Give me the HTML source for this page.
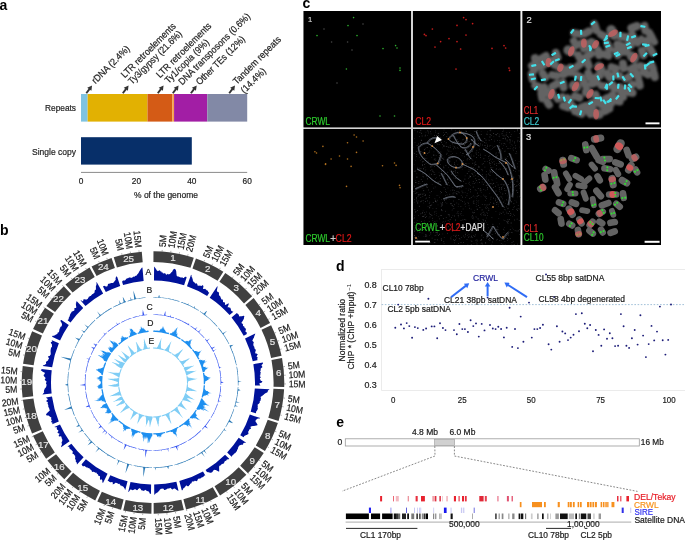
<!DOCTYPE html>
<html><head><meta charset="utf-8"><style>
html,body{margin:0;padding:0;background:#fff;}
svg{display:block;font-family:"Liberation Sans",sans-serif;will-change:transform;}
</style></head><body>
<svg width="685" height="540" viewBox="0 0 685 540">
<rect width="685" height="540" fill="#fff"/>
<text x="-0.60" y="10.20" font-size="14" fill="#000" font-weight="bold">a</text>
<rect x="81.00" y="94" width="6.65" height="27.6" fill="#7fc3e1"/>
<rect x="87.65" y="94" width="59.83" height="27.6" fill="#e2b102"/>
<rect x="147.48" y="94" width="24.93" height="27.6" fill="#d45b16"/>
<rect x="172.41" y="94" width="1.66" height="27.6" fill="#f6a24a"/>
<rect x="174.07" y="94" width="33.24" height="27.6" fill="#a21ea5"/>
<rect x="207.31" y="94" width="39.89" height="27.6" fill="#8289a6"/>
<rect x="81.0" y="137.2" width="110.80" height="27.4" fill="#072f69"/>
<line x1="81.0" y1="172.4" x2="247.20" y2="172.4" stroke="#8a8a8a" stroke-width="1"/>
<text x="81.00" y="184.46" font-size="8.3" fill="#222" stroke="#222" stroke-width="0.2" text-anchor="middle">0</text>
<text x="136.40" y="184.46" font-size="8.3" fill="#222" stroke="#222" stroke-width="0.2" text-anchor="middle">20</text>
<text x="191.80" y="184.46" font-size="8.3" fill="#222" stroke="#222" stroke-width="0.2" text-anchor="middle">40</text>
<text x="247.20" y="184.46" font-size="8.3" fill="#222" stroke="#222" stroke-width="0.2" text-anchor="middle">60</text>
<text x="166.00" y="197.96" font-size="8.6" fill="#222" stroke="#222" stroke-width="0.2" text-anchor="middle" textLength="64.00" lengthAdjust="spacingAndGlyphs">% of the genome</text>
<text x="76.00" y="111.33" font-size="9.4" fill="#222" stroke="#222" stroke-width="0.2" text-anchor="end" textLength="31.00" lengthAdjust="spacingAndGlyphs">Repeats</text>
<text x="76.00" y="155.03" font-size="9.4" fill="#222" stroke="#222" stroke-width="0.2" text-anchor="end" textLength="44.00" lengthAdjust="spacingAndGlyphs">Single copy</text>
<text transform="translate(95.40,84.30) rotate(-45)" font-size="9.6" fill="#222" stroke="#222" stroke-width="0.2" textLength="49.4" lengthAdjust="spacingAndGlyphs">rDNA (2.4%)</text>
<text transform="translate(124.70,78.60) rotate(-45)" font-size="9.6" fill="#222" stroke="#222" stroke-width="0.2" textLength="73.3" lengthAdjust="spacingAndGlyphs">LTR retroelements</text>
<text transform="translate(132.00,85.00) rotate(-45)" font-size="9.6" fill="#222" stroke="#222" stroke-width="0.2" textLength="71.4" lengthAdjust="spacingAndGlyphs">Ty3/gypsy (21.6%)</text>
<text transform="translate(159.90,78.60) rotate(-45)" font-size="9.6" fill="#222" stroke="#222" stroke-width="0.2" textLength="73.6" lengthAdjust="spacingAndGlyphs">LTR retroelements</text>
<text transform="translate(168.60,84.10) rotate(-45)" font-size="9.6" fill="#222" stroke="#222" stroke-width="0.2" textLength="58.2" lengthAdjust="spacingAndGlyphs">Ty1/copia (9%)</text>
<text transform="translate(182.20,85.60) rotate(-45)" font-size="9.6" fill="#222" stroke="#222" stroke-width="0.2" textLength="97" lengthAdjust="spacingAndGlyphs">DNA transposons (0.6%)</text>
<text transform="translate(199.80,85.60) rotate(-45)" font-size="9.6" fill="#222" stroke="#222" stroke-width="0.2" textLength="64.8" lengthAdjust="spacingAndGlyphs">Other TEs (12%)</text>
<text transform="translate(236.80,85.00) rotate(-45)" font-size="9.6" fill="#222" stroke="#222" stroke-width="0.2" textLength="63.3" lengthAdjust="spacingAndGlyphs">Tandem repeats</text>
<text transform="translate(244.40,93.90) rotate(-45)" font-size="9.6" fill="#222" stroke="#222" stroke-width="0.2" textLength="31.5" lengthAdjust="spacingAndGlyphs">(14.4%)</text>
<line x1="86.30" y1="93.20" x2="89.61" y2="88.81" stroke="#333" stroke-width="1.9"/>
<polygon points="92.08,85.53 91.39,90.77 87.23,87.64" fill="#333"/>
<line x1="122.80" y1="93.20" x2="126.11" y2="88.81" stroke="#333" stroke-width="1.9"/>
<polygon points="128.58,85.53 127.89,90.77 123.73,87.64" fill="#333"/>
<line x1="157.80" y1="93.20" x2="161.11" y2="88.81" stroke="#333" stroke-width="1.9"/>
<polygon points="163.58,85.53 162.89,90.77 158.73,87.64" fill="#333"/>
<line x1="172.80" y1="93.20" x2="176.11" y2="88.81" stroke="#333" stroke-width="1.9"/>
<polygon points="178.58,85.53 177.89,90.77 173.73,87.64" fill="#333"/>
<line x1="190.90" y1="93.20" x2="194.21" y2="88.81" stroke="#333" stroke-width="1.9"/>
<polygon points="196.68,85.53 195.99,90.77 191.83,87.64" fill="#333"/>
<line x1="229.20" y1="93.20" x2="232.51" y2="88.81" stroke="#333" stroke-width="1.9"/>
<polygon points="234.98,85.53 234.29,90.77 230.13,87.64" fill="#333"/>
<text x="0.00" y="235.00" font-size="14" fill="#000" font-weight="bold">b</text>
<path d="M153.46,251.20 A131.3,131.3 0 0 1 193.79,257.70 L190.47,267.87 A120.6,120.6 0 0 0 153.42,261.90 Z M195.96,258.43 A131.3,131.3 0 0 1 223.35,271.64 L217.62,280.67 A120.6,120.6 0 0 0 192.46,268.54 Z M225.28,272.88 A131.3,131.3 0 0 1 252.09,296.36 L244.02,303.38 A120.6,120.6 0 0 0 219.39,281.82 Z M253.58,298.10 A131.3,131.3 0 0 1 270.09,323.10 L260.55,327.94 A120.6,120.6 0 0 0 245.38,304.98 Z M271.11,325.15 A131.3,131.3 0 0 1 281.57,355.87 L271.09,358.04 A120.6,120.6 0 0 0 261.49,329.82 Z M282.02,358.12 A131.3,131.3 0 0 1 284.22,387.08 L273.53,386.71 A120.6,120.6 0 0 0 271.50,360.11 Z M284.12,389.37 A131.3,131.3 0 0 1 278.56,420.89 L268.33,417.76 A120.6,120.6 0 0 0 273.43,388.81 Z M277.87,423.07 A131.3,131.3 0 0 1 264.95,451.10 L255.83,445.51 A120.6,120.6 0 0 0 267.70,419.77 Z M263.74,453.05 A131.3,131.3 0 0 1 247.93,473.21 L240.19,465.82 A120.6,120.6 0 0 0 254.71,447.30 Z M246.33,474.86 A131.3,131.3 0 0 1 220.03,495.40 L214.57,486.20 A120.6,120.6 0 0 0 238.72,467.33 Z M218.05,496.55 A131.3,131.3 0 0 1 186.10,509.56 L183.40,499.21 A120.6,120.6 0 0 0 212.75,487.26 Z M183.87,510.12 A131.3,131.3 0 0 1 153.69,513.80 L153.63,503.10 A120.6,120.6 0 0 0 181.36,499.72 Z M151.40,513.79 A131.3,131.3 0 0 1 123.24,510.38 L125.67,499.96 A120.6,120.6 0 0 0 151.53,503.09 Z M121.01,509.84 A131.3,131.3 0 0 1 97.30,501.40 L101.84,491.71 A120.6,120.6 0 0 0 123.62,499.47 Z M95.24,500.41 A131.3,131.3 0 0 1 66.00,480.84 L73.09,472.82 A120.6,120.6 0 0 0 99.94,490.80 Z M64.30,479.30 A131.3,131.3 0 0 1 47.45,460.60 L56.05,454.24 A120.6,120.6 0 0 0 71.52,471.42 Z M46.11,458.75 A131.3,131.3 0 0 1 32.96,435.70 L42.74,431.36 A120.6,120.6 0 0 0 54.82,452.53 Z M32.05,433.59 A131.3,131.3 0 0 1 22.85,399.87 L33.46,398.45 A120.6,120.6 0 0 0 41.91,429.43 Z M22.57,397.59 A131.3,131.3 0 0 1 22.74,366.04 L33.35,367.38 A120.6,120.6 0 0 0 33.20,396.36 Z M23.04,363.77 A131.3,131.3 0 0 1 32.14,331.20 L41.99,335.38 A120.6,120.6 0 0 0 33.63,365.30 Z M33.05,329.10 A131.3,131.3 0 0 1 45.05,307.75 L53.85,313.84 A120.6,120.6 0 0 0 42.83,333.45 Z M46.37,305.88 A131.3,131.3 0 0 1 63.79,286.16 L71.06,294.01 A120.6,120.6 0 0 0 55.06,312.12 Z M65.48,284.62 A131.3,131.3 0 0 1 89.55,267.55 L94.72,276.92 A120.6,120.6 0 0 0 72.62,292.60 Z M91.56,266.46 A131.3,131.3 0 0 1 111.56,257.91 L114.93,268.07 A120.6,120.6 0 0 0 96.57,275.92 Z M113.74,257.21 A131.3,131.3 0 0 1 141.78,251.68 L142.70,262.34 A120.6,120.6 0 0 0 116.94,267.42 Z" fill="#404040"/>
<text x="173.07" y="261.28" font-size="9.8" fill="#e6e6e6" stroke="#e6e6e6" stroke-width="0.2" text-anchor="middle">1</text>
<text x="207.83" y="272.20" font-size="9.8" fill="#e6e6e6" stroke="#e6e6e6" stroke-width="0.2" text-anchor="middle">2</text>
<text x="236.13" y="290.92" font-size="9.8" fill="#e6e6e6" stroke="#e6e6e6" stroke-width="0.2" text-anchor="middle">3</text>
<text x="258.30" y="316.31" font-size="9.8" fill="#e6e6e6" stroke="#e6e6e6" stroke-width="0.2" text-anchor="middle">4</text>
<text x="272.47" y="345.20" font-size="9.8" fill="#e6e6e6" stroke="#e6e6e6" stroke-width="0.2" text-anchor="middle">5</text>
<text x="278.84" y="376.30" font-size="9.8" fill="#e6e6e6" stroke="#e6e6e6" stroke-width="0.2" text-anchor="middle">6</text>
<text x="277.28" y="407.79" font-size="9.8" fill="#e6e6e6" stroke="#e6e6e6" stroke-width="0.2" text-anchor="middle">7</text>
<text x="267.61" y="438.71" font-size="9.8" fill="#e6e6e6" stroke="#e6e6e6" stroke-width="0.2" text-anchor="middle">8</text>
<text x="252.31" y="463.74" font-size="9.8" fill="#e6e6e6" stroke="#e6e6e6" stroke-width="0.2" text-anchor="middle">9</text>
<text x="230.70" y="485.32" font-size="9.8" fill="#e6e6e6" stroke="#e6e6e6" stroke-width="0.2" text-anchor="middle">10</text>
<text x="200.58" y="502.76" font-size="9.8" fill="#e6e6e6" stroke="#e6e6e6" stroke-width="0.2" text-anchor="middle">11</text>
<text x="168.27" y="511.14" font-size="9.8" fill="#e6e6e6" stroke="#e6e6e6" stroke-width="0.2" text-anchor="middle">12</text>
<text x="137.84" y="511.16" font-size="9.8" fill="#e6e6e6" stroke="#e6e6e6" stroke-width="0.2" text-anchor="middle">13</text>
<text x="110.67" y="504.76" font-size="9.8" fill="#e6e6e6" stroke="#e6e6e6" stroke-width="0.2" text-anchor="middle">14</text>
<text x="82.80" y="490.74" font-size="9.8" fill="#e6e6e6" stroke="#e6e6e6" stroke-width="0.2" text-anchor="middle">15</text>
<text x="59.22" y="470.32" font-size="9.8" fill="#e6e6e6" stroke="#e6e6e6" stroke-width="0.2" text-anchor="middle">16</text>
<text x="43.38" y="448.40" font-size="9.8" fill="#e6e6e6" stroke="#e6e6e6" stroke-width="0.2" text-anchor="middle">17</text>
<text x="31.24" y="419.07" font-size="9.8" fill="#e6e6e6" stroke="#e6e6e6" stroke-width="0.2" text-anchor="middle">18</text>
<text x="26.80" y="385.21" font-size="9.8" fill="#e6e6e6" stroke="#e6e6e6" stroke-width="0.2" text-anchor="middle">19</text>
<text x="31.45" y="351.93" font-size="9.8" fill="#e6e6e6" stroke="#e6e6e6" stroke-width="0.2" text-anchor="middle">20</text>
<text x="43.00" y="324.02" font-size="9.8" fill="#e6e6e6" stroke="#e6e6e6" stroke-width="0.2" text-anchor="middle">21</text>
<text x="58.41" y="302.33" font-size="9.8" fill="#e6e6e6" stroke="#e6e6e6" stroke-width="0.2" text-anchor="middle">22</text>
<text x="79.98" y="282.94" font-size="9.8" fill="#e6e6e6" stroke="#e6e6e6" stroke-width="0.2" text-anchor="middle">23</text>
<text x="103.39" y="269.83" font-size="9.8" fill="#e6e6e6" stroke="#e6e6e6" stroke-width="0.2" text-anchor="middle">24</text>
<text x="128.60" y="262.05" font-size="9.8" fill="#e6e6e6" stroke="#e6e6e6" stroke-width="0.2" text-anchor="middle">25</text>
<text transform="translate(162.41,247.03) rotate(-86.03)" font-size="9.6" fill="#1a1a1a" stroke="#1a1a1a" stroke-width="0.2" dy="3.3" textLength="12.00" lengthAdjust="spacingAndGlyphs">5M</text>
<text transform="translate(171.31,247.94) rotate(-82.25)" font-size="9.6" fill="#1a1a1a" stroke="#1a1a1a" stroke-width="0.2" dy="3.3" textLength="16.81" lengthAdjust="spacingAndGlyphs">10M</text>
<text transform="translate(180.13,249.44) rotate(-78.47)" font-size="9.6" fill="#1a1a1a" stroke="#1a1a1a" stroke-width="0.2" dy="3.3" textLength="16.81" lengthAdjust="spacingAndGlyphs">15M</text>
<text transform="translate(188.83,251.51) rotate(-74.70)" font-size="9.6" fill="#1a1a1a" stroke="#1a1a1a" stroke-width="0.2" dy="3.3" textLength="16.81" lengthAdjust="spacingAndGlyphs">20M</text>
<text transform="translate(205.79,257.38) rotate(-67.12)" font-size="9.6" fill="#1a1a1a" stroke="#1a1a1a" stroke-width="0.2" dy="3.3" textLength="12.00" lengthAdjust="spacingAndGlyphs">5M</text>
<text transform="translate(213.91,261.13) rotate(-63.35)" font-size="9.6" fill="#1a1a1a" stroke="#1a1a1a" stroke-width="0.2" dy="3.3" textLength="16.81" lengthAdjust="spacingAndGlyphs">10M</text>
<text transform="translate(221.77,265.40) rotate(-59.58)" font-size="9.6" fill="#1a1a1a" stroke="#1a1a1a" stroke-width="0.2" dy="3.3" textLength="16.81" lengthAdjust="spacingAndGlyphs">15M</text>
<text transform="translate(235.06,274.30) rotate(-52.83)" font-size="9.6" fill="#1a1a1a" stroke="#1a1a1a" stroke-width="0.2" dy="3.3" textLength="12.00" lengthAdjust="spacingAndGlyphs">5M</text>
<text transform="translate(242.00,279.93) rotate(-49.05)" font-size="9.6" fill="#1a1a1a" stroke="#1a1a1a" stroke-width="0.2" dy="3.3" textLength="16.81" lengthAdjust="spacingAndGlyphs">10M</text>
<text transform="translate(248.56,286.02) rotate(-45.28)" font-size="9.6" fill="#1a1a1a" stroke="#1a1a1a" stroke-width="0.2" dy="3.3" textLength="16.81" lengthAdjust="spacingAndGlyphs">15M</text>
<text transform="translate(254.71,292.52) rotate(-41.50)" font-size="9.6" fill="#1a1a1a" stroke="#1a1a1a" stroke-width="0.2" dy="3.3" textLength="16.81" lengthAdjust="spacingAndGlyphs">20M</text>
<text transform="translate(262.55,302.25) rotate(-36.23)" font-size="9.6" fill="#1a1a1a" stroke="#1a1a1a" stroke-width="0.2" dy="3.3" textLength="12.00" lengthAdjust="spacingAndGlyphs">5M</text>
<text transform="translate(267.60,309.63) rotate(-32.45)" font-size="9.6" fill="#1a1a1a" stroke="#1a1a1a" stroke-width="0.2" dy="3.3" textLength="16.81" lengthAdjust="spacingAndGlyphs">10M</text>
<text transform="translate(272.14,317.34) rotate(-28.67)" font-size="9.6" fill="#1a1a1a" stroke="#1a1a1a" stroke-width="0.2" dy="3.3" textLength="16.81" lengthAdjust="spacingAndGlyphs">15M</text>
<text transform="translate(278.80,331.35) rotate(-22.12)" font-size="9.6" fill="#1a1a1a" stroke="#1a1a1a" stroke-width="0.2" dy="3.3" textLength="12.00" lengthAdjust="spacingAndGlyphs">5M</text>
<text transform="translate(281.89,339.75) rotate(-18.35)" font-size="9.6" fill="#1a1a1a" stroke="#1a1a1a" stroke-width="0.2" dy="3.3" textLength="16.81" lengthAdjust="spacingAndGlyphs">10M</text>
<text transform="translate(284.43,348.33) rotate(-14.58)" font-size="9.6" fill="#1a1a1a" stroke="#1a1a1a" stroke-width="0.2" dy="3.3" textLength="16.81" lengthAdjust="spacingAndGlyphs">15M</text>
<text transform="translate(287.81,366.13) rotate(-6.92)" font-size="9.6" fill="#1a1a1a" stroke="#1a1a1a" stroke-width="0.2" dy="3.3" textLength="12.00" lengthAdjust="spacingAndGlyphs">5M</text>
<text transform="translate(288.59,375.04) rotate(-3.15)" font-size="9.6" fill="#1a1a1a" stroke="#1a1a1a" stroke-width="0.2" dy="3.3" textLength="16.81" lengthAdjust="spacingAndGlyphs">10M</text>
<text transform="translate(288.79,383.98) rotate(0.62)" font-size="9.6" fill="#1a1a1a" stroke="#1a1a1a" stroke-width="0.2" dy="3.3" textLength="16.81" lengthAdjust="spacingAndGlyphs">15M</text>
<text transform="translate(287.85,398.52) rotate(6.78)" font-size="9.6" fill="#1a1a1a" stroke="#1a1a1a" stroke-width="0.2" dy="3.3" textLength="12.00" lengthAdjust="spacingAndGlyphs">5M</text>
<text transform="translate(286.50,407.36) rotate(10.55)" font-size="9.6" fill="#1a1a1a" stroke="#1a1a1a" stroke-width="0.2" dy="3.3" textLength="16.81" lengthAdjust="spacingAndGlyphs">10M</text>
<text transform="translate(284.58,416.10) rotate(14.33)" font-size="9.6" fill="#1a1a1a" stroke="#1a1a1a" stroke-width="0.2" dy="3.3" textLength="16.81" lengthAdjust="spacingAndGlyphs">15M</text>
<text transform="translate(279.11,432.88) rotate(21.78)" font-size="9.6" fill="#1a1a1a" stroke="#1a1a1a" stroke-width="0.2" dy="3.3" textLength="12.00" lengthAdjust="spacingAndGlyphs">5M</text>
<text transform="translate(275.52,441.07) rotate(25.55)" font-size="9.6" fill="#1a1a1a" stroke="#1a1a1a" stroke-width="0.2" dy="3.3" textLength="16.81" lengthAdjust="spacingAndGlyphs">10M</text>
<text transform="translate(271.40,449.01) rotate(29.33)" font-size="9.6" fill="#1a1a1a" stroke="#1a1a1a" stroke-width="0.2" dy="3.3" textLength="16.81" lengthAdjust="spacingAndGlyphs">15M</text>
<text transform="translate(262.61,462.67) rotate(36.18)" font-size="9.6" fill="#1a1a1a" stroke="#1a1a1a" stroke-width="0.2" dy="3.3" textLength="12.00" lengthAdjust="spacingAndGlyphs">5M</text>
<text transform="translate(257.23,469.55) rotate(39.87)" font-size="9.6" fill="#1a1a1a" stroke="#1a1a1a" stroke-width="0.2" dy="3.3" textLength="16.81" lengthAdjust="spacingAndGlyphs">10M</text>
<text transform="translate(251.42,476.06) rotate(43.55)" font-size="9.6" fill="#1a1a1a" stroke="#1a1a1a" stroke-width="0.2" dy="3.3" textLength="16.81" lengthAdjust="spacingAndGlyphs">15M</text>
<text transform="translate(243.03,484.17) rotate(48.47)" font-size="9.6" fill="#1a1a1a" stroke="#1a1a1a" stroke-width="0.2" dy="3.3" textLength="12.00" lengthAdjust="spacingAndGlyphs">5M</text>
<text transform="translate(236.14,489.88) rotate(52.25)" font-size="9.6" fill="#1a1a1a" stroke="#1a1a1a" stroke-width="0.2" dy="3.3" textLength="16.81" lengthAdjust="spacingAndGlyphs">10M</text>
<text transform="translate(228.89,495.12) rotate(56.02)" font-size="9.6" fill="#1a1a1a" stroke="#1a1a1a" stroke-width="0.2" dy="3.3" textLength="16.81" lengthAdjust="spacingAndGlyphs">15M</text>
<text transform="translate(212.45,504.60) rotate(64.04)" font-size="9.6" fill="#1a1a1a" stroke="#1a1a1a" stroke-width="0.2" dy="3.3" textLength="12.00" lengthAdjust="spacingAndGlyphs">5M</text>
<text transform="translate(204.37,508.21) rotate(67.78)" font-size="9.6" fill="#1a1a1a" stroke="#1a1a1a" stroke-width="0.2" dy="3.3" textLength="16.81" lengthAdjust="spacingAndGlyphs">10M</text>
<text transform="translate(196.06,511.29) rotate(71.51)" font-size="9.6" fill="#1a1a1a" stroke="#1a1a1a" stroke-width="0.2" dy="3.3" textLength="16.81" lengthAdjust="spacingAndGlyphs">15M</text>
<text transform="translate(187.57,513.82) rotate(75.25)" font-size="9.6" fill="#1a1a1a" stroke="#1a1a1a" stroke-width="0.2" dy="3.3" textLength="16.81" lengthAdjust="spacingAndGlyphs">20M</text>
<text transform="translate(176.17,516.31) rotate(80.18)" font-size="9.6" fill="#1a1a1a" stroke="#1a1a1a" stroke-width="0.2" dy="3.3" textLength="12.00" lengthAdjust="spacingAndGlyphs">5M</text>
<text transform="translate(167.31,517.54) rotate(83.95)" font-size="9.6" fill="#1a1a1a" stroke="#1a1a1a" stroke-width="0.2" dy="3.3" textLength="16.81" lengthAdjust="spacingAndGlyphs">10M</text>
<text transform="translate(158.39,518.19) rotate(87.72)" font-size="9.6" fill="#1a1a1a" stroke="#1a1a1a" stroke-width="0.2" dy="3.3" textLength="16.81" lengthAdjust="spacingAndGlyphs">15M</text>
<text transform="translate(142.40,517.89) rotate(274.48)" font-size="9.6" fill="#1a1a1a" stroke="#1a1a1a" stroke-width="0.2" dy="3.3" text-anchor="end" textLength="12.00" lengthAdjust="spacingAndGlyphs">5M</text>
<text transform="translate(133.51,516.89) rotate(278.25)" font-size="9.6" fill="#1a1a1a" stroke="#1a1a1a" stroke-width="0.2" dy="3.3" text-anchor="end" textLength="16.81" lengthAdjust="spacingAndGlyphs">10M</text>
<text transform="translate(124.71,515.32) rotate(282.02)" font-size="9.6" fill="#1a1a1a" stroke="#1a1a1a" stroke-width="0.2" dy="3.3" text-anchor="end" textLength="16.81" lengthAdjust="spacingAndGlyphs">15M</text>
<text transform="translate(111.32,511.74) rotate(287.88)" font-size="9.6" fill="#1a1a1a" stroke="#1a1a1a" stroke-width="0.2" dy="3.3" text-anchor="end" textLength="12.00" lengthAdjust="spacingAndGlyphs">5M</text>
<text transform="translate(102.90,508.72) rotate(291.65)" font-size="9.6" fill="#1a1a1a" stroke="#1a1a1a" stroke-width="0.2" dy="3.3" text-anchor="end" textLength="16.81" lengthAdjust="spacingAndGlyphs">10M</text>
<text transform="translate(85.36,500.25) rotate(299.88)" font-size="9.6" fill="#1a1a1a" stroke="#1a1a1a" stroke-width="0.2" dy="3.3" text-anchor="end" textLength="12.00" lengthAdjust="spacingAndGlyphs">5M</text>
<text transform="translate(77.75,495.55) rotate(303.65)" font-size="9.6" fill="#1a1a1a" stroke="#1a1a1a" stroke-width="0.2" dy="3.3" text-anchor="end" textLength="16.81" lengthAdjust="spacingAndGlyphs">10M</text>
<text transform="translate(70.47,490.35) rotate(307.42)" font-size="9.6" fill="#1a1a1a" stroke="#1a1a1a" stroke-width="0.2" dy="3.3" text-anchor="end" textLength="16.81" lengthAdjust="spacingAndGlyphs">15M</text>
<text transform="translate(63.55,484.68) rotate(311.20)" font-size="9.6" fill="#1a1a1a" stroke="#1a1a1a" stroke-width="0.2" dy="3.3" text-anchor="end" textLength="16.81" lengthAdjust="spacingAndGlyphs">20M</text>
<text transform="translate(54.86,476.36) rotate(316.27)" font-size="9.6" fill="#1a1a1a" stroke="#1a1a1a" stroke-width="0.2" dy="3.3" text-anchor="end" textLength="12.00" lengthAdjust="spacingAndGlyphs">5M</text>
<text transform="translate(48.90,469.70) rotate(320.05)" font-size="9.6" fill="#1a1a1a" stroke="#1a1a1a" stroke-width="0.2" dy="3.3" text-anchor="end" textLength="16.81" lengthAdjust="spacingAndGlyphs">10M</text>
<text transform="translate(37.49,453.91) rotate(328.27)" font-size="9.6" fill="#1a1a1a" stroke="#1a1a1a" stroke-width="0.2" dy="3.3" text-anchor="end" textLength="12.00" lengthAdjust="spacingAndGlyphs">5M</text>
<text transform="translate(33.04,446.15) rotate(332.05)" font-size="9.6" fill="#1a1a1a" stroke="#1a1a1a" stroke-width="0.2" dy="3.3" text-anchor="end" textLength="16.81" lengthAdjust="spacingAndGlyphs">10M</text>
<text transform="translate(29.11,438.11) rotate(335.82)" font-size="9.6" fill="#1a1a1a" stroke="#1a1a1a" stroke-width="0.2" dy="3.3" text-anchor="end" textLength="16.81" lengthAdjust="spacingAndGlyphs">15M</text>
<text transform="translate(24.70,426.99) rotate(340.88)" font-size="9.6" fill="#1a1a1a" stroke="#1a1a1a" stroke-width="0.2" dy="3.3" text-anchor="end" textLength="12.00" lengthAdjust="spacingAndGlyphs">5M</text>
<text transform="translate(22.04,418.45) rotate(344.65)" font-size="9.6" fill="#1a1a1a" stroke="#1a1a1a" stroke-width="0.2" dy="3.3" text-anchor="end" textLength="16.81" lengthAdjust="spacingAndGlyphs">10M</text>
<text transform="translate(19.96,409.75) rotate(348.43)" font-size="9.6" fill="#1a1a1a" stroke="#1a1a1a" stroke-width="0.2" dy="3.3" text-anchor="end" textLength="16.81" lengthAdjust="spacingAndGlyphs">15M</text>
<text transform="translate(18.46,400.93) rotate(352.20)" font-size="9.6" fill="#1a1a1a" stroke="#1a1a1a" stroke-width="0.2" dy="3.3" text-anchor="end" textLength="16.81" lengthAdjust="spacingAndGlyphs">20M</text>
<text transform="translate(17.37,389.19) rotate(357.17)" font-size="9.6" fill="#1a1a1a" stroke="#1a1a1a" stroke-width="0.2" dy="3.3" text-anchor="end" textLength="12.00" lengthAdjust="spacingAndGlyphs">5M</text>
<text transform="translate(17.22,380.25) rotate(360.95)" font-size="9.6" fill="#1a1a1a" stroke="#1a1a1a" stroke-width="0.2" dy="3.3" text-anchor="end" textLength="16.81" lengthAdjust="spacingAndGlyphs">10M</text>
<text transform="translate(17.66,371.31) rotate(364.72)" font-size="9.6" fill="#1a1a1a" stroke="#1a1a1a" stroke-width="0.2" dy="3.3" text-anchor="end" textLength="16.81" lengthAdjust="spacingAndGlyphs">15M</text>
<text transform="translate(20.16,354.32) rotate(371.97)" font-size="9.6" fill="#1a1a1a" stroke="#1a1a1a" stroke-width="0.2" dy="3.3" text-anchor="end" textLength="12.00" lengthAdjust="spacingAndGlyphs">5M</text>
<text transform="translate(22.30,345.64) rotate(375.75)" font-size="9.6" fill="#1a1a1a" stroke="#1a1a1a" stroke-width="0.2" dy="3.3" text-anchor="end" textLength="16.81" lengthAdjust="spacingAndGlyphs">10M</text>
<text transform="translate(25.01,337.11) rotate(379.52)" font-size="9.6" fill="#1a1a1a" stroke="#1a1a1a" stroke-width="0.2" dy="3.3" text-anchor="end" textLength="16.81" lengthAdjust="spacingAndGlyphs">15M</text>
<text transform="translate(32.56,319.76) rotate(387.52)" font-size="9.6" fill="#1a1a1a" stroke="#1a1a1a" stroke-width="0.2" dy="3.3" text-anchor="end" textLength="12.00" lengthAdjust="spacingAndGlyphs">5M</text>
<text transform="translate(36.64,312.49) rotate(391.03)" font-size="9.6" fill="#1a1a1a" stroke="#1a1a1a" stroke-width="0.2" dy="3.3" text-anchor="end" textLength="16.81" lengthAdjust="spacingAndGlyphs">10M</text>
<text transform="translate(41.15,305.48) rotate(394.55)" font-size="9.6" fill="#1a1a1a" stroke="#1a1a1a" stroke-width="0.2" dy="3.3" text-anchor="end" textLength="16.81" lengthAdjust="spacingAndGlyphs">15M</text>
<text transform="translate(48.18,296.17) rotate(399.47)" font-size="9.6" fill="#1a1a1a" stroke="#1a1a1a" stroke-width="0.2" dy="3.3" text-anchor="end" textLength="12.00" lengthAdjust="spacingAndGlyphs">5M</text>
<text transform="translate(54.09,289.45) rotate(403.25)" font-size="9.6" fill="#1a1a1a" stroke="#1a1a1a" stroke-width="0.2" dy="3.3" text-anchor="end" textLength="16.81" lengthAdjust="spacingAndGlyphs">10M</text>
<text transform="translate(60.43,283.14) rotate(407.02)" font-size="9.6" fill="#1a1a1a" stroke="#1a1a1a" stroke-width="0.2" dy="3.3" text-anchor="end" textLength="16.81" lengthAdjust="spacingAndGlyphs">15M</text>
<text transform="translate(69.35,275.52) rotate(411.97)" font-size="9.6" fill="#1a1a1a" stroke="#1a1a1a" stroke-width="0.2" dy="3.3" text-anchor="end" textLength="12.00" lengthAdjust="spacingAndGlyphs">5M</text>
<text transform="translate(76.57,270.25) rotate(415.75)" font-size="9.6" fill="#1a1a1a" stroke="#1a1a1a" stroke-width="0.2" dy="3.3" text-anchor="end" textLength="16.81" lengthAdjust="spacingAndGlyphs">10M</text>
<text transform="translate(84.13,265.46) rotate(419.52)" font-size="9.6" fill="#1a1a1a" stroke="#1a1a1a" stroke-width="0.2" dy="3.3" text-anchor="end" textLength="16.81" lengthAdjust="spacingAndGlyphs">15M</text>
<text transform="translate(97.49,258.56) rotate(425.88)" font-size="9.6" fill="#1a1a1a" stroke="#1a1a1a" stroke-width="0.2" dy="3.3" text-anchor="end" textLength="12.00" lengthAdjust="spacingAndGlyphs">5M</text>
<text transform="translate(105.78,255.18) rotate(429.65)" font-size="9.6" fill="#1a1a1a" stroke="#1a1a1a" stroke-width="0.2" dy="3.3" text-anchor="end" textLength="16.81" lengthAdjust="spacingAndGlyphs">10M</text>
<text transform="translate(121.01,250.52) rotate(436.38)" font-size="9.6" fill="#1a1a1a" stroke="#1a1a1a" stroke-width="0.2" dy="3.3" text-anchor="end" textLength="12.00" lengthAdjust="spacingAndGlyphs">5M</text>
<text transform="translate(129.77,248.70) rotate(440.15)" font-size="9.6" fill="#1a1a1a" stroke="#1a1a1a" stroke-width="0.2" dy="3.3" text-anchor="end" textLength="16.81" lengthAdjust="spacingAndGlyphs">10M</text>
<text transform="translate(138.63,247.46) rotate(443.93)" font-size="9.6" fill="#1a1a1a" stroke="#1a1a1a" stroke-width="0.2" dy="3.3" text-anchor="end" textLength="16.81" lengthAdjust="spacingAndGlyphs">15M</text>
<path d="M162.10,251.52L162.21,249.92 M170.71,252.40L170.92,250.81 M179.23,253.85L179.55,252.28 M187.65,255.85L188.07,254.31 M204.04,261.53L204.66,260.05 M211.89,265.15L212.61,263.72 M219.49,269.28L220.30,267.90 M232.34,277.88L233.31,276.61 M239.05,283.33L240.10,282.12 M245.40,289.21L246.52,288.08 M251.34,295.50L252.54,294.44 M258.92,304.91L260.21,303.96 M263.80,312.05L265.15,311.19 M268.20,319.50L269.60,318.73 M274.63,333.05L276.11,332.45 M277.62,341.16L279.14,340.66 M280.07,349.46L281.62,349.06 M283.34,366.67L284.93,366.48 M284.10,375.29L285.70,375.20 M284.29,383.93L285.89,383.95 M283.38,397.99L284.97,398.18 M282.08,406.54L283.65,406.83 M280.22,414.99L281.77,415.38 M274.93,431.21L276.42,431.80 M271.46,439.13L272.90,439.82 M267.47,446.81L268.87,447.59 M258.98,460.02L260.27,460.96 M253.78,466.66L255.01,467.69 M248.16,472.96L249.32,474.07 M240.04,480.80L241.11,482.00 M233.38,486.32L234.36,487.58 M226.37,491.38L227.27,492.71 M210.48,500.55L211.18,501.99 M202.66,504.05L203.27,505.53 M194.63,507.02L195.14,508.54 M186.43,509.47L186.84,511.02 M175.40,511.87L175.68,513.45 M166.84,513.07L167.01,514.66 M158.21,513.70L158.28,515.30 M142.76,513.40L142.63,514.99 M134.16,512.44L133.93,514.02 M125.65,510.92L125.31,512.48 M112.70,507.46L112.21,508.98 M104.56,504.54L103.97,506.02 M87.60,496.35L86.80,497.74 M80.24,491.80L79.36,493.13 M73.21,486.77L72.23,488.04 M66.51,481.29L65.46,482.50 M58.11,473.25L56.96,474.36 M52.34,466.81L51.12,467.84 M41.32,451.54L39.96,452.38 M37.02,444.04L35.60,444.79 M33.22,436.27L31.76,436.93 M28.95,425.52L27.44,426.04 M26.38,417.26L24.84,417.68 M24.37,408.85L22.80,409.17 M22.91,400.32L21.33,400.54 M21.86,388.97L20.26,389.05 M21.72,380.32L20.12,380.30 M22.15,371.68L20.55,371.55 M24.56,355.26L22.99,354.93 M26.63,346.86L25.09,346.43 M29.25,338.62L27.74,338.08 M36.55,321.84L35.13,321.10 M40.49,314.81L39.12,313.99 M44.86,308.04L43.54,307.13 M51.65,299.03L50.41,298.01 M57.36,292.54L56.20,291.44 M63.50,286.43L62.40,285.26 M72.12,279.07L71.13,277.81 M79.10,273.97L78.20,272.65 M86.41,269.34L85.60,267.96 M99.33,262.67L98.68,261.21 M107.34,259.39L106.78,257.89 M122.07,254.90L121.69,253.34 M130.54,253.14L130.26,251.56 M139.10,251.94L138.94,250.35" stroke="#777" stroke-width="0.6"/>
<path d="M153.98,280.50 L154.11,266.58 L154.77,267.14 L155.42,268.15 L156.05,269.11 L156.67,270.13 L157.30,270.77 L157.93,271.21 L158.59,270.77 L159.25,270.62 L159.91,270.34 L160.48,271.61 L161.15,271.21 L161.70,272.42 L162.36,272.23 L162.90,273.35 L163.51,273.57 L164.17,273.31 L164.82,273.17 L165.43,273.51 L165.96,274.39 L166.56,274.63 L167.24,274.25 L167.96,273.69 L168.49,274.47 L169.15,274.29 L169.85,273.91 L170.61,273.15 L171.41,272.25 L172.14,271.82 L173.20,269.60 L173.94,269.21 L174.70,268.78 L175.28,269.30 L175.83,269.93 L176.21,271.34 L176.40,273.58 L176.66,275.39 L177.08,276.42 L177.75,276.30 L178.34,276.54 L178.93,276.79 L179.51,277.05 L180.08,277.34 L180.71,277.41 L181.33,277.54 L182.02,277.38 L182.64,277.53 L183.14,278.04 L183.82,277.97 L184.73,277.11 L185.51,276.75 L186.14,276.87 L186.62,277.48 L184.10,285.36 A102.0,102.0 0 0 0 153.98,280.50 Z M186.96,286.32 L191.03,274.81 L191.55,275.33 L191.61,277.08 L192.16,277.45 L192.41,278.61 L192.75,279.54 L192.92,280.84 L193.28,281.64 L193.93,281.71 L194.37,282.31 L194.76,282.99 L195.23,283.49 L195.89,283.53 L196.73,283.18 L197.01,284.07 L197.45,284.61 L197.66,285.66 L198.41,285.51 L198.89,285.94 L199.76,285.56 L200.34,285.79 L201.07,285.71 L201.57,286.11 L202.82,285.04 L203.20,285.69 L203.46,286.55 L202.96,288.82 L203.60,288.93 L204.31,288.91 L205.17,288.63 L205.50,289.32 L206.09,289.54 L206.40,290.24 L207.15,290.17 L207.50,290.80 L208.06,291.06 L208.12,292.15 L208.77,292.27 L209.23,292.69 L207.13,296.05 A102.0,102.0 0 0 0 186.96,286.32 Z M209.67,297.69 L217.40,286.12 L217.53,287.13 L217.19,288.80 L216.86,290.42 L217.00,291.35 L217.51,291.74 L218.05,292.10 L218.71,292.28 L218.96,293.03 L218.98,294.08 L218.94,295.19 L219.39,295.65 L220.02,295.85 L220.24,296.61 L220.61,297.15 L220.81,297.91 L221.12,298.52 L221.25,299.35 L221.94,299.49 L222.75,299.50 L222.94,300.23 L222.98,301.15 L223.04,302.02 L223.67,302.24 L224.46,302.28 L224.91,302.72 L225.02,303.52 L224.89,304.56 L225.39,304.93 L226.87,304.25 L228.61,303.33 L228.80,304.05 L228.14,305.63 L227.49,307.16 L228.18,307.34 L229.23,307.17 L229.45,307.82 L230.31,307.84 L230.52,308.50 L230.95,308.95 L230.87,309.87 L231.15,310.45 L231.59,310.88 L232.08,311.26 L232.64,311.59 L233.40,311.74 L229.57,315.11 A102.0,102.0 0 0 0 209.67,297.69 Z M231.54,317.41 L236.88,312.98 L237.15,313.57 L237.87,313.78 L238.30,314.23 L238.73,314.68 L238.90,315.35 L239.09,315.98 L239.43,316.50 L240.69,316.33 L241.99,316.14 L243.49,315.82 L244.38,315.96 L244.25,316.85 L243.93,317.86 L243.99,318.60 L243.21,319.91 L242.48,321.17 L241.43,322.63 L241.64,323.21 L242.35,323.47 L242.56,324.06 L243.15,324.41 L242.91,325.28 L243.07,325.90 L243.57,326.30 L244.23,326.61 L244.55,327.13 L244.53,327.85 L245.13,328.20 L245.65,328.60 L246.04,329.09 L245.68,329.99 L245.62,330.72 L245.42,331.52 L245.91,331.94 L246.37,332.37 L246.97,332.74 L246.74,333.54 L246.50,334.35 L243.68,335.80 A102.0,102.0 0 0 0 231.54,317.41 Z M245.03,338.51 L255.26,333.61 L255.03,334.44 L254.67,335.33 L254.35,336.18 L253.97,337.05 L253.96,337.75 L253.13,338.81 L252.77,339.64 L252.36,340.50 L252.52,341.10 L253.09,341.54 L253.59,342.00 L253.83,342.58 L253.51,343.37 L253.33,344.11 L253.34,344.76 L253.42,345.39 L253.73,345.93 L253.97,346.50 L254.54,346.95 L254.30,347.69 L254.72,348.20 L254.59,348.89 L255.40,349.27 L255.73,349.82 L255.72,350.47 L255.69,351.13 L254.99,351.98 L255.42,352.49 L255.00,353.25 L256.56,353.45 L256.97,353.97 L257.94,354.36 L257.08,355.22 L257.07,355.87 L256.46,356.65 L257.41,357.05 L257.58,357.65 L257.69,358.26 L256.75,359.10 L257.36,359.59 L257.94,360.10 L252.75,361.21 A102.0,102.0 0 0 0 245.03,338.51 Z M253.34,364.17 L262.90,362.43 L262.95,363.06 L262.87,363.72 L262.10,364.48 L261.32,365.24 L261.84,365.79 L262.09,366.38 L262.57,366.95 L261.69,367.70 L260.78,368.44 L260.58,369.09 L260.75,369.69 L260.78,370.30 L260.28,370.97 L260.13,371.60 L260.59,372.17 L260.84,372.76 L260.43,373.41 L260.39,374.03 L260.38,374.64 L260.38,375.25 L259.58,375.91 L260.31,376.47 L260.55,377.07 L260.73,377.67 L259.91,378.31 L259.94,378.92 L260.25,379.52 L260.60,380.12 L260.65,380.73 L262.39,381.32 L262.13,381.94 L261.84,382.55 L259.78,383.16 L259.15,383.75 L259.66,384.36 L259.98,384.98 L260.58,385.60 L254.96,385.44 A102.0,102.0 0 0 0 253.34,364.17 Z M254.83,388.46 L269.64,389.33 L268.63,389.93 L268.00,390.54 L267.73,391.17 L267.75,391.83 L267.15,392.43 L265.82,392.96 L265.08,393.53 L264.32,394.09 L263.63,394.65 L262.94,395.21 L262.40,395.77 L261.63,396.31 L260.74,396.81 L260.46,397.40 L261.07,398.10 L260.83,398.69 L260.78,399.31 L260.57,399.90 L260.79,400.56 L259.90,401.04 L259.74,401.63 L259.55,402.22 L259.93,402.92 L258.95,403.35 L258.76,403.94 L257.83,404.37 L257.67,404.96 L257.70,405.58 L257.73,406.21 L257.83,406.86 L257.52,407.41 L258.00,408.15 L257.63,408.69 L257.78,409.36 L257.25,409.86 L257.07,410.44 L256.52,410.92 L256.30,411.49 L255.97,412.03 L256.11,412.70 L255.84,413.26 L250.72,411.73 A102.0,102.0 0 0 0 254.83,388.46 Z M249.81,414.61 L260.28,418.08 L259.54,418.52 L257.86,418.62 L257.08,419.02 L256.47,419.47 L255.84,419.91 L255.60,420.49 L255.63,421.17 L255.48,421.79 L256.43,422.84 L256.95,423.72 L257.55,424.66 L257.31,425.26 L256.40,425.58 L255.16,425.75 L253.93,425.91 L252.76,426.09 L251.86,426.37 L250.76,426.55 L250.51,427.11 L250.72,427.89 L251.03,428.72 L250.40,429.10 L249.54,429.37 L249.18,429.88 L248.92,430.44 L248.83,431.08 L248.18,431.44 L248.21,432.15 L248.36,432.92 L248.47,433.68 L248.18,434.23 L247.26,434.43 L246.87,434.92 L245.96,435.12 L245.56,435.59 L244.64,435.76 L244.10,436.15 L243.96,436.77 L243.62,437.28 L240.29,435.26 A102.0,102.0 0 0 0 249.81,414.61 Z M238.69,437.83 L245.80,442.42 L245.54,443.00 L244.07,442.79 L243.65,443.27 L243.06,443.62 L243.10,444.40 L242.53,444.77 L241.27,444.65 L240.71,445.01 L239.86,445.15 L239.44,445.61 L238.93,445.99 L238.61,446.51 L238.49,447.19 L237.88,447.50 L238.07,448.42 L237.65,448.88 L237.52,449.56 L237.10,450.01 L236.98,450.71 L236.72,451.30 L236.29,451.75 L236.04,452.35 L235.45,452.66 L235.09,453.17 L234.37,453.37 L234.24,454.07 L233.64,454.37 L233.22,454.83 L232.66,455.15 L232.24,455.60 L232.01,456.24 L231.58,456.68 L227.17,452.52 A102.0,102.0 0 0 0 238.69,437.83 Z M225.06,454.69 L229.24,458.87 L228.85,459.37 L227.78,459.16 L227.33,459.58 L226.55,459.67 L226.42,460.42 L225.90,460.78 L225.35,461.09 L224.65,461.24 L224.58,462.08 L224.14,462.51 L224.04,463.34 L223.37,463.51 L223.01,464.05 L221.96,463.77 L221.63,464.33 L221.17,464.74 L220.83,465.30 L220.27,465.59 L219.53,465.65 L219.26,466.30 L219.10,467.10 L219.14,468.17 L219.14,469.21 L219.20,470.33 L219.20,471.39 L218.54,471.57 L217.19,470.81 L215.78,469.92 L215.11,470.06 L214.21,469.84 L213.89,470.47 L213.06,470.35 L212.98,471.33 L212.50,471.73 L212.12,472.28 L211.55,472.54 L210.97,472.79 L210.28,472.85 L209.31,472.46 L208.46,472.26 L207.64,472.08 L207.11,472.37 L205.61,469.89 A102.0,102.0 0 0 0 225.06,454.69 Z M202.99,471.41 L205.32,475.55 L204.64,475.57 L204.09,475.84 L203.78,476.53 L203.19,476.73 L202.76,477.22 L202.09,477.26 L201.55,477.54 L201.04,477.89 L200.52,478.21 L200.13,478.81 L199.36,478.62 L198.72,478.69 L198.12,478.85 L197.76,479.51 L197.44,480.27 L197.07,480.97 L196.56,481.32 L195.68,480.85 L195.11,481.07 L194.30,480.74 L194.02,481.64 L193.25,481.37 L192.69,481.61 L191.98,481.48 L191.74,482.53 L191.31,483.14 L190.89,483.76 L190.15,483.55 L189.93,484.76 L189.36,485.00 L188.95,485.70 L188.44,486.16 L187.79,486.16 L187.03,485.88 L186.17,485.22 L185.79,486.08 L185.29,486.56 L184.90,487.40 L184.26,487.44 L183.76,487.96 L183.29,488.62 L182.91,489.61 L182.46,490.36 L181.78,490.29 L179.31,481.05 A102.0,102.0 0 0 0 202.99,471.41 Z M176.38,481.78 L178.49,490.74 L177.83,490.76 L176.99,489.96 L176.31,489.80 L175.49,489.00 L174.75,488.52 L174.10,488.46 L173.51,488.70 L172.98,489.31 L172.37,489.47 L171.64,488.96 L170.90,488.29 L170.17,487.68 L169.65,488.37 L169.06,488.62 L168.41,488.44 L167.81,488.62 L167.21,488.78 L166.67,489.47 L165.97,488.94 L165.48,490.02 L164.83,489.91 L164.22,490.02 L163.45,488.65 L162.83,488.58 L162.22,488.68 L161.60,488.71 L160.99,488.78 L160.40,489.25 L159.82,489.86 L159.24,490.67 L158.64,491.13 L158.05,492.06 L157.44,492.62 L156.80,492.76 L156.18,493.19 L155.54,493.45 L154.92,494.60 L154.27,494.77 L154.16,484.49 A102.0,102.0 0 0 0 176.38,481.78 Z M151.13,484.48 L150.96,494.06 L150.33,493.84 L149.71,493.43 L149.13,492.03 L148.53,491.39 L147.93,491.06 L147.30,491.32 L146.71,490.79 L146.11,490.50 L145.56,489.63 L144.91,490.14 L144.27,490.42 L143.60,490.98 L143.02,490.61 L142.41,490.52 L141.80,490.39 L141.22,490.07 L140.71,489.08 L140.17,488.52 L139.63,487.98 L138.92,488.73 L138.30,488.75 L137.47,490.25 L136.93,489.73 L136.21,490.31 L135.77,489.20 L135.14,489.23 L134.51,489.26 L133.80,489.72 L133.12,490.02 L132.46,490.18 L131.91,489.77 L131.28,489.76 L130.74,489.28 L129.91,490.20 L129.01,491.38 L128.15,492.31 L130.49,481.98 A102.0,102.0 0 0 0 151.13,484.48 Z M127.55,481.27 L125.29,490.05 L124.82,489.37 L124.49,488.22 L124.01,487.64 L123.59,486.86 L122.97,486.82 L122.55,486.07 L121.83,486.37 L121.43,485.60 L120.73,485.80 L120.37,484.92 L119.87,484.51 L119.48,483.79 L118.85,483.78 L118.13,484.02 L117.63,483.61 L117.22,482.98 L116.61,482.91 L116.03,482.74 L115.43,482.64 L114.37,483.72 L113.62,483.99 L112.75,484.51 L112.87,482.56 L112.31,482.32 L111.81,481.95 L111.07,482.16 L110.36,482.27 L109.77,482.10 L109.25,481.77 L108.85,481.18 L108.26,481.00 L107.62,480.94 L110.30,475.13 A102.0,102.0 0 0 0 127.55,481.27 Z M107.57,473.82 L102.87,483.27 L102.55,482.48 L102.31,481.54 L102.31,480.16 L101.85,479.70 L101.33,479.34 L100.32,479.88 L100.04,479.08 L99.91,478.03 L100.09,476.45 L99.58,476.09 L98.87,476.09 L98.38,475.72 L98.18,474.84 L97.80,474.28 L97.27,473.98 L96.77,473.62 L96.53,472.86 L96.11,472.39 L95.22,472.65 L94.79,472.19 L94.19,471.99 L93.62,471.75 L92.88,471.75 L92.03,471.91 L91.82,471.13 L91.57,470.42 L91.12,469.99 L90.65,469.60 L89.91,469.58 L89.90,468.55 L89.17,468.52 L88.77,468.04 L87.93,468.13 L87.58,467.58 L86.97,467.37 L86.16,467.41 L85.87,466.78 L85.13,466.72 L84.96,465.95 L83.86,466.32 L83.11,466.25 L82.47,466.06 L82.15,465.47 L81.93,464.76 L81.43,464.39 L85.88,459.30 A102.0,102.0 0 0 0 107.57,473.82 Z M83.63,457.28 L77.00,464.43 L76.83,463.70 L76.89,462.72 L76.37,462.36 L75.90,461.95 L75.77,461.20 L75.85,460.24 L75.49,459.73 L75.37,458.99 L74.96,458.53 L75.31,457.35 L75.10,456.70 L75.21,455.77 L74.57,455.55 L74.34,454.94 L73.99,454.44 L73.54,454.05 L72.63,454.05 L72.53,453.33 L72.67,452.41 L72.79,451.52 L72.47,451.02 L71.99,450.64 L71.66,450.14 L71.15,449.79 L70.64,449.44 L70.27,448.97 L69.61,448.74 L69.53,448.04 L69.23,447.51 L69.26,446.74 L68.26,446.76 L67.47,446.60 L71.38,443.67 A102.0,102.0 0 0 0 83.63,457.28 Z M69.60,441.22 L61.09,447.21 L61.10,446.42 L61.59,445.30 L61.97,444.27 L61.85,443.58 L61.50,443.06 L61.65,442.20 L62.24,441.08 L62.37,440.25 L62.35,439.54 L61.88,439.10 L61.83,438.41 L61.66,437.79 L61.49,437.17 L61.27,436.59 L60.64,436.25 L59.16,436.38 L58.73,435.91 L58.73,435.19 L59.58,434.01 L59.24,433.50 L58.23,433.34 L57.64,432.96 L57.57,432.29 L58.30,431.22 L58.32,430.52 L58.01,429.99 L57.12,429.75 L56.91,429.16 L56.68,428.59 L57.11,427.70 L56.74,427.21 L55.43,427.13 L54.31,426.96 L60.00,424.39 A102.0,102.0 0 0 0 69.60,441.22 Z M58.80,421.62 L52.20,424.35 L52.36,423.61 L52.65,422.81 L51.64,422.54 L51.39,421.96 L51.09,421.40 L51.87,420.43 L51.64,419.85 L51.09,419.38 L51.17,418.69 L51.25,418.00 L51.26,417.33 L50.28,417.00 L49.79,416.51 L49.05,416.08 L48.48,415.60 L46.78,415.46 L46.23,414.96 L46.05,414.34 L46.68,413.48 L47.64,412.54 L48.74,411.57 L49.84,410.62 L49.59,410.05 L49.71,409.38 L48.98,408.93 L49.40,408.18 L48.67,407.72 L48.68,407.08 L48.10,406.58 L48.42,405.87 L48.16,405.29 L48.18,404.65 L47.69,404.12 L47.57,403.51 L47.88,402.81 L47.80,402.20 L47.09,401.70 L46.16,401.22 L46.58,400.52 L47.47,399.74 L47.89,399.05 L46.94,398.57 L46.53,398.00 L45.99,397.44 L51.98,396.61 A102.0,102.0 0 0 0 58.80,421.62 Z M51.61,393.60 L42.32,394.62 L42.82,393.93 L43.36,393.24 L44.05,392.54 L44.25,391.90 L43.77,391.31 L44.14,390.66 L43.93,390.05 L44.59,389.38 L44.61,388.75 L45.38,388.09 L45.79,387.46 L46.19,386.83 L46.30,386.21 L46.46,385.60 L46.63,384.98 L46.53,384.38 L46.10,383.77 L46.01,383.16 L46.24,382.55 L46.42,381.94 L46.49,381.33 L45.55,380.71 L44.97,380.08 L44.71,379.46 L45.27,378.86 L45.53,378.25 L45.26,377.62 L44.63,376.97 L44.09,376.32 L43.76,375.68 L43.54,375.03 L44.25,374.46 L44.52,373.85 L44.99,373.27 L44.82,372.63 L42.71,371.80 L41.83,371.08 L40.67,370.31 L41.50,369.75 L41.31,369.08 L51.73,370.33 A102.0,102.0 0 0 0 51.61,393.60 Z M52.13,367.34 L42.77,365.93 L43.21,365.35 L44.42,364.90 L45.13,364.38 L45.87,363.88 L46.26,363.32 L45.95,362.63 L45.98,362.00 L46.46,361.46 L47.30,360.99 L47.92,360.49 L48.30,359.95 L48.37,359.33 L48.79,358.80 L49.11,358.25 L48.33,357.43 L48.34,356.80 L48.18,356.12 L49.74,355.89 L50.02,355.33 L50.63,354.86 L50.60,354.23 L50.89,353.67 L50.49,352.93 L50.81,352.39 L50.28,351.59 L50.94,351.15 L50.42,350.35 L50.87,349.84 L50.58,349.10 L51.07,348.62 L50.99,347.94 L51.24,347.38 L51.83,346.93 L52.09,346.37 L52.02,345.69 L51.84,344.97 L51.98,344.36 L50.94,343.30 L50.90,342.61 L50.89,341.94 L52.39,341.86 L51.81,340.95 L51.90,340.31 L58.87,343.22 A102.0,102.0 0 0 0 52.13,367.34 Z M60.07,340.44 L52.00,336.79 L52.35,336.27 L52.56,335.67 L53.97,335.65 L54.81,335.37 L55.54,335.04 L55.82,334.50 L56.83,334.32 L57.38,333.92 L57.53,333.32 L57.50,332.63 L58.32,332.38 L58.82,331.95 L59.13,331.44 L59.18,330.78 L59.34,330.18 L59.44,329.54 L59.35,328.79 L60.16,328.56 L60.10,327.83 L60.36,327.27 L60.58,326.70 L61.37,326.47 L61.72,325.97 L61.86,325.34 L62.07,324.76 L61.86,323.91 L61.71,323.08 L60.56,321.59 L60.82,321.02 L60.45,320.01 L61.41,319.90 L68.79,324.95 A102.0,102.0 0 0 0 60.07,340.44 Z M70.53,322.47 L67.63,320.36 L67.88,319.80 L68.59,319.57 L68.47,318.73 L68.97,318.35 L68.81,317.46 L69.31,317.09 L69.47,316.43 L69.85,315.96 L69.83,315.16 L70.13,314.62 L70.24,313.92 L70.69,313.49 L70.95,312.91 L71.36,312.45 L71.61,311.85 L72.06,311.43 L72.78,311.25 L73.33,310.91 L73.96,310.66 L74.38,310.22 L74.45,309.45 L74.32,308.48 L74.65,307.95 L75.54,307.95 L76.13,307.67 L76.31,306.98 L76.02,305.83 L76.01,304.93 L75.77,303.80 L76.22,303.36 L76.15,302.37 L76.51,301.84 L76.61,301.01 L83.24,308.08 A102.0,102.0 0 0 0 70.53,322.47 Z M85.48,306.05 L80.45,300.35 L81.52,300.62 L83.04,301.42 L83.19,300.65 L83.33,299.85 L83.71,299.33 L84.36,299.15 L85.42,299.47 L86.17,299.41 L86.94,299.40 L87.33,298.90 L87.96,298.72 L88.11,297.91 L88.61,297.56 L88.79,296.78 L89.56,296.77 L89.69,295.92 L90.46,295.92 L91.06,295.71 L91.40,295.12 L91.91,294.78 L92.06,293.92 L92.98,294.17 L93.26,293.48 L93.92,293.36 L94.32,292.86 L94.61,292.17 L94.65,291.08 L94.88,290.27 L95.40,289.91 L95.85,289.45 L95.93,288.37 L95.88,287.06 L95.92,285.87 L96.36,285.33 L96.51,284.30 L96.49,282.94 L96.51,281.63 L103.16,293.51 A102.0,102.0 0 0 0 85.48,306.05 Z M105.82,292.07 L103.10,286.85 L103.37,286.03 L104.09,286.09 L104.63,285.79 L105.70,286.57 L106.31,286.43 L107.06,286.59 L107.46,286.03 L107.75,285.21 L107.94,284.16 L108.41,283.71 L109.06,283.66 L109.69,283.56 L110.29,283.40 L110.81,283.03 L111.47,283.03 L112.13,283.03 L112.83,283.11 L113.32,282.69 L113.78,282.20 L114.19,281.57 L114.73,281.25 L115.05,280.35 L115.68,280.25 L115.57,278.12 L115.97,277.36 L116.23,276.16 L117.22,277.10 L120.21,285.91 A102.0,102.0 0 0 0 105.82,292.07 Z M123.09,284.98 L122.01,281.44 L122.55,281.15 L122.96,280.41 L123.65,280.60 L124.27,280.55 L124.91,280.61 L125.40,280.08 L125.86,279.45 L126.29,278.69 L126.89,278.54 L127.43,278.20 L128.10,278.32 L128.58,277.70 L129.21,277.68 L129.73,277.20 L130.47,277.72 L131.03,277.39 L131.80,278.08 L132.30,277.47 L132.83,277.01 L133.40,276.70 L133.98,276.42 L134.66,276.74 L135.17,276.08 L135.76,275.86 L136.38,275.80 L136.88,275.00 L137.41,274.32 L137.96,273.76 L138.51,273.06 L139.01,272.02 L139.53,270.98 L140.09,270.23 L140.63,269.28 L141.21,268.52 L141.78,267.66 L142.44,267.60 L143.67,280.93 A102.0,102.0 0 0 0 123.09,284.98 Z" fill="#00129a"/>
<path d="M153.30,297.55 L153.30,297.14 L153.68,296.96 L154.06,296.98 L154.44,297.04 L154.82,297.14 L155.21,296.95 L155.59,296.96 L155.97,297.07 L156.35,297.09 L156.73,297.20 L157.10,297.30 L157.49,297.19 L157.88,297.13 L158.27,296.96 L158.74,295.64 L159.19,294.77 L159.49,295.99 L159.78,297.22 L160.17,297.15 L160.54,297.27 L160.93,297.26 L161.30,297.39 L161.66,297.63 L162.05,297.57 L162.43,297.55 L162.80,297.72 L163.21,297.48 L163.57,297.73 L163.93,297.85 L164.34,297.67 L164.69,297.96 L165.10,297.74 L165.46,297.95 L165.84,297.98 L166.21,298.11 L166.59,298.12 L166.95,298.28 L167.32,298.40 L167.74,298.18 L168.08,298.46 L168.49,298.34 L168.83,298.61 L169.25,298.42 L169.62,298.52 L169.99,298.64 L170.36,298.71 L170.72,298.85 L171.11,298.88 L171.43,299.17 L171.83,299.13 L172.23,299.10 L172.55,299.40 L172.98,299.24 L173.35,299.34 L173.68,299.60 L174.05,299.71 L174.43,299.77 L174.79,299.89 L175.21,299.78 L175.53,300.09 L175.86,300.31 L176.23,300.39 L176.66,300.29 L177.05,300.30 L177.37,300.57 L177.73,300.69 L178.11,300.78 L178.49,300.82 L178.80,301.11 L179.20,301.10 L179.56,301.24 L179.39,301.75 A84.95,84.95 0 0 0 153.30,297.55 Z M180.80,302.23 L180.93,301.84 L181.29,301.97 L181.67,302.03 L182.10,301.97 L182.39,302.29 L182.78,302.34 L183.10,302.57 L183.43,302.77 L183.78,302.92 L184.23,302.82 L184.58,302.97 L184.88,303.24 L185.28,303.28 L185.63,303.43 L186.01,303.51 L186.37,303.64 L186.65,303.96 L187.08,303.93 L187.43,304.09 L187.72,304.36 L188.61,303.32 L188.41,304.71 L188.74,304.90 L189.06,305.10 L189.50,305.07 L189.74,305.45 L190.07,305.65 L190.52,305.58 L190.86,305.76 L191.16,306.02 L191.56,306.08 L191.77,306.50 L192.14,306.61 L192.49,306.78 L192.85,306.91 L193.14,307.17 L193.46,307.38 L193.98,307.22 L195.17,305.86 L194.62,307.65 L194.91,307.91 L195.20,308.18 L195.49,308.43 L195.94,308.41 L196.20,308.73 L196.56,308.87 L196.77,309.27 L197.13,309.41 L197.57,309.42 L197.88,309.64 L198.22,309.81 L198.50,310.10 L198.79,310.35 L198.52,310.77 A84.95,84.95 0 0 0 180.80,302.23 Z M199.76,311.58 L200.10,311.06 L200.28,311.49 L200.72,311.51 L201.09,311.65 L201.22,312.13 L201.65,312.18 L201.98,312.39 L202.33,312.55 L202.59,312.84 L202.83,313.16 L203.17,313.34 L203.59,313.41 L204.24,313.18 L205.89,311.61 L207.11,310.64 L206.22,312.48 L205.31,314.30 L205.31,314.93 L205.55,315.25 L206.01,315.28 L206.26,315.58 L206.44,315.96 L206.83,316.09 L207.08,316.39 L207.41,316.58 L207.64,316.90 L207.92,317.16 L208.22,317.40 L208.55,317.60 L208.92,317.76 L209.17,318.05 L209.34,318.43 L209.78,318.51 L210.10,318.72 L210.36,319.00 L210.65,319.26 L210.75,319.72 L211.13,319.86 L211.32,320.22 L211.76,320.30 L211.90,320.71 L212.30,320.84 L212.47,321.22 L212.85,321.38 L213.03,321.74 L213.23,322.08 L213.59,322.26 L213.83,322.55 L214.25,322.68 L214.36,323.10 L214.68,323.32 L214.95,323.59 L215.32,323.77 L215.36,324.25 L215.75,324.41 L215.99,324.71 L216.30,324.94 L216.62,325.17 L216.70,325.61 L217.06,325.80 L217.26,326.13 L217.52,326.41 L217.11,326.77 A84.95,84.95 0 0 0 199.76,311.58 Z M218.08,327.90 L218.51,327.53 L218.68,327.89 L218.89,328.21 L219.09,328.54 L219.50,328.71 L219.67,329.06 L220.03,329.26 L220.21,329.61 L220.44,329.91 L220.73,330.18 L221.01,330.45 L221.11,330.85 L221.46,331.06 L221.62,331.43 L221.85,331.73 L222.01,332.09 L222.25,332.39 L222.58,332.63 L222.57,333.10 L223.81,332.70 L227.14,330.85 L224.03,333.49 L223.50,334.32 L223.81,334.57 L223.97,334.93 L224.19,335.24 L224.51,335.49 L224.60,335.89 L224.79,336.22 L224.97,336.56 L225.38,336.76 L225.50,337.13 L225.52,337.57 L225.76,337.87 L226.02,338.16 L226.29,338.45 L226.37,338.84 L226.64,339.13 L226.88,339.43 L227.07,339.76 L227.30,340.08 L227.45,340.43 L227.70,340.73 L227.72,341.16 L227.97,341.46 L228.16,341.79 L228.28,342.16 L228.48,342.49 L228.71,342.80 L228.94,343.11 L229.18,343.42 L229.12,343.88 L228.76,344.07 A84.95,84.95 0 0 0 218.08,327.90 Z M229.42,345.39 L229.96,345.13 L230.49,345.31 L232.28,344.88 L233.53,344.73 L232.25,345.77 L230.96,346.79 L230.95,347.22 L231.18,347.54 L231.34,347.89 L231.23,348.36 L231.47,348.68 L231.70,349.00 L231.75,349.39 L231.97,349.72 L231.99,350.13 L232.10,350.50 L232.23,350.86 L232.53,351.16 L232.81,351.46 L232.95,351.82 L233.07,352.19 L233.08,352.60 L233.12,352.99 L233.40,353.30 L233.54,353.66 L233.49,354.08 L233.69,354.42 L233.82,354.78 L233.96,355.14 L234.15,355.48 L234.28,355.85 L234.40,356.22 L234.50,356.59 L234.44,357.01 L234.85,357.29 L234.70,357.73 L234.86,358.09 L235.06,358.43 L235.25,358.78 L235.19,359.20 L235.19,359.59 L235.47,359.92 L235.51,360.31 L235.62,360.67 L235.72,361.05 L236.00,361.37 L236.08,361.75 L235.90,362.19 L236.27,362.50 L236.09,362.94 L236.24,363.30 L236.20,363.70 L236.34,364.06 L236.56,364.41 L236.76,364.76 L236.68,365.17 L236.18,365.27 A84.95,84.95 0 0 0 229.42,345.39 Z M236.47,366.73 L236.92,366.64 L237.03,367.02 L237.26,367.37 L237.11,367.79 L237.29,368.15 L237.44,368.52 L237.42,368.91 L237.44,369.30 L237.61,369.66 L237.62,370.05 L237.47,370.47 L237.65,370.83 L237.84,371.20 L237.95,371.57 L237.88,371.97 L237.75,372.38 L237.92,372.75 L237.97,373.13 L238.01,373.51 L238.04,373.90 L238.14,374.28 L238.18,374.66 L238.03,375.06 L238.06,375.45 L238.14,375.83 L238.29,376.21 L238.10,376.61 L238.40,376.97 L238.38,377.36 L238.23,377.76 L238.22,378.15 L238.50,378.52 L238.35,378.91 L238.36,379.30 L238.31,379.69 L238.47,380.07 L238.37,380.46 L238.56,380.84 L239.07,381.22 L241.70,381.58 L238.89,382.00 L238.43,382.39 L238.39,382.78 L238.37,383.16 L238.36,383.55 L238.62,383.94 L238.43,384.32 L238.39,384.71 L238.34,385.09 L238.42,385.48 L237.90,385.46 A84.95,84.95 0 0 0 236.47,366.73 Z M237.83,386.95 L238.40,386.98 L238.22,387.35 L238.39,387.74 L238.29,388.11 L238.15,388.48 L238.36,388.88 L238.43,389.26 L239.75,389.76 L240.61,390.22 L239.38,390.50 L238.17,390.77 L238.18,391.15 L238.01,391.52 L238.10,391.91 L238.08,392.29 L237.83,392.64 L237.98,393.04 L237.93,393.42 L237.83,393.79 L237.51,394.13 L237.57,394.52 L237.61,394.91 L237.55,395.29 L237.54,395.67 L237.45,396.04 L237.22,396.39 L237.42,396.81 L237.22,397.16 L237.27,397.55 L236.97,397.88 L237.18,398.31 L236.95,398.65 L236.96,399.04 L236.87,399.41 L236.84,399.79 L236.59,400.13 L236.41,400.48 L236.44,400.87 L236.28,401.23 L237.05,401.79 L239.88,402.85 L236.66,402.49 L235.92,402.70 L235.80,403.06 L235.84,403.46 L235.80,403.84 L235.51,404.16 L235.63,404.59 L235.38,404.91 L235.90,405.45 L238.21,406.50 L235.53,406.14 L235.20,406.44 L234.96,406.76 L234.72,407.09 L234.65,407.46 L234.24,407.34 A84.95,84.95 0 0 0 237.83,386.95 Z M233.79,408.75 L234.19,408.88 L234.08,409.24 L233.95,409.60 L234.04,410.03 L233.72,410.32 L233.68,410.71 L233.41,411.02 L233.55,411.47 L233.20,411.75 L233.26,412.18 L232.98,412.48 L232.88,412.85 L232.70,413.19 L232.51,413.52 L232.40,413.88 L232.24,414.23 L232.09,414.58 L231.91,414.91 L232.01,415.36 L231.89,415.73 L231.56,416.00 L231.58,416.42 L231.31,416.72 L231.17,417.07 L231.13,417.47 L230.88,417.77 L230.79,418.15 L230.60,418.48 L230.23,418.73 L230.35,419.21 L229.94,419.43 L229.84,419.81 L229.84,420.23 L231.05,421.25 L232.05,422.19 L233.21,423.22 L231.25,422.66 L229.29,422.09 L228.57,422.14 L228.56,422.57 L228.41,422.92 L228.14,423.20 L227.86,423.48 L227.91,423.94 L227.64,424.23 L227.37,424.51 L227.34,424.93 L227.12,425.24 L226.78,425.49 L226.55,425.79 L226.54,426.23 L226.40,426.59 L225.96,426.76 L225.91,427.18 L225.43,426.89 A84.95,84.95 0 0 0 233.79,408.75 Z M224.65,428.14 L225.09,428.43 L224.94,428.79 L224.59,429.03 L224.87,429.67 L226.63,431.31 L224.29,430.23 L223.77,430.35 L223.50,430.64 L223.27,430.95 L223.02,431.25 L222.98,431.69 L222.68,431.95 L222.37,432.21 L222.36,432.68 L222.07,432.95 L221.66,433.13 L221.62,433.59 L221.35,433.87 L221.08,434.15 L220.86,434.47 L220.75,434.88 L220.35,435.06 L220.18,435.42 L219.94,435.73 L219.62,435.97 L219.37,436.27 L219.24,436.66 L218.96,436.94 L218.66,437.20 L218.43,437.51 L218.10,437.74 L218.00,438.16 L217.54,438.28 L217.45,438.72 L217.15,438.97 L216.83,439.20 L216.67,439.58 L216.40,439.87 L216.02,440.04 L215.86,440.42 L215.51,440.63 L215.41,441.06 L215.02,441.23 L214.75,441.51 L214.42,441.19 A84.95,84.95 0 0 0 224.65,428.14 Z M213.38,442.25 L213.68,442.55 L213.36,442.77 L213.13,443.08 L212.86,443.35 L212.68,443.71 L212.32,443.88 L212.16,444.27 L211.88,444.53 L211.48,444.66 L211.20,444.92 L211.06,445.33 L210.66,445.46 L210.33,445.67 L210.23,446.12 L209.81,446.23 L209.61,446.58 L209.24,446.74 L209.00,447.04 L208.79,447.39 L208.53,447.67 L208.19,447.86 L207.92,448.14 L207.54,448.27 L207.37,448.67 L207.04,448.87 L206.71,449.07 L206.46,449.37 L206.06,449.48 L205.79,449.76 L205.38,449.85 L205.15,450.18 L204.93,450.52 L205.06,451.33 L206.65,454.09 L204.31,451.61 L203.70,451.43 L203.29,451.51 L203.02,451.80 L202.67,451.96 L202.47,452.34 L202.80,453.48 L204.83,457.08 L202.00,453.68 L201.10,453.05 L200.92,453.46 L200.48,453.49 L200.12,453.65 L199.90,454.00 L199.56,454.18 L199.30,454.48 L198.85,454.49 L198.64,454.86 L198.24,454.95 L197.93,455.17 L197.58,455.34 L197.33,455.66 L197.04,455.92 L196.56,455.86 L196.37,455.54 A84.95,84.95 0 0 0 213.38,442.25 Z M195.09,456.29 L195.30,456.66 L195.08,457.05 L194.72,457.19 L194.27,457.17 L194.04,457.53 L193.70,457.71 L193.33,457.83 L193.05,458.12 L192.59,458.06 L192.33,458.39 L191.94,458.46 L191.61,458.65 L191.26,458.80 L191.04,459.22 L190.55,459.09 L190.33,459.50 L189.99,459.69 L189.66,459.89 L189.21,459.83 L188.88,460.02 L188.61,460.34 L188.16,460.29 L187.89,460.61 L187.57,460.83 L187.12,460.75 L186.79,460.96 L186.41,461.04 L186.09,461.26 L185.81,461.58 L185.42,461.64 L185.02,461.67 L184.73,461.96 L184.37,462.09 L184.02,462.24 L183.58,462.16 L183.22,462.29 L182.94,462.64 L182.53,462.64 L182.21,462.85 L181.88,463.07 L181.51,463.18 L181.14,463.29 L180.70,463.19 L180.41,463.49 L180.08,463.73 L179.64,463.61 L179.36,463.99 L178.97,464.03 L178.55,463.97 L178.22,464.19 L178.23,465.52 L177.47,464.33 L177.11,464.46 L176.72,464.50 L176.40,464.76 L176.04,464.87 L175.63,464.82 L175.25,464.91 L174.95,465.25 L174.54,465.17 L174.41,464.71 A84.95,84.95 0 0 0 195.09,456.29 Z M172.98,465.07 L173.09,465.54 L172.70,465.54 L172.32,465.59 L171.95,465.70 L171.61,465.91 L171.26,466.10 L170.83,465.93 L170.50,466.21 L170.09,466.11 L169.75,466.32 L169.36,466.32 L168.99,466.45 L168.66,466.76 L168.53,468.15 L168.30,469.11 L167.71,467.99 L167.13,466.87 L166.73,466.81 L166.38,466.99 L166.01,467.10 L165.64,467.21 L165.22,467.01 L164.86,467.19 L164.47,467.14 L164.11,467.32 L163.74,467.42 L163.33,467.22 L162.96,467.34 L162.60,467.59 L162.20,467.43 L161.83,467.56 L161.46,467.67 L161.06,467.52 L160.70,467.73 L160.29,467.49 L159.92,467.64 L159.54,467.61 L159.16,467.70 L158.78,467.68 L158.39,467.64 L158.03,467.93 L157.64,467.73 L157.26,467.89 L156.88,467.91 L156.50,468.03 L156.12,468.04 L155.75,468.34 L155.43,470.52 L154.98,468.20 L154.59,467.82 L154.21,468.12 L153.83,467.90 L153.45,467.89 L153.44,467.45 A84.95,84.95 0 0 0 172.98,465.07 Z M151.96,467.44 L151.95,468.07 L151.57,468.09 L151.18,468.04 L150.80,468.03 L150.42,467.85 L150.03,467.86 L149.65,467.84 L149.26,467.87 L148.87,468.01 L148.48,468.03 L148.11,467.69 L147.71,467.97 L147.33,467.93 L146.95,467.75 L146.56,467.80 L146.17,467.80 L145.81,467.56 L145.41,467.68 L144.85,469.57 L144.01,474.01 L143.29,476.95 L143.30,472.93 L143.33,468.91 L143.11,467.40 L142.71,467.50 L142.36,467.19 L141.96,467.28 L141.60,467.08 L141.19,467.26 L140.81,467.18 L140.46,466.88 L140.07,466.92 L139.70,466.81 L139.29,466.92 L138.91,466.85 L138.56,466.59 L138.13,466.83 L137.75,466.77 L137.40,466.52 L137.02,466.49 L136.65,466.35 L136.26,466.36 L135.89,466.21 L135.51,466.15 L135.11,466.17 L134.78,465.90 L134.39,465.85 L133.98,465.93 L133.65,465.66 L133.75,465.24 A84.95,84.95 0 0 0 151.96,467.44 Z M132.30,464.89 L132.14,465.54 L131.84,465.18 L131.40,465.35 L131.05,465.17 L130.69,465.03 L130.31,465.01 L129.97,464.78 L129.57,464.79 L129.24,464.56 L128.31,466.39 L126.64,470.59 L125.38,473.34 L126.15,469.40 L126.96,465.46 L127.04,463.93 L126.67,463.83 L126.34,463.62 L125.95,463.60 L125.61,463.39 L125.26,463.24 L124.86,463.24 L124.53,463.03 L124.14,462.99 L123.79,462.82 L123.44,462.67 L123.11,462.48 L122.67,462.56 L122.31,462.41 L122.04,462.06 L121.69,461.91 L121.29,461.89 L120.88,461.88 L120.63,461.48 L120.17,461.59 L119.92,461.20 L119.48,461.26 L118.69,462.13 L116.70,465.73 L118.10,461.55 L118.13,460.54 L117.84,460.25 L117.42,460.26 L117.04,460.16 L116.68,460.03 L116.96,459.43 A84.95,84.95 0 0 0 132.30,464.89 Z M115.63,458.79 L115.44,459.17 L115.05,459.10 L114.68,458.98 L114.37,458.75 L114.02,458.59 L113.61,458.54 L113.30,458.31 L113.05,457.96 L112.68,457.84 L112.35,457.66 L111.97,457.55 L111.63,457.37 L111.37,457.05 L110.96,457.00 L110.67,456.73 L110.41,456.41 L110.03,456.31 L109.69,456.14 L109.39,455.89 L108.98,455.84 L108.59,455.73 L108.27,455.52 L107.37,456.24 L107.63,455.09 L107.38,454.78 L107.04,454.60 L106.66,454.48 L106.49,454.03 L106.12,453.91 L105.79,453.70 L105.48,453.48 L105.15,453.29 L104.90,452.97 L104.46,452.93 L104.09,452.80 L103.93,452.37 L103.62,452.14 L103.28,451.96 L102.88,451.86 L102.68,451.48 L102.26,451.40 L102.08,451.01 L101.68,450.90 L101.35,450.70 L101.06,450.46 L100.88,450.06 L100.39,450.07 L100.11,449.80 L99.89,449.46 L99.51,449.33 L99.26,449.02 L98.22,449.69 L95.33,452.60 L97.80,448.98 L98.11,448.01 L97.91,447.65 L97.59,447.43 L97.30,447.19 L96.92,447.04 L96.62,446.81 L96.37,446.50 L96.71,446.12 A84.95,84.95 0 0 0 115.63,458.79 Z M95.61,445.13 L95.21,445.56 L94.94,445.30 L94.61,445.08 L94.51,444.64 L94.02,444.60 L93.97,444.10 L93.47,444.07 L93.24,443.76 L93.08,443.38 L92.79,443.12 L92.44,442.94 L92.29,442.55 L91.27,443.02 L89.06,444.62 L87.49,445.59 L88.94,443.64 L90.41,441.70 L90.62,440.98 L90.47,440.60 L90.12,440.40 L89.60,440.36 L87.82,441.45 L89.20,439.69 L89.12,439.25 L88.86,438.97 L88.60,438.69 L88.40,438.36 L88.06,438.14 L87.97,437.73 L87.67,437.48 L87.25,437.33 L87.04,437.01 L86.80,436.71 L86.61,436.37 L86.46,436.00 L86.21,435.71 L85.89,435.48 L85.66,435.18 L85.52,434.81 L85.09,434.66 L84.91,434.31 L84.77,433.94 L84.41,433.73 L84.18,433.42 L84.71,433.03 A84.95,84.95 0 0 0 95.61,445.13 Z M83.84,431.83 L83.33,432.19 L83.12,431.87 L83.03,431.46 L82.77,431.18 L82.40,430.97 L81.47,431.13 L78.25,432.83 L81.25,430.34 L81.55,429.68 L81.33,429.36 L81.26,428.95 L80.96,428.69 L80.70,428.40 L80.68,427.95 L80.51,427.61 L80.30,427.29 L79.94,427.05 L79.93,426.61 L79.61,426.35 L79.02,426.25 L77.27,426.83 L76.03,427.09 L77.22,425.95 L78.42,424.82 L78.47,424.35 L78.28,424.01 L77.97,423.74 L77.83,423.38 L77.84,422.94 L77.45,422.71 L77.40,422.30 L77.04,422.06 L76.87,421.71 L76.84,421.29 L76.69,420.94 L76.58,420.57 L76.39,420.23 L76.24,419.87 L76.09,419.52 L75.74,419.26 L75.79,418.81 L75.46,418.54 L75.30,418.20 L75.09,417.87 L74.99,417.49 L74.72,417.19 L75.33,416.92 A84.95,84.95 0 0 0 83.84,431.83 Z M74.75,415.56 L74.13,415.82 L73.99,415.46 L73.88,415.09 L73.97,414.64 L73.60,414.39 L73.43,414.05 L73.27,413.70 L73.17,413.33 L73.15,412.93 L73.14,412.53 L72.70,412.28 L72.65,411.90 L72.67,411.48 L72.63,411.10 L72.21,410.84 L72.37,410.38 L72.10,410.07 L71.82,409.76 L71.89,409.34 L71.59,409.04 L71.63,408.63 L70.09,408.71 L66.54,409.41 L64.13,409.73 L67.07,408.41 L70.02,407.12 L71.03,406.42 L70.90,406.06 L70.84,405.69 L70.79,405.31 L70.38,405.02 L70.30,404.65 L70.31,404.25 L70.13,403.91 L70.14,403.51 L70.17,403.11 L69.92,402.78 L69.97,402.38 L69.95,401.99 L69.84,401.63 L69.64,401.29 L69.49,400.93 L69.59,400.52 L69.36,400.18 L69.34,399.80 L69.23,399.43 L69.00,399.09 L69.22,398.66 L68.84,398.34 L68.85,397.95 L68.92,397.55 L68.79,397.19 L68.79,396.80 L68.84,396.41 L68.50,396.08 L68.48,395.70 L68.44,395.32 L68.47,394.93 L68.35,394.56 L67.32,394.32 L68.41,393.79 L68.80,393.74 A84.95,84.95 0 0 0 74.75,415.56 Z M68.61,392.26 L68.20,392.31 L67.93,391.96 L68.13,391.55 L67.82,391.20 L67.90,390.81 L67.90,390.43 L67.81,390.05 L67.71,389.68 L67.90,389.28 L67.81,388.91 L67.74,388.53 L67.87,388.14 L67.81,387.76 L67.61,387.39 L67.72,387.00 L67.56,386.63 L67.68,386.24 L67.64,385.86 L67.35,385.49 L65.99,385.15 L65.08,384.79 L66.27,384.37 L67.41,383.96 L67.40,383.58 L67.69,383.19 L67.43,382.82 L67.61,382.43 L67.61,382.05 L67.51,381.67 L67.42,381.29 L67.64,380.91 L67.51,380.53 L67.61,380.15 L67.55,379.76 L67.50,379.38 L67.75,379.01 L67.77,378.63 L67.64,378.24 L67.65,377.86 L67.70,377.48 L67.57,377.09 L67.84,376.73 L67.58,376.33 L67.80,375.96 L67.74,375.57 L67.93,375.21 L67.86,374.82 L67.73,374.42 L67.93,374.06 L68.04,373.69 L68.15,373.32 L68.04,372.92 L68.11,372.54 L68.21,372.17 L68.22,371.79 L68.72,371.85 A84.95,84.95 0 0 0 68.61,392.26 Z M68.92,370.38 L68.47,370.32 L68.62,369.96 L68.60,369.57 L68.58,369.18 L68.57,368.79 L68.84,368.45 L68.81,368.06 L68.74,367.66 L68.94,367.31 L69.07,366.95 L68.95,366.54 L69.12,366.18 L69.10,365.79 L69.25,365.43 L69.22,365.04 L69.40,364.69 L69.32,364.28 L69.46,363.92 L69.57,363.56 L69.74,363.20 L69.78,362.82 L69.95,362.47 L70.14,362.13 L69.96,361.69 L70.08,361.33 L70.19,360.96 L70.25,360.58 L68.32,359.67 L63.65,357.98 L60.58,356.70 L64.93,357.49 L69.27,358.32 L71.03,358.43 L71.07,358.04 L71.10,357.65 L71.31,357.32 L71.33,356.93 L71.59,356.61 L71.60,356.21 L71.68,355.84 L71.86,355.50 L72.18,355.20 L72.09,354.77 L72.43,354.49 L72.46,354.09 L72.65,353.76 L72.56,353.32 L72.89,353.04 L72.84,352.61 L73.18,352.33 L73.28,351.96 L73.25,351.55 L73.32,351.16 L73.74,350.92 L73.70,350.49 L73.91,350.17 L73.99,349.79 L74.31,349.51 L74.48,349.17 L74.80,349.31 A84.95,84.95 0 0 0 68.92,370.38 Z M75.39,347.95 L74.82,347.69 L75.02,347.35 L75.26,347.04 L75.54,346.74 L75.57,346.32 L75.75,345.98 L75.87,345.60 L76.18,345.32 L76.19,344.89 L76.56,344.64 L76.72,344.28 L76.68,343.83 L76.86,343.48 L77.22,343.23 L77.38,342.88 L77.38,342.44 L77.52,342.07 L77.76,341.75 L77.91,341.40 L78.21,341.11 L78.46,340.81 L77.96,340.08 L76.20,338.62 L75.10,337.52 L77.04,338.18 L78.96,338.85 L79.56,338.74 L79.79,338.43 L79.84,338.00 L80.31,337.84 L80.46,337.47 L80.72,337.17 L80.85,336.80 L81.01,336.44 L81.16,336.07 L81.32,335.71 L81.70,335.49 L81.79,335.09 L82.06,334.80 L82.32,334.51 L82.47,334.14 L82.61,333.76 L83.16,334.14 A84.95,84.95 0 0 0 75.39,347.95 Z M84.01,332.93 L83.64,332.66 L83.18,331.86 L80.96,329.75 L83.81,331.36 L84.39,331.32 L84.75,331.11 L84.85,330.71 L85.27,330.55 L85.40,330.17 L85.66,329.89 L85.78,329.50 L86.06,329.23 L86.31,328.94 L86.51,328.61 L86.88,328.42 L87.09,328.11 L87.43,327.89 L86.82,326.88 L84.39,324.32 L87.51,326.45 L88.40,326.72 L88.45,326.25 L88.78,326.04 L89.07,325.79 L89.41,325.58 L89.58,325.22 L89.81,324.91 L90.17,324.73 L90.22,324.25 L90.64,324.12 L90.88,323.82 L91.18,323.58 L91.42,323.29 L91.71,323.04 L91.83,322.62 L92.29,322.54 L92.49,322.20 L92.70,321.87 L93.00,321.63 L93.31,321.40 L93.54,321.10 L93.92,320.94 L94.14,320.62 L94.38,320.32 L94.58,319.98 L94.94,319.80 L95.28,320.17 A84.95,84.95 0 0 0 84.01,332.93 Z M96.38,319.17 L96.08,318.84 L96.34,318.55 L96.63,318.30 L96.91,318.03 L97.26,317.86 L97.45,317.48 L97.69,317.17 L97.99,316.92 L98.45,316.88 L98.59,316.44 L98.97,316.29 L99.20,315.98 L99.63,315.90 L99.14,314.66 L97.03,311.34 L99.92,314.39 L100.74,314.81 L101.12,314.67 L101.44,314.46 L101.65,314.11 L102.07,314.03 L102.35,313.76 L102.58,313.42 L102.90,313.20 L103.14,312.88 L103.46,312.67 L103.81,312.49 L104.17,312.33 L104.53,312.17 L104.81,311.90 L105.13,311.69 L105.35,311.33 L105.70,311.16 L106.13,311.11 L106.33,310.71 L106.68,310.54 L107.15,310.57 L107.34,310.15 L107.69,309.97 L107.97,309.70 L108.37,309.62 L108.62,309.28 L108.94,309.06 L109.36,309.03 L109.60,308.66 L109.94,308.49 L110.35,308.42 L110.62,308.12 L110.97,307.95 L111.41,307.95 L111.64,307.58 L111.95,308.13 A84.95,84.95 0 0 0 96.38,319.17 Z M113.25,307.42 L113.06,307.07 L113.38,306.86 L113.74,306.71 L114.05,306.49 L114.32,306.16 L114.76,306.18 L115.07,305.95 L115.39,305.74 L115.67,305.45 L116.04,305.33 L116.48,305.36 L116.81,305.16 L117.11,304.90 L117.53,304.89 L117.87,304.73 L118.22,304.55 L118.52,304.30 L118.81,304.00 L119.21,303.96 L119.53,303.74 L119.62,302.95 L118.79,299.95 L120.42,302.86 L121.05,303.40 L121.40,303.25 L121.68,302.92 L122.05,302.81 L122.36,302.55 L122.83,302.71 L123.09,302.32 L123.53,302.38 L123.52,301.23 L122.97,298.56 L122.75,296.73 L123.92,298.86 L125.08,301.00 L125.63,301.45 L125.99,301.29 L126.19,301.89 A84.95,84.95 0 0 0 113.25,307.42 Z M127.60,301.44 L127.42,300.86 L127.85,300.99 L128.21,300.87 L128.51,300.52 L128.85,300.35 L129.24,300.32 L129.63,300.29 L130.03,300.31 L130.36,300.07 L130.57,299.38 L130.25,296.69 L131.35,299.37 L131.83,299.68 L132.20,299.61 L132.59,299.58 L132.96,299.51 L133.34,299.47 L133.72,299.40 L134.08,299.28 L134.05,297.38 L133.56,293.34 L133.40,290.62 L134.54,294.06 L135.66,297.50 L136.30,298.74 L136.63,298.44 L137.01,298.42 L137.41,298.49 L137.78,298.41 L138.13,298.18 L138.55,298.38 L138.88,298.07 L139.27,298.09 L139.65,298.05 L140.03,298.00 L140.40,297.93 L140.81,298.04 L141.17,297.94 L141.55,297.85 L141.93,297.84 L142.31,297.84 L142.66,297.58 L143.05,297.63 L143.42,297.48 L143.81,297.56 L144.17,297.33 L144.57,297.53 L144.94,297.40 L145.32,297.40 L145.69,297.24 L145.74,297.86 A84.95,84.95 0 0 0 127.60,301.44 Z" fill="#2c7ab6"/>
<path d="M153.24,314.85 L153.24,314.50 L153.54,314.46 L153.85,314.37 L154.15,314.27 L154.45,314.47 L154.76,314.48 L155.06,314.45 L155.37,314.28 L155.67,314.50 L155.98,314.31 L156.28,314.35 L156.58,314.55 L156.89,314.42 L157.19,314.47 L157.49,314.50 L157.81,314.32 L158.09,314.66 L158.39,314.71 L158.72,314.41 L159.01,314.62 L159.30,314.72 L159.61,314.71 L159.92,314.72 L160.24,314.55 L160.51,314.84 L160.82,314.87 L161.13,314.78 L161.43,314.83 L161.75,314.73 L162.05,314.81 L162.33,315.02 L162.62,315.11 L162.96,314.94 L163.27,314.93 L163.52,315.31 L163.85,315.11 L164.26,314.53 L164.94,312.36 L165.51,310.94 L165.48,312.96 L165.43,314.98 L165.62,315.61 L165.95,315.52 L166.22,315.72 L166.50,315.84 L166.82,315.80 L167.12,315.86 L167.42,315.90 L167.74,315.88 L168.05,315.89 L168.36,315.91 L168.65,315.98 L168.95,316.04 L169.23,316.18 L169.49,316.42 L169.77,316.54 L170.17,316.22 L170.95,314.45 L170.72,316.51 L170.94,316.87 L171.24,316.92 L171.60,316.76 L171.86,316.95 L172.17,317.00 L172.40,317.29 L172.72,317.28 L173.06,317.19 L173.33,317.37 L173.65,317.35 L173.86,317.71 L174.18,317.71 L174.02,318.20 A67.65,67.65 0 0 0 153.24,314.85 Z M175.14,318.57 L175.26,318.23 L175.62,318.11 L175.86,318.36 L176.21,318.26 L176.47,318.44 L176.80,318.44 L176.99,318.80 L177.27,318.92 L177.66,318.76 L177.83,319.14 L178.10,319.28 L178.46,319.21 L178.73,319.36 L179.06,319.36 L179.35,319.44 L179.57,319.72 L179.86,319.81 L180.18,319.84 L180.40,320.08 L180.73,320.10 L180.98,320.29 L181.24,320.45 L181.57,320.47 L181.72,320.85 L182.07,320.84 L182.39,320.87 L182.61,321.10 L182.85,321.31 L183.10,321.49 L183.45,321.47 L183.70,321.65 L184.06,321.62 L184.19,322.02 L184.53,322.03 L184.81,322.16 L185.13,322.20 L185.39,322.36 L185.64,322.53 L185.94,322.63 L186.19,322.80 L186.43,323.01 L186.67,323.20 L186.94,323.35 L187.19,323.51 L187.49,323.61 L187.71,323.82 L187.93,324.06 L188.26,324.09 L189.23,323.10 L188.73,324.49 L189.07,324.52 L189.24,324.83 L189.51,324.98 L189.25,325.38 A67.65,67.65 0 0 0 175.14,318.57 Z M190.24,326.02 L190.49,325.64 L190.76,325.79 L191.09,325.84 L191.20,326.22 L191.57,326.21 L191.84,326.37 L191.98,326.69 L192.24,326.86 L192.61,326.85 L192.72,327.22 L193.11,327.20 L193.24,327.55 L193.54,327.65 L193.85,327.74 L193.96,328.10 L194.35,328.10 L194.40,328.54 L194.73,328.60 L195.05,328.69 L195.59,328.49 L197.47,326.63 L195.95,329.02 L195.97,329.48 L196.10,329.81 L196.30,330.05 L196.62,330.13 L196.91,330.26 L197.04,330.58 L197.29,330.75 L197.52,330.96 L197.90,330.98 L197.93,331.41 L198.18,331.58 L199.08,331.03 L201.55,328.76 L199.38,331.62 L199.24,332.22 L199.36,332.54 L199.63,332.70 L199.86,332.90 L200.02,333.17 L200.16,333.47 L200.39,333.66 L200.77,333.71 L201.00,333.92 L201.25,334.10 L201.29,334.49 L201.50,334.70 L201.72,334.92 L202.08,334.99 L202.13,335.36 L202.36,335.57 L202.71,335.65 L202.94,335.85 L202.96,336.25 L203.14,336.50 L203.48,336.60 L203.72,336.80 L203.94,337.01 L204.10,337.28 L204.31,337.50 L204.33,337.88 L204.06,338.12 A67.65,67.65 0 0 0 190.24,326.02 Z M204.82,339.02 L205.16,338.73 L205.50,338.85 L205.59,339.17 L205.73,339.45 L206.11,339.54 L206.27,339.80 L206.26,340.20 L206.59,340.32 L207.37,340.11 L209.94,338.51 L207.57,340.73 L207.30,341.32 L207.62,341.46 L207.63,341.84 L207.76,342.12 L208.07,342.28 L208.18,342.57 L208.48,342.73 L208.66,342.98 L208.74,343.29 L209.02,343.48 L209.06,343.82 L209.37,343.97 L209.58,344.20 L209.55,344.59 L209.90,344.72 L209.98,345.04 L210.01,345.39 L210.30,345.56 L210.46,345.82 L210.56,346.12 L210.87,346.29 L211.00,346.56 L210.97,346.95 L211.33,347.08 L211.57,347.29 L211.63,347.61 L212.15,347.66 L213.86,347.02 L215.06,346.69 L213.83,347.77 L212.59,348.83 L212.47,349.25 L212.77,349.43 L212.84,349.74 L212.86,350.08 L213.01,350.35 L213.88,350.23 L216.62,349.14 L213.98,350.87 L213.78,351.32 L213.77,351.67 L213.33,351.89 A67.65,67.65 0 0 0 204.82,339.02 Z M213.86,352.95 L214.47,352.65 L214.47,353.00 L214.54,353.30 L214.64,353.59 L214.78,353.87 L214.85,354.17 L214.97,354.45 L215.35,354.62 L215.30,354.98 L215.55,355.20 L215.51,355.56 L215.77,355.78 L215.84,356.08 L215.89,356.39 L216.03,356.67 L216.33,356.88 L216.40,357.18 L216.54,357.46 L216.57,357.78 L216.75,358.03 L216.73,358.37 L216.73,358.70 L217.02,358.92 L217.21,359.18 L217.29,359.48 L217.44,359.75 L217.26,360.14 L217.60,360.34 L217.66,360.65 L217.62,360.99 L217.84,361.24 L217.86,361.56 L217.87,361.87 L218.07,362.13 L218.10,362.45 L218.38,362.68 L218.46,362.98 L218.41,363.31 L218.38,363.64 L218.57,363.91 L218.56,364.23 L218.67,364.52 L218.77,364.81 L219.03,365.06 L218.93,365.40 L218.92,365.72 L219.08,365.99 L219.28,366.26 L219.41,366.55 L219.47,366.85 L219.70,367.11 L221.60,367.00 L219.71,367.74 L219.66,368.07 L219.59,368.40 L219.64,368.70 L219.24,368.78 A67.65,67.65 0 0 0 213.86,352.95 Z M219.47,369.94 L219.97,369.85 L219.98,370.16 L220.14,370.44 L220.22,370.74 L220.29,371.04 L220.31,371.35 L220.22,371.68 L221.27,371.83 L220.28,372.29 L220.61,372.56 L220.57,372.87 L220.61,373.18 L220.66,373.48 L220.59,373.80 L220.82,374.09 L220.58,374.43 L220.73,374.72 L220.83,375.02 L220.83,375.33 L220.93,375.63 L220.86,375.95 L220.78,376.26 L220.91,376.56 L220.77,376.88 L220.92,377.18 L221.08,377.48 L222.31,377.70 L221.03,378.10 L220.98,378.41 L220.97,378.72 L220.94,379.03 L221.09,379.33 L221.11,379.64 L221.28,379.94 L221.01,380.26 L221.29,380.56 L221.24,380.87 L221.30,381.18 L221.20,381.49 L221.40,381.79 L222.75,382.10 L223.65,382.41 L222.45,382.73 L221.34,383.03 L221.19,383.34 L221.07,383.64 L221.11,383.95 L221.12,384.26 L221.15,384.57 L221.30,384.88 L220.61,384.86 A67.65,67.65 0 0 0 219.47,369.94 Z M220.56,386.04 L221.01,386.06 L221.12,386.37 L220.99,386.67 L221.04,386.98 L220.97,387.27 L220.91,387.57 L221.06,387.89 L221.02,388.19 L220.77,388.47 L220.80,388.78 L220.98,389.10 L220.99,389.41 L220.79,389.69 L220.86,390.00 L220.74,390.29 L220.67,390.59 L220.83,390.92 L220.67,391.20 L220.74,391.52 L220.61,391.81 L220.54,392.10 L220.36,392.38 L220.31,392.68 L220.20,392.97 L220.39,393.31 L220.30,393.60 L220.28,393.90 L220.30,394.21 L220.04,394.47 L219.95,394.77 L219.91,395.07 L220.40,395.47 L222.60,396.21 L220.12,396.03 L219.92,396.30 L219.63,396.55 L219.60,396.85 L219.74,397.20 L219.43,397.44 L219.58,397.78 L219.33,398.03 L219.36,398.35 L219.14,398.61 L219.14,398.92 L219.11,399.23 L219.09,399.54 L218.78,399.77 L218.87,400.11 L218.79,400.40 L219.15,400.81 L221.29,401.73 L218.83,401.35 L218.46,401.56 L218.44,401.87 L218.43,402.19 L218.32,402.47 L217.69,402.28 A67.65,67.65 0 0 0 220.56,386.04 Z M217.34,403.40 L217.67,403.51 L217.75,403.86 L217.50,404.09 L217.52,404.42 L217.57,404.76 L218.26,405.32 L217.22,405.28 L217.02,405.53 L216.96,405.83 L216.93,406.14 L216.75,406.40 L216.63,406.67 L216.62,406.99 L216.43,407.24 L216.43,407.57 L216.37,407.87 L216.19,408.13 L216.01,408.38 L215.87,408.65 L215.76,408.93 L215.87,409.31 L215.71,409.57 L215.32,409.73 L215.32,410.06 L215.08,410.29 L215.16,410.65 L214.85,410.85 L214.73,411.12 L214.72,411.46 L214.64,411.75 L214.42,411.98 L214.27,412.24 L214.29,412.59 L213.93,412.75 L213.89,413.07 L213.72,413.33 L214.53,414.08 L213.44,413.86 L213.26,414.11 L213.12,414.38 L213.11,414.72 L212.81,414.90 L212.71,415.19 L212.52,415.43 L212.52,415.78 L212.27,415.98 L212.09,416.23 L211.92,416.48 L211.93,416.83 L211.76,417.09 L211.47,417.26 L211.30,417.52 L211.20,417.81 L211.06,418.08 L210.68,417.85 A67.65,67.65 0 0 0 217.34,403.40 Z M210.06,418.85 L210.39,419.06 L210.29,419.37 L210.26,419.71 L209.93,419.87 L209.71,420.10 L209.73,420.48 L209.57,420.75 L209.45,421.04 L209.00,421.11 L208.86,421.38 L208.76,421.69 L208.74,422.06 L208.43,422.22 L208.34,422.54 L207.97,422.66 L207.86,422.96 L207.74,423.25 L207.42,423.40 L207.32,423.71 L207.21,424.02 L207.02,424.27 L206.80,424.49 L206.64,424.76 L206.50,425.04 L206.20,425.20 L205.91,425.36 L205.70,425.59 L205.95,426.20 L207.13,427.59 L207.84,428.61 L206.41,427.82 L204.99,427.02 L204.63,427.12 L204.35,427.29 L204.20,427.57 L203.86,427.68 L203.70,427.95 L203.51,428.20 L203.42,428.54 L203.18,428.74 L202.95,428.95 L202.69,429.13 L202.46,429.34 L202.26,429.57 L201.91,429.24 A67.65,67.65 0 0 0 210.06,418.85 Z M201.09,430.08 L201.37,430.37 L201.12,430.55 L200.94,430.80 L200.87,431.16 L200.50,431.22 L200.29,431.43 L200.22,431.81 L199.98,431.99 L199.79,432.24 L199.56,432.44 L199.32,432.62 L199.01,432.74 L198.89,433.07 L198.54,433.13 L198.31,433.33 L198.11,433.56 L197.98,433.88 L197.68,434.00 L197.42,434.16 L197.30,434.50 L196.91,434.51 L196.79,434.84 L196.56,435.03 L196.30,435.20 L196.12,435.47 L195.84,435.60 L195.58,435.76 L195.43,436.06 L195.13,436.17 L194.91,436.39 L194.56,436.43 L194.36,436.68 L194.03,436.75 L193.93,437.11 L193.64,437.24 L193.47,437.52 L193.19,437.66 L192.90,437.78 L192.67,437.98 L192.36,438.06 L192.13,438.27 L191.91,438.48 L191.67,438.68 L191.31,438.69 L191.17,439.03 L190.96,439.26 L190.74,439.48 L190.49,439.65 L190.22,439.80 L189.85,439.78 L189.63,440.01 L189.39,440.21 L189.18,440.44 L188.82,440.44 L188.57,440.62 L188.24,440.66 L188.13,441.07 L187.72,440.98 L187.54,440.67 A67.65,67.65 0 0 0 201.09,430.08 Z M186.52,441.26 L186.86,441.87 L186.53,441.90 L186.29,442.09 L185.93,442.08 L185.70,442.29 L185.52,442.58 L185.17,442.58 L184.88,442.69 L184.68,442.96 L184.32,442.93 L184.12,443.20 L183.88,443.41 L183.49,443.30 L183.30,443.62 L183.07,443.84 L182.72,443.81 L182.45,443.96 L182.19,444.12 L181.94,444.31 L181.66,444.43 L181.36,444.51 L181.11,444.68 L180.75,444.62 L180.55,444.92 L180.24,444.97 L179.95,445.07 L179.71,445.29 L179.35,445.21 L179.10,445.40 L178.89,445.70 L178.61,445.82 L178.31,445.89 L178.11,446.21 L178.52,448.12 L177.49,446.30 L177.13,446.20 L177.11,447.04 L177.60,449.26 L177.82,450.78 L176.84,449.01 L175.87,447.23 L175.46,446.96 L175.16,447.03 L174.87,447.13 L174.55,447.15 L174.31,447.39 L173.95,447.25 L173.70,447.49 L173.37,447.44 L173.15,447.76 L172.82,447.73 L172.58,447.97 L172.28,448.06 L171.93,447.92 L171.65,448.06 L171.36,448.14 L171.02,448.08 L170.77,448.30 L170.46,448.34 L170.17,448.41 L170.05,447.97 A67.65,67.65 0 0 0 186.52,441.26 Z M168.91,448.25 L169.07,448.91 L168.72,448.77 L168.46,449.01 L168.28,449.56 L168.55,452.19 L167.64,449.51 L167.24,449.13 L166.92,449.07 L166.68,449.44 L166.37,449.42 L166.04,449.34 L165.74,449.35 L165.43,449.39 L165.19,449.74 L164.85,449.55 L164.55,449.65 L164.28,449.86 L163.98,449.88 L163.65,449.75 L163.35,449.80 L163.07,450.00 L162.75,449.92 L162.45,449.97 L162.14,449.93 L161.86,450.13 L161.72,451.47 L161.24,450.12 L160.96,450.31 L160.66,450.37 L160.33,450.17 L160.03,450.26 L159.73,450.27 L159.45,450.49 L159.13,450.42 L158.84,450.53 L158.53,450.52 L158.22,450.48 L157.92,450.55 L157.61,450.43 L157.32,450.70 L157.00,450.48 L156.70,450.48 L156.40,450.63 L156.09,450.50 L155.79,450.72 L155.49,450.63 L155.19,450.80 L154.88,450.63 L154.57,450.50 L154.27,450.79 L153.96,450.57 L153.66,450.84 L153.36,450.84 L153.35,450.15 A67.65,67.65 0 0 0 168.91,448.25 Z M152.17,450.14 L152.17,450.66 L151.86,450.58 L151.55,450.59 L151.25,450.65 L150.94,450.52 L150.63,450.51 L150.32,450.79 L150.01,450.70 L149.71,450.63 L149.41,450.45 L149.10,450.43 L148.79,450.59 L148.48,450.57 L148.19,450.33 L147.86,450.64 L147.57,450.41 L147.26,450.35 L146.95,450.45 L146.51,451.85 L145.84,455.40 L145.27,457.75 L145.27,454.54 L145.30,451.32 L145.10,450.36 L144.79,450.33 L144.51,450.09 L144.18,450.23 L143.87,450.24 L143.57,450.13 L143.06,451.57 L142.98,449.94 L142.65,450.05 L142.35,449.98 L142.04,449.96 L141.77,449.71 L141.45,449.76 L141.15,449.71 L140.85,449.61 L140.59,449.38 L140.24,449.53 L139.93,449.52 L139.64,449.40 L139.32,449.43 L139.02,449.39 L138.74,449.22 L138.46,449.05 L138.15,449.04 L137.87,448.86 L137.57,448.81 L137.67,448.39 A67.65,67.65 0 0 0 152.17,450.14 Z M136.52,448.11 L136.42,448.53 L136.07,448.64 L135.83,448.38 L135.54,448.26 L135.18,448.43 L134.90,448.32 L134.66,448.05 L134.37,447.93 L134.05,447.95 L133.75,447.89 L133.46,447.81 L133.15,447.79 L132.87,447.66 L132.56,447.62 L132.34,447.29 L132.03,447.29 L131.75,447.17 L131.44,447.13 L131.11,447.15 L130.83,447.02 L130.62,446.72 L130.28,446.76 L129.96,446.74 L129.67,446.65 L129.38,446.56 L128.76,447.35 L128.85,446.25 L128.54,446.18 L128.25,446.11 L128.04,445.81 L127.65,445.97 L127.48,445.58 L127.14,445.59 L126.86,445.48 L126.63,445.24 L125.92,446.13 L124.57,448.49 L123.56,450.01 L124.22,447.68 L124.91,445.36 L124.93,444.58 L124.69,444.36 L124.30,444.49 L124.06,444.28 L124.30,443.76 A67.65,67.65 0 0 0 136.52,448.11 Z M123.24,443.25 L123.08,443.57 L122.76,443.54 L122.44,443.49 L122.25,443.18 L121.98,443.05 L121.64,443.04 L121.30,443.03 L121.16,442.65 L120.83,442.61 L120.50,442.59 L120.29,442.32 L119.98,442.25 L119.78,441.99 L119.48,441.90 L119.20,441.78 L118.88,441.71 L118.70,441.42 L118.39,441.34 L118.11,441.21 L117.96,440.88 L117.61,440.86 L117.47,440.50 L117.21,440.34 L116.88,440.30 L116.64,440.11 L116.38,439.94 L116.02,439.94 L115.77,439.76 L115.67,439.36 L115.27,439.42 L115.16,439.03 L114.76,439.08 L114.47,438.95 L114.41,438.50 L114.01,438.54 L113.80,438.31 L113.50,438.21 L113.36,437.87 L113.06,437.77 L112.92,437.44 L112.67,437.27 L112.16,437.44 L110.79,438.75 L111.75,436.96 L111.51,436.77 L111.40,436.42 L111.22,436.15 L110.85,436.14 L110.60,435.96 L110.32,435.81 L110.20,435.48 L109.85,435.43 L109.70,435.13 L109.45,434.95 L109.11,434.88 L108.95,434.60 L108.84,434.26 L108.58,434.09 L108.26,433.99 L108.01,433.82 L107.91,433.46 L108.17,433.17 A67.65,67.65 0 0 0 123.24,443.25 Z M107.30,432.38 L106.54,433.20 L104.55,434.90 L106.22,432.65 L106.38,432.02 L106.09,431.89 L105.84,431.71 L105.49,431.64 L105.29,431.41 L105.15,431.12 L104.38,431.46 L101.93,433.47 L104.10,430.86 L104.40,430.14 L104.16,429.95 L103.95,429.74 L103.67,429.58 L103.37,429.44 L103.30,429.09 L103.10,428.86 L102.86,428.67 L102.53,428.56 L102.44,428.23 L102.11,428.12 L102.08,427.73 L101.82,427.56 L101.60,427.35 L101.37,427.14 L100.87,427.17 L99.30,428.10 L98.18,428.63 L99.20,427.36 L100.24,426.10 L100.26,425.69 L100.06,425.46 L100.00,425.12 L99.60,425.05 L99.36,424.85 L99.44,424.40 L98.98,424.37 L98.93,424.02 L98.85,423.70 L98.69,423.44 L98.32,423.34 L98.11,423.11 L98.62,422.74 A67.65,67.65 0 0 0 107.30,432.38 Z M97.93,421.78 L97.60,422.01 L97.36,421.81 L97.23,421.53 L96.98,421.33 L96.71,421.14 L96.65,420.81 L96.39,420.62 L96.37,420.26 L96.00,420.14 L95.87,419.86 L95.77,419.55 L95.73,419.22 L95.45,419.03 L95.31,418.76 L95.26,418.43 L95.04,418.20 L94.76,418.01 L94.49,417.82 L94.48,417.47 L94.39,417.16 L94.12,416.97 L92.80,417.38 L93.90,416.39 L93.76,416.11 L93.59,415.86 L93.28,415.68 L93.29,415.32 L93.26,414.99 L93.04,414.76 L92.82,414.53 L92.73,414.23 L92.59,413.96 L92.54,413.64 L92.25,413.45 L92.06,413.20 L91.92,412.93 L91.95,412.56 L91.57,412.41 L91.65,412.03 L91.54,411.74 L91.33,411.51 L91.30,411.18 L91.13,410.92 L90.83,410.72 L90.70,410.44 L90.65,410.13 L91.15,409.91 A67.65,67.65 0 0 0 97.93,421.78 Z M90.68,408.82 L90.26,409.00 L90.10,408.74 L90.00,408.45 L89.80,408.21 L89.61,407.96 L89.62,407.63 L89.61,407.30 L89.40,407.06 L89.41,406.73 L88.63,406.70 L86.09,407.32 L86.65,406.77 L85.57,406.83 L88.31,405.52 L88.72,405.05 L88.72,404.73 L88.58,404.46 L88.26,404.24 L88.42,403.87 L88.12,403.65 L88.20,403.30 L87.91,403.08 L88.03,402.72 L87.94,402.43 L87.83,402.15 L87.49,401.94 L87.72,401.55 L87.48,401.31 L87.25,401.06 L87.25,400.74 L87.39,400.39 L87.09,400.15 L87.13,399.83 L87.09,399.53 L87.04,399.23 L86.97,398.93 L86.75,398.67 L86.61,398.40 L86.49,398.11 L86.51,397.79 L86.51,397.48 L86.29,397.22 L86.48,396.87 L86.15,396.63 L86.07,396.34 L86.16,396.01 L86.03,395.72 L86.02,395.42 L85.93,395.12 L85.88,394.82 L85.83,394.53 L85.78,394.23 L85.79,393.92 L85.85,393.60 L85.75,393.31 L85.70,393.01 L85.53,392.73 L85.68,392.40 L85.44,392.13 L85.47,391.82 L85.28,391.54 L85.94,391.45 A67.65,67.65 0 0 0 90.68,408.82 Z M85.80,390.28 L85.31,390.33 L85.29,390.03 L85.16,389.74 L85.08,389.44 L85.22,389.12 L84.95,388.84 L84.96,388.53 L85.03,388.22 L85.20,387.90 L84.94,387.62 L84.97,387.31 L84.96,387.01 L84.87,386.71 L84.86,386.40 L84.93,386.09 L85.04,385.78 L83.92,385.53 L81.21,385.33 L79.39,385.07 L81.78,384.67 L84.17,384.29 L84.72,383.97 L84.78,383.66 L84.78,383.36 L84.94,383.05 L84.86,382.75 L84.80,382.45 L84.87,382.14 L84.98,381.84 L84.67,381.53 L84.84,381.23 L84.90,380.93 L84.96,380.63 L84.84,380.32 L84.98,380.02 L84.91,379.71 L85.03,379.41 L84.86,379.10 L84.78,378.79 L84.90,378.49 L84.84,378.18 L85.14,377.90 L85.02,377.59 L85.04,377.28 L84.99,376.97 L84.98,376.67 L85.10,376.37 L85.13,376.07 L85.03,375.76 L85.15,375.46 L84.54,375.09 L85.21,374.86 L85.29,374.56 L85.45,374.27 L85.47,373.97 L85.88,374.02 A67.65,67.65 0 0 0 85.80,390.28 Z M86.04,372.85 L85.37,372.75 L85.50,372.47 L85.55,372.17 L85.77,371.89 L85.71,371.58 L85.59,371.25 L85.94,371.00 L85.69,370.65 L85.79,370.36 L85.90,370.07 L86.14,369.80 L86.09,369.49 L86.10,369.18 L86.08,368.86 L86.27,368.59 L86.47,368.33 L86.55,368.03 L86.53,367.72 L86.37,367.37 L86.64,367.12 L86.67,366.82 L86.83,366.54 L86.63,366.18 L86.74,365.90 L87.07,365.66 L86.90,365.31 L87.09,365.04 L87.13,364.74 L87.24,364.45 L87.40,364.19 L87.51,363.90 L87.60,363.61 L87.53,363.27 L87.67,363.00 L87.72,362.70 L87.79,362.40 L87.83,362.09 L88.02,361.84 L86.94,361.17 L88.30,361.29 L88.47,361.03 L88.49,360.71 L88.36,360.35 L88.49,360.07 L88.75,359.84 L88.33,359.37 L86.16,358.26 L88.70,358.85 L89.28,358.74 L89.11,358.35 L89.41,358.14 L89.37,357.80 L89.66,357.59 L89.63,357.25 L89.73,356.96 L89.98,356.74 L90.05,356.44 L90.07,356.12 L90.34,355.90 L90.73,356.07 A67.65,67.65 0 0 0 86.04,372.85 Z M91.20,354.98 L90.82,354.82 L90.95,354.53 L90.98,354.21 L91.24,353.99 L91.27,353.66 L91.33,353.34 L91.38,353.02 L91.49,352.73 L91.75,352.51 L92.02,352.30 L92.02,351.95 L92.13,351.66 L92.41,351.45 L92.37,351.08 L92.71,350.91 L92.71,350.56 L92.77,350.24 L92.94,349.98 L93.12,349.72 L93.41,349.53 L93.53,349.23 L93.24,348.72 L91.83,347.55 L90.95,346.67 L92.50,347.20 L94.04,347.73 L94.29,347.52 L94.63,347.36 L94.76,347.08 L95.04,346.89 L95.04,346.52 L95.34,346.35 L95.49,346.07 L95.18,345.51 L93.42,343.99 L95.34,344.86 L93.15,343.04 L95.85,344.45 L96.47,344.49 L96.63,344.22 L96.66,343.87 L96.89,343.65 L97.38,343.99 A67.65,67.65 0 0 0 91.20,354.98 Z M98.06,343.02 L97.56,342.66 L97.87,342.51 L98.02,342.25 L98.23,342.02 L98.39,341.76 L98.45,341.42 L98.73,341.26 L99.03,341.10 L99.02,340.72 L99.32,340.56 L99.41,340.24 L99.54,339.96 L99.73,339.72 L100.02,339.56 L100.36,339.45 L100.31,339.01 L100.74,338.97 L100.80,338.63 L101.13,338.51 L101.32,338.27 L101.31,337.86 L101.55,337.67 L101.77,337.46 L102.08,337.33 L102.27,337.09 L102.46,336.85 L102.53,336.51 L102.89,336.42 L103.00,336.11 L103.14,335.82 L103.54,335.78 L103.67,335.49 L103.92,335.31 L104.05,335.01 L104.32,334.85 L104.38,334.48 L104.45,334.12 L103.21,332.44 L104.99,333.80 L105.36,333.74 L105.51,333.46 L105.74,333.25 L105.98,333.06 L106.30,332.96 L106.47,332.70 L106.78,332.59 L107.04,332.86 A67.65,67.65 0 0 0 98.06,343.02 Z M107.91,332.07 L107.47,331.58 L107.70,331.38 L108.07,331.33 L108.20,331.01 L108.37,330.74 L108.67,330.62 L108.87,330.37 L109.19,330.28 L109.35,329.99 L109.63,329.85 L109.88,329.67 L110.14,329.50 L110.35,329.27 L110.61,329.10 L110.84,328.90 L111.19,328.85 L111.29,328.48 L111.65,328.44 L111.91,328.27 L111.98,327.87 L112.25,327.70 L112.50,327.53 L112.82,327.45 L113.13,327.35 L113.33,327.11 L113.63,327.00 L113.82,326.73 L114.11,326.61 L114.32,326.39 L114.49,326.08 L114.73,325.89 L115.14,325.95 L115.31,325.65 L115.51,325.40 L115.75,325.20 L116.09,325.16 L116.31,324.93 L116.69,324.96 L116.91,324.74 L116.93,324.18 L116.07,322.19 L117.54,323.99 L117.86,323.93 L118.13,323.78 L118.52,323.85 L118.69,323.53 L119.02,323.48 L119.19,323.17 L119.54,323.15 L119.72,322.84 L120.02,322.75 L120.31,323.27 A67.65,67.65 0 0 0 107.91,332.07 Z M121.34,322.71 L121.09,322.23 L121.38,322.13 L121.59,321.86 L121.97,321.94 L122.12,321.57 L122.39,321.42 L122.76,321.47 L122.98,321.22 L123.26,321.10 L123.49,320.88 L123.88,320.98 L124.05,320.64 L124.35,320.54 L124.62,320.41 L124.94,320.37 L125.21,320.23 L125.57,320.27 L125.83,320.12 L126.03,319.82 L126.28,319.63 L126.58,319.55 L126.95,319.64 L127.21,319.46 L127.46,319.26 L127.75,319.18 L127.99,318.95 L128.30,318.89 L128.56,318.71 L128.84,318.61 L129.14,318.54 L129.43,318.42 L129.70,318.26 L130.07,318.41 L130.33,318.23 L130.57,317.97 L130.92,318.06 L131.21,317.96 L131.53,317.95 L131.65,318.31 A67.65,67.65 0 0 0 121.34,322.71 Z M132.77,317.95 L132.57,317.32 L132.94,317.46 L133.22,317.35 L133.52,317.29 L133.74,316.98 L134.09,317.10 L134.32,316.79 L134.61,316.69 L134.93,316.71 L135.20,316.53 L135.49,316.47 L135.82,316.52 L136.11,316.42 L136.44,316.50 L136.67,316.17 L136.96,316.08 L137.33,316.29 L137.61,316.19 L137.92,316.16 L138.17,315.89 L138.50,315.98 L138.81,316.00 L139.04,315.60 L139.39,315.79 L139.66,315.62 L139.95,315.51 L140.24,315.38 L140.59,315.64 L140.88,315.55 L141.17,315.41 L141.45,315.27 L141.74,315.15 L142.04,315.08 L142.33,315.02 L142.58,314.64 L142.54,312.26 L142.73,311.39 L142.80,309.56 L143.45,311.89 L144.07,314.23 L144.47,314.94 L144.74,314.67 L145.06,314.78 L145.36,314.76 L145.68,314.81 L145.98,314.77 L146.28,314.78 L146.56,314.54 L146.87,314.56 L147.18,314.63 L147.22,315.10 A67.65,67.65 0 0 0 132.77,317.95 Z" fill="#3050f0"/>
<path d="M153.18,331.70 L153.18,330.40 L153.41,330.53 L153.64,330.79 L153.88,330.58 L154.11,330.48 L154.34,330.56 L154.58,330.31 L154.80,330.61 L155.04,330.53 L155.28,330.39 L155.50,330.56 L155.73,330.65 L155.95,330.85 L156.21,330.40 L156.44,330.38 L156.64,330.87 L156.89,330.60 L157.13,330.56 L157.36,330.61 L157.61,330.46 L157.82,330.71 L158.03,330.94 L158.30,330.60 L158.51,330.74 L158.75,330.73 L158.99,330.66 L159.19,330.98 L159.44,330.82 L159.77,330.11 L160.04,329.86 L160.32,329.56 L160.59,329.37 L160.97,328.43 L161.01,329.79 L161.47,328.35 L161.59,329.14 L162.15,327.23 L162.60,326.10 L162.50,328.18 L162.63,328.86 L163.20,327.08 L163.61,326.28 L163.34,329.01 L163.87,327.58 L163.87,328.82 L164.20,328.47 L164.22,329.55 L164.30,330.32 L164.80,329.14 L164.90,329.81 L165.12,329.93 L165.24,330.47 L165.32,331.19 L165.60,331.00 L165.68,331.67 L165.95,331.58 L166.04,332.16 L166.30,332.06 L166.48,332.29 L166.68,332.46 L166.92,332.43 L167.10,332.67 L167.36,332.61 L167.65,332.43 L167.82,332.69 L168.10,332.56 L168.26,332.81 L168.58,332.58 L168.73,332.88 L168.85,333.26 L169.23,332.85 L168.78,334.21 A50.8,50.8 0 0 0 153.18,331.70 Z M169.62,334.50 L170.06,333.24 L170.19,333.57 L170.54,333.28 L170.77,333.33 L171.03,333.29 L171.20,333.51 L171.66,332.95 L172.03,332.64 L172.40,332.33 L173.10,331.22 L172.62,333.09 L173.74,330.95 L173.24,332.84 L175.08,328.99 L173.96,332.35 L175.97,328.22 L175.10,330.91 L176.51,328.31 L177.06,327.69 L177.62,327.10 L177.25,328.58 L175.81,332.38 L177.17,330.01 L176.65,331.74 L176.70,332.21 L176.51,333.19 L176.37,334.06 L176.67,333.99 L177.67,332.50 L177.17,334.06 L177.39,334.15 L177.12,335.22 L177.15,335.68 L177.20,336.08 L177.44,336.13 L177.53,336.47 L177.59,336.84 L177.88,336.79 L177.95,337.15 L178.40,336.81 L178.46,337.20 L178.58,337.45 L178.94,337.28 L179.11,337.45 L179.22,337.72 L179.57,337.59 L179.68,337.86 L179.89,337.96 L180.00,338.23 L180.37,338.07 L180.44,338.40 L180.51,338.71 L180.76,338.76 L180.22,339.61 A50.8,50.8 0 0 0 169.62,334.50 Z M180.96,340.09 L181.63,339.08 L181.84,339.18 L182.06,339.28 L182.14,339.57 L182.23,339.85 L182.71,339.55 L182.85,339.77 L183.14,339.76 L183.24,340.02 L183.40,340.20 L183.64,340.26 L183.60,340.70 L183.91,340.68 L183.97,340.98 L184.30,340.94 L184.33,341.27 L184.60,341.31 L184.85,341.36 L185.15,341.35 L185.36,341.47 L185.74,341.37 L186.08,341.31 L186.75,340.86 L187.12,340.79 L187.13,341.15 L187.60,340.96 L188.19,340.64 L187.96,341.28 L188.39,341.15 L187.87,342.12 L190.88,339.03 L189.21,341.32 L191.42,339.20 L190.20,340.95 L192.57,338.69 L191.61,340.14 L190.81,341.39 L190.44,342.16 L191.22,341.68 L189.62,343.74 L191.17,342.45 L190.81,343.19 L189.72,344.67 L190.21,344.50 L190.09,344.96 L190.88,344.49 L190.47,345.24 L190.16,345.88 L190.62,345.76 L190.60,346.10 L190.70,346.33 L190.85,346.51 L190.78,346.89 L191.02,346.99 L191.13,347.20 L191.10,347.54 L191.55,347.44 L191.41,347.89 L191.97,347.70 L191.95,348.03 L191.96,348.32 L192.45,348.20 L191.34,349.17 A50.8,50.8 0 0 0 180.96,340.09 Z M191.92,349.85 L192.72,349.17 L192.80,349.41 L193.04,349.51 L193.27,349.62 L193.41,349.81 L193.37,350.14 L193.87,350.04 L194.08,350.17 L193.88,350.63 L194.23,350.65 L194.20,350.96 L194.60,350.95 L194.63,351.22 L195.25,351.05 L195.63,351.06 L196.09,351.02 L196.26,351.19 L196.76,351.13 L197.41,350.96 L197.77,351.02 L196.42,352.25 L197.85,351.55 L197.53,352.07 L197.85,352.14 L198.75,351.83 L199.20,351.83 L202.02,350.28 L200.27,351.73 L199.68,352.41 L201.13,351.78 L199.04,353.40 L199.93,353.13 L198.99,354.01 L199.49,353.98 L199.24,354.42 L199.14,354.76 L199.06,355.10 L198.58,355.66 L198.77,355.82 L198.11,356.47 L198.54,356.50 L198.58,356.75 L198.32,357.16 L198.31,357.43 L198.74,357.46 L198.90,357.64 L198.95,357.88 L199.18,358.02 L199.16,358.30 L199.36,358.46 L199.30,358.75 L199.26,359.03 L198.30,359.52 A50.8,50.8 0 0 0 191.92,349.85 Z M198.70,360.31 L199.95,359.70 L200.91,359.50 L200.38,360.02 L200.53,360.21 L202.34,359.63 L202.09,360.01 L201.86,360.39 L203.46,359.94 L202.27,360.73 L203.31,360.55 L205.53,359.86 L205.04,360.35 L204.25,360.96 L205.12,360.86 L204.75,361.29 L204.93,361.49 L204.48,361.94 L206.34,361.48 L206.64,361.64 L203.67,363.05 L204.34,363.06 L203.04,363.81 L204.60,363.49 L203.61,364.12 L203.29,364.49 L203.19,364.78 L203.39,364.97 L203.06,365.33 L203.19,365.54 L202.92,365.88 L202.87,366.15 L203.46,366.21 L203.10,366.57 L203.20,366.79 L203.81,366.85 L204.48,366.90 L205.87,366.73 L205.77,367.02 L206.56,367.05 L205.60,367.59 L204.70,368.09 L206.94,367.73 L207.76,367.77 L208.50,367.84 L206.49,368.63 L207.38,368.66 L205.65,369.35 L207.00,369.27 L204.55,370.12 L205.18,370.21 L205.48,370.39 L204.90,370.77 L204.97,371.00 L205.13,371.21 L204.47,371.60 L204.46,371.84 L202.74,372.20 A50.8,50.8 0 0 0 198.70,360.31 Z M202.92,373.07 L203.99,372.87 L204.05,373.09 L204.45,373.26 L203.99,373.58 L204.47,373.74 L204.44,373.98 L204.25,374.25 L204.63,374.43 L204.66,374.66 L204.61,374.91 L204.77,375.12 L205.27,375.29 L204.86,375.59 L206.02,375.68 L206.06,375.92 L206.88,376.06 L207.40,376.25 L206.08,376.65 L206.84,376.81 L208.00,376.94 L207.93,377.20 L209.78,377.28 L211.05,377.42 L208.85,377.87 L209.58,378.07 L210.39,378.26 L209.41,378.59 L207.53,378.97 L208.46,379.16 L208.70,379.40 L208.57,379.66 L208.53,379.91 L206.90,380.24 L206.84,380.48 L207.12,380.72 L205.66,381.00 L205.26,381.25 L205.97,381.47 L205.00,381.73 L205.29,381.96 L205.18,382.20 L205.14,382.43 L205.26,382.67 L205.06,382.90 L204.88,383.14 L204.82,383.37 L205.11,383.61 L204.92,383.84 L204.90,384.08 L204.83,384.31 L203.77,384.27 A50.8,50.8 0 0 0 202.92,373.07 Z M203.73,385.16 L204.99,385.22 L205.16,385.47 L204.85,385.68 L204.72,385.90 L205.02,386.15 L205.06,386.39 L205.00,386.62 L204.80,386.83 L204.74,387.06 L204.97,387.31 L204.63,387.51 L204.69,387.75 L204.74,387.99 L204.66,388.21 L204.89,388.47 L204.52,388.66 L204.96,388.95 L204.91,389.17 L205.02,389.42 L205.10,389.67 L205.91,390.02 L206.15,390.30 L205.44,390.43 L205.60,390.69 L208.14,391.34 L208.21,391.60 L207.95,391.81 L209.15,392.27 L208.68,392.45 L210.95,393.12 L208.99,393.02 L211.96,393.84 L208.18,393.37 L208.35,393.66 L208.26,393.90 L206.94,393.88 L208.44,394.45 L207.41,394.48 L209.19,395.13 L208.42,395.22 L206.25,394.97 L205.89,395.13 L205.90,395.39 L204.86,395.38 L204.74,395.59 L204.45,395.76 L203.94,395.87 L203.79,396.07 L203.45,396.22 L203.26,396.41 L203.07,396.60 L202.90,396.79 L202.67,396.96 L202.80,397.24 L202.74,397.47 L202.86,397.74 L201.58,397.35 A50.8,50.8 0 0 0 203.73,385.16 Z M201.31,398.20 L202.67,398.64 L202.62,398.87 L202.51,399.07 L202.67,399.37 L202.93,399.71 L203.66,400.22 L203.76,400.50 L203.38,400.62 L203.81,401.03 L205.21,401.81 L204.07,401.64 L205.44,402.42 L206.43,403.07 L203.53,402.21 L206.16,403.51 L206.59,403.96 L209.64,405.47 L205.61,404.11 L208.78,405.70 L209.67,406.37 L206.00,405.10 L205.25,405.06 L204.26,404.90 L205.30,405.63 L204.37,405.49 L203.23,405.25 L203.46,405.63 L203.63,405.98 L204.28,406.56 L206.04,407.67 L202.82,406.41 L203.61,407.07 L205.30,408.18 L205.60,408.62 L203.62,407.92 L202.54,407.65 L206.88,410.16 L206.64,410.33 L209.29,412.03 L203.30,409.17 L204.25,409.97 L201.57,408.81 L203.64,410.22 L204.40,410.93 L199.96,408.75 L200.09,409.10 L200.48,409.60 L199.01,409.03 L200.03,409.90 L199.70,409.99 L198.26,409.41 L198.35,409.74 L197.97,409.78 L197.27,409.63 L196.31,409.04 A50.8,50.8 0 0 0 201.31,398.20 Z M195.84,409.79 L196.94,410.49 L196.48,410.48 L196.63,410.86 L196.47,411.03 L196.14,411.10 L196.31,411.49 L196.04,411.60 L195.79,411.72 L195.84,412.04 L195.60,412.16 L195.85,412.62 L195.37,412.57 L195.90,413.25 L195.43,413.20 L196.01,413.92 L196.27,414.41 L196.87,415.16 L196.62,415.28 L197.43,416.21 L196.19,415.58 L196.65,416.25 L196.15,416.18 L195.69,416.13 L196.61,417.18 L200.73,420.81 L198.37,419.26 L198.34,419.57 L198.53,420.07 L197.10,419.23 L194.68,417.54 L194.93,418.08 L195.92,419.25 L194.47,418.34 L193.37,417.71 L193.64,418.27 L193.34,418.34 L192.84,418.22 L193.28,418.95 L192.24,418.33 L192.15,418.58 L191.45,418.25 L191.21,418.35 L190.87,418.37 L190.72,418.55 L189.73,417.60 A50.8,50.8 0 0 0 195.84,409.79 Z M189.11,418.23 L190.14,419.26 L189.77,419.22 L189.52,419.29 L189.35,419.45 L189.19,419.62 L189.16,419.92 L189.03,420.12 L189.19,420.63 L189.73,421.55 L189.78,421.95 L189.28,421.76 L189.03,421.85 L190.25,423.54 L190.77,424.50 L189.99,423.99 L188.63,422.83 L191.34,426.29 L191.69,427.09 L188.75,424.08 L192.73,429.13 L190.46,426.86 L188.86,425.35 L188.07,424.79 L188.44,425.63 L187.55,424.93 L188.77,426.83 L187.98,426.25 L187.86,426.50 L186.46,425.13 L185.92,424.83 L185.76,425.01 L185.37,424.91 L184.63,424.32 L184.80,424.93 L184.32,424.69 L183.95,424.57 L183.52,424.39 L183.44,424.67 L183.24,424.80 L183.04,424.91 L183.02,425.28 L182.56,425.03 L182.53,425.40 L182.31,425.49 L182.12,425.63 L182.03,425.91 L181.61,425.70 L181.37,425.76 L181.24,425.98 L181.16,426.28 L180.84,426.22 L180.89,426.72 L180.64,426.77 L180.40,426.83 L180.24,427.00 L179.94,426.96 L179.81,427.19 L179.53,427.19 L178.94,426.18 A50.8,50.8 0 0 0 189.11,418.23 Z M178.17,426.63 L178.75,427.64 L178.54,427.74 L178.46,428.08 L178.04,427.80 L177.91,428.04 L177.70,428.14 L177.58,428.42 L177.28,428.34 L177.27,428.82 L177.00,428.80 L177.13,429.58 L176.79,429.42 L176.87,430.10 L177.06,431.02 L176.25,429.93 L177.14,432.30 L176.09,430.69 L176.37,431.82 L176.56,432.81 L175.76,431.68 L175.74,432.21 L176.83,435.21 L176.53,435.19 L177.48,437.97 L175.91,435.04 L175.94,435.75 L174.85,433.85 L174.76,434.29 L174.58,434.51 L174.05,433.88 L173.81,433.96 L173.10,432.84 L172.36,431.61 L172.35,432.25 L172.01,432.03 L171.73,431.95 L171.49,432.00 L171.25,432.03 L170.96,431.93 L170.52,431.39 L170.35,431.58 L170.15,431.73 L169.83,431.50 L169.72,431.92 L169.42,431.76 L169.19,431.78 L168.99,431.92 L168.84,432.23 L168.51,431.96 L168.28,431.98 L168.09,432.16 L167.98,432.60 L167.60,432.12 L167.53,432.73 L167.24,432.55 L166.99,432.54 L166.83,432.83 L166.49,432.45 L166.27,432.54 L166.05,432.61 L165.81,431.66 A50.8,50.8 0 0 0 178.17,426.63 Z M164.95,431.88 L165.26,433.18 L164.98,433.01 L164.76,433.08 L164.49,432.92 L164.37,433.48 L164.08,433.23 L163.81,433.08 L163.70,433.69 L163.39,433.30 L163.24,433.73 L163.02,433.85 L162.77,433.77 L162.53,433.78 L162.36,434.14 L162.14,434.22 L162.09,435.35 L161.72,434.58 L161.50,434.67 L161.23,434.49 L161.38,437.00 L160.98,435.96 L160.94,437.42 L160.64,437.02 L160.20,435.65 L160.14,436.98 L159.79,436.24 L159.54,436.11 L159.54,438.23 L159.07,436.32 L158.82,436.25 L158.73,437.74 L158.30,435.91 L158.05,435.77 L157.91,436.86 L157.67,436.92 L157.42,436.82 L157.10,435.93 L156.81,435.13 L156.53,434.55 L156.35,435.43 L156.10,435.12 L155.82,434.36 L155.60,434.60 L155.36,434.54 L155.13,434.40 L154.90,434.67 L154.67,434.53 L154.43,434.22 L154.20,434.31 L153.96,434.24 L153.73,434.23 L153.50,434.49 L153.27,434.72 L153.27,433.30 A50.8,50.8 0 0 0 164.95,431.88 Z M152.38,433.30 L152.36,434.97 L152.10,436.44 L151.87,435.90 L151.60,437.01 L151.37,436.52 L151.05,438.62 L150.75,439.87 L150.58,437.67 L150.34,437.63 L149.86,441.93 L149.53,443.00 L149.54,438.42 L149.00,442.65 L148.71,442.93 L148.74,438.91 L148.27,441.57 L147.85,443.42 L147.69,442.05 L147.80,438.05 L147.49,438.65 L147.34,437.54 L147.14,437.15 L146.65,439.28 L146.59,437.52 L146.33,437.63 L146.21,436.57 L145.92,436.86 L145.48,438.29 L145.07,439.41 L145.01,438.01 L145.03,436.12 L144.45,438.31 L143.77,441.00 L143.36,441.86 L143.50,439.38 L143.41,438.36 L143.17,438.23 L143.28,436.23 L142.66,438.21 L142.70,436.60 L142.76,435.04 L142.45,435.35 L142.39,434.41 L142.07,434.79 L142.02,433.87 L141.71,434.16 L141.58,433.66 L141.32,433.72 L141.22,433.14 L141.49,431.98 A50.8,50.8 0 0 0 152.38,433.30 Z M140.62,431.77 L140.27,433.19 L140.13,432.77 L139.94,432.59 L139.67,432.70 L139.38,432.90 L139.18,432.76 L138.95,432.71 L138.79,432.43 L138.56,432.37 L138.34,432.31 L138.14,432.16 L137.81,432.45 L137.54,432.54 L137.14,433.03 L136.81,433.29 L136.55,433.31 L136.28,433.38 L136.24,432.75 L135.61,433.85 L135.53,433.34 L135.15,433.72 L134.09,435.97 L134.72,433.47 L133.50,436.13 L132.22,438.85 L133.48,434.71 L132.25,437.27 L132.79,435.12 L132.61,434.90 L131.59,436.80 L131.59,436.10 L132.22,433.86 L131.54,434.87 L132.18,432.66 L132.06,432.33 L132.11,431.59 L131.43,432.56 L131.68,431.38 L131.48,431.24 L131.36,430.92 L131.46,430.13 L131.25,430.02 L131.01,430.00 L131.03,429.40 L131.45,428.50 A50.8,50.8 0 0 0 140.62,431.77 Z M130.65,428.12 L130.08,429.30 L129.90,429.12 L129.77,428.86 L129.51,428.86 L129.34,428.69 L129.07,428.70 L128.61,429.08 L128.60,428.59 L128.18,428.87 L127.86,428.97 L127.60,428.96 L127.15,429.28 L127.29,428.55 L126.81,428.91 L126.62,428.76 L125.09,430.94 L125.08,430.46 L124.97,430.16 L125.18,429.32 L123.42,431.78 L124.06,430.23 L122.75,431.89 L124.16,429.12 L124.35,428.35 L123.73,428.88 L123.59,428.63 L122.98,429.12 L123.82,427.37 L123.66,427.18 L123.40,427.15 L123.09,427.18 L123.33,426.40 L122.91,426.59 L123.06,425.95 L123.03,425.58 L122.91,425.34 L122.77,425.13 L122.87,424.59 L122.53,424.67 L122.33,424.54 L122.33,424.15 L122.08,424.10 L121.96,423.88 L121.74,423.78 L121.33,423.93 L121.19,423.73 L121.22,423.31 L120.90,423.35 L120.51,423.46 L120.42,423.20 L120.28,423.01 L120.31,422.60 L119.95,422.67 L119.85,422.42 L119.68,422.26 L119.60,422.00 L119.40,421.88 L119.03,421.95 L118.74,421.93 L118.69,421.63 L118.38,421.63 L119.34,420.55 A50.8,50.8 0 0 0 130.65,428.12 Z M118.68,419.95 L117.80,420.91 L117.53,420.87 L117.49,420.57 L117.04,420.70 L116.82,420.60 L116.49,420.60 L116.11,420.65 L115.58,420.86 L115.84,420.25 L115.09,420.67 L114.90,420.52 L114.26,420.82 L114.03,420.71 L112.59,421.76 L112.75,421.26 L111.57,422.04 L109.45,423.69 L112.70,420.28 L107.65,424.64 L109.89,422.19 L111.65,420.23 L111.37,420.16 L110.24,420.82 L110.66,420.11 L111.50,419.03 L109.87,420.13 L111.09,418.74 L111.50,418.06 L111.94,417.36 L111.12,417.74 L112.34,416.40 L112.05,416.34 L112.01,416.07 L112.58,415.30 L112.11,415.38 L112.08,415.10 L112.23,414.68 L112.22,414.40 L111.84,414.40 L111.65,414.26 L111.47,414.10 L111.39,413.87 L111.54,413.47 L111.42,413.26 L112.16,412.72 A50.8,50.8 0 0 0 118.68,419.95 Z M111.64,412.00 L110.00,413.17 L109.77,413.04 L109.05,413.25 L108.28,413.49 L108.12,413.31 L108.03,413.07 L106.90,413.54 L106.73,413.35 L107.28,412.69 L107.27,412.40 L105.48,413.27 L105.39,413.03 L105.14,412.88 L105.91,412.09 L106.90,411.19 L107.33,410.63 L106.54,410.83 L106.70,410.45 L106.24,410.44 L107.26,409.55 L107.49,409.14 L106.89,409.21 L106.55,409.13 L106.92,408.65 L106.64,408.53 L106.57,408.29 L105.76,408.47 L105.51,408.33 L105.44,408.09 L104.62,408.25 L105.29,407.62 L103.67,408.19 L104.06,407.71 L101.88,408.54 L104.36,407.00 L101.15,408.33 L101.47,407.88 L100.72,407.95 L99.69,408.16 L101.54,406.99 L102.11,406.44 L101.77,406.31 L102.83,405.55 L102.68,405.34 L102.09,405.33 L104.19,404.13 L106.56,403.08 A50.8,50.8 0 0 0 111.64,412.00 Z M106.20,402.27 L104.93,402.80 L105.12,402.48 L104.73,402.39 L104.74,402.13 L104.99,401.78 L104.18,401.85 L103.98,401.68 L104.13,401.37 L103.20,401.48 L102.40,401.53 L103.55,400.84 L101.20,401.45 L101.90,400.94 L101.76,400.73 L102.14,400.34 L100.72,400.58 L97.06,401.57 L99.30,400.54 L98.94,400.39 L96.23,401.00 L97.48,400.33 L93.61,401.28 L95.56,400.38 L99.15,399.00 L99.73,398.56 L97.02,399.11 L98.67,398.36 L100.83,397.47 L99.16,397.69 L100.16,397.16 L99.18,397.17 L100.14,396.66 L101.03,396.17 L100.77,395.99 L101.33,395.60 L101.90,395.22 L101.86,394.98 L102.46,394.60 L102.18,394.43 L102.13,394.20 L102.34,393.92 L102.05,393.74 L102.28,393.46 L102.04,393.27 L102.09,393.03 L101.97,392.81 L101.82,392.61 L101.93,392.35 L101.77,392.14 L101.77,391.91 L101.92,391.64 L101.61,391.46 L101.96,391.17 L101.99,390.93 L101.45,390.78 L101.49,390.54 L101.62,390.29 L101.28,390.11 L101.38,389.86 L101.47,389.61 L101.67,389.35 L102.65,389.22 A50.8,50.8 0 0 0 106.20,402.27 Z M102.54,388.34 L100.49,388.58 L99.20,388.48 L98.26,388.34 L97.93,388.13 L98.06,387.87 L98.94,387.54 L97.45,387.43 L98.25,387.11 L96.32,387.02 L98.53,386.60 L96.84,386.47 L97.99,386.14 L99.39,385.81 L97.55,385.68 L98.08,385.40 L98.39,385.14 L98.86,384.87 L100.41,384.57 L99.98,384.35 L99.99,384.11 L100.67,383.86 L100.04,383.64 L100.88,383.39 L100.73,383.16 L100.76,382.93 L100.59,382.69 L100.95,382.46 L100.88,382.23 L100.81,381.99 L100.70,381.76 L100.79,381.53 L100.15,381.28 L100.11,381.04 L99.77,380.80 L99.34,380.54 L99.23,380.30 L99.03,380.05 L100.12,379.86 L99.07,379.57 L96.88,379.20 L99.31,379.10 L97.40,378.73 L96.20,378.40 L98.57,378.32 L97.59,378.00 L96.41,377.65 L98.91,377.62 L98.67,377.35 L98.41,377.08 L99.84,376.99 L98.94,376.65 L99.51,376.47 L99.51,376.23 L100.46,376.10 L101.03,375.94 L102.60,376.13 A50.8,50.8 0 0 0 102.54,388.34 Z M102.72,375.25 L101.32,375.05 L101.67,374.87 L101.40,374.59 L101.39,374.36 L101.39,374.12 L101.50,373.90 L100.93,373.57 L100.89,373.32 L100.13,372.95 L100.02,372.68 L99.51,372.34 L98.82,371.96 L97.92,371.53 L98.08,371.31 L99.21,371.29 L96.89,370.54 L96.51,370.20 L95.98,369.82 L96.72,369.72 L96.10,369.31 L97.97,369.49 L97.59,369.14 L98.40,369.07 L98.70,368.89 L98.10,368.48 L99.81,368.67 L99.80,368.41 L101.25,368.55 L101.38,368.33 L100.66,367.89 L102.09,368.04 L102.45,367.90 L102.16,367.57 L102.79,367.51 L102.95,367.32 L103.17,367.14 L103.61,367.03 L103.70,366.82 L103.45,366.50 L103.51,366.28 L103.53,366.04 L103.56,365.80 L103.58,365.56 L103.75,365.38 L103.98,365.21 L103.84,364.92 L103.91,364.69 L103.99,364.48 L104.42,364.39 L104.15,364.04 L104.40,363.88 L104.35,363.61 L104.74,363.52 L104.83,363.31 L104.70,363.01 L105.11,362.92 L105.17,362.70 L105.01,362.38 L105.00,362.13 L106.24,362.65 A50.8,50.8 0 0 0 102.72,375.25 Z M106.59,361.84 L103.44,360.43 L104.14,360.48 L103.75,360.03 L103.43,359.61 L103.65,359.44 L101.95,358.37 L103.91,359.02 L100.50,357.09 L100.69,356.89 L98.05,355.28 L97.93,354.91 L99.87,355.58 L103.61,357.19 L101.61,355.87 L100.76,355.13 L101.78,355.36 L103.08,355.76 L102.67,355.24 L104.28,355.83 L103.09,354.88 L101.81,353.87 L104.23,354.93 L102.53,353.66 L102.35,353.25 L104.93,354.45 L105.18,354.30 L102.24,352.26 L103.24,352.55 L100.74,350.72 L100.33,350.14 L102.65,351.24 L102.28,350.70 L102.43,350.47 L105.09,351.84 L107.54,353.12 L104.97,351.15 L107.70,352.63 L107.58,352.26 L106.77,351.41 L108.73,352.44 L108.77,352.17 L109.60,352.45 L111.24,353.58 A50.8,50.8 0 0 0 106.59,361.84 Z M111.75,352.86 L109.95,351.56 L110.13,351.41 L109.46,350.62 L109.97,350.70 L109.12,349.77 L108.84,349.25 L108.70,348.84 L107.67,347.73 L108.34,347.93 L109.77,348.73 L107.74,346.81 L109.93,348.23 L110.33,348.23 L109.20,347.00 L109.00,346.51 L109.88,346.91 L109.96,346.66 L112.23,348.24 L111.68,347.46 L111.59,347.06 L112.18,347.25 L113.08,347.71 L113.18,347.49 L112.80,346.84 L112.43,346.18 L113.03,346.40 L113.71,346.70 L111.94,344.74 L113.77,346.10 L111.94,344.07 L113.72,345.40 L111.57,343.02 L110.04,341.19 L110.97,341.72 L109.03,339.46 L111.27,341.28 L111.62,341.27 L111.42,340.69 L114.05,342.99 L114.53,343.12 L112.49,340.67 L114.18,342.05 L113.85,341.34 L116.05,343.30 L115.17,342.01 L115.88,342.41 L118.48,345.23 A50.8,50.8 0 0 0 111.75,352.86 Z M119.14,344.63 L118.39,343.79 L118.32,343.36 L118.55,343.27 L118.86,343.27 L119.19,343.28 L119.09,342.81 L119.56,343.00 L119.60,342.69 L119.65,342.38 L119.95,342.38 L120.21,342.33 L120.25,342.00 L120.66,342.14 L120.80,341.94 L120.83,341.60 L120.96,341.39 L120.72,340.69 L121.27,341.02 L120.88,340.12 L121.18,340.12 L121.38,339.99 L121.09,339.19 L120.73,338.29 L120.64,337.75 L121.29,338.22 L121.17,337.63 L122.09,338.51 L121.47,337.19 L120.88,335.89 L122.41,337.69 L122.30,337.09 L122.41,336.82 L122.27,336.15 L122.17,335.54 L123.30,336.82 L123.97,337.41 L124.00,337.00 L124.77,337.76 L124.87,337.48 L125.32,337.76 L125.20,337.10 L125.45,337.05 L125.78,337.13 L126.18,337.34 L126.63,337.64 L126.87,337.58 L127.01,337.36 L127.21,337.24 L127.60,337.45 L127.62,337.01 L127.95,337.12 L128.45,338.03 A50.8,50.8 0 0 0 119.14,344.63 Z M129.23,337.60 L128.53,336.29 L128.84,336.37 L129.16,336.49 L129.16,335.98 L129.58,336.28 L129.48,335.56 L129.77,335.63 L129.88,335.31 L130.00,335.02 L130.13,334.74 L129.67,333.22 L130.40,334.19 L129.69,332.09 L129.56,331.22 L130.41,332.48 L130.99,333.17 L130.78,332.09 L129.38,328.26 L130.21,329.53 L130.59,329.75 L130.20,328.18 L130.78,328.89 L131.08,328.93 L131.43,329.09 L131.36,328.22 L132.47,330.32 L132.49,329.68 L132.58,329.22 L133.97,332.17 L134.05,331.68 L134.28,331.60 L134.71,332.07 L135.02,332.24 L135.47,332.79 L135.61,332.49 L136.01,332.92 L136.36,333.22 L136.48,332.85 L136.97,334.30 A50.8,50.8 0 0 0 129.23,337.60 Z M137.81,334.02 L137.40,332.73 L137.73,333.01 L137.87,332.68 L138.08,332.55 L138.27,332.38 L138.59,332.67 L138.75,332.39 L138.91,332.08 L139.04,331.68 L139.18,331.29 L139.42,331.27 L139.55,330.85 L139.85,331.06 L139.68,329.39 L139.86,329.13 L140.23,329.60 L140.53,329.83 L140.56,328.89 L140.85,329.06 L140.71,327.28 L140.96,327.26 L140.88,325.68 L141.75,328.61 L141.66,326.95 L142.35,329.09 L142.31,327.61 L142.70,328.36 L143.13,329.30 L143.25,328.61 L143.26,327.25 L143.76,328.72 L143.94,328.30 L144.47,330.02 L144.51,328.79 L144.89,329.64 L145.15,329.76 L145.46,330.26 L145.76,330.74 L146.04,331.06 L146.26,330.98 L146.48,330.89 L146.71,330.82 L146.95,330.85 L147.14,330.54 L147.39,330.65 L147.62,330.65 L147.84,330.51 L148.07,330.45 L148.32,330.66 L148.56,330.73 L148.66,331.89 A50.8,50.8 0 0 0 137.81,334.02 Z" fill="#1d8ff0"/>
<path d="M153.12,348.50 L153.12,347.36 L153.28,347.45 L153.43,347.47 L153.59,347.35 L153.75,347.38 L153.90,347.56 L154.06,347.37 L154.21,347.59 L154.37,347.48 L154.53,347.45 L154.69,347.47 L154.84,347.63 L155.01,347.37 L155.15,347.58 L155.31,347.52 L155.47,347.43 L155.63,347.42 L155.77,347.68 L155.94,347.49 L156.09,347.64 L156.25,347.54 L156.41,347.51 L156.54,347.77 L156.71,347.68 L156.89,347.44 L157.06,347.34 L157.25,347.11 L157.41,347.10 L157.61,346.81 L157.84,346.32 L158.10,345.58 L158.31,345.33 L158.59,344.55 L158.75,344.66 L159.11,343.47 L159.46,342.37 L159.57,342.85 L160.07,340.98 L160.21,341.27 L160.65,339.86 L161.11,338.42 L161.45,337.73 L161.22,339.95 L160.95,342.35 L160.87,343.67 L160.87,344.51 L160.84,345.48 L160.95,345.79 L160.90,346.81 L160.97,347.22 L161.02,347.72 L161.11,348.04 L161.20,348.33 L161.34,348.41 L161.46,348.61 L161.67,348.41 L161.82,348.43 L161.94,348.60 L162.09,348.66 L162.23,348.74 L162.37,348.80 L162.57,348.69 L162.68,348.86 L162.86,348.80 L162.98,348.96 L163.12,349.03 L163.28,349.03 L163.42,349.12 L163.59,349.08 L163.71,349.23 L163.92,349.10 L163.56,350.18 A34.0,34.0 0 0 0 153.12,348.50 Z M164.13,350.37 L164.51,349.26 L164.62,349.43 L164.74,349.55 L164.98,349.33 L165.14,349.37 L165.40,349.13 L165.63,348.97 L165.92,348.64 L166.18,348.43 L166.53,347.97 L166.79,347.76 L167.19,347.22 L167.67,346.49 L168.24,345.56 L168.69,344.97 L168.73,345.33 L169.72,343.48 L170.38,342.44 L170.62,342.37 L171.25,341.43 L171.52,341.31 L170.48,344.10 L170.11,345.34 L170.08,345.85 L169.76,346.95 L169.35,348.21 L169.22,348.88 L169.14,349.43 L169.05,349.96 L168.93,350.57 L168.88,351.02 L168.97,351.20 L169.13,351.23 L169.18,351.47 L169.32,351.55 L169.46,351.61 L169.57,351.74 L169.73,351.77 L169.88,351.83 L170.09,351.76 L170.16,351.96 L170.33,351.98 L170.41,352.16 L170.52,352.28 L170.68,352.31 L170.87,352.30 L170.97,352.43 L171.11,352.50 L171.30,352.49 L171.36,352.69 L171.58,352.63 L171.69,352.76 L171.73,352.98 L171.22,353.79 A34.0,34.0 0 0 0 164.13,350.37 Z M171.72,354.12 L172.36,353.13 L172.39,353.38 L172.56,353.40 L172.72,353.44 L172.90,353.47 L172.87,353.78 L173.01,353.86 L173.19,353.87 L173.28,354.01 L173.37,354.15 L173.54,354.19 L173.70,354.24 L173.75,354.42 L173.94,354.44 L174.12,354.45 L174.27,354.52 L174.43,354.57 L174.48,354.76 L174.76,354.66 L174.93,354.69 L175.37,354.39 L175.78,354.14 L175.89,354.26 L176.41,353.87 L176.90,353.55 L177.21,353.44 L177.74,353.07 L178.12,352.89 L178.90,352.24 L179.50,351.81 L180.42,351.04 L181.63,349.94 L182.16,349.63 L183.61,348.32 L182.77,349.55 L182.43,350.21 L181.73,351.26 L180.57,352.79 L179.83,353.84 L179.54,354.41 L178.85,355.38 L178.67,355.81 L178.26,356.48 L177.88,357.09 L177.79,357.40 L177.88,357.54 L177.87,357.77 L178.05,357.81 L178.05,358.03 L178.15,358.15 L178.27,358.26 L178.50,358.26 L178.43,358.54 L178.61,358.58 L178.74,358.67 L178.84,358.79 L178.94,358.91 L179.05,359.02 L179.18,359.12 L179.22,359.29 L179.34,359.40 L179.37,359.57 L178.66,360.19 A34.0,34.0 0 0 0 171.72,354.12 Z M179.05,360.65 L179.76,360.05 L180.03,360.03 L180.09,360.18 L180.15,360.33 L180.14,360.54 L180.26,360.65 L180.49,360.66 L180.59,360.79 L180.66,360.93 L180.71,361.09 L180.84,361.19 L181.26,361.07 L181.39,361.17 L181.83,361.04 L182.16,361.00 L182.35,361.06 L182.85,360.90 L183.65,360.53 L184.31,360.27 L184.36,360.44 L184.92,360.26 L186.40,359.45 L186.43,359.65 L187.91,358.87 L189.20,358.24 L188.38,359.01 L190.27,358.00 L189.19,358.94 L188.06,359.90 L187.82,360.28 L186.03,361.62 L185.78,361.99 L184.94,362.71 L184.55,363.15 L184.21,363.55 L183.81,363.98 L183.34,364.45 L183.34,364.63 L183.25,364.87 L183.24,365.05 L183.35,365.17 L183.58,365.22 L183.47,365.46 L183.63,365.55 L183.86,365.61 L183.85,365.79 L184.02,365.88 L184.00,366.07 L184.13,366.18 L184.12,366.36 L184.31,366.44 L184.21,366.66 L183.32,367.12 A34.0,34.0 0 0 0 179.05,360.65 Z M183.58,367.65 L184.89,367.02 L185.50,366.90 L185.71,366.98 L186.20,366.93 L186.92,366.78 L187.50,366.70 L188.19,366.57 L188.39,366.68 L189.30,366.46 L189.63,366.52 L191.78,365.78 L191.08,366.29 L192.29,365.98 L194.19,365.40 L193.65,365.84 L194.25,365.81 L191.32,367.20 L190.47,367.73 L190.08,368.08 L189.49,368.50 L188.08,369.22 L187.45,369.63 L187.06,369.96 L186.65,370.28 L186.39,370.54 L186.30,370.74 L186.23,370.94 L186.26,371.09 L186.70,371.11 L186.91,371.21 L187.23,371.28 L187.90,371.23 L188.43,371.24 L188.65,371.34 L189.24,371.34 L190.81,371.04 L191.48,371.02 L192.30,370.97 L193.03,370.96 L193.42,371.04 L193.65,371.17 L196.97,370.46 L195.73,371.00 L195.53,371.26 L194.28,371.79 L193.30,372.24 L192.57,372.62 L191.61,373.04 L190.37,373.52 L189.88,373.82 L189.09,374.18 L188.23,374.54 L187.81,374.80 L187.45,375.04 L187.40,375.21 L187.32,375.39 L186.29,375.61 A34.0,34.0 0 0 0 183.58,367.65 Z M186.41,376.19 L187.53,375.98 L187.58,376.13 L187.56,376.29 L187.62,376.44 L187.42,376.64 L187.66,376.76 L187.54,376.94 L187.64,377.08 L187.76,377.23 L188.04,377.35 L188.25,377.48 L188.72,377.58 L189.03,377.70 L189.46,377.81 L190.43,377.86 L190.77,377.99 L191.47,378.08 L192.10,378.19 L192.79,378.29 L193.67,378.39 L194.49,378.49 L194.62,378.67 L196.53,378.69 L197.82,378.78 L196.65,379.08 L195.96,379.33 L195.00,379.59 L193.68,379.87 L192.02,380.15 L191.32,380.37 L190.77,380.57 L189.97,380.78 L189.25,380.98 L188.71,381.16 L188.43,381.33 L188.23,381.50 L188.06,381.66 L188.11,381.82 L187.90,381.98 L187.95,382.14 L188.03,382.30 L188.01,382.46 L187.94,382.61 L188.03,382.77 L187.90,382.93 L188.03,383.09 L187.97,383.25 L188.05,383.41 L188.01,383.56 L188.01,383.72 L186.98,383.69 A34.0,34.0 0 0 0 186.41,376.19 Z M186.95,384.28 L188.05,384.34 L188.03,384.49 L188.04,384.65 L188.03,384.80 L187.94,384.95 L188.01,385.12 L188.08,385.28 L187.80,385.41 L187.91,385.58 L187.78,385.72 L187.91,385.89 L187.90,386.04 L187.87,386.20 L187.92,386.36 L187.81,386.51 L187.97,386.68 L187.83,386.82 L188.00,387.00 L188.32,387.20 L188.67,387.41 L188.98,387.62 L189.33,387.83 L189.73,388.05 L190.51,388.34 L191.14,388.61 L192.18,388.96 L192.36,389.17 L192.85,389.44 L194.03,389.83 L194.33,390.07 L195.07,390.40 L196.19,390.81 L196.83,391.14 L196.60,391.29 L195.56,391.28 L193.61,391.07 L192.51,391.02 L191.41,390.96 L189.90,390.80 L189.49,390.88 L188.86,390.90 L188.30,390.93 L187.83,390.98 L187.23,391.00 L187.06,391.12 L186.97,391.26 L186.89,391.40 L186.87,391.55 L186.91,391.73 L186.87,391.87 L186.60,391.96 L186.70,392.15 L186.59,392.28 L186.47,392.41 L186.67,392.63 L186.66,392.79 L185.51,392.44 A34.0,34.0 0 0 0 186.95,384.28 Z M185.34,393.01 L186.43,393.36 L186.33,393.49 L186.24,393.63 L186.63,393.93 L186.81,394.15 L186.81,394.32 L187.15,394.61 L187.40,394.87 L188.11,395.30 L188.15,395.50 L188.45,395.79 L189.39,396.32 L189.74,396.64 L190.01,396.94 L190.79,397.44 L192.85,398.45 L192.60,398.56 L193.34,399.07 L194.81,399.89 L192.68,399.21 L192.08,399.16 L190.58,398.72 L189.82,398.59 L188.45,398.18 L187.89,398.12 L187.84,398.28 L187.31,398.23 L187.29,398.40 L187.02,398.46 L187.56,398.90 L187.68,399.15 L188.23,399.61 L189.31,400.33 L189.48,400.61 L189.69,400.92 L190.46,401.52 L191.94,402.49 L191.29,402.37 L191.34,402.61 L189.70,401.96 L189.43,402.02 L188.29,401.62 L186.75,400.98 L186.55,401.06 L185.66,400.76 L184.89,400.51 L184.37,400.41 L184.02,400.39 L183.67,400.37 L183.33,400.35 L183.22,400.47 L183.03,400.54 L182.95,400.67 L182.83,400.78 L181.99,400.26 A34.0,34.0 0 0 0 185.34,393.01 Z M181.68,400.77 L182.66,401.40 L182.46,401.46 L182.34,401.57 L182.31,401.74 L182.23,401.88 L182.13,402.00 L181.93,402.06 L181.84,402.19 L181.85,402.39 L181.74,402.51 L181.82,402.76 L181.92,403.03 L181.83,403.16 L181.99,403.48 L182.05,403.72 L182.50,404.26 L182.77,404.66 L183.11,405.13 L183.24,405.44 L183.90,406.16 L184.09,406.54 L184.43,407.03 L185.09,407.78 L185.68,408.49 L185.46,408.56 L187.29,410.28 L186.43,409.84 L186.12,409.83 L184.94,409.11 L183.94,408.51 L183.13,408.06 L182.19,407.49 L181.39,407.04 L180.89,406.82 L180.13,406.38 L179.92,406.41 L179.45,406.22 L178.98,406.00 L178.91,406.16 L178.76,406.23 L178.58,406.29 L178.63,406.55 L178.39,406.54 L178.26,406.63 L177.58,405.99 A34.0,34.0 0 0 0 181.68,400.77 Z M177.17,406.42 L178.00,407.24 L177.86,407.32 L177.61,407.29 L177.58,407.48 L177.50,407.62 L177.63,407.99 L177.54,408.12 L177.87,408.70 L177.78,408.84 L178.04,409.36 L178.23,409.80 L178.78,410.65 L179.03,411.18 L179.20,411.63 L179.82,412.59 L179.99,413.05 L179.93,413.26 L180.51,414.20 L181.14,415.23 L182.00,416.54 L183.18,418.25 L182.02,417.18 L181.08,416.36 L179.12,414.29 L178.14,413.38 L177.37,412.70 L177.00,412.52 L176.12,411.69 L175.59,411.28 L175.29,411.17 L174.78,410.76 L174.49,410.65 L174.14,410.44 L174.09,410.65 L173.89,410.63 L173.81,410.79 L173.71,410.92 L173.60,411.04 L173.44,411.08 L173.32,411.19 L173.21,411.30 L172.97,411.23 L172.96,411.49 L172.73,411.43 L172.58,411.50 L172.51,411.67 L172.42,411.82 L172.30,411.93 L172.08,411.87 L171.98,412.01 L171.89,412.15 L171.71,412.17 L171.54,412.19 L171.40,412.26 L171.26,412.33 L171.10,412.37 L171.01,412.52 L170.95,412.73 L170.36,411.73 A34.0,34.0 0 0 0 177.17,406.42 Z M169.85,412.03 L170.43,413.06 L170.27,413.09 L170.11,413.12 L169.97,413.19 L169.83,413.28 L169.63,413.23 L169.58,413.47 L169.51,413.67 L169.35,413.70 L169.30,413.94 L169.35,414.40 L169.40,414.84 L169.40,415.21 L169.38,415.53 L169.62,416.39 L169.71,416.98 L169.56,417.06 L170.07,418.52 L170.29,419.43 L169.88,418.97 L170.66,421.10 L171.12,422.58 L171.35,423.58 L171.04,423.38 L171.00,423.79 L169.91,421.76 L169.30,420.81 L168.97,420.50 L168.04,418.76 L167.54,417.98 L166.98,417.06 L166.65,416.68 L166.30,416.25 L165.89,415.65 L165.66,415.47 L165.41,415.26 L165.28,415.35 L165.16,415.49 L164.96,415.40 L164.87,415.63 L164.66,415.49 L164.57,415.71 L164.43,415.78 L164.20,415.60 L164.08,415.73 L163.93,415.77 L163.83,415.98 L163.64,415.91 L163.49,415.94 L163.37,416.09 L163.18,416.01 L163.01,415.98 L162.91,416.20 L162.72,416.09 L162.59,416.20 L162.47,416.37 L162.29,416.29 L162.16,416.42 L161.99,416.40 L161.80,416.29 L161.57,415.40 A34.0,34.0 0 0 0 169.85,412.03 Z M160.99,415.55 L161.26,416.63 L161.08,416.58 L160.97,416.78 L160.79,416.69 L160.60,416.58 L160.50,416.83 L160.35,416.91 L160.16,416.76 L160.00,416.76 L159.89,417.01 L159.72,416.93 L159.60,417.13 L159.52,417.57 L159.42,417.94 L159.27,418.00 L159.19,418.49 L159.19,419.47 L159.06,419.70 L159.08,420.88 L158.87,420.70 L158.81,421.45 L158.86,423.03 L158.75,423.53 L158.63,424.05 L158.50,424.46 L158.52,426.14 L158.35,426.40 L158.13,426.22 L157.72,424.30 L157.48,423.88 L157.16,422.59 L156.85,421.30 L156.63,420.84 L156.39,420.04 L156.12,418.92 L155.93,418.59 L155.73,418.06 L155.56,417.84 L155.38,417.53 L155.21,417.45 L155.05,417.36 L154.91,417.60 L154.74,417.40 L154.59,417.45 L154.44,417.55 L154.28,417.44 L154.12,417.61 L153.97,417.56 L153.81,417.44 L153.65,417.57 L153.50,417.59 L153.34,417.57 L153.18,417.57 L153.18,416.50 A34.0,34.0 0 0 0 160.99,415.55 Z M152.58,416.50 L152.56,418.36 L152.40,418.35 L152.23,418.74 L152.05,419.56 L151.87,419.94 L151.67,420.60 L151.50,420.73 L151.26,422.26 L151.08,422.23 L150.83,423.62 L150.57,424.81 L150.38,424.87 L150.02,427.32 L149.84,426.97 L149.71,426.10 L149.61,424.81 L149.51,423.73 L149.46,422.19 L149.31,421.90 L149.23,420.89 L149.08,420.60 L148.93,420.45 L148.82,419.90 L148.62,420.12 L148.41,420.43 L148.24,420.39 L147.98,421.03 L147.61,422.52 L147.35,423.07 L147.12,423.38 L146.76,424.48 L146.64,424.05 L146.28,425.09 L145.64,427.84 L146.03,424.22 L146.01,423.23 L145.97,422.36 L145.99,421.25 L145.97,420.37 L145.96,419.49 L145.96,418.59 L145.93,417.89 L145.84,417.53 L145.78,417.02 L145.64,416.94 L145.55,416.61 L145.35,416.77 L145.23,416.61 L145.05,416.67 L145.29,415.62 A34.0,34.0 0 0 0 152.58,416.50 Z M144.72,415.48 L144.45,416.56 L144.29,416.54 L144.15,416.43 L144.01,416.37 L143.83,416.44 L143.72,416.25 L143.59,416.13 L143.38,416.30 L143.24,416.21 L143.11,416.10 L142.90,416.24 L142.74,416.25 L142.53,416.40 L142.32,416.52 L142.02,416.95 L141.81,417.08 L141.44,417.67 L141.28,417.63 L140.98,418.00 L140.53,418.80 L140.25,419.09 L139.88,419.60 L139.51,420.13 L138.66,421.92 L138.30,422.36 L137.64,423.58 L137.23,424.12 L137.53,422.80 L137.57,422.14 L137.76,421.14 L138.29,419.33 L138.54,418.25 L138.50,417.88 L138.76,416.81 L138.85,416.16 L138.81,415.84 L138.90,415.23 L138.88,414.88 L138.81,414.63 L138.72,414.47 L138.60,414.34 L138.37,414.46 L138.26,414.34 L138.16,414.19 L138.58,413.29 A34.0,34.0 0 0 0 144.72,415.48 Z M138.04,413.03 L137.54,414.06 L137.50,413.79 L137.27,413.89 L137.11,413.85 L137.04,413.66 L136.76,413.85 L136.48,414.05 L136.35,413.95 L135.89,414.47 L135.61,414.65 L135.20,415.06 L134.88,415.29 L134.53,415.58 L133.92,416.31 L133.82,416.14 L133.34,416.61 L132.48,417.74 L132.39,417.55 L131.41,418.83 L130.69,419.66 L130.73,419.23 L130.12,419.85 L130.98,418.09 L131.64,416.68 L131.67,416.30 L132.24,415.07 L132.26,414.72 L132.80,413.58 L132.88,413.15 L133.01,412.65 L133.17,412.12 L133.24,411.73 L133.17,411.55 L133.15,411.31 L133.02,411.23 L132.88,411.14 L132.72,411.10 L132.67,410.89 L132.50,410.87 L132.30,410.88 L132.27,410.65 L132.11,410.60 L132.03,410.45 L131.77,410.53 L131.66,410.42 L131.55,410.30 L131.44,410.19 L131.36,410.04 L131.18,410.01 L131.16,409.79 L130.90,409.86 L130.82,409.71 L130.66,409.66 L130.59,409.49 L130.53,409.32 L130.40,409.23 L130.21,409.20 L130.04,409.16 L130.05,408.92 L129.85,408.91 L129.73,408.81 L130.47,407.96 A34.0,34.0 0 0 0 138.04,413.03 Z M130.03,407.57 L129.32,408.34 L129.14,408.31 L129.03,408.19 L128.79,408.22 L128.51,408.29 L128.25,408.33 L127.77,408.60 L127.38,408.76 L126.90,409.02 L126.58,409.10 L126.25,409.20 L125.43,409.77 L124.50,410.44 L124.35,410.34 L122.83,411.55 L123.19,410.95 L121.20,412.58 L120.37,413.09 L120.25,412.93 L120.45,412.48 L121.38,411.36 L122.17,410.38 L122.92,409.46 L123.01,409.15 L124.23,407.83 L124.81,407.09 L125.24,406.50 L125.46,406.10 L125.75,405.64 L126.01,405.22 L125.92,405.08 L125.99,404.82 L125.83,404.75 L125.78,404.58 L125.57,404.55 L125.49,404.42 L125.42,404.27 L125.33,404.14 L125.37,403.92 L125.29,403.78 L125.05,403.77 L124.92,403.67 L124.91,403.48 L124.85,403.33 L125.67,402.72 A34.0,34.0 0 0 0 130.03,407.57 Z M125.32,402.24 L123.31,403.68 L123.14,403.60 L122.29,403.99 L121.70,404.20 L121.01,404.46 L120.88,404.34 L120.47,404.40 L119.65,404.74 L118.52,405.27 L117.18,405.92 L117.03,405.79 L116.44,405.94 L115.89,406.06 L116.39,405.51 L117.54,404.56 L118.98,403.46 L120.12,402.55 L120.41,402.18 L120.94,401.66 L121.62,401.06 L121.89,400.71 L122.16,400.37 L122.19,400.16 L122.04,400.07 L121.81,400.01 L121.30,400.11 L121.14,400.01 L120.46,400.20 L120.16,400.17 L119.33,400.42 L118.84,400.49 L118.66,400.38 L118.17,400.44 L116.55,401.07 L115.82,401.23 L115.94,400.96 L113.53,401.94 L113.03,401.96 L113.66,401.44 L115.79,400.21 L116.92,399.47 L117.33,399.08 L118.24,398.47 L118.68,398.08 L119.25,397.64 L119.80,397.21 L121.92,396.27 A34.0,34.0 0 0 0 125.32,402.24 Z M121.68,395.73 L120.78,396.11 L120.72,395.97 L120.64,395.83 L120.41,395.76 L120.53,395.54 L120.16,395.52 L120.05,395.39 L119.67,395.37 L119.40,395.30 L118.67,395.41 L118.06,395.46 L118.05,395.29 L117.02,395.48 L116.55,395.47 L115.46,395.67 L115.30,395.54 L114.39,395.66 L112.75,396.02 L111.96,396.08 L111.92,395.89 L110.30,396.21 L109.48,396.26 L111.71,395.35 L113.17,394.70 L113.20,394.50 L114.42,393.95 L115.74,393.37 L116.17,393.07 L117.08,392.64 L117.56,392.33 L118.34,391.95 L118.63,391.70 L118.88,391.48 L119.17,391.24 L118.97,391.13 L118.94,390.98 L118.82,390.85 L119.01,390.64 L118.96,390.49 L118.91,390.34 L118.81,390.20 L118.81,390.05 L118.72,389.91 L118.75,389.74 L118.79,389.57 L118.71,389.43 L118.61,389.29 L118.54,389.15 L118.42,389.01 L118.53,388.83 L118.59,388.66 L118.39,388.54 L118.54,388.35 L118.40,388.22 L118.31,388.08 L118.40,387.90 L118.28,387.76 L118.24,387.61 L118.25,387.45 L118.24,387.30 L118.29,387.13 L119.30,387.00 A34.0,34.0 0 0 0 121.68,395.73 Z M119.23,386.41 L115.47,386.84 L115.33,386.69 L114.14,386.65 L112.89,386.60 L112.09,386.50 L112.52,386.27 L110.60,386.26 L110.16,386.11 L109.03,386.00 L107.72,385.90 L108.21,385.67 L109.69,385.37 L111.62,385.06 L112.41,384.82 L113.76,384.57 L114.61,384.35 L115.74,384.13 L116.44,383.94 L116.81,383.76 L117.34,383.59 L117.86,383.41 L117.79,383.26 L118.01,383.10 L117.84,382.94 L117.80,382.79 L117.87,382.63 L118.07,382.47 L117.71,382.32 L117.80,382.16 L117.44,382.00 L117.26,381.83 L116.60,381.66 L116.36,381.49 L115.40,381.30 L115.22,381.12 L114.22,380.91 L113.45,380.70 L113.90,380.55 L111.82,380.26 L112.64,380.13 L109.83,379.77 L109.51,379.55 L108.34,379.27 L107.87,379.04 L107.68,378.82 L110.68,378.87 L112.23,378.82 L113.06,378.72 L114.30,378.66 L114.35,378.49 L115.96,378.49 L116.56,378.39 L117.34,378.32 L117.77,378.21 L118.09,378.09 L119.27,378.24 A34.0,34.0 0 0 0 119.23,386.41 Z M119.35,377.65 L118.24,377.49 L118.21,377.33 L118.42,377.20 L118.22,377.01 L118.08,376.83 L117.83,376.63 L117.53,376.42 L117.15,376.19 L116.52,375.91 L116.49,375.74 L115.66,375.41 L115.17,375.14 L114.31,374.80 L113.53,374.46 L113.55,374.28 L112.51,373.87 L110.93,373.34 L109.13,372.74 L110.46,372.84 L106.53,371.73 L109.07,372.11 L110.85,372.34 L112.06,372.43 L113.82,372.68 L114.48,372.66 L115.66,372.79 L116.42,372.81 L117.28,372.87 L118.00,372.90 L118.46,372.86 L119.06,372.86 L119.33,372.77 L119.23,372.58 L119.28,372.43 L119.53,372.35 L119.64,372.22 L119.62,372.05 L119.73,371.92 L119.74,371.76 L119.73,371.59 L119.85,371.47 L119.80,371.29 L119.86,371.14 L119.97,371.02 L119.91,370.83 L119.98,370.69 L119.91,370.50 L120.17,370.42 L120.18,370.26 L120.25,370.12 L120.40,370.01 L120.40,369.84 L120.45,369.70 L120.54,369.57 L120.62,369.43 L120.44,369.19 L120.63,369.10 L120.56,368.90 L120.68,368.78 L121.70,369.22 A34.0,34.0 0 0 0 119.35,377.65 Z M121.94,368.67 L119.03,367.37 L118.68,367.03 L118.27,366.66 L117.59,366.15 L116.22,365.31 L115.80,364.91 L115.89,364.75 L114.80,364.01 L113.05,362.94 L111.98,362.18 L112.11,362.02 L113.49,362.48 L115.47,363.27 L115.46,363.05 L117.44,363.87 L118.32,364.13 L118.82,364.19 L119.18,364.19 L119.36,364.09 L119.26,363.83 L119.55,363.79 L119.14,363.36 L118.79,362.95 L118.58,362.63 L117.26,361.64 L116.42,360.93 L115.41,360.10 L114.60,359.39 L113.88,358.71 L115.62,359.53 L115.51,359.23 L117.82,360.44 L119.18,361.08 L119.80,361.26 L120.77,361.67 L121.35,361.84 L122.04,362.09 L122.73,362.35 L123.37,362.58 L123.77,362.65 L124.13,362.70 L124.11,362.50 L125.05,363.14 A34.0,34.0 0 0 0 121.94,368.67 Z M125.39,362.66 L123.10,361.02 L122.73,360.55 L122.80,360.39 L122.29,359.81 L121.92,359.32 L121.05,358.45 L120.21,357.58 L120.37,357.47 L119.28,356.40 L118.71,355.71 L118.02,354.92 L118.47,355.02 L119.34,355.47 L120.80,356.41 L122.36,357.44 L122.36,357.21 L123.77,358.16 L124.41,358.47 L125.10,358.83 L125.44,358.91 L125.61,358.85 L126.03,359.00 L126.07,358.82 L126.10,358.63 L125.70,358.06 L125.54,357.69 L125.52,357.46 L124.79,356.56 L124.49,356.04 L124.74,356.05 L124.59,355.67 L123.56,354.44 L123.64,354.27 L122.17,352.59 L121.86,352.02 L120.98,350.87 L123.25,352.86 L123.24,352.58 L124.13,353.21 L125.49,354.34 L126.22,354.84 L126.87,355.28 L127.54,355.74 L128.21,356.20 L128.43,356.20 L128.88,356.46 L129.90,357.55 A34.0,34.0 0 0 0 125.39,362.66 Z M130.34,357.15 L129.73,356.48 L129.75,356.26 L129.91,356.20 L130.01,356.07 L130.09,355.93 L130.22,355.84 L130.41,355.81 L130.50,355.68 L130.56,355.50 L130.69,355.41 L130.77,355.27 L131.04,355.35 L131.00,355.04 L131.16,354.99 L131.07,354.62 L131.18,354.50 L131.07,354.10 L131.09,353.86 L131.01,353.49 L130.66,352.75 L130.53,352.29 L130.46,351.91 L130.17,351.22 L129.31,349.73 L129.69,349.95 L128.95,348.59 L128.47,347.59 L128.09,346.71 L128.26,346.60 L127.46,345.09 L128.17,345.77 L129.04,346.72 L129.80,347.51 L131.23,349.33 L131.48,349.40 L132.15,350.11 L132.80,350.81 L133.38,351.41 L133.83,351.82 L134.24,352.17 L134.63,352.49 L134.89,352.63 L135.04,352.56 L135.05,352.28 L135.20,352.22 L135.35,352.17 L135.57,352.22 L135.66,352.07 L135.76,351.93 L135.97,351.97 L136.11,351.90 L136.57,352.73 A34.0,34.0 0 0 0 130.34,357.15 Z M137.09,352.45 L136.56,351.45 L136.67,351.32 L136.87,351.36 L136.99,351.25 L137.12,351.16 L137.13,350.83 L137.19,350.60 L137.21,350.28 L137.23,349.94 L137.34,349.79 L137.07,348.85 L137.04,348.38 L136.93,347.74 L136.99,347.46 L136.94,346.95 L136.52,345.57 L136.81,345.77 L136.37,344.32 L136.43,343.99 L135.59,341.52 L136.28,342.66 L136.07,341.65 L136.49,342.14 L137.10,343.13 L138.04,344.99 L138.65,346.04 L139.22,347.01 L139.69,347.76 L139.97,348.04 L140.44,348.82 L140.71,349.10 L140.91,349.18 L141.18,349.45 L141.30,349.34 L141.47,349.34 L141.59,349.21 L141.74,349.16 L141.97,349.35 L142.27,350.24 A34.0,34.0 0 0 0 137.09,352.45 Z M142.83,350.06 L142.53,349.10 L142.67,349.01 L142.82,348.98 L142.99,348.99 L143.16,349.01 L143.30,348.94 L143.42,348.79 L143.49,348.47 L143.59,348.25 L143.69,348.00 L143.70,347.43 L143.78,347.07 L143.83,346.63 L143.87,346.09 L144.00,345.92 L143.85,344.58 L143.95,344.29 L144.03,343.85 L143.78,341.97 L144.05,342.28 L143.95,340.99 L143.81,339.41 L143.95,339.15 L143.99,338.33 L144.51,339.93 L144.98,341.32 L145.56,343.38 L145.85,343.96 L146.21,344.97 L146.49,345.59 L146.74,346.07 L147.04,346.88 L147.24,347.06 L147.50,347.69 L147.66,347.74 L147.83,347.82 L148.01,347.92 L148.15,347.79 L148.29,347.70 L148.47,347.83 L148.63,347.86 L148.76,347.70 L148.93,347.74 L149.09,347.77 L149.22,347.60 L149.37,347.49 L149.54,347.58 L149.70,347.62 L149.85,347.62 L150.01,347.59 L150.10,348.62 A34.0,34.0 0 0 0 142.83,350.06 Z" fill="#7fcdf5"/>
<text x="148.40" y="274.96" font-size="8.6" fill="#222" stroke="#222" stroke-width="0.2" text-anchor="middle">A</text>
<text x="149.40" y="292.96" font-size="8.6" fill="#222" stroke="#222" stroke-width="0.2" text-anchor="middle">B</text>
<text x="149.50" y="310.06" font-size="8.6" fill="#222" stroke="#222" stroke-width="0.2" text-anchor="middle">C</text>
<text x="150.40" y="326.26" font-size="8.6" fill="#222" stroke="#222" stroke-width="0.2" text-anchor="middle">D</text>
<text x="151.40" y="343.76" font-size="8.6" fill="#222" stroke="#222" stroke-width="0.2" text-anchor="middle">E</text>
<defs><filter id="bl" x="-20%" y="-20%" width="140%" height="140%"><feGaussianBlur stdDeviation="0.95"/></filter><filter id="bl2" x="-50%" y="-50%" width="200%" height="200%"><feGaussianBlur stdDeviation="0.35"/></filter><filter id="blc3" x="-20%" y="-20%" width="140%" height="140%"><feGaussianBlur stdDeviation="0.6"/></filter><filter id="bl3" x="-50%" y="-50%" width="200%" height="200%"><feGaussianBlur stdDeviation="0.5"/></filter></defs>
<text x="302.60" y="7.90" font-size="14" fill="#000" font-weight="bold">c</text>
<rect x="303.5" y="11.0" width="357.50" height="234.00" fill="#d4d4d4"/>
<rect x="520.4" y="11.0" width="2.00" height="234.00" fill="#f2f2f2"/>
<rect x="303.5" y="11.0" width="107.50" height="116.40" fill="#000"/>
<rect x="303.5" y="129.0" width="107.50" height="116.00" fill="#000"/>
<rect x="413.0" y="11.0" width="107.40" height="116.40" fill="#000"/>
<rect x="413.0" y="129.0" width="107.40" height="116.00" fill="#000"/>
<rect x="522.4" y="11.0" width="138.60" height="116.40" fill="#000"/>
<rect x="522.4" y="129.0" width="138.60" height="116.00" fill="#000"/>
<g filter="url(#bl3)"><circle cx="353.60" cy="17.60" r="0.8" fill="#30b030"/><circle cx="348.00" cy="25.60" r="0.8" fill="#30b030"/><circle cx="357.00" cy="35.60" r="0.8" fill="#30b030"/><circle cx="317.00" cy="35.60" r="0.8" fill="#30b030"/><circle cx="383.00" cy="48.60" r="0.8" fill="#30b030"/><circle cx="395.60" cy="45.60" r="0.8" fill="#30b030"/><circle cx="397.00" cy="48.00" r="0.8" fill="#30b030"/><circle cx="346.40" cy="69.00" r="0.8" fill="#30b030"/><circle cx="400.00" cy="68.00" r="0.8" fill="#30b030"/><circle cx="400.00" cy="70.40" r="0.8" fill="#30b030"/><circle cx="380.00" cy="116.00" r="0.8" fill="#30b030"/><circle cx="394.50" cy="116.00" r="0.8" fill="#30b030"/><circle cx="324.00" cy="29.00" r="0.8" fill="#444"/><circle cx="331.60" cy="42.00" r="0.8" fill="#444"/><circle cx="347.60" cy="42.00" r="0.8" fill="#444"/><circle cx="352.00" cy="50.00" r="0.8" fill="#444"/><circle cx="363.00" cy="24.00" r="0.8" fill="#444"/><circle cx="337.00" cy="83.00" r="0.8" fill="#444"/></g>
<text x="308.10" y="21.90" font-size="7.6" fill="#cfcfcf" stroke="#cfcfcf" stroke-width="0.2">1</text>
<text x="305.40" y="124.90" font-size="10" fill="#2ecc2e" stroke="#2ecc2e" stroke-width="0.2" textLength="24.60" lengthAdjust="spacingAndGlyphs">CRWL</text>
<g filter="url(#bl3)"><circle cx="463.60" cy="17.60" r="0.85" fill="#c81c1c"/><circle cx="466.00" cy="19.60" r="0.85" fill="#c81c1c"/><circle cx="472.60" cy="23.60" r="0.85" fill="#c81c1c"/><circle cx="457.00" cy="25.40" r="0.85" fill="#c81c1c"/><circle cx="432.40" cy="29.00" r="0.85" fill="#c81c1c"/><circle cx="424.40" cy="34.40" r="0.85" fill="#c81c1c"/><circle cx="426.00" cy="35.60" r="0.85" fill="#c81c1c"/><circle cx="466.00" cy="35.00" r="0.85" fill="#c81c1c"/><circle cx="440.60" cy="41.60" r="0.85" fill="#c81c1c"/><circle cx="449.00" cy="38.60" r="0.85" fill="#c81c1c"/><circle cx="457.00" cy="41.60" r="0.85" fill="#c81c1c"/><circle cx="435.00" cy="47.00" r="0.85" fill="#c81c1c"/><circle cx="460.60" cy="49.00" r="0.85" fill="#c81c1c"/><circle cx="492.00" cy="48.40" r="0.85" fill="#c81c1c"/><circle cx="504.00" cy="45.60" r="0.85" fill="#c81c1c"/><circle cx="505.60" cy="48.00" r="0.85" fill="#c81c1c"/><circle cx="456.00" cy="69.00" r="0.85" fill="#c81c1c"/><circle cx="509.00" cy="68.00" r="0.85" fill="#c81c1c"/><circle cx="509.60" cy="70.40" r="0.85" fill="#c81c1c"/></g>
<text x="415.20" y="124.90" font-size="10" fill="#e01818" stroke="#e01818" stroke-width="0.2" textLength="16.00" lengthAdjust="spacingAndGlyphs">CL2</text>
<g filter="url(#bl3)"><circle cx="354.10" cy="135.00" r="0.8" fill="#b07020"/><circle cx="356.50" cy="137.00" r="0.8" fill="#b07020"/><circle cx="363.10" cy="141.00" r="0.8" fill="#b07020"/><circle cx="347.50" cy="142.80" r="0.8" fill="#b07020"/><circle cx="322.90" cy="146.40" r="0.8" fill="#b07020"/><circle cx="314.90" cy="151.80" r="0.8" fill="#b07020"/><circle cx="316.50" cy="153.00" r="0.8" fill="#b07020"/><circle cx="356.50" cy="152.40" r="0.8" fill="#b07020"/><circle cx="331.10" cy="159.00" r="0.8" fill="#b07020"/><circle cx="339.50" cy="156.00" r="0.8" fill="#b07020"/><circle cx="347.50" cy="159.00" r="0.8" fill="#b07020"/><circle cx="325.50" cy="164.40" r="0.8" fill="#b07020"/><circle cx="351.10" cy="166.40" r="0.8" fill="#b07020"/><circle cx="382.50" cy="165.80" r="0.8" fill="#b07020"/><circle cx="394.50" cy="163.00" r="0.8" fill="#b07020"/><circle cx="396.10" cy="165.40" r="0.8" fill="#b07020"/><circle cx="346.50" cy="186.40" r="0.8" fill="#b07020"/><circle cx="399.50" cy="185.40" r="0.8" fill="#b07020"/><circle cx="400.10" cy="187.80" r="0.8" fill="#b07020"/><circle cx="325.60" cy="163.80" r="0.8" fill="#b07020"/></g>
<text x="305.40" y="241.90" font-size="10" fill="#2ecc2e" stroke="#2ecc2e" stroke-width="0.2" textLength="24.60" lengthAdjust="spacingAndGlyphs">CRWL</text><text x="330.20" y="241.90" font-size="10" fill="#cccccc" stroke="#cccccc" stroke-width="0.2">+</text><text x="335.60" y="241.90" font-size="10" fill="#e01818" stroke="#e01818" stroke-width="0.2" textLength="16.00" lengthAdjust="spacingAndGlyphs">CL2</text>
<rect x="448.0" y="146.8" width="0.6" height="0.6" fill="rgb(118,118,124)"/><rect x="418.6" y="223.9" width="0.6" height="0.6" fill="rgb(47,47,53)"/><rect x="452.4" y="136.2" width="0.6" height="0.6" fill="rgb(99,99,105)"/><rect x="436.4" y="139.4" width="0.6" height="0.6" fill="rgb(88,88,94)"/><rect x="420.9" y="139.9" width="0.6" height="0.6" fill="rgb(89,89,95)"/><rect x="419.8" y="194.5" width="0.6" height="0.6" fill="rgb(63,63,69)"/><rect x="480.7" y="196.5" width="0.6" height="0.6" fill="rgb(42,42,48)"/><rect x="475.0" y="175.1" width="0.6" height="0.6" fill="rgb(63,63,69)"/><rect x="418.5" y="228.2" width="0.6" height="0.6" fill="rgb(72,72,78)"/><rect x="458.1" y="191.7" width="0.6" height="0.6" fill="rgb(108,108,114)"/><rect x="446.4" y="223.4" width="0.6" height="0.6" fill="rgb(58,58,64)"/><rect x="424.5" y="195.2" width="0.6" height="0.6" fill="rgb(59,59,65)"/><rect x="453.2" y="192.5" width="0.6" height="0.6" fill="rgb(43,43,49)"/><rect x="473.6" y="200.7" width="0.6" height="0.6" fill="rgb(98,98,104)"/><rect x="486.0" y="178.7" width="0.6" height="0.6" fill="rgb(75,75,81)"/><rect x="463.1" y="235.7" width="0.6" height="0.6" fill="rgb(81,81,87)"/><rect x="445.4" y="220.9" width="0.6" height="0.6" fill="rgb(66,66,72)"/><rect x="422.2" y="164.0" width="0.6" height="0.6" fill="rgb(98,98,104)"/><rect x="506.7" y="213.4" width="0.6" height="0.6" fill="rgb(71,71,77)"/><rect x="478.4" y="137.9" width="0.6" height="0.6" fill="rgb(100,100,106)"/><rect x="458.0" y="216.6" width="0.6" height="0.6" fill="rgb(54,54,60)"/><rect x="512.9" y="178.0" width="0.6" height="0.6" fill="rgb(120,120,126)"/><rect x="421.8" y="193.7" width="0.6" height="0.6" fill="rgb(75,75,81)"/><rect x="449.7" y="169.8" width="0.6" height="0.6" fill="rgb(98,98,104)"/><rect x="475.3" y="182.0" width="0.6" height="0.6" fill="rgb(46,46,52)"/><rect x="514.1" y="184.0" width="0.6" height="0.6" fill="rgb(120,120,126)"/><rect x="420.4" y="213.6" width="0.6" height="0.6" fill="rgb(74,74,80)"/><rect x="482.4" y="243.7" width="0.6" height="0.6" fill="rgb(92,92,98)"/><rect x="443.8" y="173.9" width="0.6" height="0.6" fill="rgb(120,120,126)"/><rect x="450.5" y="237.7" width="0.6" height="0.6" fill="rgb(80,80,86)"/><rect x="431.4" y="143.0" width="0.6" height="0.6" fill="rgb(42,42,48)"/><rect x="436.7" y="162.6" width="0.6" height="0.6" fill="rgb(66,66,72)"/><rect x="455.9" y="234.9" width="0.6" height="0.6" fill="rgb(98,98,104)"/><rect x="422.1" y="181.2" width="0.6" height="0.6" fill="rgb(105,105,111)"/><rect x="443.1" y="145.2" width="0.6" height="0.6" fill="rgb(90,90,96)"/><rect x="505.5" y="161.5" width="0.6" height="0.6" fill="rgb(88,88,94)"/><rect x="518.6" y="208.0" width="0.6" height="0.6" fill="rgb(83,83,89)"/><rect x="515.5" y="146.9" width="0.6" height="0.6" fill="rgb(57,57,63)"/><rect x="429.6" y="205.2" width="0.6" height="0.6" fill="rgb(36,36,42)"/><rect x="465.1" y="197.2" width="0.6" height="0.6" fill="rgb(68,68,74)"/><rect x="443.5" y="146.3" width="0.6" height="0.6" fill="rgb(103,103,109)"/><rect x="452.8" y="194.6" width="0.6" height="0.6" fill="rgb(51,51,57)"/><rect x="487.0" y="188.8" width="0.6" height="0.6" fill="rgb(114,114,120)"/><rect x="483.3" y="214.6" width="0.6" height="0.6" fill="rgb(93,93,99)"/><rect x="509.3" y="219.2" width="0.6" height="0.6" fill="rgb(106,106,112)"/><rect x="455.3" y="175.4" width="0.6" height="0.6" fill="rgb(48,48,54)"/><rect x="464.8" y="175.6" width="0.6" height="0.6" fill="rgb(59,59,65)"/><rect x="420.7" y="153.5" width="0.6" height="0.6" fill="rgb(55,55,61)"/><rect x="425.2" y="198.6" width="0.6" height="0.6" fill="rgb(48,48,54)"/><rect x="413.5" y="146.9" width="0.6" height="0.6" fill="rgb(47,47,53)"/><rect x="514.6" y="200.1" width="0.6" height="0.6" fill="rgb(44,44,50)"/><rect x="506.6" y="200.1" width="0.6" height="0.6" fill="rgb(54,54,60)"/><rect x="481.1" y="239.4" width="0.6" height="0.6" fill="rgb(112,112,118)"/><rect x="452.3" y="143.6" width="0.6" height="0.6" fill="rgb(97,97,103)"/><rect x="519.3" y="183.1" width="0.6" height="0.6" fill="rgb(96,96,102)"/><rect x="446.7" y="146.1" width="0.6" height="0.6" fill="rgb(78,78,84)"/><rect x="492.3" y="184.5" width="0.6" height="0.6" fill="rgb(55,55,61)"/><rect x="468.5" y="153.1" width="0.6" height="0.6" fill="rgb(102,102,108)"/><rect x="452.0" y="208.9" width="0.6" height="0.6" fill="rgb(38,38,44)"/><rect x="494.2" y="163.8" width="0.6" height="0.6" fill="rgb(117,117,123)"/><rect x="505.4" y="209.6" width="0.6" height="0.6" fill="rgb(68,68,74)"/><rect x="468.7" y="233.9" width="0.6" height="0.6" fill="rgb(80,80,86)"/><rect x="495.7" y="190.7" width="0.6" height="0.6" fill="rgb(99,99,105)"/><rect x="448.6" y="155.1" width="0.6" height="0.6" fill="rgb(59,59,65)"/><rect x="499.3" y="223.6" width="0.6" height="0.6" fill="rgb(64,64,70)"/><rect x="434.8" y="186.2" width="0.6" height="0.6" fill="rgb(38,38,44)"/><rect x="518.9" y="220.4" width="0.6" height="0.6" fill="rgb(95,95,101)"/><rect x="441.1" y="209.1" width="0.6" height="0.6" fill="rgb(79,79,85)"/><rect x="461.1" y="237.3" width="0.6" height="0.6" fill="rgb(79,79,85)"/><rect x="515.2" y="171.4" width="0.6" height="0.6" fill="rgb(63,63,69)"/><rect x="424.4" y="183.6" width="0.6" height="0.6" fill="rgb(78,78,84)"/><rect x="435.3" y="201.3" width="0.6" height="0.6" fill="rgb(113,113,119)"/><rect x="503.0" y="184.6" width="0.6" height="0.6" fill="rgb(118,118,124)"/><rect x="450.1" y="203.5" width="0.6" height="0.6" fill="rgb(119,119,125)"/><rect x="426.3" y="174.2" width="0.6" height="0.6" fill="rgb(60,60,66)"/><rect x="464.4" y="150.0" width="0.6" height="0.6" fill="rgb(116,116,122)"/><rect x="448.9" y="221.6" width="0.6" height="0.6" fill="rgb(85,85,91)"/><rect x="462.8" y="215.0" width="0.6" height="0.6" fill="rgb(45,45,51)"/><rect x="490.7" y="149.1" width="0.6" height="0.6" fill="rgb(51,51,57)"/><rect x="416.4" y="197.4" width="0.6" height="0.6" fill="rgb(94,94,100)"/><rect x="499.4" y="146.3" width="0.6" height="0.6" fill="rgb(111,111,117)"/><rect x="517.9" y="205.1" width="0.6" height="0.6" fill="rgb(79,79,85)"/><rect x="430.1" y="192.6" width="0.6" height="0.6" fill="rgb(37,37,43)"/><rect x="415.0" y="241.2" width="0.6" height="0.6" fill="rgb(118,118,124)"/><rect x="424.4" y="215.7" width="0.6" height="0.6" fill="rgb(52,52,58)"/><rect x="459.7" y="229.8" width="0.6" height="0.6" fill="rgb(62,62,68)"/><rect x="416.5" y="154.0" width="0.6" height="0.6" fill="rgb(99,99,105)"/><rect x="439.1" y="196.9" width="0.6" height="0.6" fill="rgb(68,68,74)"/><rect x="471.5" y="225.4" width="0.6" height="0.6" fill="rgb(42,42,48)"/><rect x="510.4" y="170.2" width="0.6" height="0.6" fill="rgb(93,93,99)"/><rect x="484.1" y="223.2" width="0.6" height="0.6" fill="rgb(101,101,107)"/><rect x="458.3" y="235.0" width="0.6" height="0.6" fill="rgb(99,99,105)"/><rect x="427.4" y="147.0" width="0.6" height="0.6" fill="rgb(100,100,106)"/><rect x="415.5" y="180.1" width="0.6" height="0.6" fill="rgb(58,58,64)"/><rect x="478.3" y="218.7" width="0.6" height="0.6" fill="rgb(54,54,60)"/><rect x="431.9" y="184.0" width="0.6" height="0.6" fill="rgb(50,50,56)"/><rect x="472.8" y="167.0" width="0.6" height="0.6" fill="rgb(101,101,107)"/><rect x="470.0" y="185.0" width="0.6" height="0.6" fill="rgb(48,48,54)"/><rect x="507.6" y="136.0" width="0.6" height="0.6" fill="rgb(59,59,65)"/><rect x="443.0" y="218.3" width="0.6" height="0.6" fill="rgb(99,99,105)"/><rect x="461.7" y="132.7" width="0.6" height="0.6" fill="rgb(43,43,49)"/><rect x="460.7" y="199.9" width="0.6" height="0.6" fill="rgb(99,99,105)"/><rect x="478.1" y="152.4" width="0.6" height="0.6" fill="rgb(70,70,76)"/><rect x="461.7" y="190.8" width="0.6" height="0.6" fill="rgb(96,96,102)"/><rect x="467.6" y="158.0" width="0.6" height="0.6" fill="rgb(101,101,107)"/><rect x="506.9" y="237.9" width="0.6" height="0.6" fill="rgb(68,68,74)"/><rect x="511.8" y="232.2" width="0.6" height="0.6" fill="rgb(60,60,66)"/><rect x="503.0" y="145.3" width="0.6" height="0.6" fill="rgb(50,50,56)"/><rect x="455.3" y="165.8" width="0.6" height="0.6" fill="rgb(120,120,126)"/><rect x="439.1" y="137.9" width="0.6" height="0.6" fill="rgb(120,120,126)"/><rect x="445.7" y="143.6" width="0.6" height="0.6" fill="rgb(54,54,60)"/><rect x="513.6" y="203.5" width="0.6" height="0.6" fill="rgb(81,81,87)"/><rect x="428.7" y="231.0" width="0.6" height="0.6" fill="rgb(94,94,100)"/><rect x="436.9" y="239.0" width="0.6" height="0.6" fill="rgb(85,85,91)"/><rect x="507.7" y="148.2" width="0.6" height="0.6" fill="rgb(120,120,126)"/><rect x="502.2" y="148.1" width="0.6" height="0.6" fill="rgb(90,90,96)"/><rect x="519.4" y="175.9" width="0.6" height="0.6" fill="rgb(88,88,94)"/><rect x="434.3" y="166.1" width="0.6" height="0.6" fill="rgb(81,81,87)"/><rect x="415.6" y="193.2" width="0.6" height="0.6" fill="rgb(91,91,97)"/><rect x="488.4" y="173.7" width="0.6" height="0.6" fill="rgb(101,101,107)"/><rect x="479.9" y="188.4" width="0.6" height="0.6" fill="rgb(43,43,49)"/><rect x="425.5" y="235.1" width="0.6" height="0.6" fill="rgb(64,64,70)"/><rect x="517.0" y="141.5" width="0.6" height="0.6" fill="rgb(68,68,74)"/><rect x="442.5" y="233.7" width="0.6" height="0.6" fill="rgb(58,58,64)"/><rect x="442.3" y="144.4" width="0.6" height="0.6" fill="rgb(89,89,95)"/><rect x="504.0" y="207.2" width="0.6" height="0.6" fill="rgb(68,68,74)"/><rect x="456.7" y="191.2" width="0.6" height="0.6" fill="rgb(100,100,106)"/><rect x="474.3" y="210.0" width="0.6" height="0.6" fill="rgb(46,46,52)"/><rect x="443.2" y="221.5" width="0.6" height="0.6" fill="rgb(58,58,64)"/><rect x="458.8" y="137.8" width="0.6" height="0.6" fill="rgb(37,37,43)"/><rect x="481.1" y="221.7" width="0.6" height="0.6" fill="rgb(45,45,51)"/><rect x="478.3" y="155.1" width="0.6" height="0.6" fill="rgb(68,68,74)"/><rect x="505.4" y="181.7" width="0.6" height="0.6" fill="rgb(78,78,84)"/><rect x="519.4" y="177.5" width="0.6" height="0.6" fill="rgb(69,69,75)"/><rect x="479.7" y="134.5" width="0.6" height="0.6" fill="rgb(65,65,71)"/><rect x="513.4" y="241.0" width="0.6" height="0.6" fill="rgb(68,68,74)"/><rect x="418.9" y="152.7" width="0.6" height="0.6" fill="rgb(74,74,80)"/><rect x="480.5" y="190.6" width="0.6" height="0.6" fill="rgb(61,61,67)"/><rect x="444.4" y="187.0" width="0.6" height="0.6" fill="rgb(57,57,63)"/><rect x="442.3" y="221.9" width="0.6" height="0.6" fill="rgb(67,67,73)"/><rect x="417.4" y="131.6" width="0.6" height="0.6" fill="rgb(99,99,105)"/><rect x="472.2" y="151.3" width="0.6" height="0.6" fill="rgb(95,95,101)"/><rect x="439.7" y="180.9" width="0.6" height="0.6" fill="rgb(119,119,125)"/><rect x="500.7" y="179.2" width="0.6" height="0.6" fill="rgb(98,98,104)"/><rect x="471.6" y="231.7" width="0.6" height="0.6" fill="rgb(99,99,105)"/><rect x="446.3" y="154.2" width="0.6" height="0.6" fill="rgb(64,64,70)"/><rect x="450.0" y="225.2" width="0.6" height="0.6" fill="rgb(116,116,122)"/><rect x="428.4" y="243.3" width="0.6" height="0.6" fill="rgb(41,41,47)"/><rect x="502.6" y="131.1" width="0.6" height="0.6" fill="rgb(115,115,121)"/><rect x="492.4" y="158.9" width="0.6" height="0.6" fill="rgb(55,55,61)"/><rect x="419.4" y="206.0" width="0.6" height="0.6" fill="rgb(83,83,89)"/><rect x="506.2" y="206.6" width="0.6" height="0.6" fill="rgb(71,71,77)"/><rect x="477.3" y="209.2" width="0.6" height="0.6" fill="rgb(40,40,46)"/><rect x="462.4" y="147.6" width="0.6" height="0.6" fill="rgb(92,92,98)"/><rect x="413.9" y="171.4" width="0.6" height="0.6" fill="rgb(77,77,83)"/><rect x="517.1" y="192.4" width="0.6" height="0.6" fill="rgb(66,66,72)"/><rect x="417.2" y="231.0" width="0.6" height="0.6" fill="rgb(62,62,68)"/><rect x="451.5" y="129.6" width="0.6" height="0.6" fill="rgb(83,83,89)"/><rect x="422.4" y="161.6" width="0.6" height="0.6" fill="rgb(118,118,124)"/><rect x="434.9" y="187.5" width="0.6" height="0.6" fill="rgb(35,35,41)"/><rect x="423.2" y="223.5" width="0.6" height="0.6" fill="rgb(53,53,59)"/><rect x="456.0" y="134.3" width="0.6" height="0.6" fill="rgb(37,37,43)"/><rect x="445.4" y="201.9" width="0.6" height="0.6" fill="rgb(45,45,51)"/><rect x="475.9" y="190.4" width="0.6" height="0.6" fill="rgb(54,54,60)"/><rect x="483.5" y="211.8" width="0.6" height="0.6" fill="rgb(111,111,117)"/><rect x="455.0" y="167.0" width="0.6" height="0.6" fill="rgb(98,98,104)"/><rect x="429.4" y="212.8" width="0.6" height="0.6" fill="rgb(117,117,123)"/><rect x="428.9" y="224.4" width="0.6" height="0.6" fill="rgb(100,100,106)"/><rect x="480.3" y="213.9" width="0.6" height="0.6" fill="rgb(99,99,105)"/><rect x="428.3" y="189.7" width="0.6" height="0.6" fill="rgb(99,99,105)"/><rect x="474.0" y="223.0" width="0.6" height="0.6" fill="rgb(37,37,43)"/><rect x="501.5" y="196.7" width="0.6" height="0.6" fill="rgb(117,117,123)"/><rect x="438.0" y="133.1" width="0.6" height="0.6" fill="rgb(52,52,58)"/><rect x="481.4" y="239.8" width="0.6" height="0.6" fill="rgb(83,83,89)"/><rect x="502.5" y="193.7" width="0.6" height="0.6" fill="rgb(115,115,121)"/><rect x="415.5" y="190.6" width="0.6" height="0.6" fill="rgb(66,66,72)"/><rect x="465.6" y="129.9" width="0.6" height="0.6" fill="rgb(43,43,49)"/><rect x="493.2" y="187.3" width="0.6" height="0.6" fill="rgb(103,103,109)"/><rect x="423.3" y="190.0" width="0.6" height="0.6" fill="rgb(95,95,101)"/><rect x="440.4" y="138.1" width="0.6" height="0.6" fill="rgb(68,68,74)"/><rect x="438.5" y="216.5" width="0.6" height="0.6" fill="rgb(64,64,70)"/><rect x="492.3" y="241.7" width="0.6" height="0.6" fill="rgb(98,98,104)"/><rect x="503.5" y="138.3" width="0.6" height="0.6" fill="rgb(71,71,77)"/><rect x="495.2" y="200.5" width="0.6" height="0.6" fill="rgb(117,117,123)"/><rect x="434.6" y="198.5" width="0.6" height="0.6" fill="rgb(77,77,83)"/><rect x="440.5" y="215.0" width="0.6" height="0.6" fill="rgb(73,73,79)"/><rect x="479.7" y="144.8" width="0.6" height="0.6" fill="rgb(96,96,102)"/><rect x="420.0" y="160.4" width="0.6" height="0.6" fill="rgb(47,47,53)"/><rect x="487.2" y="207.2" width="0.6" height="0.6" fill="rgb(72,72,78)"/><rect x="489.0" y="162.3" width="0.6" height="0.6" fill="rgb(94,94,100)"/><rect x="463.2" y="143.1" width="0.6" height="0.6" fill="rgb(105,105,111)"/><rect x="434.7" y="242.0" width="0.6" height="0.6" fill="rgb(95,95,101)"/><rect x="415.4" y="182.3" width="0.6" height="0.6" fill="rgb(99,99,105)"/><rect x="516.6" y="181.2" width="0.6" height="0.6" fill="rgb(69,69,75)"/><rect x="454.7" y="234.9" width="0.6" height="0.6" fill="rgb(61,61,67)"/><rect x="421.4" y="139.9" width="0.6" height="0.6" fill="rgb(102,102,108)"/><rect x="441.4" y="170.8" width="0.6" height="0.6" fill="rgb(112,112,118)"/><rect x="500.9" y="188.0" width="0.6" height="0.6" fill="rgb(49,49,55)"/><rect x="488.4" y="156.1" width="0.6" height="0.6" fill="rgb(97,97,103)"/><rect x="455.5" y="147.8" width="0.6" height="0.6" fill="rgb(97,97,103)"/><rect x="486.1" y="176.1" width="0.6" height="0.6" fill="rgb(53,53,59)"/><rect x="457.8" y="172.8" width="0.6" height="0.6" fill="rgb(50,50,56)"/><rect x="503.0" y="129.7" width="0.6" height="0.6" fill="rgb(78,78,84)"/><rect x="502.9" y="143.3" width="0.6" height="0.6" fill="rgb(60,60,66)"/><rect x="489.4" y="233.2" width="0.6" height="0.6" fill="rgb(72,72,78)"/><rect x="440.5" y="137.0" width="0.6" height="0.6" fill="rgb(84,84,90)"/><rect x="519.9" y="197.3" width="0.6" height="0.6" fill="rgb(81,81,87)"/><rect x="512.1" y="216.4" width="0.6" height="0.6" fill="rgb(41,41,47)"/><rect x="443.4" y="135.4" width="0.6" height="0.6" fill="rgb(119,119,125)"/><rect x="443.9" y="237.1" width="0.6" height="0.6" fill="rgb(66,66,72)"/><rect x="516.9" y="179.7" width="0.6" height="0.6" fill="rgb(75,75,81)"/><rect x="433.7" y="172.4" width="0.6" height="0.6" fill="rgb(89,89,95)"/><rect x="507.7" y="222.9" width="0.6" height="0.6" fill="rgb(115,115,121)"/><rect x="456.1" y="230.2" width="0.6" height="0.6" fill="rgb(105,105,111)"/><rect x="472.0" y="212.3" width="0.6" height="0.6" fill="rgb(41,41,47)"/><rect x="512.9" y="176.8" width="0.6" height="0.6" fill="rgb(113,113,119)"/><rect x="493.7" y="203.6" width="0.6" height="0.6" fill="rgb(71,71,77)"/><rect x="465.2" y="234.4" width="0.6" height="0.6" fill="rgb(105,105,111)"/><rect x="427.1" y="183.8" width="0.6" height="0.6" fill="rgb(78,78,84)"/><rect x="443.5" y="158.9" width="0.6" height="0.6" fill="rgb(118,118,124)"/><rect x="441.2" y="204.9" width="0.6" height="0.6" fill="rgb(73,73,79)"/><rect x="465.0" y="206.4" width="0.6" height="0.6" fill="rgb(50,50,56)"/><rect x="431.3" y="148.1" width="0.6" height="0.6" fill="rgb(61,61,67)"/><rect x="466.8" y="222.9" width="0.6" height="0.6" fill="rgb(105,105,111)"/><rect x="436.9" y="233.7" width="0.6" height="0.6" fill="rgb(92,92,98)"/><rect x="459.0" y="192.5" width="0.6" height="0.6" fill="rgb(66,66,72)"/><rect x="423.2" y="168.8" width="0.6" height="0.6" fill="rgb(46,46,52)"/><rect x="447.5" y="171.9" width="0.6" height="0.6" fill="rgb(107,107,113)"/><rect x="435.0" y="131.8" width="0.6" height="0.6" fill="rgb(87,87,93)"/><rect x="454.3" y="215.3" width="0.6" height="0.6" fill="rgb(61,61,67)"/><rect x="453.6" y="168.4" width="0.6" height="0.6" fill="rgb(42,42,48)"/><rect x="466.6" y="195.5" width="0.6" height="0.6" fill="rgb(81,81,87)"/><rect x="426.9" y="187.4" width="0.6" height="0.6" fill="rgb(115,115,121)"/><rect x="497.7" y="227.1" width="0.6" height="0.6" fill="rgb(46,46,52)"/><rect x="442.4" y="158.1" width="0.6" height="0.6" fill="rgb(86,86,92)"/><rect x="482.3" y="179.2" width="0.6" height="0.6" fill="rgb(74,74,80)"/><rect x="503.9" y="229.9" width="0.6" height="0.6" fill="rgb(37,37,43)"/><rect x="427.1" y="178.4" width="0.6" height="0.6" fill="rgb(95,95,101)"/><rect x="516.6" y="185.8" width="0.6" height="0.6" fill="rgb(44,44,50)"/><rect x="455.2" y="236.1" width="0.6" height="0.6" fill="rgb(102,102,108)"/><rect x="504.6" y="241.3" width="0.6" height="0.6" fill="rgb(66,66,72)"/><rect x="496.9" y="155.2" width="0.6" height="0.6" fill="rgb(54,54,60)"/><rect x="469.1" y="207.9" width="0.6" height="0.6" fill="rgb(117,117,123)"/><rect x="503.7" y="232.4" width="0.6" height="0.6" fill="rgb(45,45,51)"/><rect x="472.2" y="134.0" width="0.6" height="0.6" fill="rgb(51,51,57)"/><rect x="438.3" y="235.3" width="0.6" height="0.6" fill="rgb(117,117,123)"/><rect x="489.6" y="240.2" width="0.6" height="0.6" fill="rgb(115,115,121)"/><rect x="440.3" y="202.7" width="0.6" height="0.6" fill="rgb(49,49,55)"/><rect x="424.1" y="164.0" width="0.6" height="0.6" fill="rgb(109,109,115)"/><rect x="433.9" y="159.5" width="0.6" height="0.6" fill="rgb(111,111,117)"/><rect x="413.6" y="191.3" width="0.6" height="0.6" fill="rgb(93,93,99)"/><rect x="443.2" y="165.9" width="0.6" height="0.6" fill="rgb(66,66,72)"/><rect x="464.1" y="156.5" width="0.6" height="0.6" fill="rgb(66,66,72)"/><rect x="416.6" y="176.9" width="0.6" height="0.6" fill="rgb(118,118,124)"/><rect x="446.2" y="132.0" width="0.6" height="0.6" fill="rgb(98,98,104)"/><rect x="507.7" y="203.9" width="0.6" height="0.6" fill="rgb(45,45,51)"/><rect x="440.9" y="206.2" width="0.6" height="0.6" fill="rgb(82,82,88)"/><rect x="437.7" y="133.4" width="0.6" height="0.6" fill="rgb(78,78,84)"/><rect x="490.0" y="171.2" width="0.6" height="0.6" fill="rgb(85,85,91)"/><rect x="434.6" y="221.2" width="0.6" height="0.6" fill="rgb(99,99,105)"/><rect x="420.7" y="186.5" width="0.6" height="0.6" fill="rgb(60,60,66)"/><rect x="446.7" y="223.8" width="0.6" height="0.6" fill="rgb(64,64,70)"/><rect x="463.0" y="160.0" width="0.6" height="0.6" fill="rgb(72,72,78)"/><rect x="425.1" y="201.2" width="0.6" height="0.6" fill="rgb(113,113,119)"/><rect x="433.4" y="155.2" width="0.6" height="0.6" fill="rgb(88,88,94)"/><rect x="510.5" y="136.0" width="0.6" height="0.6" fill="rgb(111,111,117)"/><rect x="429.1" y="174.7" width="0.6" height="0.6" fill="rgb(62,62,68)"/><rect x="416.0" y="198.1" width="0.6" height="0.6" fill="rgb(88,88,94)"/><rect x="419.0" y="136.4" width="0.6" height="0.6" fill="rgb(85,85,91)"/><rect x="461.4" y="211.4" width="0.6" height="0.6" fill="rgb(75,75,81)"/><rect x="491.5" y="244.2" width="0.6" height="0.6" fill="rgb(56,56,62)"/><rect x="448.6" y="150.8" width="0.6" height="0.6" fill="rgb(102,102,108)"/><rect x="493.0" y="133.2" width="0.6" height="0.6" fill="rgb(120,120,126)"/><rect x="490.8" y="226.0" width="0.6" height="0.6" fill="rgb(77,77,83)"/><rect x="460.6" y="142.0" width="0.6" height="0.6" fill="rgb(45,45,51)"/><rect x="443.3" y="169.9" width="0.6" height="0.6" fill="rgb(50,50,56)"/><rect x="473.3" y="216.8" width="0.6" height="0.6" fill="rgb(83,83,89)"/><rect x="451.5" y="224.0" width="0.6" height="0.6" fill="rgb(90,90,96)"/><rect x="422.8" y="210.6" width="0.6" height="0.6" fill="rgb(60,60,66)"/><rect x="453.2" y="235.2" width="0.6" height="0.6" fill="rgb(59,59,65)"/><rect x="447.9" y="214.3" width="0.6" height="0.6" fill="rgb(95,95,101)"/><rect x="416.7" y="176.7" width="0.6" height="0.6" fill="rgb(115,115,121)"/><rect x="495.2" y="134.2" width="0.6" height="0.6" fill="rgb(39,39,45)"/><rect x="462.9" y="221.9" width="0.6" height="0.6" fill="rgb(42,42,48)"/><rect x="440.9" y="215.4" width="0.6" height="0.6" fill="rgb(112,112,118)"/><rect x="449.6" y="160.8" width="0.6" height="0.6" fill="rgb(113,113,119)"/><rect x="418.1" y="215.3" width="0.6" height="0.6" fill="rgb(75,75,81)"/><rect x="511.9" y="163.7" width="0.6" height="0.6" fill="rgb(111,111,117)"/><rect x="511.1" y="202.4" width="0.6" height="0.6" fill="rgb(43,43,49)"/><rect x="416.1" y="156.4" width="0.6" height="0.6" fill="rgb(95,95,101)"/><rect x="489.7" y="183.1" width="0.6" height="0.6" fill="rgb(84,84,90)"/><rect x="497.6" y="234.6" width="0.6" height="0.6" fill="rgb(98,98,104)"/><rect x="427.6" y="186.6" width="0.6" height="0.6" fill="rgb(36,36,42)"/><rect x="499.0" y="214.4" width="0.6" height="0.6" fill="rgb(54,54,60)"/><rect x="478.2" y="167.2" width="0.6" height="0.6" fill="rgb(75,75,81)"/><rect x="462.6" y="219.6" width="0.6" height="0.6" fill="rgb(111,111,117)"/><rect x="421.9" y="152.2" width="0.6" height="0.6" fill="rgb(55,55,61)"/><rect x="439.8" y="136.9" width="0.6" height="0.6" fill="rgb(39,39,45)"/><rect x="464.8" y="192.1" width="0.6" height="0.6" fill="rgb(55,55,61)"/><rect x="517.9" y="231.1" width="0.6" height="0.6" fill="rgb(44,44,50)"/><rect x="441.7" y="139.2" width="0.6" height="0.6" fill="rgb(47,47,53)"/><rect x="458.3" y="243.2" width="0.6" height="0.6" fill="rgb(92,92,98)"/><rect x="431.9" y="144.8" width="0.6" height="0.6" fill="rgb(93,93,99)"/><rect x="479.6" y="207.0" width="0.6" height="0.6" fill="rgb(103,103,109)"/><rect x="503.7" y="205.9" width="0.6" height="0.6" fill="rgb(50,50,56)"/><rect x="496.5" y="163.3" width="0.6" height="0.6" fill="rgb(70,70,76)"/><rect x="473.9" y="172.4" width="0.6" height="0.6" fill="rgb(68,68,74)"/><rect x="434.7" y="158.0" width="0.6" height="0.6" fill="rgb(66,66,72)"/><rect x="438.6" y="161.9" width="0.6" height="0.6" fill="rgb(109,109,115)"/><rect x="433.5" y="137.0" width="0.6" height="0.6" fill="rgb(67,67,73)"/><rect x="519.2" y="187.8" width="0.6" height="0.6" fill="rgb(64,64,70)"/><rect x="482.7" y="141.1" width="0.6" height="0.6" fill="rgb(94,94,100)"/><rect x="519.0" y="141.3" width="0.6" height="0.6" fill="rgb(95,95,101)"/><rect x="507.5" y="156.1" width="0.6" height="0.6" fill="rgb(92,92,98)"/><rect x="510.9" y="134.1" width="0.6" height="0.6" fill="rgb(72,72,78)"/><rect x="438.3" y="135.3" width="0.6" height="0.6" fill="rgb(111,111,117)"/><rect x="517.1" y="196.6" width="0.6" height="0.6" fill="rgb(44,44,50)"/><rect x="453.1" y="229.1" width="0.6" height="0.6" fill="rgb(92,92,98)"/><rect x="477.7" y="218.6" width="0.6" height="0.6" fill="rgb(120,120,126)"/><rect x="514.2" y="141.7" width="0.6" height="0.6" fill="rgb(111,111,117)"/><rect x="489.1" y="169.7" width="0.6" height="0.6" fill="rgb(39,39,45)"/><rect x="452.8" y="145.8" width="0.6" height="0.6" fill="rgb(61,61,67)"/><rect x="520.0" y="133.9" width="0.6" height="0.6" fill="rgb(118,118,124)"/><rect x="510.8" y="223.2" width="0.6" height="0.6" fill="rgb(76,76,82)"/><rect x="457.1" y="172.3" width="0.6" height="0.6" fill="rgb(114,114,120)"/><rect x="446.7" y="152.9" width="0.6" height="0.6" fill="rgb(98,98,104)"/><rect x="471.9" y="136.8" width="0.6" height="0.6" fill="rgb(47,47,53)"/><rect x="498.3" y="205.9" width="0.6" height="0.6" fill="rgb(54,54,60)"/><rect x="481.6" y="140.0" width="0.6" height="0.6" fill="rgb(55,55,61)"/><rect x="455.9" y="160.7" width="0.6" height="0.6" fill="rgb(71,71,77)"/><rect x="484.6" y="177.6" width="0.6" height="0.6" fill="rgb(41,41,47)"/><rect x="446.8" y="194.6" width="0.6" height="0.6" fill="rgb(80,80,86)"/><rect x="457.6" y="131.6" width="0.6" height="0.6" fill="rgb(81,81,87)"/><rect x="482.1" y="174.4" width="0.6" height="0.6" fill="rgb(86,86,92)"/><rect x="435.2" y="130.2" width="0.6" height="0.6" fill="rgb(55,55,61)"/><rect x="458.6" y="223.8" width="0.6" height="0.6" fill="rgb(86,86,92)"/><rect x="475.0" y="171.4" width="0.6" height="0.6" fill="rgb(55,55,61)"/><rect x="427.3" y="135.4" width="0.6" height="0.6" fill="rgb(53,53,59)"/><rect x="481.7" y="234.1" width="0.6" height="0.6" fill="rgb(46,46,52)"/><rect x="474.5" y="236.1" width="0.6" height="0.6" fill="rgb(99,99,105)"/><rect x="431.8" y="169.5" width="0.6" height="0.6" fill="rgb(55,55,61)"/><rect x="469.0" y="235.9" width="0.6" height="0.6" fill="rgb(48,48,54)"/><rect x="454.4" y="216.2" width="0.6" height="0.6" fill="rgb(60,60,66)"/><rect x="445.6" y="225.8" width="0.6" height="0.6" fill="rgb(40,40,46)"/><rect x="517.4" y="185.0" width="0.6" height="0.6" fill="rgb(41,41,47)"/><rect x="478.2" y="202.7" width="0.6" height="0.6" fill="rgb(46,46,52)"/><rect x="509.8" y="200.8" width="0.6" height="0.6" fill="rgb(55,55,61)"/><rect x="481.7" y="228.0" width="0.6" height="0.6" fill="rgb(114,114,120)"/><rect x="456.6" y="226.8" width="0.6" height="0.6" fill="rgb(95,95,101)"/><rect x="433.0" y="154.6" width="0.6" height="0.6" fill="rgb(86,86,92)"/><rect x="513.5" y="147.5" width="0.6" height="0.6" fill="rgb(80,80,86)"/><rect x="426.6" y="157.9" width="0.6" height="0.6" fill="rgb(59,59,65)"/><rect x="417.9" y="194.2" width="0.6" height="0.6" fill="rgb(39,39,45)"/><rect x="484.6" y="166.8" width="0.6" height="0.6" fill="rgb(84,84,90)"/><rect x="477.3" y="192.8" width="0.6" height="0.6" fill="rgb(115,115,121)"/><rect x="496.4" y="204.1" width="0.6" height="0.6" fill="rgb(74,74,80)"/><rect x="475.5" y="178.5" width="0.6" height="0.6" fill="rgb(119,119,125)"/><rect x="452.6" y="187.4" width="0.6" height="0.6" fill="rgb(57,57,63)"/><rect x="416.0" y="200.7" width="0.6" height="0.6" fill="rgb(97,97,103)"/><rect x="463.1" y="180.9" width="0.6" height="0.6" fill="rgb(114,114,120)"/><rect x="496.6" y="182.2" width="0.6" height="0.6" fill="rgb(57,57,63)"/><rect x="499.8" y="175.5" width="0.6" height="0.6" fill="rgb(43,43,49)"/><rect x="427.2" y="179.0" width="0.6" height="0.6" fill="rgb(46,46,52)"/><rect x="498.9" y="187.5" width="0.6" height="0.6" fill="rgb(119,119,125)"/><rect x="417.8" y="202.7" width="0.6" height="0.6" fill="rgb(45,45,51)"/><rect x="511.7" y="165.6" width="0.6" height="0.6" fill="rgb(100,100,106)"/><rect x="422.0" y="216.0" width="0.6" height="0.6" fill="rgb(83,83,89)"/><rect x="483.0" y="219.7" width="0.6" height="0.6" fill="rgb(38,38,44)"/><rect x="504.8" y="244.1" width="0.6" height="0.6" fill="rgb(49,49,55)"/><rect x="434.1" y="242.4" width="0.6" height="0.6" fill="rgb(97,97,103)"/><rect x="444.2" y="222.8" width="0.6" height="0.6" fill="rgb(56,56,62)"/><rect x="486.6" y="212.4" width="0.6" height="0.6" fill="rgb(63,63,69)"/><rect x="420.5" y="169.9" width="0.6" height="0.6" fill="rgb(67,67,73)"/><rect x="430.4" y="232.6" width="0.6" height="0.6" fill="rgb(70,70,76)"/><rect x="509.9" y="182.0" width="0.6" height="0.6" fill="rgb(67,67,73)"/><rect x="467.0" y="235.3" width="0.6" height="0.6" fill="rgb(61,61,67)"/><rect x="476.5" y="200.3" width="0.6" height="0.6" fill="rgb(65,65,71)"/><rect x="447.5" y="133.7" width="0.6" height="0.6" fill="rgb(58,58,64)"/><rect x="456.5" y="202.7" width="0.6" height="0.6" fill="rgb(70,70,76)"/><rect x="485.9" y="232.5" width="0.6" height="0.6" fill="rgb(56,56,62)"/><rect x="497.9" y="159.9" width="0.6" height="0.6" fill="rgb(102,102,108)"/><rect x="418.7" y="228.2" width="0.6" height="0.6" fill="rgb(92,92,98)"/><rect x="472.6" y="196.2" width="0.6" height="0.6" fill="rgb(48,48,54)"/><rect x="440.3" y="191.1" width="0.6" height="0.6" fill="rgb(85,85,91)"/><rect x="492.1" y="172.2" width="0.6" height="0.6" fill="rgb(83,83,89)"/><rect x="519.0" y="195.9" width="0.6" height="0.6" fill="rgb(81,81,87)"/><rect x="448.7" y="138.9" width="0.6" height="0.6" fill="rgb(64,64,70)"/><rect x="432.3" y="215.0" width="0.6" height="0.6" fill="rgb(41,41,47)"/><rect x="445.1" y="188.9" width="0.6" height="0.6" fill="rgb(74,74,80)"/><rect x="481.6" y="242.7" width="0.6" height="0.6" fill="rgb(109,109,115)"/><rect x="512.4" y="232.5" width="0.6" height="0.6" fill="rgb(35,35,41)"/><rect x="493.1" y="155.0" width="0.6" height="0.6" fill="rgb(72,72,78)"/><rect x="479.1" y="179.2" width="0.6" height="0.6" fill="rgb(100,100,106)"/><rect x="452.3" y="135.0" width="0.6" height="0.6" fill="rgb(97,97,103)"/><rect x="437.7" y="204.6" width="0.6" height="0.6" fill="rgb(37,37,43)"/><rect x="419.3" y="194.7" width="0.6" height="0.6" fill="rgb(73,73,79)"/><rect x="424.8" y="170.6" width="0.6" height="0.6" fill="rgb(63,63,69)"/><rect x="457.5" y="164.1" width="0.6" height="0.6" fill="rgb(52,52,58)"/><rect x="435.2" y="201.3" width="0.6" height="0.6" fill="rgb(95,95,101)"/><rect x="430.4" y="131.1" width="0.6" height="0.6" fill="rgb(66,66,72)"/><rect x="488.8" y="181.3" width="0.6" height="0.6" fill="rgb(43,43,49)"/><rect x="481.5" y="229.7" width="0.6" height="0.6" fill="rgb(69,69,75)"/><rect x="456.3" y="159.9" width="0.6" height="0.6" fill="rgb(36,36,42)"/><rect x="419.5" y="223.9" width="0.6" height="0.6" fill="rgb(79,79,85)"/><rect x="476.8" y="196.0" width="0.6" height="0.6" fill="rgb(112,112,118)"/><rect x="513.3" y="213.9" width="0.6" height="0.6" fill="rgb(66,66,72)"/><rect x="431.1" y="129.5" width="0.6" height="0.6" fill="rgb(42,42,48)"/><rect x="470.1" y="176.2" width="0.6" height="0.6" fill="rgb(65,65,71)"/><rect x="430.5" y="234.4" width="0.6" height="0.6" fill="rgb(48,48,54)"/><rect x="414.8" y="192.9" width="0.6" height="0.6" fill="rgb(60,60,66)"/><rect x="428.7" y="152.4" width="0.6" height="0.6" fill="rgb(112,112,118)"/><rect x="481.9" y="204.0" width="0.6" height="0.6" fill="rgb(88,88,94)"/><rect x="500.1" y="149.6" width="0.6" height="0.6" fill="rgb(74,74,80)"/><rect x="420.3" y="201.5" width="0.6" height="0.6" fill="rgb(96,96,102)"/><rect x="489.7" y="130.2" width="0.6" height="0.6" fill="rgb(90,90,96)"/><rect x="492.9" y="183.0" width="0.6" height="0.6" fill="rgb(118,118,124)"/><rect x="461.7" y="155.5" width="0.6" height="0.6" fill="rgb(48,48,54)"/><rect x="441.3" y="203.6" width="0.6" height="0.6" fill="rgb(50,50,56)"/><rect x="449.2" y="215.7" width="0.6" height="0.6" fill="rgb(68,68,74)"/><rect x="489.3" y="160.1" width="0.6" height="0.6" fill="rgb(105,105,111)"/><rect x="485.8" y="208.4" width="0.6" height="0.6" fill="rgb(101,101,107)"/><rect x="517.0" y="163.5" width="0.6" height="0.6" fill="rgb(62,62,68)"/><rect x="422.6" y="187.9" width="0.6" height="0.6" fill="rgb(56,56,62)"/><rect x="441.2" y="156.7" width="0.6" height="0.6" fill="rgb(60,60,66)"/><rect x="514.1" y="215.3" width="0.6" height="0.6" fill="rgb(76,76,82)"/><rect x="433.9" y="174.2" width="0.6" height="0.6" fill="rgb(111,111,117)"/><rect x="439.0" y="233.9" width="0.6" height="0.6" fill="rgb(115,115,121)"/><rect x="511.7" y="242.4" width="0.6" height="0.6" fill="rgb(103,103,109)"/><rect x="463.5" y="226.1" width="0.6" height="0.6" fill="rgb(35,35,41)"/><rect x="504.8" y="179.8" width="0.6" height="0.6" fill="rgb(64,64,70)"/><rect x="474.2" y="164.9" width="0.6" height="0.6" fill="rgb(62,62,68)"/><rect x="455.2" y="196.8" width="0.6" height="0.6" fill="rgb(107,107,113)"/><rect x="510.5" y="146.1" width="0.6" height="0.6" fill="rgb(38,38,44)"/><rect x="425.4" y="201.0" width="0.6" height="0.6" fill="rgb(55,55,61)"/><rect x="450.2" y="145.8" width="0.6" height="0.6" fill="rgb(38,38,44)"/><rect x="416.8" y="145.4" width="0.6" height="0.6" fill="rgb(117,117,123)"/><rect x="481.0" y="209.7" width="0.6" height="0.6" fill="rgb(40,40,46)"/><rect x="420.5" y="197.4" width="0.6" height="0.6" fill="rgb(81,81,87)"/><rect x="434.7" y="239.3" width="0.6" height="0.6" fill="rgb(103,103,109)"/><rect x="508.4" y="137.1" width="0.6" height="0.6" fill="rgb(84,84,90)"/><rect x="424.9" y="153.2" width="0.6" height="0.6" fill="rgb(49,49,55)"/><rect x="417.1" y="238.7" width="0.6" height="0.6" fill="rgb(116,116,122)"/><rect x="422.8" y="215.9" width="0.6" height="0.6" fill="rgb(115,115,121)"/><rect x="444.1" y="141.0" width="0.6" height="0.6" fill="rgb(47,47,53)"/><rect x="497.8" y="203.8" width="0.6" height="0.6" fill="rgb(72,72,78)"/><rect x="447.5" y="178.2" width="0.6" height="0.6" fill="rgb(37,37,43)"/><rect x="450.9" y="236.5" width="0.6" height="0.6" fill="rgb(41,41,47)"/><rect x="489.7" y="171.8" width="0.6" height="0.6" fill="rgb(76,76,82)"/><rect x="495.4" y="198.7" width="0.6" height="0.6" fill="rgb(95,95,101)"/><rect x="504.2" y="200.6" width="0.6" height="0.6" fill="rgb(38,38,44)"/><rect x="497.5" y="133.1" width="0.6" height="0.6" fill="rgb(101,101,107)"/><rect x="495.8" y="169.4" width="0.6" height="0.6" fill="rgb(41,41,47)"/><rect x="470.8" y="154.4" width="0.6" height="0.6" fill="rgb(46,46,52)"/><rect x="474.7" y="162.5" width="0.6" height="0.6" fill="rgb(90,90,96)"/><rect x="413.6" y="152.7" width="0.6" height="0.6" fill="rgb(41,41,47)"/><rect x="414.0" y="185.9" width="0.6" height="0.6" fill="rgb(97,97,103)"/><rect x="487.5" y="224.4" width="0.6" height="0.6" fill="rgb(98,98,104)"/><rect x="476.6" y="239.6" width="0.6" height="0.6" fill="rgb(100,100,106)"/><rect x="441.3" y="238.0" width="0.6" height="0.6" fill="rgb(71,71,77)"/><rect x="500.3" y="237.4" width="0.6" height="0.6" fill="rgb(64,64,70)"/><rect x="466.6" y="142.1" width="0.6" height="0.6" fill="rgb(116,116,122)"/><rect x="495.2" y="185.9" width="0.6" height="0.6" fill="rgb(106,106,112)"/><rect x="497.3" y="201.7" width="0.6" height="0.6" fill="rgb(80,80,86)"/><rect x="423.6" y="236.3" width="0.6" height="0.6" fill="rgb(46,46,52)"/><rect x="458.5" y="203.8" width="0.6" height="0.6" fill="rgb(82,82,88)"/><rect x="435.5" y="159.8" width="0.6" height="0.6" fill="rgb(104,104,110)"/><rect x="466.9" y="173.1" width="0.6" height="0.6" fill="rgb(115,115,121)"/><rect x="438.4" y="182.5" width="0.6" height="0.6" fill="rgb(103,103,109)"/><rect x="476.8" y="208.8" width="0.6" height="0.6" fill="rgb(112,112,118)"/><rect x="482.3" y="169.6" width="0.6" height="0.6" fill="rgb(76,76,82)"/><rect x="469.1" y="229.3" width="0.6" height="0.6" fill="rgb(92,92,98)"/><rect x="484.0" y="214.8" width="0.6" height="0.6" fill="rgb(56,56,62)"/><rect x="462.8" y="208.7" width="0.6" height="0.6" fill="rgb(67,67,73)"/><rect x="475.2" y="144.0" width="0.6" height="0.6" fill="rgb(94,94,100)"/><rect x="481.9" y="209.6" width="0.6" height="0.6" fill="rgb(99,99,105)"/><rect x="433.9" y="164.2" width="0.6" height="0.6" fill="rgb(114,114,120)"/><rect x="430.0" y="147.4" width="0.6" height="0.6" fill="rgb(66,66,72)"/><rect x="490.5" y="198.8" width="0.6" height="0.6" fill="rgb(79,79,85)"/><rect x="430.6" y="167.2" width="0.6" height="0.6" fill="rgb(59,59,65)"/><rect x="441.1" y="239.3" width="0.6" height="0.6" fill="rgb(48,48,54)"/><rect x="431.0" y="205.2" width="0.6" height="0.6" fill="rgb(60,60,66)"/><rect x="454.4" y="242.6" width="0.6" height="0.6" fill="rgb(73,73,79)"/><rect x="491.6" y="179.5" width="0.6" height="0.6" fill="rgb(60,60,66)"/><rect x="425.1" y="234.3" width="0.6" height="0.6" fill="rgb(70,70,76)"/><rect x="435.5" y="174.2" width="0.6" height="0.6" fill="rgb(39,39,45)"/><rect x="414.8" y="227.7" width="0.6" height="0.6" fill="rgb(90,90,96)"/><rect x="487.4" y="187.1" width="0.6" height="0.6" fill="rgb(115,115,121)"/><rect x="445.0" y="132.0" width="0.6" height="0.6" fill="rgb(67,67,73)"/><rect x="477.8" y="176.0" width="0.6" height="0.6" fill="rgb(66,66,72)"/><rect x="510.2" y="179.0" width="0.6" height="0.6" fill="rgb(108,108,114)"/><rect x="476.1" y="203.9" width="0.6" height="0.6" fill="rgb(64,64,70)"/><rect x="484.6" y="204.5" width="0.6" height="0.6" fill="rgb(117,117,123)"/><rect x="488.1" y="227.5" width="0.6" height="0.6" fill="rgb(58,58,64)"/><rect x="481.8" y="181.7" width="0.6" height="0.6" fill="rgb(75,75,81)"/><rect x="441.2" y="210.1" width="0.6" height="0.6" fill="rgb(88,88,94)"/><rect x="439.3" y="175.5" width="0.6" height="0.6" fill="rgb(115,115,121)"/><rect x="430.2" y="227.2" width="0.6" height="0.6" fill="rgb(96,96,102)"/><rect x="462.0" y="201.0" width="0.6" height="0.6" fill="rgb(87,87,93)"/><rect x="468.7" y="205.5" width="0.6" height="0.6" fill="rgb(58,58,64)"/><rect x="508.8" y="167.2" width="0.6" height="0.6" fill="rgb(36,36,42)"/><rect x="454.9" y="185.8" width="0.6" height="0.6" fill="rgb(48,48,54)"/><rect x="417.6" y="192.0" width="0.6" height="0.6" fill="rgb(55,55,61)"/><rect x="489.8" y="238.9" width="0.6" height="0.6" fill="rgb(60,60,66)"/><rect x="468.8" y="141.1" width="0.6" height="0.6" fill="rgb(108,108,114)"/><rect x="462.1" y="153.1" width="0.6" height="0.6" fill="rgb(95,95,101)"/><rect x="468.0" y="203.0" width="0.6" height="0.6" fill="rgb(82,82,88)"/><rect x="469.1" y="176.7" width="0.6" height="0.6" fill="rgb(93,93,99)"/><rect x="435.9" y="208.2" width="0.6" height="0.6" fill="rgb(85,85,91)"/><rect x="468.2" y="236.8" width="0.6" height="0.6" fill="rgb(113,113,119)"/><rect x="451.4" y="136.0" width="0.6" height="0.6" fill="rgb(70,70,76)"/><rect x="454.2" y="136.6" width="0.6" height="0.6" fill="rgb(44,44,50)"/><rect x="458.1" y="177.9" width="0.6" height="0.6" fill="rgb(80,80,86)"/><rect x="475.3" y="142.1" width="0.6" height="0.6" fill="rgb(73,73,79)"/><rect x="492.5" y="237.6" width="0.6" height="0.6" fill="rgb(102,102,108)"/><rect x="517.0" y="243.8" width="0.6" height="0.6" fill="rgb(85,85,91)"/><rect x="462.7" y="148.4" width="0.6" height="0.6" fill="rgb(43,43,49)"/><rect x="499.7" y="202.4" width="0.6" height="0.6" fill="rgb(95,95,101)"/><rect x="481.9" y="212.4" width="0.6" height="0.6" fill="rgb(53,53,59)"/><rect x="451.1" y="203.0" width="0.6" height="0.6" fill="rgb(87,87,93)"/><rect x="463.4" y="163.3" width="0.6" height="0.6" fill="rgb(105,105,111)"/><rect x="482.7" y="219.2" width="0.6" height="0.6" fill="rgb(95,95,101)"/><rect x="451.3" y="227.3" width="0.6" height="0.6" fill="rgb(69,69,75)"/><rect x="488.5" y="208.6" width="0.6" height="0.6" fill="rgb(89,89,95)"/><rect x="485.8" y="184.9" width="0.6" height="0.6" fill="rgb(70,70,76)"/><rect x="451.6" y="204.8" width="0.6" height="0.6" fill="rgb(76,76,82)"/><rect x="464.6" y="178.8" width="0.6" height="0.6" fill="rgb(116,116,122)"/><rect x="422.6" y="232.7" width="0.6" height="0.6" fill="rgb(54,54,60)"/><rect x="512.4" y="227.8" width="0.6" height="0.6" fill="rgb(42,42,48)"/><rect x="422.6" y="194.4" width="0.6" height="0.6" fill="rgb(76,76,82)"/><rect x="497.0" y="145.6" width="0.6" height="0.6" fill="rgb(79,79,85)"/><rect x="480.9" y="131.2" width="0.6" height="0.6" fill="rgb(36,36,42)"/><rect x="435.8" y="137.8" width="0.6" height="0.6" fill="rgb(72,72,78)"/><rect x="440.1" y="141.2" width="0.6" height="0.6" fill="rgb(53,53,59)"/><rect x="504.5" y="150.9" width="0.6" height="0.6" fill="rgb(92,92,98)"/><rect x="450.4" y="147.1" width="0.6" height="0.6" fill="rgb(86,86,92)"/><rect x="497.8" y="148.8" width="0.6" height="0.6" fill="rgb(112,112,118)"/><rect x="517.6" y="139.9" width="0.6" height="0.6" fill="rgb(105,105,111)"/><rect x="497.4" y="226.0" width="0.6" height="0.6" fill="rgb(60,60,66)"/><rect x="466.2" y="154.0" width="0.6" height="0.6" fill="rgb(45,45,51)"/><rect x="492.5" y="179.9" width="0.6" height="0.6" fill="rgb(49,49,55)"/><rect x="472.6" y="159.9" width="0.6" height="0.6" fill="rgb(64,64,70)"/><rect x="501.6" y="183.9" width="0.6" height="0.6" fill="rgb(106,106,112)"/><rect x="419.7" y="183.2" width="0.6" height="0.6" fill="rgb(53,53,59)"/><rect x="488.1" y="157.9" width="0.6" height="0.6" fill="rgb(56,56,62)"/><rect x="471.0" y="228.7" width="0.6" height="0.6" fill="rgb(35,35,41)"/><rect x="430.6" y="166.4" width="0.6" height="0.6" fill="rgb(107,107,113)"/><rect x="466.5" y="163.6" width="0.6" height="0.6" fill="rgb(94,94,100)"/><rect x="453.4" y="177.7" width="0.6" height="0.6" fill="rgb(44,44,50)"/><rect x="432.7" y="170.9" width="0.6" height="0.6" fill="rgb(117,117,123)"/><rect x="416.5" y="199.6" width="0.6" height="0.6" fill="rgb(77,77,83)"/><rect x="499.6" y="140.3" width="0.6" height="0.6" fill="rgb(96,96,102)"/><rect x="465.1" y="232.7" width="0.6" height="0.6" fill="rgb(39,39,45)"/><rect x="436.2" y="177.3" width="0.6" height="0.6" fill="rgb(51,51,57)"/><rect x="449.6" y="228.6" width="0.6" height="0.6" fill="rgb(81,81,87)"/><rect x="449.8" y="219.0" width="0.6" height="0.6" fill="rgb(105,105,111)"/><rect x="495.6" y="153.7" width="0.6" height="0.6" fill="rgb(90,90,96)"/><rect x="449.9" y="158.4" width="0.6" height="0.6" fill="rgb(41,41,47)"/><rect x="501.5" y="163.2" width="0.6" height="0.6" fill="rgb(98,98,104)"/><rect x="456.5" y="187.4" width="0.6" height="0.6" fill="rgb(69,69,75)"/><rect x="506.5" y="169.2" width="0.6" height="0.6" fill="rgb(61,61,67)"/><rect x="483.2" y="220.6" width="0.6" height="0.6" fill="rgb(77,77,83)"/><rect x="434.0" y="211.5" width="0.6" height="0.6" fill="rgb(51,51,57)"/><rect x="476.0" y="202.5" width="0.6" height="0.6" fill="rgb(40,40,46)"/><rect x="456.0" y="193.2" width="0.6" height="0.6" fill="rgb(86,86,92)"/><rect x="471.6" y="135.2" width="0.6" height="0.6" fill="rgb(73,73,79)"/><rect x="425.1" y="134.8" width="0.6" height="0.6" fill="rgb(95,95,101)"/><rect x="478.3" y="205.2" width="0.6" height="0.6" fill="rgb(99,99,105)"/><rect x="510.4" y="199.9" width="0.6" height="0.6" fill="rgb(113,113,119)"/><rect x="429.2" y="207.0" width="0.6" height="0.6" fill="rgb(111,111,117)"/><rect x="506.8" y="139.0" width="0.6" height="0.6" fill="rgb(40,40,46)"/><rect x="484.5" y="182.2" width="0.6" height="0.6" fill="rgb(57,57,63)"/><rect x="424.3" y="150.3" width="0.6" height="0.6" fill="rgb(39,39,45)"/><rect x="458.4" y="141.1" width="0.6" height="0.6" fill="rgb(118,118,124)"/><rect x="414.9" y="229.8" width="0.6" height="0.6" fill="rgb(52,52,58)"/><rect x="497.3" y="194.1" width="0.6" height="0.6" fill="rgb(68,68,74)"/><rect x="505.4" y="150.7" width="0.6" height="0.6" fill="rgb(39,39,45)"/><rect x="447.4" y="179.0" width="0.6" height="0.6" fill="rgb(117,117,123)"/><rect x="475.1" y="234.6" width="0.6" height="0.6" fill="rgb(98,98,104)"/><rect x="473.9" y="134.0" width="0.6" height="0.6" fill="rgb(50,50,56)"/><rect x="495.9" y="177.9" width="0.6" height="0.6" fill="rgb(86,86,92)"/><rect x="461.0" y="131.1" width="0.6" height="0.6" fill="rgb(84,84,90)"/><rect x="476.7" y="243.7" width="0.6" height="0.6" fill="rgb(119,119,125)"/><rect x="518.0" y="184.2" width="0.6" height="0.6" fill="rgb(87,87,93)"/><rect x="471.9" y="139.0" width="0.6" height="0.6" fill="rgb(95,95,101)"/><rect x="436.1" y="147.0" width="0.6" height="0.6" fill="rgb(36,36,42)"/><rect x="459.0" y="130.6" width="0.6" height="0.6" fill="rgb(120,120,126)"/><rect x="426.5" y="240.6" width="0.6" height="0.6" fill="rgb(46,46,52)"/><rect x="436.7" y="143.5" width="0.6" height="0.6" fill="rgb(95,95,101)"/><rect x="415.4" y="212.2" width="0.6" height="0.6" fill="rgb(66,66,72)"/><rect x="461.5" y="215.1" width="0.6" height="0.6" fill="rgb(41,41,47)"/><rect x="452.5" y="215.4" width="0.6" height="0.6" fill="rgb(53,53,59)"/><rect x="491.2" y="139.2" width="0.6" height="0.6" fill="rgb(115,115,121)"/><rect x="472.9" y="186.8" width="0.6" height="0.6" fill="rgb(120,120,126)"/><rect x="512.8" y="158.7" width="0.6" height="0.6" fill="rgb(41,41,47)"/><rect x="489.9" y="130.8" width="0.6" height="0.6" fill="rgb(36,36,42)"/><rect x="507.6" y="208.5" width="0.6" height="0.6" fill="rgb(114,114,120)"/><rect x="422.0" y="165.3" width="0.6" height="0.6" fill="rgb(111,111,117)"/><rect x="431.2" y="228.5" width="0.6" height="0.6" fill="rgb(97,97,103)"/><rect x="478.4" y="165.9" width="0.6" height="0.6" fill="rgb(108,108,114)"/><rect x="491.0" y="183.5" width="0.6" height="0.6" fill="rgb(56,56,62)"/><rect x="428.9" y="221.2" width="0.6" height="0.6" fill="rgb(81,81,87)"/><rect x="515.1" y="148.4" width="0.6" height="0.6" fill="rgb(88,88,94)"/><rect x="464.3" y="219.0" width="0.6" height="0.6" fill="rgb(92,92,98)"/><rect x="514.1" y="219.7" width="0.6" height="0.6" fill="rgb(107,107,113)"/><rect x="449.1" y="161.7" width="0.6" height="0.6" fill="rgb(114,114,120)"/><rect x="517.2" y="210.4" width="0.6" height="0.6" fill="rgb(111,111,117)"/><rect x="448.9" y="199.2" width="0.6" height="0.6" fill="rgb(36,36,42)"/><rect x="502.0" y="198.6" width="0.6" height="0.6" fill="rgb(74,74,80)"/><rect x="475.8" y="241.8" width="0.6" height="0.6" fill="rgb(66,66,72)"/><rect x="453.6" y="208.3" width="0.6" height="0.6" fill="rgb(112,112,118)"/><rect x="495.7" y="156.5" width="0.6" height="0.6" fill="rgb(92,92,98)"/><rect x="443.7" y="129.7" width="0.6" height="0.6" fill="rgb(68,68,74)"/><rect x="442.0" y="147.6" width="0.6" height="0.6" fill="rgb(40,40,46)"/><rect x="444.2" y="145.7" width="0.6" height="0.6" fill="rgb(108,108,114)"/><rect x="429.2" y="241.7" width="0.6" height="0.6" fill="rgb(105,105,111)"/><rect x="486.4" y="234.6" width="0.6" height="0.6" fill="rgb(79,79,85)"/><rect x="470.4" y="191.6" width="0.6" height="0.6" fill="rgb(97,97,103)"/><rect x="498.4" y="152.5" width="0.6" height="0.6" fill="rgb(64,64,70)"/><rect x="446.5" y="136.1" width="0.6" height="0.6" fill="rgb(85,85,91)"/><rect x="463.1" y="153.3" width="0.6" height="0.6" fill="rgb(67,67,73)"/><rect x="476.0" y="130.6" width="0.6" height="0.6" fill="rgb(84,84,90)"/><rect x="462.5" y="139.6" width="0.6" height="0.6" fill="rgb(80,80,86)"/><rect x="495.7" y="156.3" width="0.6" height="0.6" fill="rgb(109,109,115)"/><rect x="469.0" y="159.3" width="0.6" height="0.6" fill="rgb(101,101,107)"/><rect x="447.7" y="187.7" width="0.6" height="0.6" fill="rgb(60,60,66)"/><rect x="433.6" y="151.6" width="0.6" height="0.6" fill="rgb(58,58,64)"/><rect x="499.3" y="162.8" width="0.6" height="0.6" fill="rgb(108,108,114)"/><rect x="473.6" y="175.8" width="0.6" height="0.6" fill="rgb(101,101,107)"/><rect x="504.8" y="157.8" width="0.6" height="0.6" fill="rgb(98,98,104)"/><rect x="453.3" y="141.7" width="0.6" height="0.6" fill="rgb(115,115,121)"/><rect x="462.9" y="138.9" width="0.6" height="0.6" fill="rgb(75,75,81)"/><rect x="477.1" y="169.2" width="0.6" height="0.6" fill="rgb(101,101,107)"/><rect x="478.2" y="140.3" width="0.6" height="0.6" fill="rgb(61,61,67)"/><rect x="519.0" y="229.1" width="0.6" height="0.6" fill="rgb(97,97,103)"/><rect x="476.0" y="154.1" width="0.6" height="0.6" fill="rgb(70,70,76)"/><rect x="458.9" y="238.3" width="0.6" height="0.6" fill="rgb(110,110,116)"/><rect x="500.7" y="240.3" width="0.6" height="0.6" fill="rgb(67,67,73)"/><rect x="503.4" y="168.5" width="0.6" height="0.6" fill="rgb(58,58,64)"/><rect x="453.8" y="132.7" width="0.6" height="0.6" fill="rgb(39,39,45)"/><rect x="472.9" y="229.6" width="0.6" height="0.6" fill="rgb(93,93,99)"/><rect x="465.3" y="226.7" width="0.6" height="0.6" fill="rgb(43,43,49)"/><rect x="505.4" y="203.1" width="0.6" height="0.6" fill="rgb(50,50,56)"/><rect x="488.7" y="139.8" width="0.6" height="0.6" fill="rgb(75,75,81)"/><rect x="473.6" y="203.2" width="0.6" height="0.6" fill="rgb(120,120,126)"/><rect x="467.4" y="150.5" width="0.6" height="0.6" fill="rgb(55,55,61)"/><rect x="453.0" y="156.5" width="0.6" height="0.6" fill="rgb(63,63,69)"/><rect x="431.8" y="237.8" width="0.6" height="0.6" fill="rgb(80,80,86)"/><rect x="419.8" y="193.1" width="0.6" height="0.6" fill="rgb(38,38,44)"/><rect x="502.7" y="134.9" width="0.6" height="0.6" fill="rgb(100,100,106)"/><rect x="489.1" y="203.9" width="0.6" height="0.6" fill="rgb(96,96,102)"/><rect x="419.4" y="146.2" width="0.6" height="0.6" fill="rgb(35,35,41)"/><rect x="513.5" y="207.3" width="0.6" height="0.6" fill="rgb(73,73,79)"/><rect x="476.3" y="180.2" width="0.6" height="0.6" fill="rgb(118,118,124)"/><rect x="424.7" y="166.8" width="0.6" height="0.6" fill="rgb(67,67,73)"/><rect x="455.0" y="172.6" width="0.6" height="0.6" fill="rgb(83,83,89)"/><rect x="431.5" y="156.9" width="0.6" height="0.6" fill="rgb(53,53,59)"/><rect x="510.9" y="232.1" width="0.6" height="0.6" fill="rgb(94,94,100)"/><rect x="489.9" y="151.9" width="0.6" height="0.6" fill="rgb(39,39,45)"/><rect x="430.2" y="225.3" width="0.6" height="0.6" fill="rgb(44,44,50)"/><rect x="513.0" y="229.2" width="0.6" height="0.6" fill="rgb(52,52,58)"/><rect x="496.4" y="239.7" width="0.6" height="0.6" fill="rgb(84,84,90)"/><rect x="503.2" y="201.8" width="0.6" height="0.6" fill="rgb(92,92,98)"/><rect x="517.1" y="166.6" width="0.6" height="0.6" fill="rgb(64,64,70)"/><rect x="464.4" y="201.7" width="0.6" height="0.6" fill="rgb(53,53,59)"/><rect x="448.9" y="214.1" width="0.6" height="0.6" fill="rgb(58,58,64)"/><rect x="489.5" y="193.1" width="0.6" height="0.6" fill="rgb(53,53,59)"/><rect x="460.3" y="146.7" width="0.6" height="0.6" fill="rgb(88,88,94)"/><rect x="457.4" y="147.4" width="0.6" height="0.6" fill="rgb(69,69,75)"/><rect x="474.3" y="163.6" width="0.6" height="0.6" fill="rgb(56,56,62)"/><rect x="441.3" y="142.1" width="0.6" height="0.6" fill="rgb(93,93,99)"/><rect x="509.7" y="142.6" width="0.6" height="0.6" fill="rgb(100,100,106)"/><rect x="419.6" y="232.4" width="0.6" height="0.6" fill="rgb(120,120,126)"/><rect x="512.0" y="193.9" width="0.6" height="0.6" fill="rgb(71,71,77)"/><rect x="426.2" y="216.3" width="0.6" height="0.6" fill="rgb(81,81,87)"/><rect x="459.5" y="159.6" width="0.6" height="0.6" fill="rgb(65,65,71)"/><rect x="512.0" y="140.7" width="0.6" height="0.6" fill="rgb(72,72,78)"/><rect x="457.8" y="148.2" width="0.6" height="0.6" fill="rgb(72,72,78)"/><rect x="428.9" y="203.1" width="0.6" height="0.6" fill="rgb(91,91,97)"/><rect x="499.4" y="168.7" width="0.6" height="0.6" fill="rgb(52,52,58)"/><rect x="460.7" y="220.3" width="0.6" height="0.6" fill="rgb(102,102,108)"/><rect x="444.0" y="170.9" width="0.6" height="0.6" fill="rgb(40,40,46)"/><rect x="510.6" y="154.6" width="0.6" height="0.6" fill="rgb(108,108,114)"/><rect x="432.7" y="226.5" width="0.6" height="0.6" fill="rgb(101,101,107)"/><rect x="495.6" y="211.3" width="0.6" height="0.6" fill="rgb(60,60,66)"/><rect x="477.5" y="224.8" width="0.6" height="0.6" fill="rgb(112,112,118)"/><rect x="491.3" y="217.0" width="0.6" height="0.6" fill="rgb(57,57,63)"/><rect x="435.4" y="199.9" width="0.6" height="0.6" fill="rgb(115,115,121)"/><rect x="499.9" y="196.5" width="0.6" height="0.6" fill="rgb(60,60,66)"/><rect x="414.6" y="209.1" width="0.6" height="0.6" fill="rgb(101,101,107)"/><rect x="457.0" y="212.5" width="0.6" height="0.6" fill="rgb(42,42,48)"/><rect x="468.7" y="169.5" width="0.6" height="0.6" fill="rgb(71,71,77)"/><rect x="503.2" y="228.9" width="0.6" height="0.6" fill="rgb(98,98,104)"/><rect x="423.1" y="176.6" width="0.6" height="0.6" fill="rgb(96,96,102)"/><rect x="427.7" y="206.0" width="0.6" height="0.6" fill="rgb(66,66,72)"/><rect x="433.3" y="225.1" width="0.6" height="0.6" fill="rgb(81,81,87)"/><rect x="417.4" y="210.3" width="0.6" height="0.6" fill="rgb(108,108,114)"/><rect x="476.9" y="130.0" width="0.6" height="0.6" fill="rgb(101,101,107)"/><rect x="512.8" y="240.9" width="0.6" height="0.6" fill="rgb(44,44,50)"/><rect x="426.4" y="211.7" width="0.6" height="0.6" fill="rgb(76,76,82)"/><rect x="496.5" y="229.3" width="0.6" height="0.6" fill="rgb(108,108,114)"/><rect x="493.5" y="136.5" width="0.6" height="0.6" fill="rgb(48,48,54)"/><rect x="515.1" y="186.4" width="0.6" height="0.6" fill="rgb(100,100,106)"/><rect x="416.2" y="222.0" width="0.6" height="0.6" fill="rgb(52,52,58)"/><rect x="415.7" y="240.8" width="0.6" height="0.6" fill="rgb(63,63,69)"/><rect x="479.4" y="148.8" width="0.6" height="0.6" fill="rgb(74,74,80)"/><rect x="440.2" y="223.5" width="0.6" height="0.6" fill="rgb(38,38,44)"/><rect x="415.6" y="236.0" width="0.6" height="0.6" fill="rgb(59,59,65)"/><rect x="441.3" y="225.8" width="0.6" height="0.6" fill="rgb(116,116,122)"/><rect x="474.9" y="189.6" width="0.6" height="0.6" fill="rgb(91,91,97)"/><rect x="424.5" y="229.5" width="0.6" height="0.6" fill="rgb(57,57,63)"/><rect x="418.3" y="143.7" width="0.6" height="0.6" fill="rgb(98,98,104)"/><rect x="475.9" y="217.1" width="0.6" height="0.6" fill="rgb(49,49,55)"/><rect x="426.5" y="176.1" width="0.6" height="0.6" fill="rgb(52,52,58)"/><rect x="471.2" y="155.7" width="0.6" height="0.6" fill="rgb(64,64,70)"/><rect x="429.2" y="195.4" width="0.6" height="0.6" fill="rgb(85,85,91)"/><rect x="431.0" y="224.5" width="0.6" height="0.6" fill="rgb(116,116,122)"/><rect x="454.9" y="177.9" width="0.6" height="0.6" fill="rgb(112,112,118)"/><rect x="469.5" y="175.0" width="0.6" height="0.6" fill="rgb(41,41,47)"/><rect x="496.2" y="168.4" width="0.6" height="0.6" fill="rgb(65,65,71)"/><rect x="502.8" y="211.8" width="0.6" height="0.6" fill="rgb(107,107,113)"/><rect x="499.2" y="234.5" width="0.6" height="0.6" fill="rgb(86,86,92)"/><rect x="503.8" y="135.7" width="0.6" height="0.6" fill="rgb(101,101,107)"/><rect x="429.1" y="207.7" width="0.6" height="0.6" fill="rgb(80,80,86)"/><rect x="440.0" y="178.0" width="0.6" height="0.6" fill="rgb(115,115,121)"/><rect x="414.7" y="142.0" width="0.6" height="0.6" fill="rgb(58,58,64)"/><rect x="420.9" y="179.3" width="0.6" height="0.6" fill="rgb(99,99,105)"/><rect x="484.8" y="155.4" width="0.6" height="0.6" fill="rgb(88,88,94)"/><rect x="516.8" y="218.8" width="0.6" height="0.6" fill="rgb(93,93,99)"/><rect x="480.9" y="222.6" width="0.6" height="0.6" fill="rgb(40,40,46)"/><rect x="417.2" y="203.3" width="0.6" height="0.6" fill="rgb(69,69,75)"/><rect x="511.3" y="201.2" width="0.6" height="0.6" fill="rgb(115,115,121)"/><rect x="471.3" y="235.8" width="0.6" height="0.6" fill="rgb(114,114,120)"/><rect x="424.2" y="143.5" width="0.6" height="0.6" fill="rgb(36,36,42)"/><rect x="459.7" y="238.8" width="0.6" height="0.6" fill="rgb(71,71,77)"/><rect x="425.5" y="169.5" width="0.6" height="0.6" fill="rgb(56,56,62)"/><rect x="426.3" y="197.8" width="0.6" height="0.6" fill="rgb(100,100,106)"/><rect x="509.5" y="139.2" width="0.6" height="0.6" fill="rgb(110,110,116)"/><rect x="470.4" y="146.6" width="0.6" height="0.6" fill="rgb(50,50,56)"/><rect x="468.0" y="231.3" width="0.6" height="0.6" fill="rgb(87,87,93)"/><rect x="475.0" y="161.0" width="0.6" height="0.6" fill="rgb(46,46,52)"/><rect x="492.4" y="162.5" width="0.6" height="0.6" fill="rgb(93,93,99)"/><rect x="478.5" y="195.1" width="0.6" height="0.6" fill="rgb(118,118,124)"/><rect x="454.7" y="192.6" width="0.6" height="0.6" fill="rgb(81,81,87)"/><rect x="462.6" y="192.5" width="0.6" height="0.6" fill="rgb(113,113,119)"/><rect x="464.4" y="223.7" width="0.6" height="0.6" fill="rgb(38,38,44)"/><rect x="439.3" y="155.0" width="0.6" height="0.6" fill="rgb(100,100,106)"/><rect x="471.6" y="241.0" width="0.6" height="0.6" fill="rgb(85,85,91)"/><rect x="414.8" y="170.1" width="0.6" height="0.6" fill="rgb(65,65,71)"/><rect x="448.0" y="166.9" width="0.6" height="0.6" fill="rgb(69,69,75)"/><rect x="443.8" y="243.1" width="0.6" height="0.6" fill="rgb(72,72,78)"/><rect x="419.6" y="132.0" width="0.6" height="0.6" fill="rgb(105,105,111)"/><rect x="420.6" y="229.7" width="0.6" height="0.6" fill="rgb(91,91,97)"/><rect x="483.5" y="189.0" width="0.6" height="0.6" fill="rgb(91,91,97)"/><rect x="451.2" y="217.2" width="0.6" height="0.6" fill="rgb(101,101,107)"/><rect x="437.5" y="239.8" width="0.6" height="0.6" fill="rgb(54,54,60)"/><rect x="457.9" y="206.3" width="0.6" height="0.6" fill="rgb(52,52,58)"/><rect x="485.4" y="200.4" width="0.6" height="0.6" fill="rgb(70,70,76)"/><rect x="501.0" y="189.0" width="0.6" height="0.6" fill="rgb(95,95,101)"/><rect x="442.1" y="202.0" width="0.6" height="0.6" fill="rgb(115,115,121)"/><rect x="510.9" y="144.1" width="0.6" height="0.6" fill="rgb(48,48,54)"/><rect x="414.0" y="217.6" width="0.6" height="0.6" fill="rgb(109,109,115)"/><rect x="426.0" y="175.2" width="0.6" height="0.6" fill="rgb(108,108,114)"/><rect x="429.4" y="227.2" width="0.6" height="0.6" fill="rgb(70,70,76)"/><rect x="506.4" y="199.3" width="0.6" height="0.6" fill="rgb(83,83,89)"/><rect x="504.2" y="209.2" width="0.6" height="0.6" fill="rgb(71,71,77)"/><rect x="490.5" y="163.2" width="0.6" height="0.6" fill="rgb(85,85,91)"/><rect x="469.5" y="198.0" width="0.6" height="0.6" fill="rgb(117,117,123)"/><rect x="447.8" y="220.0" width="0.6" height="0.6" fill="rgb(98,98,104)"/><rect x="454.0" y="164.0" width="0.6" height="0.6" fill="rgb(103,103,109)"/><rect x="445.9" y="146.2" width="0.6" height="0.6" fill="rgb(108,108,114)"/><rect x="453.7" y="156.2" width="0.6" height="0.6" fill="rgb(77,77,83)"/><rect x="448.0" y="226.5" width="0.6" height="0.6" fill="rgb(66,66,72)"/><rect x="515.6" y="153.0" width="0.6" height="0.6" fill="rgb(89,89,95)"/><rect x="508.4" y="239.4" width="0.6" height="0.6" fill="rgb(38,38,44)"/><rect x="418.6" y="194.5" width="0.6" height="0.6" fill="rgb(98,98,104)"/><rect x="445.4" y="191.2" width="0.6" height="0.6" fill="rgb(74,74,80)"/><rect x="470.9" y="244.3" width="0.6" height="0.6" fill="rgb(101,101,107)"/><rect x="501.4" y="213.1" width="0.6" height="0.6" fill="rgb(90,90,96)"/><rect x="455.0" y="170.6" width="0.6" height="0.6" fill="rgb(111,111,117)"/><rect x="485.5" y="181.6" width="0.6" height="0.6" fill="rgb(36,36,42)"/><rect x="485.5" y="189.9" width="0.6" height="0.6" fill="rgb(47,47,53)"/><rect x="457.1" y="187.1" width="0.6" height="0.6" fill="rgb(118,118,124)"/><rect x="473.3" y="195.5" width="0.6" height="0.6" fill="rgb(59,59,65)"/><rect x="516.2" y="185.5" width="0.6" height="0.6" fill="rgb(91,91,97)"/><rect x="495.2" y="232.9" width="0.6" height="0.6" fill="rgb(110,110,116)"/><rect x="450.1" y="190.5" width="0.6" height="0.6" fill="rgb(46,46,52)"/><rect x="431.7" y="166.1" width="0.6" height="0.6" fill="rgb(44,44,50)"/><rect x="501.5" y="188.4" width="0.6" height="0.6" fill="rgb(49,49,55)"/><rect x="483.4" y="163.4" width="0.6" height="0.6" fill="rgb(78,78,84)"/><rect x="500.9" y="243.4" width="0.6" height="0.6" fill="rgb(88,88,94)"/><rect x="480.7" y="189.8" width="0.6" height="0.6" fill="rgb(100,100,106)"/><rect x="435.6" y="232.2" width="0.6" height="0.6" fill="rgb(87,87,93)"/><rect x="432.9" y="202.0" width="0.6" height="0.6" fill="rgb(112,112,118)"/><rect x="424.9" y="195.0" width="0.6" height="0.6" fill="rgb(115,115,121)"/><rect x="481.3" y="134.4" width="0.6" height="0.6" fill="rgb(87,87,93)"/><rect x="414.6" y="129.8" width="0.6" height="0.6" fill="rgb(105,105,111)"/><rect x="413.9" y="164.5" width="0.6" height="0.6" fill="rgb(47,47,53)"/><rect x="475.9" y="206.3" width="0.6" height="0.6" fill="rgb(60,60,66)"/><rect x="432.2" y="217.9" width="0.6" height="0.6" fill="rgb(107,107,113)"/><rect x="441.8" y="203.9" width="0.6" height="0.6" fill="rgb(103,103,109)"/><rect x="468.3" y="146.0" width="0.6" height="0.6" fill="rgb(60,60,66)"/><rect x="457.3" y="143.5" width="0.6" height="0.6" fill="rgb(55,55,61)"/><rect x="468.7" y="188.1" width="0.6" height="0.6" fill="rgb(38,38,44)"/><rect x="424.2" y="149.1" width="0.6" height="0.6" fill="rgb(101,101,107)"/><rect x="465.7" y="183.3" width="0.6" height="0.6" fill="rgb(90,90,96)"/><rect x="499.4" y="136.6" width="0.6" height="0.6" fill="rgb(36,36,42)"/><rect x="486.4" y="196.1" width="0.6" height="0.6" fill="rgb(53,53,59)"/><rect x="489.7" y="170.2" width="0.6" height="0.6" fill="rgb(56,56,62)"/><rect x="417.0" y="201.8" width="0.6" height="0.6" fill="rgb(109,109,115)"/><rect x="420.2" y="151.5" width="0.6" height="0.6" fill="rgb(114,114,120)"/><rect x="454.6" y="135.8" width="0.6" height="0.6" fill="rgb(85,85,91)"/><rect x="475.6" y="239.9" width="0.6" height="0.6" fill="rgb(91,91,97)"/><rect x="419.3" y="156.9" width="0.6" height="0.6" fill="rgb(63,63,69)"/><rect x="418.2" y="236.5" width="0.6" height="0.6" fill="rgb(57,57,63)"/><rect x="447.0" y="232.9" width="0.6" height="0.6" fill="rgb(93,93,99)"/><rect x="445.8" y="198.8" width="0.6" height="0.6" fill="rgb(98,98,104)"/><rect x="517.8" y="137.3" width="0.6" height="0.6" fill="rgb(84,84,90)"/><rect x="485.4" y="196.8" width="0.6" height="0.6" fill="rgb(87,87,93)"/><rect x="446.4" y="230.2" width="0.6" height="0.6" fill="rgb(97,97,103)"/><rect x="415.9" y="229.3" width="0.6" height="0.6" fill="rgb(46,46,52)"/><rect x="432.0" y="170.7" width="0.6" height="0.6" fill="rgb(58,58,64)"/><rect x="414.3" y="231.0" width="0.6" height="0.6" fill="rgb(85,85,91)"/><rect x="473.3" y="142.7" width="0.6" height="0.6" fill="rgb(103,103,109)"/><rect x="506.3" y="168.1" width="0.6" height="0.6" fill="rgb(118,118,124)"/><rect x="420.5" y="143.7" width="0.6" height="0.6" fill="rgb(79,79,85)"/><rect x="472.5" y="174.0" width="0.6" height="0.6" fill="rgb(94,94,100)"/><rect x="443.7" y="156.8" width="0.6" height="0.6" fill="rgb(39,39,45)"/><rect x="443.2" y="132.4" width="0.6" height="0.6" fill="rgb(54,54,60)"/><rect x="439.3" y="144.4" width="0.6" height="0.6" fill="rgb(60,60,66)"/><rect x="442.2" y="225.5" width="0.6" height="0.6" fill="rgb(51,51,57)"/><rect x="472.6" y="183.2" width="0.6" height="0.6" fill="rgb(65,65,71)"/><rect x="430.5" y="170.1" width="0.6" height="0.6" fill="rgb(86,86,92)"/><rect x="453.6" y="239.7" width="0.6" height="0.6" fill="rgb(61,61,67)"/><rect x="445.2" y="184.2" width="0.6" height="0.6" fill="rgb(61,61,67)"/><rect x="437.7" y="181.6" width="0.6" height="0.6" fill="rgb(51,51,57)"/><rect x="513.8" y="244.3" width="0.6" height="0.6" fill="rgb(111,111,117)"/><rect x="509.3" y="197.1" width="0.6" height="0.6" fill="rgb(82,82,88)"/><rect x="470.4" y="176.0" width="0.6" height="0.6" fill="rgb(100,100,106)"/><rect x="436.1" y="229.8" width="0.6" height="0.6" fill="rgb(50,50,56)"/><rect x="485.7" y="140.0" width="0.6" height="0.6" fill="rgb(69,69,75)"/><rect x="491.9" y="217.5" width="0.6" height="0.6" fill="rgb(38,38,44)"/><rect x="483.5" y="194.8" width="0.6" height="0.6" fill="rgb(74,74,80)"/><rect x="415.1" y="211.2" width="0.6" height="0.6" fill="rgb(57,57,63)"/><rect x="496.2" y="156.1" width="0.6" height="0.6" fill="rgb(59,59,65)"/><rect x="484.1" y="142.0" width="0.6" height="0.6" fill="rgb(106,106,112)"/><rect x="510.8" y="222.1" width="0.6" height="0.6" fill="rgb(73,73,79)"/><rect x="434.0" y="212.2" width="0.6" height="0.6" fill="rgb(46,46,52)"/><rect x="437.6" y="144.0" width="0.6" height="0.6" fill="rgb(86,86,92)"/><rect x="443.6" y="175.9" width="0.6" height="0.6" fill="rgb(94,94,100)"/><rect x="496.0" y="231.0" width="0.6" height="0.6" fill="rgb(51,51,57)"/><rect x="513.3" y="149.8" width="0.6" height="0.6" fill="rgb(81,81,87)"/><rect x="485.9" y="205.8" width="0.6" height="0.6" fill="rgb(79,79,85)"/><rect x="509.0" y="132.4" width="0.6" height="0.6" fill="rgb(94,94,100)"/><rect x="440.0" y="226.9" width="0.6" height="0.6" fill="rgb(80,80,86)"/><rect x="510.0" y="140.7" width="0.6" height="0.6" fill="rgb(72,72,78)"/><rect x="425.8" y="234.5" width="0.6" height="0.6" fill="rgb(63,63,69)"/><rect x="489.4" y="134.2" width="0.6" height="0.6" fill="rgb(40,40,46)"/><rect x="478.3" y="179.0" width="0.6" height="0.6" fill="rgb(73,73,79)"/><rect x="430.1" y="214.4" width="0.6" height="0.6" fill="rgb(105,105,111)"/><rect x="446.6" y="202.9" width="0.6" height="0.6" fill="rgb(57,57,63)"/><rect x="473.6" y="155.7" width="0.6" height="0.6" fill="rgb(98,98,104)"/><rect x="489.8" y="158.8" width="0.6" height="0.6" fill="rgb(90,90,96)"/><rect x="484.9" y="195.7" width="0.6" height="0.6" fill="rgb(35,35,41)"/><rect x="425.4" y="217.3" width="0.6" height="0.6" fill="rgb(118,118,124)"/><rect x="444.0" y="134.4" width="0.6" height="0.6" fill="rgb(109,109,115)"/><rect x="478.2" y="134.9" width="0.6" height="0.6" fill="rgb(66,66,72)"/><rect x="486.0" y="133.8" width="0.6" height="0.6" fill="rgb(75,75,81)"/><rect x="435.9" y="234.7" width="0.6" height="0.6" fill="rgb(46,46,52)"/><rect x="457.9" y="215.1" width="0.6" height="0.6" fill="rgb(113,113,119)"/><rect x="501.8" y="161.8" width="0.6" height="0.6" fill="rgb(46,46,52)"/><rect x="450.7" y="238.7" width="0.6" height="0.6" fill="rgb(91,91,97)"/><rect x="512.6" y="209.0" width="0.6" height="0.6" fill="rgb(115,115,121)"/><rect x="480.2" y="188.0" width="0.6" height="0.6" fill="rgb(61,61,67)"/><rect x="459.1" y="188.4" width="0.6" height="0.6" fill="rgb(51,51,57)"/><rect x="465.6" y="151.3" width="0.6" height="0.6" fill="rgb(106,106,112)"/><rect x="441.3" y="192.3" width="0.6" height="0.6" fill="rgb(116,116,122)"/><rect x="438.6" y="159.4" width="0.6" height="0.6" fill="rgb(42,42,48)"/><rect x="431.4" y="169.4" width="0.6" height="0.6" fill="rgb(46,46,52)"/><rect x="435.0" y="165.2" width="0.6" height="0.6" fill="rgb(52,52,58)"/><rect x="486.6" y="185.4" width="0.6" height="0.6" fill="rgb(96,96,102)"/><rect x="438.8" y="157.3" width="0.6" height="0.6" fill="rgb(100,100,106)"/><rect x="487.1" y="144.8" width="0.6" height="0.6" fill="rgb(117,117,123)"/><rect x="450.9" y="163.9" width="0.6" height="0.6" fill="rgb(53,53,59)"/><rect x="476.1" y="157.2" width="0.6" height="0.6" fill="rgb(115,115,121)"/><rect x="500.3" y="192.5" width="0.6" height="0.6" fill="rgb(56,56,62)"/><rect x="485.6" y="147.3" width="0.6" height="0.6" fill="rgb(94,94,100)"/><rect x="502.9" y="176.2" width="0.6" height="0.6" fill="rgb(61,61,67)"/><rect x="425.7" y="162.8" width="0.6" height="0.6" fill="rgb(81,81,87)"/><rect x="465.3" y="134.5" width="0.6" height="0.6" fill="rgb(70,70,76)"/><rect x="445.9" y="142.2" width="0.6" height="0.6" fill="rgb(74,74,80)"/><rect x="461.2" y="142.5" width="0.6" height="0.6" fill="rgb(76,76,82)"/><rect x="460.9" y="195.0" width="0.6" height="0.6" fill="rgb(72,72,78)"/><rect x="431.4" y="137.8" width="0.6" height="0.6" fill="rgb(36,36,42)"/><rect x="463.4" y="242.2" width="0.6" height="0.6" fill="rgb(97,97,103)"/><rect x="422.4" y="212.0" width="0.6" height="0.6" fill="rgb(107,107,113)"/><rect x="441.7" y="203.7" width="0.6" height="0.6" fill="rgb(90,90,96)"/><rect x="465.5" y="219.6" width="0.6" height="0.6" fill="rgb(76,76,82)"/><rect x="414.4" y="235.2" width="0.6" height="0.6" fill="rgb(117,117,123)"/><rect x="444.0" y="200.0" width="0.6" height="0.6" fill="rgb(118,118,124)"/><rect x="488.0" y="204.6" width="0.6" height="0.6" fill="rgb(45,45,51)"/><rect x="428.3" y="132.7" width="0.6" height="0.6" fill="rgb(85,85,91)"/><rect x="502.9" y="163.6" width="0.6" height="0.6" fill="rgb(58,58,64)"/><rect x="516.0" y="189.9" width="0.6" height="0.6" fill="rgb(56,56,62)"/><rect x="424.4" y="212.2" width="0.6" height="0.6" fill="rgb(74,74,80)"/><rect x="492.6" y="167.1" width="0.6" height="0.6" fill="rgb(58,58,64)"/><rect x="482.4" y="170.5" width="0.6" height="0.6" fill="rgb(64,64,70)"/><rect x="452.7" y="192.9" width="0.6" height="0.6" fill="rgb(82,82,88)"/><rect x="502.7" y="158.7" width="0.6" height="0.6" fill="rgb(42,42,48)"/><rect x="417.9" y="194.7" width="0.6" height="0.6" fill="rgb(115,115,121)"/><rect x="511.6" y="244.5" width="0.6" height="0.6" fill="rgb(86,86,92)"/><rect x="509.9" y="238.2" width="0.6" height="0.6" fill="rgb(98,98,104)"/><rect x="458.5" y="213.5" width="0.6" height="0.6" fill="rgb(73,73,79)"/><rect x="477.7" y="201.5" width="0.6" height="0.6" fill="rgb(53,53,59)"/><rect x="486.8" y="148.3" width="0.6" height="0.6" fill="rgb(91,91,97)"/><rect x="481.3" y="175.7" width="0.6" height="0.6" fill="rgb(40,40,46)"/><rect x="504.1" y="184.6" width="0.6" height="0.6" fill="rgb(62,62,68)"/><rect x="490.5" y="129.8" width="0.6" height="0.6" fill="rgb(113,113,119)"/><rect x="504.6" y="220.0" width="0.6" height="0.6" fill="rgb(89,89,95)"/><rect x="428.7" y="137.8" width="0.6" height="0.6" fill="rgb(42,42,48)"/><rect x="468.3" y="177.9" width="0.6" height="0.6" fill="rgb(78,78,84)"/><rect x="420.2" y="130.5" width="0.6" height="0.6" fill="rgb(57,57,63)"/><rect x="509.8" y="148.4" width="0.6" height="0.6" fill="rgb(72,72,78)"/><rect x="413.9" y="222.0" width="0.6" height="0.6" fill="rgb(79,79,85)"/><rect x="473.9" y="183.4" width="0.6" height="0.6" fill="rgb(104,104,110)"/><rect x="448.0" y="182.5" width="0.6" height="0.6" fill="rgb(103,103,109)"/><rect x="510.3" y="229.0" width="0.6" height="0.6" fill="rgb(86,86,92)"/><rect x="515.9" y="200.8" width="0.6" height="0.6" fill="rgb(42,42,48)"/><rect x="490.5" y="167.6" width="0.6" height="0.6" fill="rgb(119,119,125)"/><rect x="445.1" y="195.2" width="0.6" height="0.6" fill="rgb(82,82,88)"/><rect x="464.7" y="203.9" width="0.6" height="0.6" fill="rgb(73,73,79)"/><rect x="505.7" y="190.5" width="0.6" height="0.6" fill="rgb(116,116,122)"/><rect x="416.5" y="151.2" width="0.6" height="0.6" fill="rgb(92,92,98)"/><rect x="487.1" y="146.4" width="0.6" height="0.6" fill="rgb(109,109,115)"/><rect x="453.1" y="196.3" width="0.6" height="0.6" fill="rgb(88,88,94)"/><rect x="451.8" y="157.1" width="0.6" height="0.6" fill="rgb(91,91,97)"/><rect x="455.7" y="142.6" width="0.6" height="0.6" fill="rgb(58,58,64)"/><rect x="516.6" y="152.8" width="0.6" height="0.6" fill="rgb(49,49,55)"/><rect x="437.1" y="225.8" width="0.6" height="0.6" fill="rgb(118,118,124)"/><rect x="423.6" y="190.5" width="0.6" height="0.6" fill="rgb(67,67,73)"/><rect x="489.0" y="155.6" width="0.6" height="0.6" fill="rgb(93,93,99)"/><rect x="437.6" y="195.4" width="0.6" height="0.6" fill="rgb(49,49,55)"/><rect x="491.8" y="234.1" width="0.6" height="0.6" fill="rgb(107,107,113)"/><rect x="422.0" y="176.4" width="0.6" height="0.6" fill="rgb(44,44,50)"/><rect x="498.7" y="144.9" width="0.6" height="0.6" fill="rgb(99,99,105)"/><rect x="472.1" y="211.7" width="0.6" height="0.6" fill="rgb(49,49,55)"/><rect x="480.2" y="239.9" width="0.6" height="0.6" fill="rgb(100,100,106)"/><rect x="424.4" y="225.0" width="0.6" height="0.6" fill="rgb(85,85,91)"/><rect x="471.5" y="240.8" width="0.6" height="0.6" fill="rgb(59,59,65)"/><rect x="473.5" y="218.6" width="0.6" height="0.6" fill="rgb(52,52,58)"/><rect x="453.3" y="200.7" width="0.6" height="0.6" fill="rgb(86,86,92)"/><rect x="438.7" y="172.3" width="0.6" height="0.6" fill="rgb(36,36,42)"/><rect x="488.3" y="239.4" width="0.6" height="0.6" fill="rgb(93,93,99)"/><rect x="445.4" y="210.9" width="0.6" height="0.6" fill="rgb(89,89,95)"/><rect x="510.3" y="139.6" width="0.6" height="0.6" fill="rgb(60,60,66)"/><rect x="473.5" y="235.0" width="0.6" height="0.6" fill="rgb(80,80,86)"/><rect x="431.4" y="215.2" width="0.6" height="0.6" fill="rgb(78,78,84)"/><rect x="499.1" y="214.1" width="0.6" height="0.6" fill="rgb(36,36,42)"/><rect x="501.4" y="143.6" width="0.6" height="0.6" fill="rgb(82,82,88)"/><rect x="468.2" y="189.8" width="0.6" height="0.6" fill="rgb(80,80,86)"/><rect x="490.4" y="134.5" width="0.6" height="0.6" fill="rgb(112,112,118)"/><rect x="451.1" y="170.4" width="0.6" height="0.6" fill="rgb(76,76,82)"/><rect x="499.0" y="142.5" width="0.6" height="0.6" fill="rgb(66,66,72)"/><rect x="440.6" y="151.7" width="0.6" height="0.6" fill="rgb(92,92,98)"/><rect x="415.8" y="243.2" width="0.6" height="0.6" fill="rgb(91,91,97)"/><rect x="425.6" y="131.9" width="0.6" height="0.6" fill="rgb(49,49,55)"/><rect x="421.4" y="159.2" width="0.6" height="0.6" fill="rgb(54,54,60)"/><rect x="472.5" y="162.9" width="0.6" height="0.6" fill="rgb(120,120,126)"/><rect x="454.1" y="146.1" width="0.6" height="0.6" fill="rgb(67,67,73)"/><rect x="470.8" y="208.8" width="0.6" height="0.6" fill="rgb(69,69,75)"/><rect x="514.5" y="131.1" width="0.6" height="0.6" fill="rgb(78,78,84)"/><rect x="519.4" y="185.5" width="0.6" height="0.6" fill="rgb(96,96,102)"/><rect x="506.5" y="221.6" width="0.6" height="0.6" fill="rgb(39,39,45)"/><rect x="421.4" y="200.8" width="0.6" height="0.6" fill="rgb(117,117,123)"/><rect x="485.9" y="174.6" width="0.6" height="0.6" fill="rgb(95,95,101)"/><rect x="516.5" y="209.2" width="0.6" height="0.6" fill="rgb(92,92,98)"/><rect x="455.4" y="229.9" width="0.6" height="0.6" fill="rgb(113,113,119)"/><rect x="468.6" y="171.0" width="0.6" height="0.6" fill="rgb(102,102,108)"/><rect x="436.5" y="232.3" width="0.6" height="0.6" fill="rgb(110,110,116)"/><rect x="480.0" y="153.8" width="0.6" height="0.6" fill="rgb(81,81,87)"/><rect x="491.0" y="167.6" width="0.6" height="0.6" fill="rgb(94,94,100)"/><rect x="454.8" y="170.2" width="0.6" height="0.6" fill="rgb(35,35,41)"/><rect x="449.2" y="185.1" width="0.6" height="0.6" fill="rgb(64,64,70)"/><rect x="415.7" y="182.3" width="0.6" height="0.6" fill="rgb(112,112,118)"/><rect x="418.3" y="146.3" width="0.6" height="0.6" fill="rgb(120,120,126)"/><rect x="428.8" y="173.7" width="0.6" height="0.6" fill="rgb(43,43,49)"/><rect x="466.8" y="159.6" width="0.6" height="0.6" fill="rgb(107,107,113)"/><rect x="474.6" y="196.7" width="0.6" height="0.6" fill="rgb(52,52,58)"/><rect x="519.2" y="133.4" width="0.6" height="0.6" fill="rgb(106,106,112)"/><rect x="509.6" y="140.5" width="0.6" height="0.6" fill="rgb(60,60,66)"/><rect x="496.0" y="202.3" width="0.6" height="0.6" fill="rgb(116,116,122)"/><rect x="424.0" y="220.6" width="0.6" height="0.6" fill="rgb(65,65,71)"/><rect x="506.5" y="237.4" width="0.6" height="0.6" fill="rgb(44,44,50)"/><rect x="445.9" y="217.3" width="0.6" height="0.6" fill="rgb(81,81,87)"/><rect x="467.7" y="202.5" width="0.6" height="0.6" fill="rgb(79,79,85)"/><rect x="506.5" y="211.8" width="0.6" height="0.6" fill="rgb(77,77,83)"/><rect x="419.9" y="168.3" width="0.6" height="0.6" fill="rgb(76,76,82)"/><rect x="507.6" y="219.5" width="0.6" height="0.6" fill="rgb(99,99,105)"/><rect x="452.6" y="157.5" width="0.6" height="0.6" fill="rgb(65,65,71)"/><rect x="519.6" y="146.8" width="0.6" height="0.6" fill="rgb(61,61,67)"/><rect x="414.3" y="229.7" width="0.6" height="0.6" fill="rgb(93,93,99)"/><rect x="456.6" y="175.0" width="0.6" height="0.6" fill="rgb(73,73,79)"/><rect x="512.5" y="197.0" width="0.6" height="0.6" fill="rgb(53,53,59)"/><rect x="445.6" y="165.0" width="0.6" height="0.6" fill="rgb(108,108,114)"/><rect x="472.2" y="237.3" width="0.6" height="0.6" fill="rgb(78,78,84)"/><rect x="421.3" y="151.4" width="0.6" height="0.6" fill="rgb(45,45,51)"/><rect x="475.8" y="164.5" width="0.6" height="0.6" fill="rgb(80,80,86)"/><rect x="518.7" y="170.6" width="0.6" height="0.6" fill="rgb(89,89,95)"/><rect x="490.3" y="235.5" width="0.6" height="0.6" fill="rgb(97,97,103)"/><rect x="447.5" y="149.7" width="0.6" height="0.6" fill="rgb(67,67,73)"/><rect x="471.7" y="216.7" width="0.6" height="0.6" fill="rgb(115,115,121)"/><rect x="442.0" y="210.5" width="0.6" height="0.6" fill="rgb(62,62,68)"/><rect x="418.6" y="181.0" width="0.6" height="0.6" fill="rgb(112,112,118)"/><rect x="443.6" y="187.2" width="0.6" height="0.6" fill="rgb(47,47,53)"/><rect x="434.4" y="213.9" width="0.6" height="0.6" fill="rgb(51,51,57)"/><rect x="477.5" y="138.6" width="0.6" height="0.6" fill="rgb(108,108,114)"/><rect x="449.8" y="145.2" width="0.6" height="0.6" fill="rgb(59,59,65)"/><rect x="442.3" y="203.4" width="0.6" height="0.6" fill="rgb(36,36,42)"/><rect x="481.6" y="235.6" width="0.6" height="0.6" fill="rgb(62,62,68)"/><rect x="447.7" y="229.3" width="0.6" height="0.6" fill="rgb(38,38,44)"/><rect x="482.6" y="176.1" width="0.6" height="0.6" fill="rgb(78,78,84)"/><rect x="432.1" y="228.8" width="0.6" height="0.6" fill="rgb(40,40,46)"/><rect x="422.8" y="200.0" width="0.6" height="0.6" fill="rgb(98,98,104)"/><rect x="518.7" y="175.4" width="0.6" height="0.6" fill="rgb(94,94,100)"/><rect x="506.5" y="132.5" width="0.6" height="0.6" fill="rgb(75,75,81)"/><rect x="473.6" y="243.1" width="0.6" height="0.6" fill="rgb(42,42,48)"/><rect x="457.7" y="211.2" width="0.6" height="0.6" fill="rgb(77,77,83)"/><rect x="430.2" y="131.6" width="0.6" height="0.6" fill="rgb(61,61,67)"/><rect x="428.7" y="217.7" width="0.6" height="0.6" fill="rgb(46,46,52)"/><rect x="451.6" y="171.1" width="0.6" height="0.6" fill="rgb(79,79,85)"/><rect x="470.9" y="197.2" width="0.6" height="0.6" fill="rgb(106,106,112)"/><rect x="429.8" y="242.4" width="0.6" height="0.6" fill="rgb(108,108,114)"/><rect x="448.7" y="214.7" width="0.6" height="0.6" fill="rgb(68,68,74)"/><rect x="500.1" y="184.4" width="0.6" height="0.6" fill="rgb(39,39,45)"/><rect x="496.1" y="165.1" width="0.6" height="0.6" fill="rgb(105,105,111)"/><rect x="517.6" y="181.6" width="0.6" height="0.6" fill="rgb(70,70,76)"/><rect x="452.0" y="190.4" width="0.6" height="0.6" fill="rgb(70,70,76)"/><rect x="427.5" y="130.5" width="0.6" height="0.6" fill="rgb(95,95,101)"/><rect x="424.1" y="222.6" width="0.6" height="0.6" fill="rgb(81,81,87)"/><rect x="429.5" y="201.8" width="0.6" height="0.6" fill="rgb(86,86,92)"/><rect x="494.1" y="139.8" width="0.6" height="0.6" fill="rgb(38,38,44)"/><rect x="480.0" y="143.6" width="0.6" height="0.6" fill="rgb(104,104,110)"/><rect x="466.9" y="193.4" width="0.6" height="0.6" fill="rgb(58,58,64)"/><rect x="441.1" y="199.2" width="0.6" height="0.6" fill="rgb(54,54,60)"/><rect x="509.7" y="229.6" width="0.6" height="0.6" fill="rgb(55,55,61)"/><rect x="469.8" y="169.8" width="0.6" height="0.6" fill="rgb(66,66,72)"/><rect x="460.5" y="228.4" width="0.6" height="0.6" fill="rgb(62,62,68)"/><rect x="481.2" y="169.1" width="0.6" height="0.6" fill="rgb(84,84,90)"/><rect x="462.5" y="166.7" width="0.6" height="0.6" fill="rgb(38,38,44)"/><rect x="425.0" y="213.8" width="0.6" height="0.6" fill="rgb(43,43,49)"/><rect x="499.4" y="234.6" width="0.6" height="0.6" fill="rgb(79,79,85)"/><rect x="419.9" y="194.4" width="0.6" height="0.6" fill="rgb(87,87,93)"/><rect x="510.1" y="172.7" width="0.6" height="0.6" fill="rgb(119,119,125)"/><rect x="480.3" y="155.3" width="0.6" height="0.6" fill="rgb(67,67,73)"/><rect x="415.7" y="211.1" width="0.6" height="0.6" fill="rgb(65,65,71)"/><rect x="438.1" y="152.9" width="0.6" height="0.6" fill="rgb(89,89,95)"/><rect x="481.9" y="163.8" width="0.6" height="0.6" fill="rgb(98,98,104)"/><rect x="436.6" y="195.0" width="0.6" height="0.6" fill="rgb(55,55,61)"/><rect x="464.3" y="236.9" width="0.6" height="0.6" fill="rgb(69,69,75)"/><rect x="515.1" y="145.2" width="0.6" height="0.6" fill="rgb(73,73,79)"/><rect x="443.6" y="167.6" width="0.6" height="0.6" fill="rgb(97,97,103)"/><rect x="506.4" y="158.2" width="0.6" height="0.6" fill="rgb(75,75,81)"/><rect x="486.2" y="198.2" width="0.6" height="0.6" fill="rgb(92,92,98)"/><rect x="436.1" y="135.5" width="0.6" height="0.6" fill="rgb(61,61,67)"/><rect x="504.2" y="214.1" width="0.6" height="0.6" fill="rgb(40,40,46)"/><rect x="496.6" y="228.8" width="0.6" height="0.6" fill="rgb(58,58,64)"/><rect x="459.8" y="145.6" width="0.6" height="0.6" fill="rgb(73,73,79)"/><rect x="486.5" y="222.1" width="0.6" height="0.6" fill="rgb(54,54,60)"/><rect x="517.3" y="130.6" width="0.6" height="0.6" fill="rgb(73,73,79)"/><rect x="429.6" y="214.1" width="0.6" height="0.6" fill="rgb(47,47,53)"/><rect x="493.5" y="182.9" width="0.6" height="0.6" fill="rgb(85,85,91)"/><rect x="423.1" y="168.5" width="0.6" height="0.6" fill="rgb(120,120,126)"/><rect x="489.8" y="230.9" width="0.6" height="0.6" fill="rgb(39,39,45)"/><rect x="475.8" y="152.7" width="0.6" height="0.6" fill="rgb(115,115,121)"/><rect x="486.9" y="133.9" width="0.6" height="0.6" fill="rgb(99,99,105)"/><rect x="476.9" y="195.6" width="0.6" height="0.6" fill="rgb(48,48,54)"/><rect x="491.1" y="135.1" width="0.6" height="0.6" fill="rgb(75,75,81)"/><rect x="420.4" y="142.2" width="0.6" height="0.6" fill="rgb(97,97,103)"/><rect x="516.9" y="189.9" width="0.6" height="0.6" fill="rgb(35,35,41)"/><rect x="432.6" y="208.3" width="0.6" height="0.6" fill="rgb(53,53,59)"/><rect x="480.9" y="192.2" width="0.6" height="0.6" fill="rgb(49,49,55)"/><rect x="469.9" y="226.1" width="0.6" height="0.6" fill="rgb(44,44,50)"/><rect x="450.7" y="154.2" width="0.6" height="0.6" fill="rgb(63,63,69)"/><rect x="491.4" y="160.9" width="0.6" height="0.6" fill="rgb(57,57,63)"/><rect x="415.1" y="160.4" width="0.6" height="0.6" fill="rgb(40,40,46)"/><rect x="434.4" y="135.0" width="0.6" height="0.6" fill="rgb(106,106,112)"/><rect x="514.9" y="160.2" width="0.6" height="0.6" fill="rgb(76,76,82)"/><rect x="486.8" y="204.6" width="0.6" height="0.6" fill="rgb(104,104,110)"/><rect x="443.5" y="167.5" width="0.6" height="0.6" fill="rgb(87,87,93)"/><rect x="518.1" y="230.0" width="0.6" height="0.6" fill="rgb(69,69,75)"/><rect x="456.0" y="166.1" width="0.6" height="0.6" fill="rgb(88,88,94)"/><rect x="454.3" y="146.9" width="0.6" height="0.6" fill="rgb(84,84,90)"/><rect x="507.4" y="221.9" width="0.6" height="0.6" fill="rgb(116,116,122)"/><rect x="414.1" y="199.4" width="0.6" height="0.6" fill="rgb(67,67,73)"/><rect x="487.4" y="213.4" width="0.6" height="0.6" fill="rgb(65,65,71)"/><rect x="501.4" y="205.8" width="0.6" height="0.6" fill="rgb(46,46,52)"/><rect x="503.3" y="219.7" width="0.6" height="0.6" fill="rgb(41,41,47)"/><rect x="456.7" y="193.7" width="0.6" height="0.6" fill="rgb(117,117,123)"/><rect x="460.6" y="206.3" width="0.6" height="0.6" fill="rgb(93,93,99)"/><rect x="517.0" y="129.6" width="0.6" height="0.6" fill="rgb(117,117,123)"/><rect x="504.4" y="188.2" width="0.6" height="0.6" fill="rgb(110,110,116)"/><rect x="471.7" y="173.2" width="0.6" height="0.6" fill="rgb(115,115,121)"/><rect x="497.8" y="229.5" width="0.6" height="0.6" fill="rgb(80,80,86)"/><rect x="489.3" y="174.8" width="0.6" height="0.6" fill="rgb(102,102,108)"/><rect x="441.9" y="205.4" width="0.6" height="0.6" fill="rgb(76,76,82)"/><rect x="421.2" y="221.2" width="0.6" height="0.6" fill="rgb(120,120,126)"/><rect x="437.3" y="199.9" width="0.6" height="0.6" fill="rgb(68,68,74)"/><rect x="441.4" y="226.2" width="0.6" height="0.6" fill="rgb(79,79,85)"/><rect x="469.1" y="184.3" width="0.6" height="0.6" fill="rgb(63,63,69)"/><rect x="519.9" y="137.1" width="0.6" height="0.6" fill="rgb(102,102,108)"/><rect x="452.3" y="153.1" width="0.6" height="0.6" fill="rgb(56,56,62)"/><rect x="500.1" y="156.9" width="0.6" height="0.6" fill="rgb(57,57,63)"/><rect x="429.7" y="205.6" width="0.6" height="0.6" fill="rgb(57,57,63)"/><rect x="481.7" y="224.7" width="0.6" height="0.6" fill="rgb(118,118,124)"/><rect x="505.9" y="134.5" width="0.6" height="0.6" fill="rgb(83,83,89)"/><rect x="452.0" y="228.8" width="0.6" height="0.6" fill="rgb(89,89,95)"/><rect x="426.6" y="147.2" width="0.6" height="0.6" fill="rgb(67,67,73)"/><rect x="453.5" y="171.4" width="0.6" height="0.6" fill="rgb(119,119,125)"/><rect x="499.0" y="189.5" width="0.6" height="0.6" fill="rgb(92,92,98)"/><rect x="484.0" y="161.1" width="0.6" height="0.6" fill="rgb(72,72,78)"/><rect x="519.7" y="209.4" width="0.6" height="0.6" fill="rgb(92,92,98)"/><rect x="481.1" y="213.5" width="0.6" height="0.6" fill="rgb(57,57,63)"/><rect x="494.3" y="146.7" width="0.6" height="0.6" fill="rgb(51,51,57)"/><rect x="452.6" y="189.4" width="0.6" height="0.6" fill="rgb(65,65,71)"/><rect x="479.8" y="189.7" width="0.6" height="0.6" fill="rgb(83,83,89)"/><rect x="440.4" y="193.5" width="0.6" height="0.6" fill="rgb(35,35,41)"/><rect x="474.3" y="136.1" width="0.6" height="0.6" fill="rgb(57,57,63)"/><rect x="446.1" y="192.1" width="0.6" height="0.6" fill="rgb(76,76,82)"/><rect x="440.7" y="160.0" width="0.6" height="0.6" fill="rgb(91,91,97)"/><rect x="423.2" y="202.7" width="0.6" height="0.6" fill="rgb(46,46,52)"/><rect x="435.0" y="178.2" width="0.6" height="0.6" fill="rgb(72,72,78)"/><rect x="479.3" y="172.2" width="0.6" height="0.6" fill="rgb(40,40,46)"/><rect x="489.9" y="172.7" width="0.6" height="0.6" fill="rgb(40,40,46)"/><rect x="489.4" y="163.5" width="0.6" height="0.6" fill="rgb(87,87,93)"/><rect x="459.4" y="199.4" width="0.6" height="0.6" fill="rgb(67,67,73)"/><rect x="451.0" y="173.8" width="0.6" height="0.6" fill="rgb(109,109,115)"/><rect x="427.3" y="200.6" width="0.6" height="0.6" fill="rgb(109,109,115)"/><rect x="453.2" y="206.0" width="0.6" height="0.6" fill="rgb(77,77,83)"/><rect x="505.1" y="138.7" width="0.6" height="0.6" fill="rgb(92,92,98)"/><rect x="453.9" y="190.0" width="0.6" height="0.6" fill="rgb(98,98,104)"/><rect x="513.2" y="203.4" width="0.6" height="0.6" fill="rgb(38,38,44)"/><rect x="425.0" y="194.3" width="0.6" height="0.6" fill="rgb(94,94,100)"/><rect x="488.2" y="179.7" width="0.6" height="0.6" fill="rgb(95,95,101)"/><rect x="432.3" y="137.0" width="0.6" height="0.6" fill="rgb(85,85,91)"/><rect x="465.8" y="188.4" width="0.6" height="0.6" fill="rgb(36,36,42)"/><rect x="484.9" y="214.7" width="0.6" height="0.6" fill="rgb(86,86,92)"/><rect x="471.2" y="236.0" width="0.6" height="0.6" fill="rgb(72,72,78)"/><rect x="472.5" y="218.0" width="0.6" height="0.6" fill="rgb(93,93,99)"/><rect x="426.1" y="154.9" width="0.6" height="0.6" fill="rgb(44,44,50)"/><rect x="474.3" y="131.3" width="0.6" height="0.6" fill="rgb(98,98,104)"/><rect x="422.9" y="216.1" width="0.6" height="0.6" fill="rgb(107,107,113)"/><rect x="461.9" y="224.3" width="0.6" height="0.6" fill="rgb(60,60,66)"/><rect x="489.2" y="185.0" width="0.6" height="0.6" fill="rgb(42,42,48)"/><rect x="472.1" y="215.5" width="0.6" height="0.6" fill="rgb(109,109,115)"/><rect x="428.4" y="176.3" width="0.6" height="0.6" fill="rgb(41,41,47)"/><rect x="506.4" y="146.2" width="0.6" height="0.6" fill="rgb(77,77,83)"/><rect x="433.8" y="242.5" width="0.6" height="0.6" fill="rgb(58,58,64)"/><rect x="518.8" y="161.1" width="0.6" height="0.6" fill="rgb(68,68,74)"/><rect x="422.7" y="173.6" width="0.6" height="0.6" fill="rgb(119,119,125)"/><rect x="505.0" y="193.4" width="0.6" height="0.6" fill="rgb(100,100,106)"/><rect x="507.8" y="207.8" width="0.6" height="0.6" fill="rgb(74,74,80)"/><rect x="445.9" y="229.2" width="0.6" height="0.6" fill="rgb(90,90,96)"/><rect x="504.7" y="159.1" width="0.6" height="0.6" fill="rgb(60,60,66)"/><rect x="427.5" y="153.4" width="0.6" height="0.6" fill="rgb(118,118,124)"/><rect x="453.3" y="182.9" width="0.6" height="0.6" fill="rgb(97,97,103)"/><rect x="489.1" y="145.7" width="0.6" height="0.6" fill="rgb(78,78,84)"/><rect x="434.8" y="235.2" width="0.6" height="0.6" fill="rgb(106,106,112)"/><rect x="484.2" y="213.4" width="0.6" height="0.6" fill="rgb(36,36,42)"/><rect x="470.3" y="176.5" width="0.6" height="0.6" fill="rgb(107,107,113)"/><rect x="501.2" y="133.6" width="0.6" height="0.6" fill="rgb(63,63,69)"/><rect x="498.3" y="163.0" width="0.6" height="0.6" fill="rgb(61,61,67)"/><rect x="499.0" y="197.6" width="0.6" height="0.6" fill="rgb(93,93,99)"/><rect x="456.7" y="213.2" width="0.6" height="0.6" fill="rgb(61,61,67)"/><rect x="507.0" y="136.1" width="0.6" height="0.6" fill="rgb(90,90,96)"/><rect x="504.9" y="143.8" width="0.6" height="0.6" fill="rgb(52,52,58)"/><rect x="505.4" y="137.8" width="0.6" height="0.6" fill="rgb(111,111,117)"/><rect x="466.4" y="131.1" width="0.6" height="0.6" fill="rgb(106,106,112)"/><rect x="492.0" y="148.4" width="0.6" height="0.6" fill="rgb(63,63,69)"/><rect x="485.3" y="207.1" width="0.6" height="0.6" fill="rgb(72,72,78)"/><rect x="498.9" y="191.0" width="0.6" height="0.6" fill="rgb(55,55,61)"/><rect x="429.0" y="235.1" width="0.6" height="0.6" fill="rgb(61,61,67)"/><rect x="468.5" y="183.1" width="0.6" height="0.6" fill="rgb(60,60,66)"/><rect x="497.0" y="238.9" width="0.6" height="0.6" fill="rgb(88,88,94)"/><rect x="437.3" y="225.4" width="0.6" height="0.6" fill="rgb(91,91,97)"/><rect x="486.5" y="147.3" width="0.6" height="0.6" fill="rgb(42,42,48)"/><rect x="511.9" y="144.8" width="0.6" height="0.6" fill="rgb(55,55,61)"/><rect x="502.5" y="163.3" width="0.6" height="0.6" fill="rgb(64,64,70)"/><rect x="506.7" y="221.2" width="0.6" height="0.6" fill="rgb(106,106,112)"/><rect x="490.1" y="165.1" width="0.6" height="0.6" fill="rgb(68,68,74)"/><rect x="448.0" y="226.3" width="0.6" height="0.6" fill="rgb(54,54,60)"/><rect x="514.2" y="206.0" width="0.6" height="0.6" fill="rgb(64,64,70)"/><rect x="455.2" y="133.3" width="0.6" height="0.6" fill="rgb(83,83,89)"/><rect x="430.1" y="163.0" width="0.6" height="0.6" fill="rgb(118,118,124)"/><rect x="471.6" y="140.3" width="0.6" height="0.6" fill="rgb(94,94,100)"/><rect x="429.4" y="150.7" width="0.6" height="0.6" fill="rgb(77,77,83)"/><rect x="485.8" y="142.7" width="0.6" height="0.6" fill="rgb(80,80,86)"/><rect x="426.5" y="235.7" width="0.6" height="0.6" fill="rgb(118,118,124)"/><rect x="513.5" y="190.0" width="0.6" height="0.6" fill="rgb(72,72,78)"/><rect x="465.7" y="131.5" width="0.6" height="0.6" fill="rgb(98,98,104)"/><rect x="508.2" y="234.5" width="0.6" height="0.6" fill="rgb(60,60,66)"/><rect x="465.1" y="228.9" width="0.6" height="0.6" fill="rgb(111,111,117)"/><rect x="475.7" y="216.5" width="0.6" height="0.6" fill="rgb(60,60,66)"/><rect x="428.4" y="160.7" width="0.6" height="0.6" fill="rgb(64,64,70)"/><rect x="475.1" y="164.0" width="0.6" height="0.6" fill="rgb(109,109,115)"/><rect x="477.3" y="240.7" width="0.6" height="0.6" fill="rgb(79,79,85)"/><rect x="434.2" y="147.0" width="0.6" height="0.6" fill="rgb(73,73,79)"/><rect x="418.8" y="167.8" width="0.6" height="0.6" fill="rgb(92,92,98)"/><rect x="464.7" y="167.4" width="0.6" height="0.6" fill="rgb(81,81,87)"/><rect x="432.5" y="220.1" width="0.6" height="0.6" fill="rgb(73,73,79)"/><rect x="499.7" y="212.7" width="0.6" height="0.6" fill="rgb(93,93,99)"/><rect x="423.7" y="192.9" width="0.6" height="0.6" fill="rgb(55,55,61)"/><rect x="476.9" y="182.6" width="0.6" height="0.6" fill="rgb(39,39,45)"/><rect x="417.7" y="196.1" width="0.6" height="0.6" fill="rgb(87,87,93)"/><rect x="482.4" y="144.7" width="0.6" height="0.6" fill="rgb(108,108,114)"/><rect x="502.7" y="138.3" width="0.6" height="0.6" fill="rgb(119,119,125)"/><rect x="491.7" y="170.8" width="0.6" height="0.6" fill="rgb(119,119,125)"/><rect x="513.8" y="167.6" width="0.6" height="0.6" fill="rgb(117,117,123)"/><rect x="506.5" y="184.7" width="0.6" height="0.6" fill="rgb(54,54,60)"/><rect x="441.3" y="141.8" width="0.6" height="0.6" fill="rgb(65,65,71)"/><rect x="426.0" y="186.6" width="0.6" height="0.6" fill="rgb(103,103,109)"/><rect x="471.1" y="166.8" width="0.6" height="0.6" fill="rgb(66,66,72)"/><rect x="431.0" y="191.1" width="0.6" height="0.6" fill="rgb(99,99,105)"/><rect x="440.8" y="238.7" width="0.6" height="0.6" fill="rgb(71,71,77)"/><rect x="456.5" y="152.9" width="0.6" height="0.6" fill="rgb(51,51,57)"/><rect x="510.2" y="213.1" width="0.6" height="0.6" fill="rgb(103,103,109)"/><rect x="466.9" y="231.9" width="0.6" height="0.6" fill="rgb(36,36,42)"/><rect x="424.8" y="135.7" width="0.6" height="0.6" fill="rgb(108,108,114)"/><rect x="436.0" y="215.0" width="0.6" height="0.6" fill="rgb(46,46,52)"/><rect x="493.4" y="147.2" width="0.6" height="0.6" fill="rgb(68,68,74)"/><rect x="519.8" y="178.3" width="0.6" height="0.6" fill="rgb(114,114,120)"/><rect x="468.7" y="163.1" width="0.6" height="0.6" fill="rgb(50,50,56)"/><rect x="422.5" y="196.0" width="0.6" height="0.6" fill="rgb(64,64,70)"/><rect x="439.4" y="218.6" width="0.6" height="0.6" fill="rgb(100,100,106)"/><rect x="489.2" y="136.6" width="0.6" height="0.6" fill="rgb(66,66,72)"/><rect x="421.3" y="168.3" width="0.6" height="0.6" fill="rgb(47,47,53)"/><rect x="417.9" y="200.6" width="0.6" height="0.6" fill="rgb(57,57,63)"/><rect x="500.3" y="168.8" width="0.6" height="0.6" fill="rgb(94,94,100)"/><rect x="476.5" y="150.5" width="0.6" height="0.6" fill="rgb(75,75,81)"/><rect x="513.6" y="176.9" width="0.6" height="0.6" fill="rgb(87,87,93)"/><rect x="416.9" y="220.2" width="0.6" height="0.6" fill="rgb(53,53,59)"/><rect x="491.6" y="207.6" width="0.6" height="0.6" fill="rgb(54,54,60)"/><rect x="498.5" y="218.1" width="0.6" height="0.6" fill="rgb(61,61,67)"/><rect x="434.6" y="154.8" width="0.6" height="0.6" fill="rgb(77,77,83)"/><rect x="489.0" y="137.2" width="0.6" height="0.6" fill="rgb(35,35,41)"/><rect x="497.8" y="184.7" width="0.6" height="0.6" fill="rgb(98,98,104)"/><rect x="469.5" y="167.5" width="0.6" height="0.6" fill="rgb(43,43,49)"/><rect x="493.5" y="202.7" width="0.6" height="0.6" fill="rgb(60,60,66)"/><rect x="505.8" y="135.3" width="0.6" height="0.6" fill="rgb(81,81,87)"/><rect x="497.3" y="140.1" width="0.6" height="0.6" fill="rgb(79,79,85)"/><rect x="475.6" y="221.9" width="0.6" height="0.6" fill="rgb(98,98,104)"/><rect x="485.1" y="215.2" width="0.6" height="0.6" fill="rgb(52,52,58)"/><rect x="441.1" y="209.3" width="0.6" height="0.6" fill="rgb(73,73,79)"/><rect x="509.9" y="215.2" width="0.6" height="0.6" fill="rgb(110,110,116)"/><rect x="431.0" y="173.9" width="0.6" height="0.6" fill="rgb(116,116,122)"/><rect x="497.0" y="229.6" width="0.6" height="0.6" fill="rgb(73,73,79)"/><rect x="493.2" y="197.8" width="0.6" height="0.6" fill="rgb(118,118,124)"/><rect x="514.2" y="142.8" width="0.6" height="0.6" fill="rgb(67,67,73)"/><rect x="493.5" y="227.0" width="0.6" height="0.6" fill="rgb(65,65,71)"/><rect x="434.6" y="182.2" width="0.6" height="0.6" fill="rgb(65,65,71)"/><rect x="507.0" y="195.6" width="0.6" height="0.6" fill="rgb(41,41,47)"/><rect x="455.2" y="219.6" width="0.6" height="0.6" fill="rgb(115,115,121)"/><rect x="486.2" y="237.8" width="0.6" height="0.6" fill="rgb(83,83,89)"/><rect x="456.8" y="139.5" width="0.6" height="0.6" fill="rgb(118,118,124)"/><rect x="485.1" y="220.6" width="0.6" height="0.6" fill="rgb(119,119,125)"/><rect x="476.9" y="225.7" width="0.6" height="0.6" fill="rgb(74,74,80)"/><rect x="414.0" y="185.7" width="0.6" height="0.6" fill="rgb(37,37,43)"/><rect x="514.8" y="230.5" width="0.6" height="0.6" fill="rgb(95,95,101)"/><rect x="458.1" y="199.0" width="0.6" height="0.6" fill="rgb(93,93,99)"/><rect x="429.0" y="192.2" width="0.6" height="0.6" fill="rgb(45,45,51)"/><rect x="451.2" y="226.6" width="0.6" height="0.6" fill="rgb(114,114,120)"/><rect x="417.0" y="168.1" width="0.6" height="0.6" fill="rgb(69,69,75)"/><rect x="433.4" y="231.8" width="0.6" height="0.6" fill="rgb(87,87,93)"/><rect x="483.9" y="222.3" width="0.6" height="0.6" fill="rgb(50,50,56)"/><rect x="436.5" y="201.6" width="0.6" height="0.6" fill="rgb(83,83,89)"/><rect x="501.1" y="150.7" width="0.6" height="0.6" fill="rgb(69,69,75)"/><rect x="448.9" y="146.9" width="0.6" height="0.6" fill="rgb(56,56,62)"/><rect x="437.4" y="231.8" width="0.6" height="0.6" fill="rgb(113,113,119)"/><rect x="507.4" y="240.0" width="0.6" height="0.6" fill="rgb(74,74,80)"/><rect x="466.7" y="239.4" width="0.6" height="0.6" fill="rgb(99,99,105)"/><rect x="497.7" y="199.3" width="0.6" height="0.6" fill="rgb(55,55,61)"/><rect x="455.1" y="130.5" width="0.6" height="0.6" fill="rgb(57,57,63)"/><rect x="424.5" y="157.8" width="0.6" height="0.6" fill="rgb(107,107,113)"/><rect x="499.7" y="158.3" width="0.6" height="0.6" fill="rgb(80,80,86)"/><rect x="485.5" y="242.7" width="0.6" height="0.6" fill="rgb(100,100,106)"/><rect x="484.4" y="145.0" width="0.6" height="0.6" fill="rgb(67,67,73)"/><rect x="484.5" y="138.2" width="0.6" height="0.6" fill="rgb(114,114,120)"/><rect x="448.8" y="160.1" width="0.6" height="0.6" fill="rgb(72,72,78)"/><rect x="452.0" y="205.5" width="0.6" height="0.6" fill="rgb(115,115,121)"/><rect x="486.6" y="237.3" width="0.6" height="0.6" fill="rgb(42,42,48)"/><rect x="510.1" y="186.8" width="0.6" height="0.6" fill="rgb(81,81,87)"/><rect x="487.2" y="131.6" width="0.6" height="0.6" fill="rgb(50,50,56)"/><rect x="472.9" y="181.0" width="0.6" height="0.6" fill="rgb(100,100,106)"/><rect x="508.4" y="213.3" width="0.6" height="0.6" fill="rgb(93,93,99)"/><rect x="417.2" y="166.9" width="0.6" height="0.6" fill="rgb(52,52,58)"/><rect x="414.3" y="237.2" width="0.6" height="0.6" fill="rgb(69,69,75)"/><rect x="428.9" y="197.1" width="0.6" height="0.6" fill="rgb(108,108,114)"/><rect x="467.6" y="244.2" width="0.6" height="0.6" fill="rgb(57,57,63)"/><rect x="493.1" y="203.3" width="0.6" height="0.6" fill="rgb(70,70,76)"/><rect x="480.3" y="157.3" width="0.6" height="0.6" fill="rgb(104,104,110)"/><rect x="416.2" y="192.5" width="0.6" height="0.6" fill="rgb(87,87,93)"/><rect x="482.6" y="222.1" width="0.6" height="0.6" fill="rgb(116,116,122)"/><rect x="454.0" y="240.2" width="0.6" height="0.6" fill="rgb(81,81,87)"/><rect x="487.1" y="161.4" width="0.6" height="0.6" fill="rgb(55,55,61)"/><rect x="502.3" y="186.5" width="0.6" height="0.6" fill="rgb(41,41,47)"/><rect x="498.0" y="169.4" width="0.6" height="0.6" fill="rgb(52,52,58)"/><rect x="434.9" y="222.4" width="0.6" height="0.6" fill="rgb(42,42,48)"/><rect x="430.8" y="214.4" width="0.6" height="0.6" fill="rgb(56,56,62)"/><rect x="486.1" y="233.9" width="0.6" height="0.6" fill="rgb(110,110,116)"/><rect x="445.2" y="173.5" width="0.6" height="0.6" fill="rgb(81,81,87)"/><rect x="516.0" y="151.0" width="0.6" height="0.6" fill="rgb(74,74,80)"/><rect x="508.4" y="184.1" width="0.6" height="0.6" fill="rgb(114,114,120)"/><rect x="447.7" y="179.9" width="0.6" height="0.6" fill="rgb(48,48,54)"/><rect x="486.1" y="171.1" width="0.6" height="0.6" fill="rgb(75,75,81)"/><rect x="454.6" y="240.3" width="0.6" height="0.6" fill="rgb(69,69,75)"/><rect x="425.5" y="236.0" width="0.6" height="0.6" fill="rgb(114,114,120)"/><rect x="461.5" y="225.8" width="0.6" height="0.6" fill="rgb(116,116,122)"/><rect x="430.5" y="232.1" width="0.6" height="0.6" fill="rgb(40,40,46)"/><rect x="429.7" y="216.6" width="0.6" height="0.6" fill="rgb(95,95,101)"/><rect x="483.9" y="227.0" width="0.6" height="0.6" fill="rgb(87,87,93)"/><rect x="493.7" y="161.2" width="0.6" height="0.6" fill="rgb(81,81,87)"/><rect x="489.9" y="175.0" width="0.6" height="0.6" fill="rgb(71,71,77)"/><rect x="504.2" y="143.4" width="0.6" height="0.6" fill="rgb(92,92,98)"/><rect x="495.7" y="134.3" width="0.6" height="0.6" fill="rgb(107,107,113)"/><rect x="446.0" y="198.7" width="0.6" height="0.6" fill="rgb(81,81,87)"/><rect x="441.8" y="157.5" width="0.6" height="0.6" fill="rgb(43,43,49)"/><rect x="506.8" y="140.6" width="0.6" height="0.6" fill="rgb(112,112,118)"/><rect x="485.7" y="177.0" width="0.6" height="0.6" fill="rgb(49,49,55)"/><rect x="512.5" y="148.6" width="0.6" height="0.6" fill="rgb(57,57,63)"/><rect x="516.5" y="202.4" width="0.6" height="0.6" fill="rgb(50,50,56)"/><rect x="496.0" y="174.9" width="0.6" height="0.6" fill="rgb(78,78,84)"/><rect x="456.1" y="187.0" width="0.6" height="0.6" fill="rgb(78,78,84)"/><rect x="450.7" y="150.9" width="0.6" height="0.6" fill="rgb(53,53,59)"/><rect x="470.1" y="189.4" width="0.6" height="0.6" fill="rgb(120,120,126)"/><rect x="512.3" y="162.7" width="0.6" height="0.6" fill="rgb(62,62,68)"/><rect x="449.6" y="137.1" width="0.6" height="0.6" fill="rgb(87,87,93)"/><rect x="420.6" y="129.9" width="0.6" height="0.6" fill="rgb(108,108,114)"/><rect x="484.6" y="195.9" width="0.6" height="0.6" fill="rgb(86,86,92)"/><rect x="436.3" y="213.3" width="0.6" height="0.6" fill="rgb(51,51,57)"/><rect x="429.6" y="206.7" width="0.6" height="0.6" fill="rgb(65,65,71)"/><rect x="466.8" y="232.8" width="0.6" height="0.6" fill="rgb(39,39,45)"/><rect x="492.6" y="223.9" width="0.6" height="0.6" fill="rgb(118,118,124)"/><rect x="454.1" y="162.6" width="0.6" height="0.6" fill="rgb(117,117,123)"/><rect x="488.5" y="210.4" width="0.6" height="0.6" fill="rgb(113,113,119)"/><rect x="509.0" y="211.4" width="0.6" height="0.6" fill="rgb(112,112,118)"/><rect x="477.9" y="188.0" width="0.6" height="0.6" fill="rgb(112,112,118)"/><rect x="436.2" y="155.2" width="0.6" height="0.6" fill="rgb(47,47,53)"/><rect x="451.8" y="194.9" width="0.6" height="0.6" fill="rgb(45,45,51)"/><rect x="451.8" y="209.9" width="0.6" height="0.6" fill="rgb(44,44,50)"/><rect x="426.5" y="239.2" width="0.6" height="0.6" fill="rgb(62,62,68)"/><rect x="413.9" y="201.9" width="0.6" height="0.6" fill="rgb(52,52,58)"/><rect x="461.1" y="187.4" width="0.6" height="0.6" fill="rgb(92,92,98)"/><rect x="476.4" y="198.0" width="0.6" height="0.6" fill="rgb(39,39,45)"/><rect x="417.7" y="224.7" width="0.6" height="0.6" fill="rgb(49,49,55)"/><rect x="465.0" y="163.3" width="0.6" height="0.6" fill="rgb(78,78,84)"/><rect x="516.2" y="190.5" width="0.6" height="0.6" fill="rgb(64,64,70)"/><rect x="436.7" y="220.7" width="0.6" height="0.6" fill="rgb(61,61,67)"/><rect x="443.5" y="241.5" width="0.6" height="0.6" fill="rgb(108,108,114)"/><rect x="470.7" y="133.0" width="0.6" height="0.6" fill="rgb(57,57,63)"/><rect x="416.5" y="187.5" width="0.6" height="0.6" fill="rgb(89,89,95)"/><rect x="453.4" y="239.3" width="0.6" height="0.6" fill="rgb(70,70,76)"/><rect x="490.7" y="196.8" width="0.6" height="0.6" fill="rgb(86,86,92)"/><rect x="455.1" y="239.3" width="0.6" height="0.6" fill="rgb(87,87,93)"/><rect x="437.6" y="229.3" width="0.6" height="0.6" fill="rgb(42,42,48)"/><rect x="499.1" y="240.1" width="0.6" height="0.6" fill="rgb(77,77,83)"/><rect x="483.6" y="158.5" width="0.6" height="0.6" fill="rgb(117,117,123)"/><rect x="464.4" y="144.9" width="0.6" height="0.6" fill="rgb(93,93,99)"/><rect x="516.7" y="230.7" width="0.6" height="0.6" fill="rgb(114,114,120)"/><rect x="461.9" y="168.8" width="0.6" height="0.6" fill="rgb(59,59,65)"/><rect x="425.4" y="148.5" width="0.6" height="0.6" fill="rgb(59,59,65)"/><rect x="421.6" y="232.7" width="0.6" height="0.6" fill="rgb(37,37,43)"/><rect x="460.2" y="152.2" width="0.6" height="0.6" fill="rgb(60,60,66)"/><rect x="495.9" y="152.6" width="0.6" height="0.6" fill="rgb(72,72,78)"/><rect x="493.1" y="238.6" width="0.6" height="0.6" fill="rgb(113,113,119)"/><rect x="490.1" y="136.7" width="0.6" height="0.6" fill="rgb(61,61,67)"/><rect x="458.0" y="225.6" width="0.6" height="0.6" fill="rgb(117,117,123)"/><rect x="490.4" y="202.0" width="0.6" height="0.6" fill="rgb(68,68,74)"/><rect x="472.9" y="201.7" width="0.6" height="0.6" fill="rgb(107,107,113)"/><rect x="480.8" y="243.5" width="0.6" height="0.6" fill="rgb(74,74,80)"/><rect x="424.7" y="214.5" width="0.6" height="0.6" fill="rgb(80,80,86)"/><rect x="458.3" y="132.9" width="0.6" height="0.6" fill="rgb(93,93,99)"/><rect x="495.8" y="168.9" width="0.6" height="0.6" fill="rgb(54,54,60)"/><rect x="452.3" y="231.2" width="0.6" height="0.6" fill="rgb(97,97,103)"/><rect x="519.0" y="234.3" width="0.6" height="0.6" fill="rgb(75,75,81)"/><rect x="464.2" y="224.0" width="0.6" height="0.6" fill="rgb(51,51,57)"/><rect x="504.0" y="190.3" width="0.6" height="0.6" fill="rgb(67,67,73)"/><rect x="467.6" y="153.6" width="0.6" height="0.6" fill="rgb(67,67,73)"/><rect x="483.4" y="237.3" width="0.6" height="0.6" fill="rgb(59,59,65)"/><rect x="489.1" y="238.2" width="0.6" height="0.6" fill="rgb(101,101,107)"/><rect x="460.0" y="213.7" width="0.6" height="0.6" fill="rgb(84,84,90)"/><rect x="430.6" y="232.6" width="0.6" height="0.6" fill="rgb(90,90,96)"/><rect x="427.8" y="131.0" width="0.6" height="0.6" fill="rgb(62,62,68)"/><rect x="491.0" y="190.6" width="0.6" height="0.6" fill="rgb(38,38,44)"/><rect x="414.5" y="225.0" width="0.6" height="0.6" fill="rgb(46,46,52)"/><rect x="462.9" y="134.5" width="0.6" height="0.6" fill="rgb(108,108,114)"/><rect x="470.4" y="137.7" width="0.6" height="0.6" fill="rgb(76,76,82)"/><rect x="449.5" y="193.9" width="0.6" height="0.6" fill="rgb(94,94,100)"/><rect x="465.1" y="203.0" width="0.6" height="0.6" fill="rgb(61,61,67)"/><rect x="414.3" y="153.0" width="0.6" height="0.6" fill="rgb(80,80,86)"/><rect x="454.2" y="141.5" width="0.6" height="0.6" fill="rgb(110,110,116)"/><rect x="507.0" y="238.2" width="0.6" height="0.6" fill="rgb(91,91,97)"/><rect x="462.1" y="196.8" width="0.6" height="0.6" fill="rgb(116,116,122)"/><rect x="486.5" y="234.6" width="0.6" height="0.6" fill="rgb(43,43,49)"/><rect x="474.2" y="212.2" width="0.6" height="0.6" fill="rgb(95,95,101)"/><rect x="431.5" y="204.5" width="0.6" height="0.6" fill="rgb(65,65,71)"/><rect x="489.8" y="183.5" width="0.6" height="0.6" fill="rgb(95,95,101)"/><rect x="478.0" y="143.1" width="0.6" height="0.6" fill="rgb(98,98,104)"/><rect x="477.3" y="136.7" width="0.6" height="0.6" fill="rgb(65,65,71)"/><rect x="498.7" y="231.8" width="0.6" height="0.6" fill="rgb(35,35,41)"/><rect x="455.3" y="220.1" width="0.6" height="0.6" fill="rgb(63,63,69)"/><rect x="481.0" y="214.8" width="0.6" height="0.6" fill="rgb(39,39,45)"/><rect x="439.3" y="233.9" width="0.6" height="0.6" fill="rgb(60,60,66)"/><rect x="499.0" y="133.9" width="0.6" height="0.6" fill="rgb(41,41,47)"/><rect x="456.3" y="237.7" width="0.6" height="0.6" fill="rgb(63,63,69)"/><rect x="496.1" y="134.6" width="0.6" height="0.6" fill="rgb(106,106,112)"/><rect x="481.5" y="235.2" width="0.6" height="0.6" fill="rgb(68,68,74)"/><rect x="417.9" y="183.3" width="0.6" height="0.6" fill="rgb(96,96,102)"/><rect x="494.1" y="141.4" width="0.6" height="0.6" fill="rgb(47,47,53)"/><rect x="433.4" y="222.3" width="0.6" height="0.6" fill="rgb(55,55,61)"/><rect x="479.1" y="166.7" width="0.6" height="0.6" fill="rgb(100,100,106)"/><rect x="497.3" y="231.8" width="0.6" height="0.6" fill="rgb(35,35,41)"/><rect x="421.2" y="132.9" width="0.6" height="0.6" fill="rgb(117,117,123)"/><rect x="501.0" y="187.3" width="0.6" height="0.6" fill="rgb(114,114,120)"/><rect x="478.8" y="220.6" width="0.6" height="0.6" fill="rgb(103,103,109)"/><rect x="421.8" y="135.7" width="0.6" height="0.6" fill="rgb(104,104,110)"/><rect x="479.0" y="182.1" width="0.6" height="0.6" fill="rgb(120,120,126)"/><rect x="414.3" y="215.2" width="0.6" height="0.6" fill="rgb(38,38,44)"/><rect x="433.5" y="187.8" width="0.6" height="0.6" fill="rgb(93,93,99)"/><rect x="435.7" y="210.9" width="0.6" height="0.6" fill="rgb(61,61,67)"/><rect x="485.0" y="242.6" width="0.6" height="0.6" fill="rgb(113,113,119)"/><rect x="517.5" y="192.3" width="0.6" height="0.6" fill="rgb(80,80,86)"/><rect x="485.7" y="139.6" width="0.6" height="0.6" fill="rgb(65,65,71)"/><rect x="504.0" y="227.1" width="0.6" height="0.6" fill="rgb(47,47,53)"/><rect x="423.1" y="161.0" width="0.6" height="0.6" fill="rgb(74,74,80)"/><rect x="494.7" y="146.5" width="0.6" height="0.6" fill="rgb(112,112,118)"/><rect x="474.9" y="168.0" width="0.6" height="0.6" fill="rgb(59,59,65)"/><rect x="414.2" y="138.1" width="0.6" height="0.6" fill="rgb(49,49,55)"/><rect x="486.2" y="217.7" width="0.6" height="0.6" fill="rgb(62,62,68)"/><rect x="468.9" y="181.9" width="0.6" height="0.6" fill="rgb(87,87,93)"/><rect x="511.9" y="195.6" width="0.6" height="0.6" fill="rgb(61,61,67)"/><rect x="511.1" y="213.8" width="0.6" height="0.6" fill="rgb(45,45,51)"/><rect x="510.7" y="225.8" width="0.6" height="0.6" fill="rgb(38,38,44)"/><rect x="484.9" y="145.0" width="0.6" height="0.6" fill="rgb(90,90,96)"/><rect x="498.8" y="135.8" width="0.6" height="0.6" fill="rgb(114,114,120)"/><rect x="513.9" y="180.3" width="0.6" height="0.6" fill="rgb(52,52,58)"/><rect x="440.4" y="164.1" width="0.6" height="0.6" fill="rgb(79,79,85)"/><rect x="416.5" y="173.5" width="0.6" height="0.6" fill="rgb(55,55,61)"/><rect x="460.7" y="242.3" width="0.6" height="0.6" fill="rgb(118,118,124)"/><rect x="483.4" y="183.9" width="0.6" height="0.6" fill="rgb(114,114,120)"/><rect x="502.6" y="243.8" width="0.6" height="0.6" fill="rgb(76,76,82)"/><rect x="442.7" y="158.2" width="0.6" height="0.6" fill="rgb(87,87,93)"/><rect x="470.8" y="168.7" width="0.6" height="0.6" fill="rgb(104,104,110)"/><rect x="507.9" y="235.4" width="0.6" height="0.6" fill="rgb(77,77,83)"/><rect x="413.7" y="218.2" width="0.6" height="0.6" fill="rgb(65,65,71)"/><rect x="508.3" y="220.9" width="0.6" height="0.6" fill="rgb(103,103,109)"/><rect x="430.7" y="133.6" width="0.6" height="0.6" fill="rgb(75,75,81)"/><rect x="458.8" y="168.2" width="0.6" height="0.6" fill="rgb(43,43,49)"/><rect x="470.7" y="240.5" width="0.6" height="0.6" fill="rgb(55,55,61)"/><rect x="436.0" y="135.6" width="0.6" height="0.6" fill="rgb(119,119,125)"/><rect x="470.8" y="237.4" width="0.6" height="0.6" fill="rgb(87,87,93)"/><rect x="512.7" y="189.2" width="0.6" height="0.6" fill="rgb(115,115,121)"/><rect x="423.0" y="153.9" width="0.6" height="0.6" fill="rgb(71,71,77)"/><rect x="493.9" y="231.4" width="0.6" height="0.6" fill="rgb(68,68,74)"/><rect x="459.4" y="143.1" width="0.6" height="0.6" fill="rgb(57,57,63)"/><rect x="478.5" y="200.1" width="0.6" height="0.6" fill="rgb(56,56,62)"/><rect x="487.1" y="215.3" width="0.6" height="0.6" fill="rgb(85,85,91)"/><rect x="440.0" y="159.1" width="0.6" height="0.6" fill="rgb(38,38,44)"/><rect x="423.3" y="229.1" width="0.6" height="0.6" fill="rgb(117,117,123)"/><rect x="441.1" y="240.4" width="0.6" height="0.6" fill="rgb(117,117,123)"/><rect x="492.4" y="145.8" width="0.6" height="0.6" fill="rgb(43,43,49)"/><rect x="477.2" y="209.4" width="0.6" height="0.6" fill="rgb(73,73,79)"/><rect x="421.8" y="213.4" width="0.6" height="0.6" fill="rgb(103,103,109)"/><rect x="415.0" y="171.1" width="0.6" height="0.6" fill="rgb(53,53,59)"/><rect x="472.9" y="212.6" width="0.6" height="0.6" fill="rgb(117,117,123)"/><rect x="516.8" y="208.6" width="0.6" height="0.6" fill="rgb(70,70,76)"/><rect x="511.6" y="181.3" width="0.6" height="0.6" fill="rgb(47,47,53)"/><rect x="440.7" y="174.9" width="0.6" height="0.6" fill="rgb(57,57,63)"/><rect x="460.9" y="213.3" width="0.6" height="0.6" fill="rgb(47,47,53)"/><rect x="505.2" y="182.5" width="0.6" height="0.6" fill="rgb(76,76,82)"/><rect x="502.1" y="133.0" width="0.6" height="0.6" fill="rgb(63,63,69)"/><rect x="424.9" y="153.5" width="0.6" height="0.6" fill="rgb(79,79,85)"/><rect x="484.9" y="161.4" width="0.6" height="0.6" fill="rgb(36,36,42)"/><rect x="503.6" y="137.9" width="0.6" height="0.6" fill="rgb(46,46,52)"/><rect x="430.3" y="205.3" width="0.6" height="0.6" fill="rgb(110,110,116)"/><rect x="446.7" y="159.8" width="0.6" height="0.6" fill="rgb(40,40,46)"/><rect x="428.8" y="140.7" width="0.6" height="0.6" fill="rgb(42,42,48)"/><rect x="454.3" y="204.5" width="0.6" height="0.6" fill="rgb(107,107,113)"/><rect x="475.7" y="136.6" width="0.6" height="0.6" fill="rgb(72,72,78)"/><rect x="415.1" y="227.5" width="0.6" height="0.6" fill="rgb(51,51,57)"/><rect x="513.2" y="170.4" width="0.6" height="0.6" fill="rgb(104,104,110)"/><rect x="490.5" y="145.4" width="0.6" height="0.6" fill="rgb(67,67,73)"/><rect x="453.0" y="148.6" width="0.6" height="0.6" fill="rgb(119,119,125)"/><rect x="425.4" y="158.1" width="0.6" height="0.6" fill="rgb(56,56,62)"/><rect x="443.9" y="173.3" width="0.6" height="0.6" fill="rgb(38,38,44)"/><rect x="437.4" y="151.8" width="0.6" height="0.6" fill="rgb(63,63,69)"/><rect x="494.7" y="227.6" width="0.6" height="0.6" fill="rgb(65,65,71)"/><rect x="481.8" y="183.8" width="0.6" height="0.6" fill="rgb(35,35,41)"/><rect x="418.9" y="205.8" width="0.6" height="0.6" fill="rgb(82,82,88)"/><rect x="438.5" y="132.9" width="0.6" height="0.6" fill="rgb(91,91,97)"/><rect x="465.4" y="142.1" width="0.6" height="0.6" fill="rgb(106,106,112)"/><rect x="489.3" y="140.3" width="0.6" height="0.6" fill="rgb(50,50,56)"/><rect x="465.1" y="235.7" width="0.6" height="0.6" fill="rgb(64,64,70)"/>
<path d="M5.4,18.3 C8,15 11,14 14,14 C16,15 18,16 19.3,17.2 C23,20 26,23 27.9,25.8 C27,29 26,32 24.7,34.4 C22,35 19,35.5 17.2,35.4 C14,33 12,31 10.7,30 C8,27 7,25 6.4,23.6 C5.5,21 5.2,19.5 5.4,18.3" transform="translate(413.0,129.0)" fill="none" stroke="#8a92a2" stroke-width="0.7"/>
<path d="M5.4,18.3 C8,15 11,14 14,14 C16,15 18,16 19.3,17.2 C23,20 26,23 27.9,25.8 C27,29 26,32 24.7,34.4 C22,35 19,35.5 17.2,35.4 C14,33 12,31 10.7,30 C8,27 7,25 6.4,23.6 C5.5,21 5.2,19.5 5.4,18.3" transform="translate(413.9,129.5)" fill="none" stroke="#666c78" stroke-width="0.5"/>
<path d="M22.6,35.4 C27,39 31,43 34.4,46.2 C37,50 40,54 41.9,57 C44,58 47,57.5 50,56.5" transform="translate(413.0,129.0)" fill="none" stroke="#8a92a2" stroke-width="0.7"/>
<path d="M22.6,35.4 C27,39 31,43 34.4,46.2 C37,50 40,54 41.9,57 C44,58 47,57.5 50,56.5" transform="translate(413.9,129.5)" fill="none" stroke="#666c78" stroke-width="0.5"/>
<path d="M35.4,10 C38,5 43,3 47,3.5 C50,4 52,6 53.7,9 C54,12 52,14 50,15 C46,15 42,14 39,13 C37,12 36,11 35.4,10" transform="translate(413.0,129.0)" fill="none" stroke="#8a92a2" stroke-width="0.7"/>
<path d="M35.4,10 C38,5 43,3 47,3.5 C50,4 52,6 53.7,9 C54,12 52,14 50,15 C46,15 42,14 39,13 C37,12 36,11 35.4,10" transform="translate(413.9,129.5)" fill="none" stroke="#666c78" stroke-width="0.5"/>
<path d="M47,3.5 C52,4 57,5 60,8 C62,11 62,15 60,18 C58,22 56,24 53,26" transform="translate(413.0,129.0)" fill="none" stroke="#8a92a2" stroke-width="0.7"/>
<path d="M47,3.5 C52,4 57,5 60,8 C62,11 62,15 60,18 C58,22 56,24 53,26" transform="translate(413.9,129.5)" fill="none" stroke="#666c78" stroke-width="0.5"/>
<path d="M34.4,30 C36,27.5 40,27 43,28 C47,29 49,32 49.4,35 C49,38 46,39 43,38.7 C39,38 36,36 35,34 C34.2,32.5 34.2,31 34.4,30" transform="translate(413.0,129.0)" fill="none" stroke="#8a92a2" stroke-width="0.7"/>
<path d="M34.4,30 C36,27.5 40,27 43,28 C47,29 49,32 49.4,35 C49,38 46,39 43,38.7 C39,38 36,36 35,34 C34.2,32.5 34.2,31 34.4,30" transform="translate(413.9,129.5)" fill="none" stroke="#666c78" stroke-width="0.5"/>
<path d="M49.4,35 C53,37 56,38 60,40 C63,42 65,44 67,46" transform="translate(413.0,129.0)" fill="none" stroke="#8a92a2" stroke-width="0.7"/>
<path d="M49.4,35 C53,37 56,38 60,40 C63,42 65,44 67,46" transform="translate(413.9,129.5)" fill="none" stroke="#666c78" stroke-width="0.5"/>
<path d="M63,2 C64,6 66,9 68,12 M58,10 C60,13 63,15 66,17" transform="translate(413.0,129.0)" fill="none" stroke="#8a92a2" stroke-width="0.7"/>
<path d="M63,2 C64,6 66,9 68,12 M58,10 C60,13 63,15 66,17" transform="translate(413.9,129.5)" fill="none" stroke="#666c78" stroke-width="0.5"/>
<path d="M70,20 C74,22 78,25 82,28 C86,30 90,32 94,34 C96,38 98,44 99,50 C100,56 100,62 99,68" transform="translate(413.0,129.0)" fill="none" stroke="#8a92a2" stroke-width="0.7"/>
<path d="M70,20 C74,22 78,25 82,28 C86,30 90,32 94,34 C96,38 98,44 99,50 C100,56 100,62 99,68" transform="translate(413.9,129.5)" fill="none" stroke="#666c78" stroke-width="0.5"/>
<path d="M78,40 C82,44 86,48 90,50 C93,54 95,58 96,64 C97,68 96,72 95,76" transform="translate(413.0,129.0)" fill="none" stroke="#8a92a2" stroke-width="0.7"/>
<path d="M78,40 C82,44 86,48 90,50 C93,54 95,58 96,64 C97,68 96,72 95,76" transform="translate(413.9,129.5)" fill="none" stroke="#666c78" stroke-width="0.5"/>
<path d="M64,44 C68,46 71,50 74,54 C77,58 80,62 83,66 C86,70 88,74 90,78" transform="translate(413.0,129.0)" fill="none" stroke="#8a92a2" stroke-width="0.7"/>
<path d="M64,44 C68,46 71,50 74,54 C77,58 80,62 83,66 C86,70 88,74 90,78" transform="translate(413.9,129.5)" fill="none" stroke="#666c78" stroke-width="0.5"/>
<path d="M86,32 C90,36 93,40 95,46 M92,30 C95,33 97,36 100,38" transform="translate(413.0,129.0)" fill="none" stroke="#8a92a2" stroke-width="0.7"/>
<path d="M86,32 C90,36 93,40 95,46 M92,30 C95,33 97,36 100,38" transform="translate(413.9,129.5)" fill="none" stroke="#666c78" stroke-width="0.5"/>
<path d="M73.8,108 C76,104 78,100 80,97 C83,102 86,108 90,110 C92,106 94,104 95.4,103" transform="translate(413.0,129.0)" fill="none" stroke="#8a92a2" stroke-width="0.7"/>
<path d="M73.8,108 C76,104 78,100 80,97 C83,102 86,108 90,110 C92,106 94,104 95.4,103" transform="translate(413.9,129.5)" fill="none" stroke="#666c78" stroke-width="0.5"/>
<path d="M71,102 C74,104 77,107 80,110" transform="translate(413.0,129.0)" fill="none" stroke="#8a92a2" stroke-width="0.7"/>
<path d="M71,102 C74,104 77,107 80,110" transform="translate(413.9,129.5)" fill="none" stroke="#666c78" stroke-width="0.5"/>
<path d="M40,6 C42,10 44,14 48,18 C52,20 56,18 58,14 M52,20 C54,24 56,28 58,30" transform="translate(413.0,129.0)" fill="none" stroke="#8a92a2" stroke-width="0.7"/>
<path d="M40,6 C42,10 44,14 48,18 C52,20 56,18 58,14 M52,20 C54,24 56,28 58,30" transform="translate(413.9,129.5)" fill="none" stroke="#666c78" stroke-width="0.5"/>
<path d="M14,14 C16,10 20,8 24,9 M4,40 C8,42 12,44 16,48 C20,52 24,54 28,56" transform="translate(413.0,129.0)" fill="none" stroke="#8a92a2" stroke-width="0.7"/>
<path d="M14,14 C16,10 20,8 24,9 M4,40 C8,42 12,44 16,48 C20,52 24,54 28,56" transform="translate(413.9,129.5)" fill="none" stroke="#666c78" stroke-width="0.5"/>
<path d="M38,42 C40,46 44,50 48,52 M28,44 C30,48 32,52 34,56" transform="translate(413.0,129.0)" fill="none" stroke="#8a92a2" stroke-width="0.7"/>
<path d="M38,42 C40,46 44,50 48,52 M28,44 C30,48 32,52 34,56" transform="translate(413.9,129.5)" fill="none" stroke="#666c78" stroke-width="0.5"/>
<path d="M84,16 C86,20 88,24 88,30 M96,24 C98,28 100,34 102,40" transform="translate(413.0,129.0)" fill="none" stroke="#8a92a2" stroke-width="0.7"/>
<path d="M84,16 C86,20 88,24 88,30 M96,24 C98,28 100,34 102,40" transform="translate(413.9,129.5)" fill="none" stroke="#666c78" stroke-width="0.5"/>
<path d="M2,60 C6,58 10,56 14,55 M30,70 C34,68 38,67 42,68" transform="translate(413.0,129.0)" fill="none" stroke="#8a92a2" stroke-width="0.7"/>
<path d="M2,60 C6,58 10,56 14,55 M30,70 C34,68 38,67 42,68" transform="translate(413.9,129.5)" fill="none" stroke="#666c78" stroke-width="0.5"/>
<circle cx="432.30" cy="146.20" r="0.9" fill="#d89048" filter="url(#bl3)"/>
<circle cx="424.50" cy="153.00" r="0.9" fill="#d89048" filter="url(#bl3)"/>
<circle cx="437.70" cy="163.40" r="0.9" fill="#d89048" filter="url(#bl3)"/>
<circle cx="460.00" cy="132.50" r="0.9" fill="#d89048" filter="url(#bl3)"/>
<circle cx="466.70" cy="138.00" r="0.9" fill="#d89048" filter="url(#bl3)"/>
<circle cx="448.40" cy="139.00" r="0.9" fill="#d89048" filter="url(#bl3)"/>
<circle cx="456.00" cy="167.70" r="0.9" fill="#d89048" filter="url(#bl3)"/>
<circle cx="462.40" cy="164.00" r="0.9" fill="#d89048" filter="url(#bl3)"/>
<circle cx="473.00" cy="147.00" r="0.9" fill="#d89048" filter="url(#bl3)"/>
<circle cx="506.00" cy="163.00" r="0.9" fill="#d89048" filter="url(#bl3)"/>
<circle cx="512.00" cy="179.00" r="0.9" fill="#d89048" filter="url(#bl3)"/>
<circle cx="503.00" cy="179.00" r="0.9" fill="#d89048" filter="url(#bl3)"/>
<circle cx="493.00" cy="207.00" r="0.9" fill="#d89048" filter="url(#bl3)"/>
<circle cx="503.00" cy="237.00" r="0.9" fill="#d89048" filter="url(#bl3)"/>
<circle cx="416.00" cy="238.00" r="0.9" fill="#d89048" filter="url(#bl3)"/>
<polygon points="434.50,143.20 437.20,136.00 442.00,139.90" fill="#fff"/>
<text x="415.20" y="230.80" font-size="10" fill="#2ecc2e" stroke="#2ecc2e" stroke-width="0.2" textLength="24.40" lengthAdjust="spacingAndGlyphs">CRWL</text><text x="439.60" y="230.80" font-size="10" fill="#ddd" stroke="#ddd" stroke-width="0.2">+</text><text x="445.00" y="230.80" font-size="10" fill="#e01818" stroke="#e01818" stroke-width="0.2" textLength="15.60" lengthAdjust="spacingAndGlyphs">CL2</text><text x="460.60" y="230.80" font-size="10" fill="#e0e0e0" stroke="#e0e0e0" stroke-width="0.2" textLength="24.20" lengthAdjust="spacingAndGlyphs">+DAPI</text>
<g fill="#636363" filter="url(#bl)"><rect x="-7.09" y="-3.91" width="14.18" height="7.82" rx="3.91" transform="translate(595.44,27.11) rotate(70)"/><rect x="-7.09" y="-3.91" width="14.18" height="7.82" rx="3.91" transform="translate(577.18,33.56) rotate(10)"/><rect x="-6.38" y="-3.91" width="12.76" height="7.82" rx="3.91" transform="translate(586.85,32.48) rotate(-30)"/><rect x="-7.80" y="-4.89" width="15.60" height="9.77" rx="4.89" transform="translate(612.63,32.48) rotate(60)"/><rect x="-6.38" y="-3.91" width="12.76" height="7.82" rx="3.91" transform="translate(602.96,35.70) rotate(30)"/><rect x="-7.09" y="-4.19" width="14.18" height="8.38" rx="4.19" transform="translate(634.11,27.11) rotate(-20)"/><rect x="-6.38" y="-3.91" width="12.76" height="7.82" rx="3.91" transform="translate(644.85,28.19) rotate(80)"/><rect x="-6.38" y="-3.91" width="12.76" height="7.82" rx="3.91" transform="translate(650.22,34.63) rotate(60)"/><rect x="-7.09" y="-4.19" width="14.18" height="8.38" rx="4.19" transform="translate(623.37,36.78) rotate(10)"/><rect x="-6.38" y="-3.91" width="12.76" height="7.82" rx="3.91" transform="translate(633.03,36.78) rotate(70)"/><rect x="-6.38" y="-3.91" width="12.76" height="7.82" rx="3.91" transform="translate(575.03,43.22) rotate(60)"/><rect x="-5.67" y="-4.19" width="11.34" height="8.38" rx="4.19" transform="translate(583.62,43.22) rotate(0)"/><rect x="-6.38" y="-4.19" width="12.76" height="8.38" rx="4.19" transform="translate(593.29,43.22) rotate(30)"/><rect x="-7.09" y="-3.91" width="14.18" height="7.82" rx="3.91" transform="translate(586.85,47.52) rotate(-20)"/><rect x="-7.09" y="-3.91" width="14.18" height="7.82" rx="3.91" transform="translate(608.33,46.45) rotate(70)"/><rect x="-6.38" y="-3.91" width="12.76" height="7.82" rx="3.91" transform="translate(598.66,52.89) rotate(80)"/><rect x="-7.09" y="-3.91" width="14.18" height="7.82" rx="3.91" transform="translate(620.14,45.37) rotate(20)"/><rect x="-6.38" y="-3.91" width="12.76" height="7.82" rx="3.91" transform="translate(629.81,43.22) rotate(70)"/><rect x="-6.38" y="-3.91" width="12.76" height="7.82" rx="3.91" transform="translate(639.48,41.08) rotate(-40)"/><rect x="-6.38" y="-3.91" width="12.76" height="7.82" rx="3.91" transform="translate(647.00,43.22) rotate(80)"/><rect x="-5.67" y="-3.49" width="11.34" height="6.98" rx="3.49" transform="translate(653.44,40.00) rotate(60)"/><rect x="-6.38" y="-4.89" width="12.76" height="9.77" rx="4.89" transform="translate(569.66,50.74) rotate(20)"/><rect x="-6.38" y="-3.91" width="12.76" height="7.82" rx="3.91" transform="translate(556.77,55.04) rotate(70)"/><rect x="-6.38" y="-3.91" width="12.76" height="7.82" rx="3.91" transform="translate(543.88,57.19) rotate(-30)"/><rect x="-6.38" y="-3.91" width="12.76" height="7.82" rx="3.91" transform="translate(535.29,60.41) rotate(80)"/><rect x="-6.38" y="-3.91" width="12.76" height="7.82" rx="3.91" transform="translate(579.33,57.19) rotate(60)"/><rect x="-6.38" y="-3.91" width="12.76" height="7.82" rx="3.91" transform="translate(589.00,55.04) rotate(-30)"/><rect x="-6.38" y="-3.91" width="12.76" height="7.82" rx="3.91" transform="translate(606.18,55.04) rotate(20)"/><rect x="-6.38" y="-3.91" width="12.76" height="7.82" rx="3.91" transform="translate(616.92,52.89) rotate(70)"/><rect x="-6.38" y="-3.91" width="12.76" height="7.82" rx="3.91" transform="translate(624.44,51.82) rotate(0)"/><rect x="-6.38" y="-4.89" width="12.76" height="9.77" rx="4.89" transform="translate(633.03,57.19) rotate(30)"/><rect x="-6.38" y="-3.91" width="12.76" height="7.82" rx="3.91" transform="translate(642.70,52.89) rotate(70)"/><rect x="-6.38" y="-3.91" width="12.76" height="7.82" rx="3.91" transform="translate(651.29,50.74) rotate(60)"/><rect x="-6.38" y="-3.91" width="12.76" height="7.82" rx="3.91" transform="translate(533.14,67.93) rotate(60)"/><rect x="-6.38" y="-3.91" width="12.76" height="7.82" rx="3.91" transform="translate(541.73,65.78) rotate(-20)"/><rect x="-5.67" y="-4.19" width="11.34" height="8.38" rx="4.19" transform="translate(547.10,62.56) rotate(0)"/><rect x="-6.38" y="-3.91" width="12.76" height="7.82" rx="3.91" transform="translate(553.55,62.56) rotate(70)"/><rect x="-6.38" y="-3.91" width="12.76" height="7.82" rx="3.91" transform="translate(561.07,67.93) rotate(20)"/><rect x="-6.38" y="-3.91" width="12.76" height="7.82" rx="3.91" transform="translate(570.74,70.08) rotate(80)"/><rect x="-6.38" y="-3.91" width="12.76" height="7.82" rx="3.91" transform="translate(578.25,65.78) rotate(-40)"/><rect x="-6.38" y="-3.91" width="12.76" height="7.82" rx="3.91" transform="translate(587.92,63.63) rotate(70)"/><rect x="-6.38" y="-4.89" width="12.76" height="9.77" rx="4.89" transform="translate(599.74,67.93) rotate(60)"/><rect x="-6.38" y="-3.91" width="12.76" height="7.82" rx="3.91" transform="translate(613.70,67.93) rotate(20)"/><rect x="-6.38" y="-3.91" width="12.76" height="7.82" rx="3.91" transform="translate(623.37,65.78) rotate(80)"/><rect x="-6.38" y="-3.91" width="12.76" height="7.82" rx="3.91" transform="translate(633.03,67.93) rotate(-30)"/><rect x="-6.38" y="-3.91" width="12.76" height="7.82" rx="3.91" transform="translate(642.70,66.85) rotate(20)"/><rect x="-6.38" y="-3.91" width="12.76" height="7.82" rx="3.91" transform="translate(652.37,66.85) rotate(70)"/><rect x="-6.38" y="-3.91" width="12.76" height="7.82" rx="3.91" transform="translate(532.07,76.52) rotate(80)"/><rect x="-6.38" y="-3.91" width="12.76" height="7.82" rx="3.91" transform="translate(543.88,75.45) rotate(60)"/><rect x="-6.38" y="-3.91" width="12.76" height="7.82" rx="3.91" transform="translate(554.62,75.45) rotate(10)"/><rect x="-6.38" y="-3.91" width="12.76" height="7.82" rx="3.91" transform="translate(565.36,73.30) rotate(-30)"/><rect x="-6.38" y="-3.91" width="12.76" height="7.82" rx="3.91" transform="translate(579.33,76.52) rotate(30)"/><rect x="-6.38" y="-3.91" width="12.76" height="7.82" rx="3.91" transform="translate(589.00,75.45) rotate(70)"/><rect x="-6.38" y="-3.91" width="12.76" height="7.82" rx="3.91" transform="translate(597.59,76.52) rotate(-20)"/><rect x="-6.38" y="-3.91" width="12.76" height="7.82" rx="3.91" transform="translate(608.33,75.45) rotate(60)"/><rect x="-6.38" y="-3.91" width="12.76" height="7.82" rx="3.91" transform="translate(616.92,75.45) rotate(10)"/><rect x="-6.38" y="-3.91" width="12.76" height="7.82" rx="3.91" transform="translate(627.66,77.60) rotate(-30)"/><rect x="-6.38" y="-3.91" width="12.76" height="7.82" rx="3.91" transform="translate(637.33,75.45) rotate(70)"/><rect x="-6.38" y="-3.91" width="12.76" height="7.82" rx="3.91" transform="translate(645.92,73.30) rotate(30)"/><rect x="-5.67" y="-3.91" width="11.34" height="7.82" rx="3.91" transform="translate(654.52,75.45) rotate(80)"/><rect x="-6.38" y="-3.91" width="12.76" height="7.82" rx="3.91" transform="translate(537.44,86.19) rotate(20)"/><rect x="-6.38" y="-3.91" width="12.76" height="7.82" rx="3.91" transform="translate(544.96,89.41) rotate(70)"/><rect x="-6.38" y="-3.91" width="12.76" height="7.82" rx="3.91" transform="translate(554.62,85.11) rotate(-30)"/><rect x="-6.38" y="-3.91" width="12.76" height="7.82" rx="3.91" transform="translate(563.22,85.11) rotate(80)"/><rect x="-6.38" y="-4.89" width="12.76" height="9.77" rx="4.89" transform="translate(575.03,86.19) rotate(30)"/><rect x="-6.38" y="-3.91" width="12.76" height="7.82" rx="3.91" transform="translate(584.70,84.04) rotate(60)"/><rect x="-6.38" y="-3.91" width="12.76" height="7.82" rx="3.91" transform="translate(594.37,82.97) rotate(-20)"/><rect x="-6.38" y="-3.91" width="12.76" height="7.82" rx="3.91" transform="translate(604.03,86.19) rotate(10)"/><rect x="-6.38" y="-3.91" width="12.76" height="7.82" rx="3.91" transform="translate(613.70,87.26) rotate(70)"/><rect x="-6.38" y="-3.91" width="12.76" height="7.82" rx="3.91" transform="translate(622.29,88.34) rotate(30)"/><rect x="-6.38" y="-3.91" width="12.76" height="7.82" rx="3.91" transform="translate(630.89,86.19) rotate(-50)"/><rect x="-5.67" y="-3.91" width="11.34" height="7.82" rx="3.91" transform="translate(639.48,84.04) rotate(80)"/><rect x="-6.38" y="-3.91" width="12.76" height="7.82" rx="3.91" transform="translate(541.73,95.85) rotate(80)"/><rect x="-6.38" y="-4.89" width="12.76" height="9.77" rx="4.89" transform="translate(550.33,93.71) rotate(20)"/><rect x="-6.38" y="-3.91" width="12.76" height="7.82" rx="3.91" transform="translate(559.99,98.00) rotate(-20)"/><rect x="-6.38" y="-3.91" width="12.76" height="7.82" rx="3.91" transform="translate(568.59,100.15) rotate(60)"/><rect x="-6.38" y="-3.91" width="12.76" height="7.82" rx="3.91" transform="translate(577.18,96.93) rotate(20)"/><rect x="-6.38" y="-4.89" width="12.76" height="9.77" rx="4.89" transform="translate(587.92,92.63) rotate(30)"/><rect x="-6.38" y="-3.91" width="12.76" height="7.82" rx="3.91" transform="translate(596.51,96.93) rotate(70)"/><rect x="-6.38" y="-3.91" width="12.76" height="7.82" rx="3.91" transform="translate(605.11,99.08) rotate(-30)"/><rect x="-6.38" y="-3.91" width="12.76" height="7.82" rx="3.91" transform="translate(613.70,96.93) rotate(30)"/><rect x="-6.38" y="-3.91" width="12.76" height="7.82" rx="3.91" transform="translate(622.29,94.78) rotate(70)"/><rect x="-5.67" y="-3.91" width="11.34" height="7.82" rx="3.91" transform="translate(630.89,92.63) rotate(10)"/><rect x="-6.38" y="-3.91" width="12.76" height="7.82" rx="3.91" transform="translate(565.36,106.60) rotate(20)"/><rect x="-6.38" y="-3.91" width="12.76" height="7.82" rx="3.91" transform="translate(573.96,108.74) rotate(70)"/><rect x="-6.38" y="-3.91" width="12.76" height="7.82" rx="3.91" transform="translate(583.62,106.60) rotate(-20)"/><rect x="-6.38" y="-3.91" width="12.76" height="7.82" rx="3.91" transform="translate(592.22,105.52) rotate(80)"/><rect x="-6.38" y="-3.91" width="12.76" height="7.82" rx="3.91" transform="translate(600.81,104.45) rotate(30)"/><rect x="-6.38" y="-3.91" width="12.76" height="7.82" rx="3.91" transform="translate(609.40,102.30) rotate(60)"/><rect x="-5.67" y="-3.91" width="11.34" height="7.82" rx="3.91" transform="translate(618.00,101.23) rotate(10)"/><rect x="-6.38" y="-3.91" width="12.76" height="7.82" rx="3.91" transform="translate(579.33,113.04) rotate(20)"/><rect x="-6.38" y="-3.91" width="12.76" height="7.82" rx="3.91" transform="translate(589.00,111.97) rotate(60)"/><rect x="-6.38" y="-4.89" width="12.76" height="9.77" rx="4.89" transform="translate(597.59,114.11) rotate(0)"/><rect x="-6.38" y="-3.91" width="12.76" height="7.82" rx="3.91" transform="translate(607.25,109.82) rotate(-30)"/><rect x="-5.67" y="-3.91" width="11.34" height="7.82" rx="3.91" transform="translate(548.18,103.37) rotate(60)"/></g><g filter="url(#bl2)"><rect x="-5.73" y="-3.00" width="2.2" height="5.08" rx="0.6" fill="#42e0ea" transform="translate(595.44,27.11) rotate(53)"/><rect x="2.91" y="-3.51" width="2.2" height="5.08" rx="0.6" fill="#42e0ea" transform="translate(577.18,33.56) rotate(-4)"/><rect x="-6.37" y="-1.50" width="2.2" height="5.08" rx="0.6" fill="#42e0ea" transform="translate(577.18,33.56) rotate(35)"/><ellipse cx="0.86" cy="0" rx="2.9" ry="5.38" fill="#e86060" opacity="0.6" transform="translate(612.63,32.48) rotate(60)"/><rect x="2.58" y="-2.30" width="2.2" height="5.08" rx="0.6" fill="#42e0ea" transform="translate(602.96,35.70) rotate(24)"/><rect x="3.35" y="-2.34" width="2.2" height="5.08" rx="0.6" fill="#42e0ea" transform="translate(602.96,35.70) rotate(50)"/><rect x="-2.49" y="-0.32" width="2.2" height="5.08" rx="0.6" fill="#42e0ea" transform="translate(644.85,28.19) rotate(100)"/><rect x="3.34" y="-2.38" width="2.2" height="5.45" rx="0.6" fill="#42e0ea" transform="translate(623.37,36.78) rotate(13)"/><rect x="-4.09" y="-4.91" width="2.2" height="5.45" rx="0.6" fill="#42e0ea" transform="translate(623.37,36.78) rotate(1)"/><rect x="-1.00" y="-3.00" width="2.2" height="5.08" rx="0.6" fill="#42e0ea" transform="translate(633.03,36.78) rotate(71)"/><ellipse cx="0.27" cy="0" rx="2.9" ry="4.61" fill="#e86060" opacity="0.6" transform="translate(583.62,43.22) rotate(0)"/><ellipse cx="2.53" cy="0" rx="2.9" ry="4.61" fill="#e86060" opacity="0.6" transform="translate(593.29,43.22) rotate(30)"/><rect x="2.27" y="-1.25" width="2.2" height="5.08" rx="0.6" fill="#42e0ea" transform="translate(586.85,47.52) rotate(0)"/><rect x="1.88" y="-0.99" width="2.2" height="5.08" rx="0.6" fill="#42e0ea" transform="translate(586.85,47.52) rotate(-27)"/><rect x="-4.94" y="-1.15" width="2.2" height="5.08" rx="0.6" fill="#42e0ea" transform="translate(608.33,46.45) rotate(81)"/><rect x="-1.54" y="-2.20" width="2.2" height="5.08" rx="0.6" fill="#42e0ea" transform="translate(608.33,46.45) rotate(70)"/><rect x="-1.09" y="-0.79" width="2.2" height="5.08" rx="0.6" fill="#42e0ea" transform="translate(629.81,43.22) rotate(63)"/><rect x="2.81" y="-0.47" width="2.2" height="5.08" rx="0.6" fill="#42e0ea" transform="translate(629.81,43.22) rotate(68)"/><rect x="1.21" y="-2.08" width="2.2" height="5.08" rx="0.6" fill="#42e0ea" transform="translate(647.00,43.22) rotate(78)"/><rect x="0.52" y="-0.28" width="2.2" height="5.08" rx="0.6" fill="#42e0ea" transform="translate(647.00,43.22) rotate(96)"/><ellipse cx="1.71" cy="0" rx="2.9" ry="5.38" fill="#e86060" opacity="0.6" transform="translate(569.66,50.74) rotate(20)"/><rect x="-3.47" y="-0.42" width="2.2" height="5.08" rx="0.6" fill="#42e0ea" transform="translate(556.77,55.04) rotate(60)"/><rect x="3.57" y="-1.38" width="2.2" height="5.08" rx="0.6" fill="#42e0ea" transform="translate(556.77,55.04) rotate(70)"/><rect x="-1.02" y="-1.80" width="2.2" height="5.08" rx="0.6" fill="#42e0ea" transform="translate(616.92,52.89) rotate(65)"/><rect x="1.26" y="-2.40" width="2.2" height="5.08" rx="0.6" fill="#42e0ea" transform="translate(616.92,52.89) rotate(63)"/><ellipse cx="0.94" cy="0" rx="2.9" ry="5.38" fill="#e86060" opacity="0.6" transform="translate(633.03,57.19) rotate(30)"/><rect x="1.80" y="-3.09" width="2.2" height="5.08" rx="0.6" fill="#42e0ea" transform="translate(642.70,52.89) rotate(45)"/><rect x="3.97" y="-4.19" width="2.2" height="5.08" rx="0.6" fill="#42e0ea" transform="translate(651.29,50.74) rotate(64)"/><rect x="-3.42" y="-3.63" width="2.2" height="5.08" rx="0.6" fill="#42e0ea" transform="translate(533.14,67.93) rotate(79)"/><rect x="1.50" y="-4.05" width="2.2" height="5.08" rx="0.6" fill="#42e0ea" transform="translate(541.73,65.78) rotate(-32)"/><ellipse cx="1.47" cy="0" rx="2.9" ry="4.61" fill="#e86060" opacity="0.6" transform="translate(547.10,62.56) rotate(0)"/><rect x="-1.89" y="-1.33" width="2.2" height="5.08" rx="0.6" fill="#42e0ea" transform="translate(553.55,62.56) rotate(47)"/><ellipse cx="-0.70" cy="0" rx="2.9" ry="4.30" fill="#e86060" opacity="0.6" transform="translate(561.07,67.93) rotate(20)"/><rect x="-3.66" y="-4.58" width="2.2" height="5.08" rx="0.6" fill="#42e0ea" transform="translate(570.74,70.08) rotate(61)"/><rect x="-5.95" y="-1.27" width="2.2" height="5.08" rx="0.6" fill="#42e0ea" transform="translate(587.92,63.63) rotate(46)"/><ellipse cx="-1.25" cy="0" rx="2.9" ry="5.38" fill="#e86060" opacity="0.6" transform="translate(599.74,67.93) rotate(60)"/><rect x="1.30" y="-2.24" width="2.2" height="5.08" rx="0.6" fill="#42e0ea" transform="translate(642.70,66.85) rotate(-5)"/><rect x="-5.76" y="-0.05" width="2.2" height="5.08" rx="0.6" fill="#42e0ea" transform="translate(652.37,66.85) rotate(53)"/><rect x="-5.83" y="-3.08" width="2.2" height="5.08" rx="0.6" fill="#42e0ea" transform="translate(652.37,66.85) rotate(76)"/><rect x="1.43" y="-3.35" width="2.2" height="5.08" rx="0.6" fill="#42e0ea" transform="translate(532.07,76.52) rotate(79)"/><rect x="-3.06" y="-2.10" width="2.2" height="5.08" rx="0.6" fill="#42e0ea" transform="translate(532.07,76.52) rotate(85)"/><rect x="3.00" y="-1.15" width="2.2" height="5.08" rx="0.6" fill="#42e0ea" transform="translate(543.88,75.45) rotate(78)"/><rect x="-4.64" y="-0.19" width="2.2" height="5.08" rx="0.6" fill="#42e0ea" transform="translate(579.33,76.52) rotate(10)"/><rect x="0.81" y="-0.76" width="2.2" height="5.08" rx="0.6" fill="#42e0ea" transform="translate(579.33,76.52) rotate(6)"/><rect x="-0.91" y="-1.03" width="2.2" height="5.08" rx="0.6" fill="#42e0ea" transform="translate(597.59,76.52) rotate(-21)"/><rect x="-4.74" y="-0.19" width="2.2" height="5.08" rx="0.6" fill="#42e0ea" transform="translate(616.92,75.45) rotate(-2)"/><rect x="-0.02" y="-2.72" width="2.2" height="5.08" rx="0.6" fill="#42e0ea" transform="translate(616.92,75.45) rotate(-14)"/><rect x="3.59" y="-1.55" width="2.2" height="5.08" rx="0.6" fill="#42e0ea" transform="translate(627.66,77.60) rotate(-42)"/><rect x="-4.86" y="-3.89" width="2.2" height="5.08" rx="0.6" fill="#42e0ea" transform="translate(627.66,77.60) rotate(-32)"/><rect x="-1.02" y="-0.08" width="2.2" height="5.08" rx="0.6" fill="#42e0ea" transform="translate(537.44,86.19) rotate(42)"/><rect x="-3.83" y="-2.61" width="2.2" height="5.08" rx="0.6" fill="#42e0ea" transform="translate(563.22,85.11) rotate(68)"/><ellipse cx="0.47" cy="0" rx="2.9" ry="5.38" fill="#e86060" opacity="0.6" transform="translate(575.03,86.19) rotate(30)"/><rect x="1.88" y="-1.76" width="2.2" height="5.08" rx="0.6" fill="#42e0ea" transform="translate(604.03,86.19) rotate(3)"/><rect x="0.78" y="-3.38" width="2.2" height="5.08" rx="0.6" fill="#42e0ea" transform="translate(604.03,86.19) rotate(23)"/><rect x="-5.84" y="-2.77" width="2.2" height="5.08" rx="0.6" fill="#42e0ea" transform="translate(613.70,87.26) rotate(51)"/><rect x="-5.31" y="-4.21" width="2.2" height="5.08" rx="0.6" fill="#42e0ea" transform="translate(622.29,88.34) rotate(6)"/><rect x="1.46" y="-4.20" width="2.2" height="5.08" rx="0.6" fill="#42e0ea" transform="translate(622.29,88.34) rotate(6)"/><rect x="-1.46" y="-3.24" width="2.2" height="5.08" rx="0.6" fill="#42e0ea" transform="translate(630.89,86.19) rotate(-43)"/><rect x="-4.04" y="-0.44" width="2.2" height="5.08" rx="0.6" fill="#42e0ea" transform="translate(630.89,86.19) rotate(-27)"/><ellipse cx="1.17" cy="0" rx="2.9" ry="5.38" fill="#e86060" opacity="0.6" transform="translate(550.33,93.71) rotate(20)"/><rect x="-1.86" y="-4.59" width="2.2" height="5.08" rx="0.6" fill="#42e0ea" transform="translate(559.99,98.00) rotate(-15)"/><rect x="2.79" y="-0.33" width="2.2" height="5.08" rx="0.6" fill="#42e0ea" transform="translate(559.99,98.00) rotate(-16)"/><rect x="0.57" y="-2.44" width="2.2" height="5.08" rx="0.6" fill="#42e0ea" transform="translate(568.59,100.15) rotate(36)"/><ellipse cx="2.35" cy="0" rx="2.9" ry="5.38" fill="#e86060" opacity="0.6" transform="translate(587.92,92.63) rotate(30)"/><rect x="0.03" y="-3.33" width="2.2" height="5.08" rx="0.6" fill="#42e0ea" transform="translate(596.51,96.93) rotate(94)"/><rect x="-3.06" y="-0.59" width="2.2" height="5.08" rx="0.6" fill="#42e0ea" transform="translate(605.11,99.08) rotate(-34)"/><rect x="-5.13" y="-3.76" width="2.2" height="5.08" rx="0.6" fill="#42e0ea" transform="translate(605.11,99.08) rotate(-16)"/><rect x="2.09" y="-4.41" width="2.2" height="5.08" rx="0.6" fill="#42e0ea" transform="translate(613.70,96.93) rotate(37)"/><rect x="-4.08" y="-1.93" width="2.2" height="5.08" rx="0.6" fill="#42e0ea" transform="translate(573.96,108.74) rotate(49)"/><rect x="-3.30" y="-2.94" width="2.2" height="5.08" rx="0.6" fill="#42e0ea" transform="translate(573.96,108.74) rotate(92)"/><rect x="-3.97" y="-2.39" width="2.2" height="5.08" rx="0.6" fill="#42e0ea" transform="translate(592.22,105.52) rotate(61)"/><rect x="-2.20" y="-2.52" width="2.2" height="5.08" rx="0.6" fill="#42e0ea" transform="translate(609.40,102.30) rotate(73)"/><rect x="-2.17" y="-4.12" width="2.2" height="5.08" rx="0.6" fill="#42e0ea" transform="translate(609.40,102.30) rotate(41)"/><rect x="0.09" y="-3.12" width="2.2" height="5.08" rx="0.6" fill="#42e0ea" transform="translate(579.33,113.04) rotate(15)"/><ellipse cx="-1.47" cy="0" rx="2.9" ry="5.38" fill="#e86060" opacity="0.6" transform="translate(597.59,114.11) rotate(0)"/></g>
<g fill="#636363" filter="url(#blc3)"><rect x="-6.79" y="-3.54" width="13.59" height="7.09" rx="3.54" transform="translate(597.59,138.67) rotate(-10)"/><rect x="-6.18" y="-3.31" width="12.35" height="6.62" rx="3.31" transform="translate(585.77,147.26) rotate(80)"/><rect x="-8.65" y="-3.31" width="17.29" height="6.62" rx="3.31" transform="translate(594.37,152.63) rotate(60)"/><rect x="-7.41" y="-4.14" width="14.82" height="8.27" rx="4.14" transform="translate(619.07,146.19) rotate(-60)"/><rect x="-6.18" y="-3.31" width="12.35" height="6.62" rx="3.31" transform="translate(627.66,152.63) rotate(70)"/><rect x="-5.56" y="-3.54" width="11.12" height="7.09" rx="3.54" transform="translate(634.11,158.00) rotate(-30)"/><rect x="-6.18" y="-3.31" width="12.35" height="6.62" rx="3.31" transform="translate(573.96,159.08) rotate(20)"/><rect x="-5.56" y="-3.54" width="11.12" height="7.09" rx="3.54" transform="translate(563.22,162.30) rotate(80)"/><rect x="-6.79" y="-3.31" width="13.59" height="6.62" rx="3.31" transform="translate(606.18,159.08) rotate(0)"/><rect x="-6.18" y="-3.31" width="12.35" height="6.62" rx="3.31" transform="translate(618.00,163.37) rotate(20)"/><rect x="-5.56" y="-2.95" width="11.12" height="5.91" rx="2.95" transform="translate(593.29,166.59) rotate(50)"/><rect x="-6.18" y="-3.31" width="12.35" height="6.62" rx="3.31" transform="translate(607.25,168.74) rotate(10)"/><rect x="-6.18" y="-3.54" width="12.35" height="7.09" rx="3.54" transform="translate(629.81,167.67) rotate(-60)"/><rect x="-4.94" y="-3.31" width="9.88" height="6.62" rx="3.31" transform="translate(636.26,170.89) rotate(60)"/><rect x="-4.94" y="-3.31" width="9.88" height="6.62" rx="3.31" transform="translate(547.10,169.82) rotate(30)"/><rect x="-6.18" y="-3.31" width="12.35" height="6.62" rx="3.31" transform="translate(554.62,175.19) rotate(80)"/><rect x="-5.56" y="-3.31" width="11.12" height="6.62" rx="3.31" transform="translate(544.96,177.34) rotate(80)"/><rect x="-6.18" y="-2.95" width="12.35" height="5.91" rx="2.95" transform="translate(567.51,176.26) rotate(60)"/><rect x="-6.18" y="-2.95" width="12.35" height="5.91" rx="2.95" transform="translate(578.25,177.34) rotate(30)"/><rect x="-6.18" y="-2.95" width="12.35" height="5.91" rx="2.95" transform="translate(586.85,180.56) rotate(-40)"/><rect x="-5.56" y="-3.31" width="11.12" height="6.62" rx="3.31" transform="translate(598.66,178.41) rotate(60)"/><rect x="-6.79" y="-3.54" width="13.59" height="7.09" rx="3.54" transform="translate(612.63,181.63) rotate(80)"/><rect x="-6.18" y="-3.54" width="12.35" height="7.09" rx="3.54" transform="translate(624.44,181.63) rotate(30)"/><rect x="-4.94" y="-3.54" width="9.88" height="7.09" rx="3.54" transform="translate(541.73,188.08) rotate(-30)"/><rect x="-6.79" y="-3.31" width="13.59" height="6.62" rx="3.31" transform="translate(556.77,190.22) rotate(60)"/><rect x="-5.56" y="-2.95" width="11.12" height="5.91" rx="2.95" transform="translate(568.59,187.00) rotate(-60)"/><rect x="-6.18" y="-2.95" width="12.35" height="5.91" rx="2.95" transform="translate(581.48,185.93) rotate(10)"/><rect x="-5.56" y="-2.95" width="11.12" height="5.91" rx="2.95" transform="translate(572.88,193.45) rotate(0)"/><rect x="-6.18" y="-2.95" width="12.35" height="5.91" rx="2.95" transform="translate(584.70,195.60) rotate(70)"/><rect x="-6.79" y="-3.31" width="13.59" height="6.62" rx="3.31" transform="translate(598.66,193.45) rotate(50)"/><rect x="-6.79" y="-3.31" width="13.59" height="6.62" rx="3.31" transform="translate(612.63,194.52) rotate(0)"/><rect x="-5.56" y="-3.31" width="11.12" height="6.62" rx="3.31" transform="translate(623.37,195.60) rotate(80)"/><rect x="-5.56" y="-3.31" width="11.12" height="6.62" rx="3.31" transform="translate(561.07,203.11) rotate(20)"/><rect x="-5.56" y="-3.31" width="11.12" height="6.62" rx="3.31" transform="translate(573.96,203.11) rotate(20)"/><rect x="-6.18" y="-2.95" width="12.35" height="5.91" rx="2.95" transform="translate(593.29,202.04) rotate(80)"/><rect x="-6.79" y="-3.31" width="13.59" height="6.62" rx="3.31" transform="translate(605.11,204.19) rotate(-20)"/><rect x="-5.56" y="-3.31" width="11.12" height="6.62" rx="3.31" transform="translate(618.00,205.26) rotate(40)"/><rect x="-5.56" y="-3.31" width="11.12" height="6.62" rx="3.31" transform="translate(556.77,211.71) rotate(40)"/><rect x="-6.79" y="-3.54" width="13.59" height="7.09" rx="3.54" transform="translate(570.74,211.71) rotate(60)"/><rect x="-5.56" y="-2.95" width="11.12" height="5.91" rx="2.95" transform="translate(584.70,210.63) rotate(10)"/><rect x="-5.56" y="-3.31" width="11.12" height="6.62" rx="3.31" transform="translate(600.81,212.78) rotate(-30)"/><rect x="-4.94" y="-2.95" width="9.88" height="5.91" rx="2.95" transform="translate(612.63,212.78) rotate(70)"/><rect x="-5.56" y="-3.31" width="11.12" height="6.62" rx="3.31" transform="translate(561.07,221.37) rotate(80)"/><rect x="-4.94" y="-3.31" width="9.88" height="6.62" rx="3.31" transform="translate(570.74,224.60) rotate(30)"/><rect x="-5.56" y="-3.31" width="11.12" height="6.62" rx="3.31" transform="translate(580.40,221.37) rotate(60)"/><rect x="-5.56" y="-3.31" width="11.12" height="6.62" rx="3.31" transform="translate(591.14,223.52) rotate(-50)"/><rect x="-4.94" y="-3.31" width="9.88" height="6.62" rx="3.31" transform="translate(600.81,222.45) rotate(30)"/><rect x="-5.56" y="-3.31" width="11.12" height="6.62" rx="3.31" transform="translate(612.63,222.45) rotate(-10)"/><rect x="-5.56" y="-3.31" width="11.12" height="6.62" rx="3.31" transform="translate(578.25,232.11) rotate(80)"/><rect x="-5.56" y="-3.31" width="11.12" height="6.62" rx="3.31" transform="translate(591.14,232.11) rotate(40)"/><rect x="-4.94" y="-3.31" width="9.88" height="6.62" rx="3.31" transform="translate(601.88,231.04) rotate(60)"/><rect x="-5.56" y="-3.31" width="11.12" height="6.62" rx="3.31" transform="translate(612.63,232.11) rotate(-20)"/><rect x="-5.56" y="-3.31" width="11.12" height="6.62" rx="3.31" transform="translate(556.77,181.63) rotate(80)"/><rect x="-5.56" y="-3.07" width="11.12" height="6.14" rx="3.07" transform="translate(600.81,161.22) rotate(20)"/><rect x="-5.56" y="-3.07" width="11.12" height="6.14" rx="3.07" transform="translate(616.92,171.96) rotate(60)"/></g><g filter="url(#bl2)"><ellipse cx="-1.42" cy="0" rx="2.9" ry="3.90" fill="#e86060" opacity="0.6" transform="translate(597.59,138.67) rotate(-10)"/><circle cx="0.27" cy="-1.46" r="1.05" fill="#30dc30" transform="translate(585.77,147.26) rotate(80)"/><circle cx="0.12" cy="1.46" r="1.05" fill="#30dc30" transform="translate(585.77,147.26) rotate(80)"/><ellipse cx="0" cy="0" rx="3.56" ry="4.30" fill="#ea5656" opacity="0.8" transform="translate(619.07,146.19) rotate(-60)"/><ellipse cx="0.46" cy="0" rx="2.9" ry="3.90" fill="#e86060" opacity="0.6" transform="translate(634.11,158.00) rotate(-30)"/><circle cx="0.78" cy="-1.46" r="1.05" fill="#30dc30" transform="translate(573.96,159.08) rotate(20)"/><circle cx="0.26" cy="1.46" r="1.05" fill="#30dc30" transform="translate(573.96,159.08) rotate(20)"/><circle cx="-2.71" cy="-1.56" r="1.05" fill="#30dc30" transform="translate(563.22,162.30) rotate(80)"/><circle cx="-2.30" cy="1.56" r="1.05" fill="#30dc30" transform="translate(563.22,162.30) rotate(80)"/><ellipse cx="-1.07" cy="0" rx="2.9" ry="3.90" fill="#e86060" opacity="0.6" transform="translate(563.22,162.30) rotate(80)"/><circle cx="-1.80" cy="-1.46" r="1.05" fill="#30dc30" transform="translate(606.18,159.08) rotate(0)"/><circle cx="-1.21" cy="1.46" r="1.05" fill="#30dc30" transform="translate(606.18,159.08) rotate(0)"/><circle cx="-0.18" cy="-1.46" r="1.05" fill="#30dc30" transform="translate(607.25,168.74) rotate(10)"/><circle cx="0.22" cy="1.46" r="1.05" fill="#30dc30" transform="translate(607.25,168.74) rotate(10)"/><ellipse cx="0" cy="0" rx="2.96" ry="3.69" fill="#ea5656" opacity="0.8" transform="translate(629.81,167.67) rotate(-60)"/><circle cx="-0.12" cy="-1.46" r="1.05" fill="#30dc30" transform="translate(636.26,170.89) rotate(60)"/><circle cx="0.05" cy="1.46" r="1.05" fill="#30dc30" transform="translate(636.26,170.89) rotate(60)"/><circle cx="-1.73" cy="-1.46" r="1.05" fill="#30dc30" transform="translate(547.10,169.82) rotate(30)"/><circle cx="-1.56" cy="1.46" r="1.05" fill="#30dc30" transform="translate(547.10,169.82) rotate(30)"/><circle cx="2.27" cy="-1.46" r="1.05" fill="#30dc30" transform="translate(554.62,175.19) rotate(80)"/><circle cx="2.30" cy="1.46" r="1.05" fill="#30dc30" transform="translate(554.62,175.19) rotate(80)"/><circle cx="1.64" cy="-1.56" r="1.05" fill="#30dc30" transform="translate(612.63,181.63) rotate(80)"/><circle cx="1.84" cy="1.56" r="1.05" fill="#30dc30" transform="translate(612.63,181.63) rotate(80)"/><ellipse cx="-2.37" cy="0" rx="2.9" ry="3.90" fill="#e86060" opacity="0.6" transform="translate(612.63,181.63) rotate(80)"/><circle cx="1.59" cy="-1.56" r="1.05" fill="#30dc30" transform="translate(624.44,181.63) rotate(30)"/><circle cx="1.70" cy="1.56" r="1.05" fill="#30dc30" transform="translate(624.44,181.63) rotate(30)"/><circle cx="-0.98" cy="-1.56" r="1.05" fill="#30dc30" transform="translate(541.73,188.08) rotate(-30)"/><circle cx="-1.54" cy="1.56" r="1.05" fill="#30dc30" transform="translate(541.73,188.08) rotate(-30)"/><ellipse cx="1.44" cy="0" rx="2.9" ry="3.90" fill="#e86060" opacity="0.6" transform="translate(541.73,188.08) rotate(-30)"/><circle cx="-0.15" cy="-1.30" r="1.05" fill="#30dc30" transform="translate(572.88,193.45) rotate(0)"/><circle cx="0.11" cy="1.30" r="1.05" fill="#30dc30" transform="translate(572.88,193.45) rotate(0)"/><ellipse cx="0" cy="0" rx="3.26" ry="3.44" fill="#ea5656" opacity="0.8" transform="translate(612.63,194.52) rotate(0)"/><circle cx="2.57" cy="-1.46" r="1.05" fill="#30dc30" transform="translate(612.63,194.52) rotate(0)"/><circle cx="2.83" cy="1.46" r="1.05" fill="#30dc30" transform="translate(612.63,194.52) rotate(0)"/><circle cx="2.34" cy="-1.46" r="1.05" fill="#30dc30" transform="translate(623.37,195.60) rotate(80)"/><circle cx="2.21" cy="1.46" r="1.05" fill="#30dc30" transform="translate(623.37,195.60) rotate(80)"/><circle cx="1.67" cy="-1.46" r="1.05" fill="#30dc30" transform="translate(561.07,203.11) rotate(20)"/><circle cx="1.61" cy="1.46" r="1.05" fill="#30dc30" transform="translate(561.07,203.11) rotate(20)"/><circle cx="2.69" cy="-1.30" r="1.05" fill="#30dc30" transform="translate(593.29,202.04) rotate(80)"/><circle cx="3.14" cy="1.30" r="1.05" fill="#30dc30" transform="translate(593.29,202.04) rotate(80)"/><circle cx="-2.24" cy="-1.46" r="1.05" fill="#30dc30" transform="translate(618.00,205.26) rotate(40)"/><circle cx="-2.67" cy="1.46" r="1.05" fill="#30dc30" transform="translate(618.00,205.26) rotate(40)"/><ellipse cx="0" cy="0" rx="3.26" ry="3.69" fill="#ea5656" opacity="0.8" transform="translate(570.74,211.71) rotate(60)"/><ellipse cx="-1.26" cy="0" rx="2.9" ry="3.64" fill="#e86060" opacity="0.6" transform="translate(600.81,212.78) rotate(-30)"/><circle cx="2.59" cy="-1.46" r="1.05" fill="#30dc30" transform="translate(600.81,212.78) rotate(-30)"/><circle cx="2.51" cy="1.46" r="1.05" fill="#30dc30" transform="translate(600.81,212.78) rotate(-30)"/><circle cx="0.63" cy="-1.30" r="1.05" fill="#30dc30" transform="translate(612.63,212.78) rotate(70)"/><circle cx="0.39" cy="1.30" r="1.05" fill="#30dc30" transform="translate(612.63,212.78) rotate(70)"/><circle cx="0.04" cy="-1.46" r="1.05" fill="#30dc30" transform="translate(570.74,224.60) rotate(30)"/><circle cx="-0.10" cy="1.46" r="1.05" fill="#30dc30" transform="translate(570.74,224.60) rotate(30)"/><ellipse cx="0" cy="0" rx="2.67" ry="3.44" fill="#ea5656" opacity="0.8" transform="translate(580.40,221.37) rotate(60)"/><ellipse cx="-0.66" cy="0" rx="2.9" ry="3.64" fill="#e86060" opacity="0.6" transform="translate(591.14,223.52) rotate(-50)"/><circle cx="0.47" cy="-1.46" r="1.05" fill="#30dc30" transform="translate(591.14,223.52) rotate(-50)"/><circle cx="0.57" cy="1.46" r="1.05" fill="#30dc30" transform="translate(591.14,223.52) rotate(-50)"/><circle cx="2.25" cy="-1.46" r="1.05" fill="#30dc30" transform="translate(578.25,232.11) rotate(80)"/><circle cx="2.47" cy="1.46" r="1.05" fill="#30dc30" transform="translate(578.25,232.11) rotate(80)"/><ellipse cx="1.91" cy="0" rx="2.9" ry="3.64" fill="#e86060" opacity="0.6" transform="translate(578.25,232.11) rotate(80)"/><circle cx="1.98" cy="-1.46" r="1.05" fill="#30dc30" transform="translate(591.14,232.11) rotate(40)"/><circle cx="2.57" cy="1.46" r="1.05" fill="#30dc30" transform="translate(591.14,232.11) rotate(40)"/><circle cx="0.85" cy="-1.46" r="1.05" fill="#30dc30" transform="translate(601.88,231.04) rotate(60)"/><circle cx="0.44" cy="1.46" r="1.05" fill="#30dc30" transform="translate(601.88,231.04) rotate(60)"/></g>
<text x="526.40" y="23.00" font-size="9.4" fill="#e0e0e0" stroke="#e0e0e0" stroke-width="0.2">2</text>
<text x="525.90" y="139.50" font-size="9.4" fill="#e0e0e0" stroke="#e0e0e0" stroke-width="0.2">3</text>
<text x="523.70" y="113.80" font-size="10" fill="#e02a2a" stroke="#e02a2a" stroke-width="0.2" textLength="14.60" lengthAdjust="spacingAndGlyphs">CL1</text>
<text x="523.70" y="124.50" font-size="10" fill="#3cc6cc" stroke="#3cc6cc" stroke-width="0.2" textLength="15.60" lengthAdjust="spacingAndGlyphs">CL2</text>
<text x="523.70" y="231.80" font-size="10" fill="#e02a2a" stroke="#e02a2a" stroke-width="0.2" textLength="14.60" lengthAdjust="spacingAndGlyphs">CL1</text>
<text x="523.70" y="241.30" font-size="10" fill="#2ecc2e" stroke="#2ecc2e" stroke-width="0.2" textLength="19.80" lengthAdjust="spacingAndGlyphs">CL10</text>
<rect x="645.5" y="122.4" width="14" height="1.9" fill="#fff"/>
<rect x="644.6" y="240.8" width="15" height="2" fill="#fff"/>
<rect x="415.2" y="240.7" width="14.7" height="1.8" fill="#fff"/>
<text x="336.10" y="271.20" font-size="14" fill="#000" font-weight="bold">d</text>
<rect x="381.6" y="269.4" width="310" height="121" fill="none" stroke="#e6e6e6" stroke-width="0.8"/>
<text x="376.80" y="287.56" font-size="8.6" fill="#222" stroke="#222" stroke-width="0.2" text-anchor="end" textLength="12.40" lengthAdjust="spacingAndGlyphs">0.8</text>
<text x="376.80" y="307.56" font-size="8.6" fill="#222" stroke="#222" stroke-width="0.2" text-anchor="end" textLength="12.40" lengthAdjust="spacingAndGlyphs">0.7</text>
<text x="376.80" y="327.56" font-size="8.6" fill="#222" stroke="#222" stroke-width="0.2" text-anchor="end" textLength="12.40" lengthAdjust="spacingAndGlyphs">0.6</text>
<text x="376.80" y="347.56" font-size="8.6" fill="#222" stroke="#222" stroke-width="0.2" text-anchor="end" textLength="12.40" lengthAdjust="spacingAndGlyphs">0.5</text>
<text x="376.80" y="367.56" font-size="8.6" fill="#222" stroke="#222" stroke-width="0.2" text-anchor="end" textLength="12.40" lengthAdjust="spacingAndGlyphs">0.4</text>
<text x="376.80" y="387.56" font-size="8.6" fill="#222" stroke="#222" stroke-width="0.2" text-anchor="end" textLength="12.40" lengthAdjust="spacingAndGlyphs">0.3</text>
<text x="393.10" y="402.66" font-size="8.6" fill="#222" stroke="#222" stroke-width="0.2" text-anchor="middle" textLength="4.40" lengthAdjust="spacingAndGlyphs">0</text>
<text x="462.20" y="402.66" font-size="8.6" fill="#222" stroke="#222" stroke-width="0.2" text-anchor="middle" textLength="8.80" lengthAdjust="spacingAndGlyphs">25</text>
<text x="531.20" y="402.66" font-size="8.6" fill="#222" stroke="#222" stroke-width="0.2" text-anchor="middle" textLength="8.80" lengthAdjust="spacingAndGlyphs">50</text>
<text x="600.60" y="402.66" font-size="8.6" fill="#222" stroke="#222" stroke-width="0.2" text-anchor="middle" textLength="8.80" lengthAdjust="spacingAndGlyphs">75</text>
<text x="669.00" y="402.66" font-size="8.6" fill="#222" stroke="#222" stroke-width="0.2" text-anchor="middle" textLength="13.20" lengthAdjust="spacingAndGlyphs">100</text>
<text transform="translate(344.9,330.2) rotate(-90)" font-size="8.8" fill="#222" stroke="#222" stroke-width="0.2" text-anchor="middle" textLength="62.6" lengthAdjust="spacingAndGlyphs">Normalized ratio</text>
<text transform="translate(354.3,330.6) rotate(-90)" font-size="8.8" fill="#222" stroke="#222" stroke-width="0.2" text-anchor="middle" textLength="78" lengthAdjust="spacingAndGlyphs">ChIP * (ChIP +Input)</text>
<text transform="translate(351.2,290.8) rotate(-90)" font-size="6" fill="#222">−1</text>
<line x1="381.6" y1="304.6" x2="685" y2="304.6" stroke="#7aa6c8" stroke-width="0.7" stroke-dasharray="1.6,1.6"/>
<g fill="#1c1c78"><circle cx="398.20" cy="304.60" r="0.95"/><circle cx="395.30" cy="327.70" r="0.95"/><circle cx="401.00" cy="324.50" r="0.95"/><circle cx="403.90" cy="328.40" r="0.95"/><circle cx="406.70" cy="323.10" r="0.95"/><circle cx="409.30" cy="326.10" r="0.95"/><circle cx="412.10" cy="337.70" r="0.95"/><circle cx="414.90" cy="327.10" r="0.95"/><circle cx="417.80" cy="328.10" r="0.95"/><circle cx="423.30" cy="329.90" r="0.95"/><circle cx="426.10" cy="328.50" r="0.95"/><circle cx="428.40" cy="298.80" r="0.95"/><circle cx="431.70" cy="326.40" r="0.95"/><circle cx="434.40" cy="326.40" r="0.95"/><circle cx="437.20" cy="338.30" r="0.95"/><circle cx="440.00" cy="323.30" r="0.95"/><circle cx="442.90" cy="328.00" r="0.95"/><circle cx="445.50" cy="330.10" r="0.95"/><circle cx="454.00" cy="330.10" r="0.95"/><circle cx="456.80" cy="334.20" r="0.95"/><circle cx="459.40" cy="324.00" r="0.95"/><circle cx="462.30" cy="329.10" r="0.95"/><circle cx="464.90" cy="329.10" r="0.95"/><circle cx="467.90" cy="332.00" r="0.95"/><circle cx="470.60" cy="320.20" r="0.95"/><circle cx="473.30" cy="326.10" r="0.95"/><circle cx="476.00" cy="323.40" r="0.95"/><circle cx="478.80" cy="336.60" r="0.95"/><circle cx="481.70" cy="323.90" r="0.95"/><circle cx="484.50" cy="330.40" r="0.95"/><circle cx="487.60" cy="297.60" r="0.95"/><circle cx="490.00" cy="325.00" r="0.95"/><circle cx="492.80" cy="328.50" r="0.95"/><circle cx="495.60" cy="329.10" r="0.95"/><circle cx="498.30" cy="326.80" r="0.95"/><circle cx="501.10" cy="329.00" r="0.95"/><circle cx="503.90" cy="337.40" r="0.95"/><circle cx="506.70" cy="327.70" r="0.95"/><circle cx="509.60" cy="307.80" r="0.95"/><circle cx="512.20" cy="346.90" r="0.95"/><circle cx="515.00" cy="329.00" r="0.95"/><circle cx="517.90" cy="348.10" r="0.95"/><circle cx="520.70" cy="316.60" r="0.95"/><circle cx="523.40" cy="341.70" r="0.95"/><circle cx="529.00" cy="302.60" r="0.95"/><circle cx="531.80" cy="337.60" r="0.95"/><circle cx="534.40" cy="329.10" r="0.95"/><circle cx="537.30" cy="329.10" r="0.95"/><circle cx="540.10" cy="328.00" r="0.95"/><circle cx="542.90" cy="324.70" r="0.95"/><circle cx="546.00" cy="274.40" r="0.95"/><circle cx="548.60" cy="344.20" r="0.95"/><circle cx="551.30" cy="349.60" r="0.95"/><circle cx="554.10" cy="297.00" r="0.95"/><circle cx="556.90" cy="326.20" r="0.95"/><circle cx="559.60" cy="341.80" r="0.95"/><circle cx="562.40" cy="331.50" r="0.95"/><circle cx="565.20" cy="333.40" r="0.95"/><circle cx="568.00" cy="340.10" r="0.95"/><circle cx="570.70" cy="337.60" r="0.95"/><circle cx="573.50" cy="334.80" r="0.95"/><circle cx="575.90" cy="314.10" r="0.95"/><circle cx="579.00" cy="331.30" r="0.95"/><circle cx="581.80" cy="313.30" r="0.95"/><circle cx="584.80" cy="323.80" r="0.95"/><circle cx="587.30" cy="328.30" r="0.95"/><circle cx="590.10" cy="325.00" r="0.95"/><circle cx="593.00" cy="351.20" r="0.95"/><circle cx="595.80" cy="330.00" r="0.95"/><circle cx="598.60" cy="334.90" r="0.95"/><circle cx="601.30" cy="345.80" r="0.95"/><circle cx="604.10" cy="329.40" r="0.95"/><circle cx="607.00" cy="338.80" r="0.95"/><circle cx="609.80" cy="333.30" r="0.95"/><circle cx="612.40" cy="338.30" r="0.95"/><circle cx="615.10" cy="346.10" r="0.95"/><circle cx="618.10" cy="345.70" r="0.95"/><circle cx="620.90" cy="314.10" r="0.95"/><circle cx="623.60" cy="326.30" r="0.95"/><circle cx="626.40" cy="345.70" r="0.95"/><circle cx="629.10" cy="347.90" r="0.95"/><circle cx="631.90" cy="338.30" r="0.95"/><circle cx="634.70" cy="330.00" r="0.95"/><circle cx="637.60" cy="344.60" r="0.95"/><circle cx="640.40" cy="315.30" r="0.95"/><circle cx="643.10" cy="335.60" r="0.95"/><circle cx="645.90" cy="357.10" r="0.95"/><circle cx="648.70" cy="344.10" r="0.95"/><circle cx="651.50" cy="325.90" r="0.95"/><circle cx="654.20" cy="340.40" r="0.95"/><circle cx="657.00" cy="331.60" r="0.95"/><circle cx="659.90" cy="306.60" r="0.95"/><circle cx="662.70" cy="340.30" r="0.95"/><circle cx="665.40" cy="354.60" r="0.95"/><circle cx="668.20" cy="339.90" r="0.95"/><circle cx="671.00" cy="304.50" r="0.95"/></g>
<text x="382.60" y="291.49" font-size="8.4" fill="#1a1a1a" stroke="#1a1a1a" stroke-width="0.2" textLength="41.00" lengthAdjust="spacingAndGlyphs">CL10 78bp</text>
<text x="387.40" y="312.09" font-size="8.4" fill="#1a1a1a" stroke="#1a1a1a" stroke-width="0.2" textLength="63.60" lengthAdjust="spacingAndGlyphs">CL2 5pb satDNA</text>
<text x="444.00" y="303.49" font-size="8.4" fill="#1a1a1a" stroke="#1a1a1a" stroke-width="0.2" textLength="73.00" lengthAdjust="spacingAndGlyphs">CL21 38pb satDNA</text>
<text x="535.60" y="280.89" font-size="8.4" fill="#1a1a1a" stroke="#1a1a1a" stroke-width="0.2" textLength="68.80" lengthAdjust="spacingAndGlyphs">CL55 8bp satDNA</text>
<text x="538.40" y="302.49" font-size="8.4" fill="#1a1a1a" stroke="#1a1a1a" stroke-width="0.2" textLength="86.60" lengthAdjust="spacingAndGlyphs">CL58 4bp degenerated</text>
<text x="485.60" y="280.50" font-size="9" fill="#2828a0" stroke="#2828a0" stroke-width="0.2" text-anchor="middle" textLength="25.00" lengthAdjust="spacingAndGlyphs">CRWL</text>
<line x1="451.00" y1="297.20" x2="466.03" y2="285.64" stroke="#2f6cf5" stroke-width="2.0"/><polygon points="469.20,283.20 467.26,288.22 463.85,283.79" fill="#2f6cf5"/>
<line x1="487.60" y1="296.40" x2="487.60" y2="286.00" stroke="#2f6cf5" stroke-width="2.0"/><polygon points="487.60,282.00 490.40,286.60 484.80,286.60" fill="#2f6cf5"/>
<line x1="527.00" y1="297.20" x2="507.76" y2="284.77" stroke="#2f6cf5" stroke-width="2.0"/><polygon points="504.40,282.60 509.78,282.74 506.74,287.45" fill="#2f6cf5"/>
<text x="336.20" y="426.80" font-size="14" fill="#000" font-weight="bold">e</text>
<rect x="345.3" y="438.8" width="294" height="7.2" fill="#fff" stroke="#9a9a9a" stroke-width="0.8"/>
<rect x="434.6" y="439.2" width="20" height="6.4" fill="#d0d0d0" stroke="#9a9a9a" stroke-width="0.6"/>
<text x="342.40" y="445.16" font-size="8.6" fill="#1a1a1a" stroke="#1a1a1a" stroke-width="0.2" text-anchor="end">0</text>
<text x="640.80" y="445.16" font-size="8.6" fill="#1a1a1a" stroke="#1a1a1a" stroke-width="0.2" textLength="23.00" lengthAdjust="spacingAndGlyphs">16 Mb</text>
<text x="412.00" y="434.96" font-size="8.6" fill="#1a1a1a" stroke="#1a1a1a" stroke-width="0.2" textLength="26.00" lengthAdjust="spacingAndGlyphs">4.8 Mb</text>
<text x="449.40" y="434.96" font-size="8.6" fill="#1a1a1a" stroke="#1a1a1a" stroke-width="0.2" textLength="26.00" lengthAdjust="spacingAndGlyphs">6.0 Mb</text>
<path d="M434.8,446.2 L435,456 L342,491.2 M454.4,446.2 L454.4,456 L637.5,491.4" fill="none" stroke="#555" stroke-width="0.7" stroke-dasharray="1.8,1.5"/>
<rect x="380.10" y="496" width="2.00" height="5.4" fill="#e8222e"/>
<rect x="393.00" y="496" width="0.80" height="5.4" fill="#e84050"/>
<rect x="395.80" y="496" width="3.00" height="5.4" fill="#f3b8c0"/>
<rect x="407.80" y="496" width="0.80" height="5.4" fill="#e05060"/>
<rect x="415.60" y="496" width="2.10" height="5.4" fill="#e83040"/>
<rect x="421.00" y="496" width="3.90" height="5.4" fill="#e8222e"/>
<rect x="432.30" y="496" width="1.70" height="5.4" fill="#f0a0a8"/>
<rect x="434.60" y="496" width="1.80" height="5.4" fill="#e03040"/>
<rect x="439.30" y="496" width="1.70" height="5.4" fill="#e04858"/>
<rect x="442.20" y="496" width="0.80" height="5.4" fill="#f3c0c8"/>
<rect x="446.30" y="496" width="1.50" height="5.4" fill="#f2b0b8"/>
<rect x="453.90" y="496" width="2.10" height="5.4" fill="#e8222e"/>
<rect x="458.50" y="496" width="1.20" height="5.4" fill="#e83848"/>
<rect x="462.00" y="496" width="2.10" height="5.4" fill="#e8222e"/>
<rect x="465.00" y="496" width="1.70" height="5.4" fill="#e83040"/>
<rect x="479.30" y="496" width="4.30" height="5.4" fill="#e02838"/>
<rect x="484.80" y="496" width="2.00" height="5.4" fill="#e84050"/>
<rect x="497.00" y="496" width="1.80" height="5.4" fill="#f0a0b0"/>
<rect x="506.90" y="496" width="2.00" height="5.4" fill="#e05070"/>
<rect x="511.60" y="496" width="1.20" height="5.4" fill="#e04060"/>
<rect x="617.00" y="496" width="1.50" height="5.4" fill="#e83040"/>
<rect x="620.20" y="496" width="1.20" height="5.4" fill="#e84050"/>
<rect x="626.40" y="496" width="2.60" height="5.4" fill="#e8222e"/>
<rect x="519.80" y="502" width="1.70" height="5.2" fill="#f7901e"/>
<rect x="532.00" y="502" width="10.00" height="5.2" fill="#f7901e"/>
<rect x="544.00" y="502" width="1.80" height="5.2" fill="#f7901e"/>
<rect x="557.70" y="502" width="2.10" height="5.2" fill="#f7901e"/>
<rect x="567.70" y="502" width="1.80" height="5.2" fill="#f7901e"/>
<rect x="570.00" y="502" width="1.80" height="5.2" fill="#f7901e"/>
<rect x="572.90" y="502" width="1.80" height="5.2" fill="#f7901e"/>
<rect x="577.60" y="502" width="1.40" height="5.2" fill="#f7901e"/>
<rect x="579.80" y="502" width="1.90" height="5.2" fill="#f7901e"/>
<rect x="587.00" y="502" width="2.30" height="5.2" fill="#f7901e"/>
<rect x="589.90" y="502" width="1.70" height="5.2" fill="#f7901e"/>
<rect x="592.40" y="502" width="1.80" height="5.2" fill="#f7901e"/>
<rect x="595.00" y="502" width="1.90" height="5.2" fill="#f7901e"/>
<rect x="600.60" y="502" width="1.40" height="5.2" fill="#f7901e"/>
<rect x="602.80" y="502" width="1.70" height="5.2" fill="#f7901e"/>
<rect x="605.30" y="502" width="1.50" height="5.2" fill="#f7901e"/>
<rect x="607.20" y="502" width="1.30" height="5.2" fill="#f7901e"/>
<rect x="611.50" y="502" width="2.90" height="5.2" fill="#f7901e"/>
<rect x="368.90" y="507.6" width="2.10" height="5.4" fill="#2020f0"/>
<rect x="390.30" y="507.6" width="1.20" height="5.4" fill="#a8a8f0"/>
<rect x="406.00" y="507.6" width="1.00" height="5.4" fill="#6060d8"/>
<rect x="414.20" y="507.6" width="0.70" height="5.4" fill="#b0b0f0"/>
<rect x="417.20" y="507.6" width="0.70" height="5.4" fill="#c0c0f4"/>
<rect x="419.50" y="507.6" width="0.70" height="5.4" fill="#a0a0f0"/>
<rect x="420.50" y="507.6" width="0.70" height="5.4" fill="#c8c8f4"/>
<rect x="433.40" y="507.6" width="0.70" height="5.4" fill="#c0c0f0"/>
<rect x="443.90" y="507.6" width="2.70" height="5.4" fill="#1818f0"/>
<rect x="450.60" y="507.6" width="0.90" height="5.4" fill="#c0c0f0"/>
<rect x="460.90" y="507.6" width="1.30" height="5.4" fill="#c8c8f2"/>
<rect x="463.00" y="507.6" width="1.40" height="5.4" fill="#d0d0f4"/>
<rect x="473.70" y="507.6" width="1.00" height="5.4" fill="#7070e0"/>
<rect x="621.70" y="507.6" width="2.00" height="5.4" fill="#3030e8"/>
<rect x="630.10" y="507.6" width="1.20" height="5.4" fill="#d0d0f0"/>
<rect x="345.90" y="513.5" width="23.00" height="5.6" fill="#000"/>
<rect x="371.00" y="513.5" width="9.10" height="5.6" fill="#000"/>
<rect x="382.10" y="513.5" width="10.50" height="5.6" fill="#000"/>
<rect x="393.80" y="513.5" width="2.20" height="5.6" fill="#111"/>
<rect x="396.00" y="513.5" width="2.00" height="5.6" fill="#333"/>
<rect x="398.00" y="513.5" width="2.20" height="5.6" fill="#666"/>
<rect x="402.00" y="513.5" width="4.00" height="5.6" fill="#222"/>
<rect x="407.20" y="513.5" width="1.80" height="5.6" fill="#111"/>
<rect x="411.30" y="513.5" width="2.90" height="5.6" fill="#777"/>
<rect x="416.30" y="513.5" width="1.70" height="5.6" fill="#444"/>
<rect x="419.00" y="513.5" width="1.70" height="5.6" fill="#555"/>
<rect x="421.80" y="513.5" width="1.20" height="5.6" fill="#888"/>
<rect x="423.50" y="513.5" width="1.50" height="5.6" fill="#333"/>
<rect x="425.50" y="513.5" width="2.50" height="5.6" fill="#000"/>
<rect x="433.00" y="513.5" width="1.20" height="5.6" fill="#888"/>
<rect x="435.00" y="513.5" width="1.40" height="5.6" fill="#999"/>
<rect x="439.30" y="513.5" width="1.20" height="5.6" fill="#999"/>
<rect x="440.80" y="513.5" width="0.80" height="5.6" fill="#aaa"/>
<rect x="450.60" y="513.5" width="2.10" height="5.6" fill="#111"/>
<rect x="472.00" y="513.5" width="0.80" height="5.6" fill="#999"/>
<rect x="495.00" y="513.5" width="1.80" height="5.6" fill="#555"/>
<rect x="498.50" y="513.5" width="1.50" height="5.6" fill="#aaa"/>
<rect x="501.70" y="513.5" width="1.70" height="5.6" fill="#888"/>
<rect x="508.00" y="513.5" width="1.60" height="5.6" fill="#bbb"/>
<rect x="512.20" y="513.5" width="2.30" height="5.6" fill="#888"/>
<rect x="518.60" y="513.5" width="1.80" height="5.6" fill="#111"/>
<rect x="521.00" y="513.5" width="2.30" height="5.6" fill="#111"/>
<rect x="525.00" y="513.5" width="1.20" height="5.6" fill="#777"/>
<rect x="530.90" y="513.5" width="1.70" height="5.6" fill="#ccc"/>
<rect x="537.30" y="513.5" width="1.20" height="5.6" fill="#888"/>
<rect x="542.00" y="513.5" width="1.70" height="5.6" fill="#111"/>
<rect x="547.20" y="513.5" width="1.20" height="5.6" fill="#999"/>
<rect x="550.10" y="513.5" width="0.90" height="5.6" fill="#ccc"/>
<rect x="555.40" y="513.5" width="3.50" height="5.6" fill="#999"/>
<rect x="560.00" y="513.5" width="7.70" height="5.6" fill="#111"/>
<rect x="568.80" y="513.5" width="5.20" height="5.6" fill="#bbb"/>
<rect x="575.30" y="513.5" width="1.70" height="5.6" fill="#111"/>
<rect x="578.80" y="513.5" width="1.70" height="5.6" fill="#888"/>
<rect x="581.00" y="513.5" width="5.30" height="5.6" fill="#111"/>
<rect x="587.50" y="513.5" width="3.50" height="5.6" fill="#444"/>
<rect x="593.40" y="513.5" width="1.10" height="5.6" fill="#bbb"/>
<rect x="598.60" y="513.5" width="2.40" height="5.6" fill="#999"/>
<line x1="345.6" y1="522.1" x2="631.3" y2="522.1" stroke="#888" stroke-width="0.7"/>
<text x="634.00" y="500.36" font-size="8.6" fill="#e8202a" stroke="#e8202a" stroke-width="0.2" textLength="41.60" lengthAdjust="spacingAndGlyphs">DEL/Tekay</text>
<text x="634.00" y="507.56" font-size="8.6" fill="#f7941d" stroke="#f7941d" stroke-width="0.2" textLength="24.60" lengthAdjust="spacingAndGlyphs">CRWL</text>
<text x="634.40" y="514.56" font-size="8.6" fill="#3232f0" stroke="#3232f0" stroke-width="0.2" textLength="18.60" lengthAdjust="spacingAndGlyphs">SIRE</text>
<text x="634.40" y="522.56" font-size="8.6" fill="#1a1a1a" stroke="#1a1a1a" stroke-width="0.2" textLength="50.60" lengthAdjust="spacingAndGlyphs">Satellite DNA</text>
<text x="449.00" y="527.16" font-size="8.6" fill="#1a1a1a" stroke="#1a1a1a" stroke-width="0.2" textLength="30.60" lengthAdjust="spacingAndGlyphs">500,000</text>
<text x="567.00" y="527.16" font-size="8.6" fill="#1a1a1a" stroke="#1a1a1a" stroke-width="0.2" textLength="32.60" lengthAdjust="spacingAndGlyphs">1,00,000</text>
<line x1="346" y1="528.4" x2="417.4" y2="528.4" stroke="#111" stroke-width="0.9"/>
<line x1="546" y1="528.4" x2="571" y2="528.4" stroke="#111" stroke-width="0.9"/>
<line x1="585" y1="528.4" x2="587.4" y2="528.4" stroke="#111" stroke-width="0.9"/>
<text x="360.00" y="537.96" font-size="8.6" fill="#1a1a1a" stroke="#1a1a1a" stroke-width="0.2" textLength="41.00" lengthAdjust="spacingAndGlyphs">CL1 170bp</text>
<text x="528.00" y="537.96" font-size="8.6" fill="#1a1a1a" stroke="#1a1a1a" stroke-width="0.2" textLength="41.00" lengthAdjust="spacingAndGlyphs">CL10 78bp</text>
<text x="580.40" y="537.96" font-size="8.6" fill="#1a1a1a" stroke="#1a1a1a" stroke-width="0.2" textLength="31.60" lengthAdjust="spacingAndGlyphs">CL2 5pb</text>
</svg>
</body></html>
